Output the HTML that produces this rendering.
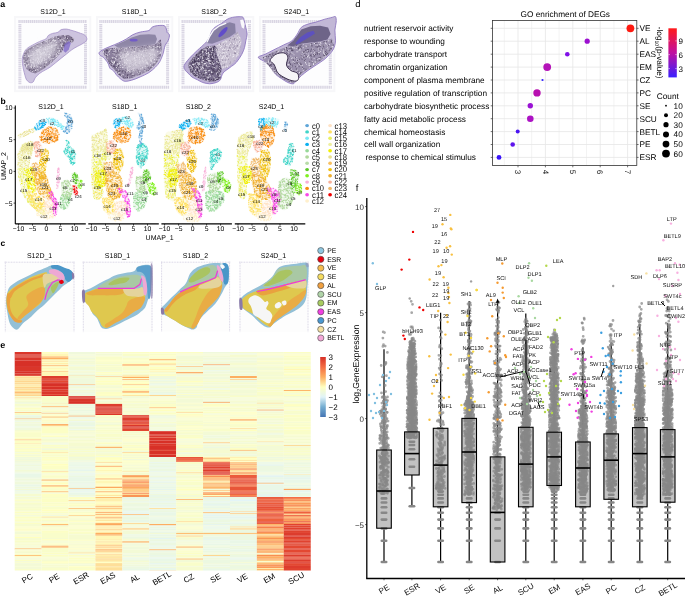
<!DOCTYPE html>
<html><head><meta charset="utf-8"><style>html,body{margin:0;padding:0;background:#fff;overflow:hidden;}svg{display:block;will-change:transform;text-rendering:geometricPrecision;}</style></head>
<body><svg width="685" height="596" viewBox="0 0 685 596" font-family='"Liberation Sans", sans-serif'>
<rect width="685" height="596" fill="#fff"/>
<defs><filter id="soft" x="-20%" y="-20%" width="140%" height="140%"><feGaussianBlur stdDeviation="3"/></filter></defs>
<text x="0.30" y="7.40" font-size="8.8" text-anchor="start" font-weight="bold" fill="#000" >a</text>
<text x="53.00" y="13.80" font-size="7" text-anchor="middle" fill="#000" >S12D_1</text>
<text x="134.50" y="13.80" font-size="7" text-anchor="middle" fill="#000" >S18D_1</text>
<text x="214.00" y="13.80" font-size="7" text-anchor="middle" fill="#000" >S18D_2</text>
<text x="296.50" y="13.80" font-size="7" text-anchor="middle" fill="#000" >S24D_1</text>
<rect x="14" y="16" width="77.3" height="76.2" fill="#f7f7f9"/><rect x="16" y="18" width="73.3" height="72.2" fill="#fdfdfe"/><path d="M18.4 21.4H87.0M18.4 87.2H87.0" stroke="#d9d5e3" stroke-width="3" stroke-dasharray="1.4 0.5" fill="none"/><path d="M19.9 23.9V84.7M85.5 23.9V84.7" stroke="#d9d5e3" stroke-width="3" stroke-dasharray="1.4 0.5" fill="none"/>
<rect x="96" y="16" width="77.30000000000001" height="76.2" fill="#f7f7f9"/><rect x="98" y="18" width="73.30000000000001" height="72.2" fill="#fdfdfe"/><path d="M99.3 21.4H169.1M99.3 87.2H169.1" stroke="#d9d5e3" stroke-width="3" stroke-dasharray="1.4 0.5" fill="none"/><path d="M100.8 23.9V84.7M167.6 23.9V84.7" stroke="#d9d5e3" stroke-width="3" stroke-dasharray="1.4 0.5" fill="none"/>
<rect x="178.1" y="16" width="76.20000000000002" height="76.2" fill="#f7f7f9"/><rect x="180.1" y="18" width="72.20000000000002" height="72.2" fill="#fdfdfe"/><path d="M181.5 21.4H250.9M181.5 87.2H250.9" stroke="#d9d5e3" stroke-width="3" stroke-dasharray="1.4 0.5" fill="none"/><path d="M183 23.9V84.7M249.4 23.9V84.7" stroke="#d9d5e3" stroke-width="3" stroke-dasharray="1.4 0.5" fill="none"/>
<rect x="258.9" y="16" width="76.5" height="76.2" fill="#f7f7f9"/><rect x="260.9" y="18" width="72.5" height="72.2" fill="#fdfdfe"/><path d="M262.5 21.4H331.8M262.5 87.2H331.8" stroke="#d9d5e3" stroke-width="3" stroke-dasharray="1.4 0.5" fill="none"/><path d="M264 23.9V84.7M330.3 23.9V84.7" stroke="#d9d5e3" stroke-width="3" stroke-dasharray="1.4 0.5" fill="none"/>
<path d="M22.3,58.2 C22.6,56.3 23.6,53.5 24.5,51.8 C25.4,50.1 26.1,49.2 27.7,48.0 C29.3,46.7 32.2,45.3 34.2,44.2 C36.2,43.1 37.6,42.4 39.6,41.5 C41.6,40.6 44.6,39.8 46.1,38.8 C47.5,37.8 47.2,36.5 48.2,35.6 C49.3,34.7 50.9,33.9 52.6,33.4 C54.2,32.9 56.5,33.0 58.0,32.3 C59.4,31.7 59.8,30.2 61.2,29.6 C62.7,29.1 65.0,29.0 66.6,29.1 C68.2,29.2 69.3,29.7 70.9,30.2 C72.6,30.6 74.7,31.2 76.3,31.8 C78.0,32.3 79.4,33.0 80.7,33.4 C81.9,33.9 82.9,33.8 83.9,34.5 C84.9,35.2 86.2,36.6 86.6,37.7 C87.0,38.8 86.9,39.9 86.1,41.0 C85.2,42.0 83.2,43.3 81.7,44.2 C80.3,45.1 79.0,45.5 77.4,46.4 C75.8,47.3 73.8,48.3 72.0,49.6 C70.2,50.9 68.4,52.5 66.6,53.9 C64.8,55.4 63.0,56.8 61.2,58.2 C59.4,59.7 57.6,61.1 55.8,62.6 C54.0,64.0 52.2,65.6 50.4,66.9 C48.6,68.2 46.8,69.1 45.0,70.1 C43.2,71.2 41.2,72.1 39.6,73.4 C38.0,74.6 36.4,76.3 35.3,77.7 C34.2,79.1 34.0,81.2 33.1,82.0 C32.2,82.8 31.0,82.9 29.9,82.6 C28.8,82.2 27.5,81.0 26.6,79.9 C25.8,78.7 25.6,77.3 25.0,75.5 C24.5,73.7 23.8,71.0 23.4,69.1 C23.0,67.1 22.7,65.5 22.5,63.6 C22.4,61.8 22.0,60.2 22.3,58.2Z" fill="#cdc4df"/>
<path d="M22.3,58.2 C22.6,56.3 23.6,53.5 24.5,51.8 C25.4,50.1 26.1,49.2 27.7,48.0 C29.3,46.7 32.2,45.3 34.2,44.2 C36.2,43.1 37.6,42.4 39.6,41.5 C41.6,40.6 44.6,39.8 46.1,38.8 C47.5,37.8 47.2,36.5 48.2,35.6 C49.3,34.7 50.9,33.9 52.6,33.4 C54.2,32.9 56.5,33.0 58.0,32.3 C59.4,31.7 59.8,30.2 61.2,29.6 C62.7,29.1 65.0,29.0 66.6,29.1 C68.2,29.2 69.3,29.7 70.9,30.2 C72.6,30.6 74.7,31.2 76.3,31.8 C78.0,32.3 79.4,33.0 80.7,33.4 C81.9,33.9 82.9,33.8 83.9,34.5 C84.9,35.2 86.2,36.6 86.6,37.7 C87.0,38.8 86.9,39.9 86.1,41.0 C85.2,42.0 83.2,43.3 81.7,44.2 C80.3,45.1 79.0,45.5 77.4,46.4 C75.8,47.3 73.8,48.3 72.0,49.6 C70.2,50.9 68.4,52.5 66.6,53.9 C64.8,55.4 63.0,56.8 61.2,58.2 C59.4,59.7 57.6,61.1 55.8,62.6 C54.0,64.0 52.2,65.6 50.4,66.9 C48.6,68.2 46.8,69.1 45.0,70.1 C43.2,71.2 41.2,72.1 39.6,73.4 C38.0,74.6 36.4,76.3 35.3,77.7 C34.2,79.1 34.0,81.2 33.1,82.0 C32.2,82.8 31.0,82.9 29.9,82.6 C28.8,82.2 27.5,81.0 26.6,79.9 C25.8,78.7 25.6,77.3 25.0,75.5 C24.5,73.7 23.8,71.0 23.4,69.1 C23.0,67.1 22.7,65.5 22.5,63.6 C22.4,61.8 22.0,60.2 22.3,58.2Z" fill="none" stroke="#a592c8" stroke-width="0.8"/>
<polygon points="22.9,57.2 25.6,50.7 32.0,46.4 39.6,43.1 47.2,39.9 54.7,36.6 63.4,35.0 69.9,35.6 74.2,38.8 73.1,42.0 69.9,43.1 65.5,45.3 61.2,52.8 55.8,58.2 50.4,63.6 45.0,68.0 39.6,71.2 35.3,73.4 31.0,72.3 26.6,69.1 23.9,63.6" fill="#8e829e" />
<clipPath id="cl1"><polygon points="22.9,57.2 25.6,50.7 32.0,46.4 39.6,43.1 47.2,39.9 54.7,36.6 63.4,35.0 69.9,35.6 74.2,38.8 73.1,42.0 69.9,43.1 65.5,45.3 61.2,52.8 55.8,58.2 50.4,63.6 45.0,68.0 39.6,71.2 35.3,73.4 31.0,72.3 26.6,69.1 23.9,63.6" fill="#000" /></clipPath><g clip-path="url(#cl1)"><path transform="scale(.1)" fill="none" stroke="#f6f4f8" stroke-width="9" stroke-linecap="round" stroke-opacity="1.0" d="M299 351h0m18 5h0m150-3h0m26 5h0m20 0h0m95-1h0m37-4h0m7 4h0m55 0h0m27-5h0m6 17h0m-7 13h0m-2 17h0m0-13h0m-5-5h0m-50 5h0m-22-7h0m-13 4h0m-12 11h0m-18-2h0m-20-18h0m-8 11h0m-17-15h0m-31 6h0m-1 23h0m-14-16h0m-3-2h0m-12 6h0m0-8h0m-13 5h0m-4-17h0m-1 19h0m-12-3h0m-1-9h0m-18-10h0m-6 25h0m-9-20h0m0-7h0m-11 29h0m-1-23h0m-6 18h0m-17-14h0m-3 3h0m-2 15h0m-29-21h0m-48 0h0m-17 20h0m-14-11h0m-16 14h0m-12-20h0m-1 8h0m-12-8h0m-2 24h0m-16-25h0m-5-9h0m31 56h0m3-7h0m3 16h0m6-8h0m21-13h0m0 24h0m14 6h0m23 0h0m4-9h0m2 6h0m4-15h0m10-5h0m34 12h0m2 10h0m16-6h0m12 8h0m41-27h0m0-9h0m10 12h0m10 21h0m2-13h0m2-16h0m15 5h0m5 22h0m13-6h0m13-19h0m10-5h0m11 9h0m3-6h0m8 0h0m7 20h0m38-21h0m7 27h0m0-20h0m17 28h0m10-32h0m11 3h0m10 8h0m22-9h0m11 2h0m15 10h0m0 14h0m9-32h0m7 8h0m0 24h0m0-18h0m6 22h0m-18 17h0m-12 5h0m-9-15h0m-10-2h0m-6 18h0m-8 9h0m-44-12h0m-1-1h0m-2 3h0m-3 2h0m-1-21h0m-3 25h0m-7-17h0m-12 1h0m0 29h0m-10-28h0m-18-3h0m-1 8h0m-8-6h0m-5 3h0m-20 5h0m-12 16h0m-3-18h0m-3 6h0m-20 1h0m-4-18h0m-16 18h0m-14-18h0m-3 31h0m-36-13h0m-14 10h0m-26-12h0m0 1h0m-11-1h0m-1-11h0m-9-10h0m-23 1h0m-1 34h0m-9-16h0m-5-16h0m-3 6h0m-18 2h0m-9 10h0m-9 14h0m-9-14h0m-11-19h0m-22 31h0m-7-29h0m5 68h0m14-3h0m5 9h0m8-23h0m30 14h0m30 8h0m31-12h0m8 3h0m2-1h0m6-7h0m2 14h0m7-18h0m8 4h0m3 10h0m4-27h0m3 14h0m9 4h0m32-9h0m11 3h0m5-3h0m23-4h0m2 23h0m6-2h0m5-24h0m24 30h0m33-23h0m2 11h0m5-13h0m10 22h0m16-26h0m7 24h0m8-2h0m1-1h0m6-20h0m14 11h0m21-16h0m4 21h0m36-15h0m8-9h0m1 22h0m33 15h0m8-26h0m4 27h0m1-24h0m-2 49h0m-3-8h0m-45-14h0m0 26h0m-6 3h0m-2 3h0m-6-29h0m-3 35h0m-3-28h0m-4 24h0m-7-18h0m-20 5h0m-9 10h0m-16-19h0m-5 1h0m-1-2h0m-13 3h0m-6-14h0m-1 31h0m-2 6h0m-3-37h0m-2 6h0m-10 7h0m-1 25h0m0-14h0m-21-6h0m-33 16h0m-14-10h0m-2-2h0m-14-18h0m-17 30h0m-3-11h0m-12-19h0m-9 5h0m-13-2h0m-9 10h0m-5 6h0m-6-4h0m0-15h0m-8-4h0m-10 4h0m-8 21h0m0-20h0m-4 29h0m-3-30h0m-18 9h0m-17 6h0m-18 15h0m-15 1h0m-20-2h0m-8-16h0m-27 7h0m-4-20h0m-3 40h0m14-3h0m29 3h0m11-3h0m14 34h0m3 1h0m2-9h0m2-6h0m17 14h0m44-16h0m8 18h0m0-9h0m18-19h0m3 1h0m5-4h0m2 21h0m10 3h0m23-3h0m14 7h0m24-21h0m4-6h0m6 1h0m6 19h0m10 11h0m10-14h0m17 1h0m16-15h0m0 13h0m11-20h0m12 13h0m7 23h0m3-18h0m2 17h0m9-28h0m9 22h0m5-31h0m0 4h0m39 4h0m9-3h0m23 7h0m6-10h0m3 23h0m9-22h0m3-4h0m1 0h0m12 14h0m15 0h0m7 29h0m-9 4h0m-5 30h0m-17-6h0m-10-6h0m0-3h0m-11 1h0m-15-22h0m-6 6h0m-4 28h0m-7-33h0m-3 31h0m-1-20h0m-30-11h0m-6 13h0m-3 14h0m-6-27h0m-9 3h0m-3 4h0m-1 27h0m-7-33h0m-2 11h0m-36 3h0m-2 0h0m-20-1h0m-2 14h0m-6-22h0m-6 13h0m-6 13h0m-5-14h0m0-13h0m-34 13h0m-3 5h0m-11 2h0m-6-21h0m-26-1h0m-4 7h0m-12 16h0m-9-12h0m-11 17h0m-4-9h0m-6-9h0m-4-16h0m-13 1h0m-21 29h0m-8-1h0m-1 0h0m-16-6h0m-8-4h0m0-13h0m-24 5h0m-17 4h0m-10 16h0m-3 6h0m-6-2h0m-3-32h0m-2 7h0m-9-9h0m7 58h0m4-1h0m25 8h0m3-11h0m1-9h0m0 9h0m0 17h0m19-30h0m1 5h0m13 19h0m11 12h0m2-29h0m2 19h0m0-17h0m1 29h0m20-7h0m1-4h0m3-18h0m3 12h0m25-6h0m6 13h0m30 7h0m3-2h0m43-23h0m14 10h0m2 17h0m13-5h0m25-3h0m2-22h0m40 31h0m24-27h0m3 1h0m2 1h0m8 18h0m3 0h0m7 5h0m48-34h0m25-1h0m12 14h0m0 5h0m12 13h0m12-3h0m1-20h0m5-7h0m18 9h0m-5 64h0m-20-13h0m-2-24h0m-14 13h0m-20 26h0m-5-24h0m-30 18h0m-35-15h0m-13-5h0m-17 7h0m-14 4h0m-16-19h0m-11 10h0m-1 9h0m-10-22h0m-4 27h0m-22-26h0m-9-2h0m-4 22h0m-13-24h0m-7 9h0m-28 20h0m-22 2h0m-1 3h0m-24-5h0m-3-13h0m-20 1h0m-3 9h0m-26-3h0m-4 12h0m-18-18h0m-6 7h0m-30 14h0m-5-26h0m-9-5h0m-7-4h0m-15 7h0m145 39h0m12-5h0m35 3h0m3-2h0m0 8h0m14-6h0m50 3h0m93-9h0m15 2h0m5 8h0m6-2h0m18-6h0m22-3h0m45 4h0m28 9h0m10-3h0"/><path transform="scale(.1)" fill="none" stroke="#4e425e" stroke-width="9" stroke-linecap="round" stroke-opacity="1.0" d="M250 358h0m138-6h0m47 3h0m9 3h0m25 0h0m1 0h0m42-2h0m14 0h0m10 1h0m46-1h0m49 4h0m45-8h0m9 1h0m48 15h0m-4 20h0m-1 7h0m-6 2h0m-4-5h0m-6-16h0m-13 14h0m-1-20h0m-13 11h0m-10 18h0m-9-36h0m0 12h0m-4 11h0m-54-7h0m-3 6h0m-8-5h0m-6-7h0m-7 22h0m-3-22h0m-2-3h0m-29 18h0m-36-9h0m-5 1h0m-4 8h0m-1-25h0m-2 12h0m-15-9h0m-2 17h0m-32-17h0m-25 26h0m-7 8h0m-1-13h0m-2-13h0m-10 4h0m-2 12h0m-2-8h0m-11-12h0m-8 28h0m-11-38h0m-1 13h0m-14 6h0m-1 17h0m-10-8h0m-8-21h0m-5 12h0m-15 6h0m-15-7h0m-12-15h0m-29 14h0m-17 21h0m-7-35h0m15 41h0m37 19h0m0 5h0m0 2h0m0 6h0m10-30h0m5 19h0m2-3h0m6 12h0m7-9h0m4-7h0m2-13h0m16 2h0m14-6h0m5 36h0m0-30h0m3 32h0m17-5h0m14-18h0m2 7h0m26 6h0m0-3h0m5-11h0m6 1h0m2 17h0m22 5h0m11-4h0m12-8h0m4-26h0m4 33h0m11-16h0m1-2h0m10-12h0m9 33h0m22-8h0m25 5h0m19 6h0m18-12h0m2 3h0m33-2h0m9 10h0m30-36h0m24 14h0m17-16h0m5 19h0m10-11h0m2 59h0m-6-20h0m-5-5h0m-5 21h0m-1-8h0m-17 5h0m-1-2h0m-9 6h0m-6 12h0m-1-19h0m-7 6h0m-7-22h0m-25 27h0m-1-17h0m-1 6h0m-10-17h0m-1 15h0m-11 1h0m-12 17h0m-6-12h0m-9-20h0m-2 37h0m-2-19h0m-6-7h0m-6-12h0m-8 18h0m-7 3h0m-1 5h0m-1 5h0m-12-9h0m-10 13h0m-8-3h0m-32-21h0m-18 3h0m-21 17h0m-11-22h0m-18 17h0m-9 2h0m-3-6h0m-40 14h0m-6-4h0m-3-31h0m0 38h0m-10-19h0m-44 8h0m-25-23h0m-3-3h0m-2 36h0m-17-10h0m-3 9h0m-19-18h0m-9 8h0m-8 27h0m16-4h0m3 13h0m1-6h0m15-9h0m17-1h0m1 33h0m17-31h0m15-7h0m11 20h0m16 4h0m10 10h0m3-16h0m3 19h0m38-35h0m4 23h0m19 12h0m2-6h0m4-14h0m16 6h0m1-4h0m9 17h0m1 1h0m25-14h0m4-14h0m3 10h0m10-5h0m2 12h0m0-14h0m11 19h0m2-24h0m8 17h0m6 11h0m0-25h0m3-4h0m1 4h0m13 21h0m8-12h0m0-7h0m5-12h0m2 17h0m3 12h0m5-25h0m4 14h0m3-5h0m6 22h0m10-20h0m18 15h0m1-20h0m11-2h0m5 7h0m21-2h0m8-3h0m10 2h0m3-5h0m10 12h0m4 9h0m6-29h0m8 16h0m3 18h0m2-22h0m9-2h0m8 18h0m11-23h0m5-1h0m2 69h0m-2-15h0m-11-19h0m-13 35h0m-2-17h0m-3-2h0m-23 14h0m-7 4h0m-2-8h0m-9-14h0m-4 1h0m-12 23h0m-19-5h0m-22 1h0m-32-19h0m-8-12h0m-16 13h0m-1 19h0m-17-20h0m-15 16h0m-2 11h0m-31-39h0m-1 3h0m-2 10h0m-1 1h0m0-8h0m-8 29h0m-16-28h0m-2 31h0m-41-34h0m-24 24h0m-4-16h0m-1-5h0m-3-1h0m-7 29h0m-7 1h0m-10-21h0m-6 8h0m-30-21h0m-51 11h0m-20 0h0m-1-5h0m-8 21h0m33 47h0m2-10h0m5 0h0m0-7h0m5-5h0m8 15h0m19 2h0m2-3h0m2-22h0m9 0h0m23 4h0m0 18h0m10-24h0m5 3h0m13 27h0m16-28h0m23 18h0m4-17h0m11-1h0m1-5h0m2 32h0m21-16h0m18-7h0m44 2h0m14 0h0m18-8h0m6 18h0m10 14h0m2-17h0m0 13h0m18-12h0m8-11h0m6 21h0m10-6h0m6-20h0m7 17h0m0 2h0m19-9h0m1-14h0m46 1h0m0 25h0m11 4h0m1-23h0m6 21h0m3-20h0m8 14h0m7 12h0m4-12h0m9 13h0m2 1h0m-3 11h0m-11 0h0m-19 18h0m-7-1h0m-2-19h0m-18 13h0m-2-18h0m-5 29h0m-17 0h0m-13-16h0m-53-10h0m-28 32h0m-16-36h0m-10 13h0m-5 3h0m-5-2h0m-8 12h0m-8-20h0m-12 8h0m-5 12h0m-10-26h0m-36 35h0m-6-21h0m-75-3h0m-17 8h0m-15-15h0m-8 2h0m-2 33h0m-25-20h0m-5-2h0m-20 19h0m-10-15h0m-2-17h0m-18 49h0m57-13h0m27 38h0m0-6h0m1 2h0m16 1h0m12-27h0m24 6h0m12-2h0m2 2h0m14 6h0m7-8h0m27-9h0m3 26h0m2-5h0m16-14h0m34 7h0m49-6h0m17-6h0m3 29h0m36-3h0m7-26h0m2 9h0m1 3h0m5 10h0m7-6h0m4-14h0m12 1h0m14 18h0m6 10h0m17-33h0m17 4h0m0-2h0m24 20h0m23 38h0m-6-9h0m-3 26h0m-38-6h0m-13-18h0m-73 21h0m-3-26h0m-5 13h0m-11-23h0m-7 11h0m-6 24h0m-6-6h0m-5-3h0m-3-8h0m-9-18h0m-19 20h0m-14-11h0m-14 1h0m-16 14h0m-13 11h0m-20-29h0m0 0h0m-23 24h0m-9-1h0m-19 8h0m-4-6h0m-28-29h0m-16 33h0m-1-28h0m-13 6h0m-4 1h0m-4 1h0m-8 6h0m-5 5h0m-4-8h0m-1-11h0m-15 6h0m0 5h0m-1-7h0m-4 15h0m-2-11h0m-7 13h0m-22-11h0m-3-9h0m-1 29h0m-17-20h0m-12 31h0m21 2h0m30-8h0m6 4h0m15 6h0m79-6h0m3-4h0m45 7h0m15-3h0m28 3h0m16-9h0m3 10h0m50-5h0m10-3h0m130 5h0m30-5h0m24 9h0"/></g>
<path d="M28.8,51.8 C30.2,48.9 34.6,47.8 37.4,46.4 C40.3,44.9 43.4,44.1 46.1,43.1 C48.8,42.1 51.5,40.8 53.6,40.4 C55.8,40.1 58.5,39.4 59.1,41.0 C59.6,42.5 58.0,47.1 56.9,49.6 C55.8,52.1 54.4,54.1 52.6,56.1 C50.8,58.1 48.2,59.9 46.1,61.5 C43.9,63.1 41.8,64.7 39.6,65.8 C37.4,66.9 34.9,68.3 33.1,68.0 C31.3,67.6 29.5,66.4 28.8,63.6 C28.1,60.9 27.4,54.6 28.8,51.8Z" fill="#e4e0ea" fill-opacity="0.8" filter="url(#soft)"/>
<polygon points="64.5,44.2 68.8,41.0 70.9,43.1 68.8,49.6 65.5,52.8 63.4,50.7" fill="#7d68c8" fill-opacity="0.75"/>
<path d="M99.2,52.6 C99.7,51.6 101.5,50.5 103.5,49.4 C105.5,48.3 108.5,47.2 111.0,46.1 C113.6,45.1 116.1,44.1 118.6,42.9 C121.1,41.7 123.8,40.5 126.2,39.1 C128.5,37.8 130.3,36.0 132.6,34.8 C135.0,33.6 137.5,32.8 140.2,32.1 C142.9,31.4 146.9,31.3 148.9,30.5 C150.8,29.7 150.7,28.1 152.1,27.2 C153.5,26.4 155.5,25.9 157.5,25.6 C159.5,25.4 162.5,25.2 164.0,25.6 C165.4,26.1 165.6,27.2 166.1,28.3 C166.7,29.5 166.7,31.6 167.2,32.6 C167.8,33.7 169.2,33.5 169.4,34.8 C169.6,36.1 169.0,38.4 168.3,40.2 C167.6,42.0 166.0,43.3 165.1,45.6 C164.2,47.9 163.8,51.5 162.9,54.2 C162.0,56.9 160.9,59.6 159.7,61.8 C158.4,64.0 157.1,65.4 155.3,67.2 C153.5,69.0 151.4,71.0 148.9,72.6 C146.3,74.2 143.1,75.7 140.2,76.9 C137.3,78.2 134.1,79.5 131.6,80.2 C129.0,80.9 126.9,81.4 125.1,81.3 C123.3,81.1 122.2,80.2 120.8,79.1 C119.3,78.0 117.7,76.2 116.4,74.8 C115.2,73.3 114.3,71.5 113.2,70.5 C112.1,69.4 110.9,69.6 110.0,68.3 C109.1,67.0 108.9,64.7 107.8,62.9 C106.7,61.1 104.7,58.7 103.5,57.5 C102.2,56.2 101.0,56.1 100.2,55.3 C99.5,54.5 98.6,53.6 99.2,52.6Z" fill="#c8bfda"/>
<path d="M99.2,52.6 C99.7,51.6 101.5,50.5 103.5,49.4 C105.5,48.3 108.5,47.2 111.0,46.1 C113.6,45.1 116.1,44.1 118.6,42.9 C121.1,41.7 123.8,40.5 126.2,39.1 C128.5,37.8 130.3,36.0 132.6,34.8 C135.0,33.6 137.5,32.8 140.2,32.1 C142.9,31.4 146.9,31.3 148.9,30.5 C150.8,29.7 150.7,28.1 152.1,27.2 C153.5,26.4 155.5,25.9 157.5,25.6 C159.5,25.4 162.5,25.2 164.0,25.6 C165.4,26.1 165.6,27.2 166.1,28.3 C166.7,29.5 166.7,31.6 167.2,32.6 C167.8,33.7 169.2,33.5 169.4,34.8 C169.6,36.1 169.0,38.4 168.3,40.2 C167.6,42.0 166.0,43.3 165.1,45.6 C164.2,47.9 163.8,51.5 162.9,54.2 C162.0,56.9 160.9,59.6 159.7,61.8 C158.4,64.0 157.1,65.4 155.3,67.2 C153.5,69.0 151.4,71.0 148.9,72.6 C146.3,74.2 143.1,75.7 140.2,76.9 C137.3,78.2 134.1,79.5 131.6,80.2 C129.0,80.9 126.9,81.4 125.1,81.3 C123.3,81.1 122.2,80.2 120.8,79.1 C119.3,78.0 117.7,76.2 116.4,74.8 C115.2,73.3 114.3,71.5 113.2,70.5 C112.1,69.4 110.9,69.6 110.0,68.3 C109.1,67.0 108.9,64.7 107.8,62.9 C106.7,61.1 104.7,58.7 103.5,57.5 C102.2,56.2 101.0,56.1 100.2,55.3 C99.5,54.5 98.6,53.6 99.2,52.6Z" fill="none" stroke="#8f78c0" stroke-width="0.9"/>
<polygon points="114.3,45.6 124.0,41.3 131.6,37.5 140.2,34.8 148.9,34.3 155.3,34.8 157.0,39.1 155.3,44.0 148.9,45.6 140.2,46.1 129.4,46.7 118.6,47.8" fill="#8e86a6" />
<polygon points="102.4,51.0 107.8,48.3 118.6,47.8 129.4,47.2 142.4,46.1 155.3,44.5 160.7,39.1 161.8,47.8 160.7,56.4 155.3,65.1 148.9,70.5 140.2,74.8 131.6,78.0 124.0,79.1 118.6,74.8 114.3,69.4 110.0,65.1 105.6,57.5" fill="#8a7e9c" />
<clipPath id="cl2"><polygon points="102.4,51.0 107.8,48.3 118.6,47.8 129.4,47.2 142.4,46.1 155.3,44.5 160.7,39.1 161.8,47.8 160.7,56.4 155.3,65.1 148.9,70.5 140.2,74.8 131.6,78.0 124.0,79.1 118.6,74.8 114.3,69.4 110.0,65.1 105.6,57.5" fill="#000" /></clipPath><g clip-path="url(#cl2)"><path transform="scale(.1)" fill="none" stroke="#f6f4f8" stroke-width="9" stroke-linecap="round" stroke-opacity="1.0" d="M1611 396h0m-58-5h0m-59 9h0m-90-7h0m-51-1h0m-17 6h0m-19 0h0m-99 0h0m-117 0h0m-5 0h0m-24-7h0m-20 7h0m-20 12h0m3-4h0m1 22h0m16 2h0m29-8h0m0-13h0m6 19h0m2-11h0m18-5h0m39 9h0m6-1h0m13 4h0m1-9h0m20-6h0m8 13h0m5-4h0m2-6h0m37 8h0m8-1h0m3-2h0m42 9h0m19-5h0m1 13h0m1-30h0m12 1h0m8 22h0m1 12h0m1-15h0m5-8h0m2 5h0m2-2h0m3-14h0m4 9h0m8-10h0m26 14h0m3-10h0m6-1h0m29 21h0m10-26h0m6 21h0m5-3h0m9-5h0m3 3h0m10 4h0m13 11h0m2-5h0m4-21h0m17 15h0m8 1h0m20 1h0m5 1h0m22-24h0m15 21h0m6-19h0m8 28h0m13 3h0m13-7h0m-10 41h0m-5 5h0m-9-10h0m-6-21h0m-6 25h0m-2 2h0m-5 4h0m-13 5h0m-12-9h0m-7-2h0m-20-20h0m-1 28h0m-5-4h0m-15-5h0m0-20h0m-46 1h0m-6 8h0m-12-2h0m-9 24h0m-53-36h0m-7 33h0m-5-22h0m-6-10h0m-3 10h0m-5 1h0m-2 25h0m-24-15h0m-22 12h0m-23 2h0m-6-18h0m-2 4h0m0-20h0m-1 5h0m-32-2h0m-5 12h0m-27-6h0m-41 6h0m-1 2h0m-15-4h0m-5 8h0m-20-15h0m-2-9h0m-6 26h0m-35 12h0m-1-31h0m-18 30h0m-16-2h0m-7-12h0m-4 19h0m10 32h0m29-30h0m22 4h0m5 28h0m6-10h0m5-2h0m4-9h0m28-6h0m3 26h0m4-24h0m8 22h0m2-12h0m3-16h0m22 31h0m1-33h0m4 18h0m12-12h0m7 0h0m8-5h0m36 7h0m3 18h0m9-22h0m8 1h0m11 29h0m31-27h0m10 14h0m21 12h0m6-6h0m4 10h0m2-22h0m6-10h0m22 2h0m4-3h0m11 22h0m6 5h0m2-14h0m20 17h0m15-15h0m18-13h0m1 16h0m11 12h0m2-18h0m32-16h0m7 9h0m9 10h0m9-9h0m5 14h0m2-15h0m7-4h0m36 30h0m2-3h0m22-3h0m5-16h0m5 37h0m-5-3h0m-3-4h0m-10 12h0m-44 19h0m-6-13h0m-19 15h0m-2-16h0m-14 8h0m-6 5h0m-3-21h0m-34-2h0m-10-7h0m-24 28h0m-1-7h0m-14-4h0m-3 4h0m-23-14h0m-3 18h0m-24 8h0m-15-5h0m-3-27h0m-3-4h0m-21 1h0m-8 23h0m-26-5h0m0-1h0m-10 2h0m0 4h0m-6-22h0m-9 14h0m0-4h0m-2 22h0m-30-8h0m-1-27h0m-18 2h0m-18 29h0m-3-6h0m-22-10h0m-6-14h0m-7 12h0m-11 17h0m-5-13h0m-14-6h0m-28 8h0m-12-20h0m-8 35h0m-7-11h0m-14-4h0m-10 15h0m-10-35h0m-1 0h0m-11 5h0m24 68h0m2-33h0m4 8h0m24 12h0m32 9h0m10-13h0m0-3h0m7 7h0m13-5h0m14 9h0m4 15h0m5-37h0m8 33h0m19-8h0m17-23h0m10 18h0m4 6h0m7-11h0m0-16h0m5 5h0m8 3h0m2 19h0m9-19h0m7-5h0m7 30h0m5-34h0m60 29h0m13-13h0m2 9h0m22-10h0m3-6h0m22 4h0m3 19h0m28-12h0m10-12h0m4-4h0m25 34h0m34-33h0m8 24h0m4-12h0m18 4h0m12-6h0m6 19h0m2 2h0m21-5h0m2-19h0m13 25h0m18-19h0m6 9h0m5 27h0m-22 13h0m-3 9h0m-14 2h0m-9-7h0m-2 4h0m-7-9h0m-9-3h0m-15 0h0m-1 15h0m-13-25h0m-1-13h0m-4 8h0m-5-3h0m-18 5h0m-10 23h0m-4 5h0m-3-13h0m-8-3h0m-3 10h0m-3-31h0m-24 17h0m-4-5h0m-3-9h0m-27 12h0m-7 15h0m-34-2h0m-2-27h0m-6 25h0m-10-26h0m-33 8h0m-9 28h0m-8-36h0m-15 3h0m-10 29h0m-7-11h0m-10-15h0m-2 22h0m-3-7h0m-43-9h0m-4 19h0m-4 0h0m-19 6h0m-24-22h0m-3 7h0m-2-12h0m-2 16h0m-1-5h0m-1-10h0m-3 23h0m-1-7h0m-13-3h0m-4-6h0m-3-11h0m-1 13h0m-14 11h0m-31-29h0m-42 67h0m31 6h0m8 0h0m9-19h0m7 4h0m45-16h0m36 12h0m0 17h0m8-25h0m8 18h0m0-27h0m16 31h0m5 3h0m5-21h0m17-11h0m3 32h0m3-1h0m13-20h0m48 10h0m12 6h0m24-7h0m13-8h0m7-11h0m12 12h0m3-9h0m31 1h0m10 11h0m22 16h0m27-9h0m22-1h0m8-15h0m20 2h0m2-10h0m23 22h0m21-4h0m6 16h0m5-34h0m0 15h0m15 4h0m38 19h0m-7 30h0m-5-27h0m-4 12h0m-1 25h0m-16-8h0m-7-18h0m-3 13h0m-27 11h0m-6-7h0m-30 6h0m-23-20h0m-21 21h0m-11-9h0m-2-25h0m-3 23h0m-25-19h0m-14 1h0m-8 26h0m-20-26h0m-32 23h0m-2-20h0m-10 9h0m-4-15h0m-20 9h0m-7-6h0m-2 31h0m-4-21h0m-5 15h0m-8-10h0m-7 7h0m-3-31h0m0 29h0m-1-13h0m-10 23h0m-33-1h0m-24-19h0m-5-18h0m-16 19h0m-33 15h0m-9-11h0m-15-24h0m-13 26h0m-18-6h0m-2-14h0m-7-5h0m-30 26h0m-5 4h0m-1-14h0m-15 32h0m6-1h0m19 13h0m24-7h0m19-5h0m6 8h0m4-1h0m34 23h0m12-38h0m1 17h0m3-16h0m2 17h0m17-13h0m3 6h0m3-5h0m9 2h0m17 28h0m4-14h0m12 4h0m70 1h0m7-4h0m12-22h0m6 19h0m1-11h0m2 14h0m49-19h0m9 12h0m4-13h0m19 7h0m32 6h0m1-1h0m8 10h0m1 13h0m17-13h0m11-25h0m3 15h0m0-12h0m10 28h0m6-13h0m43 0h0m12-17h0m12 21h0m3 15h0m8 0h0m13-32h0m16 26h0m2-4h0m3-26h0m-14 65h0m-5-6h0m-18 1h0m-27-3h0m-10-12h0m-49 6h0m0-11h0m-19 26h0m-7-19h0m-26 9h0m-39 10h0m-32-5h0m-3-21h0m-9 15h0m-3-15h0m-23 2h0m-40 20h0m-3-13h0m-32-1h0m-34 18h0m-5-11h0m-9 12h0m-2-1h0m-64-23h0m-6 19h0m-1-21h0m-7 25h0m-1-18h0m-2-8h0m-5 18h0m-12 3h0m-21-19h0m-10-1h0m-37 3h0"/><path transform="scale(.1)" fill="none" stroke="#443858" stroke-width="9" stroke-linecap="round" stroke-opacity="1.0" d="M1421 394h0m-114 5h0m-128-3h0m0 2h0m-9-3h0m-1 1h0m-21 3h0m-11-4h0m-104 44h0m23-33h0m8 26h0m2-5h0m8-21h0m15 23h0m12 3h0m71-13h0m21 13h0m1-7h0m19-24h0m7 14h0m30 7h0m28-5h0m15 13h0m2-27h0m41 15h0m33 2h0m14 7h0m11 11h0m11-7h0m4-5h0m5-17h0m3 22h0m12-2h0m3-24h0m0-3h0m12 27h0m2-1h0m24 1h0m3 6h0m8-33h0m12 8h0m0 25h0m3-20h0m2 6h0m2-12h0m2 28h0m2-33h0m20 11h0m12-5h0m2-9h0m15 37h0m23-37h0m12 5h0m14 31h0m3-31h0m13 34h0m-12 13h0m-22 5h0m0-17h0m-1 38h0m-12-1h0m-13-32h0m-1 14h0m-6 8h0m-22 10h0m-1-1h0m-11-7h0m-42-15h0m-4-14h0m-5 31h0m-19 0h0m-22-1h0m-3-4h0m-10-15h0m-10 5h0m-13 19h0m-10-33h0m-13 9h0m-3 14h0m-19 11h0m-9-33h0m-9 34h0m-7-28h0m-8 4h0m-14-7h0m-4 18h0m-11-2h0m0 12h0m-4-9h0m-7-24h0m-16 0h0m-8 7h0m-5 16h0m-19-24h0m-1 8h0m-6 26h0m-11-6h0m-15-14h0m-13-4h0m-1 2h0m-5 16h0m-20-8h0m-2-5h0m-5 24h0m-4-11h0m-4-17h0m-15 21h0m-2-8h0m-29-1h0m-7 15h0m-2-6h0m-30-11h0m-7 9h0m-4-23h0m-12 33h0m6 8h0m6-2h0m7 29h0m11-27h0m4 12h0m7 7h0m2-6h0m1 8h0m37-4h0m18-24h0m49 29h0m0-3h0m2 9h0m16-13h0m3 15h0m6-36h0m6 27h0m2-12h0m18 17h0m26-15h0m61 6h0m27-2h0m1-2h0m5-3h0m20 13h0m4-21h0m3 21h0m3 3h0m8-25h0m11 22h0m10-18h0m0 7h0m7-14h0m7 5h0m20 1h0m2 21h0m14-16h0m10 17h0m1 3h0m7-31h0m3 0h0m23-3h0m17-1h0m31-1h0m5 6h0m2 0h0m29 0h0m5 11h0m19-5h0m8 62h0m-3-21h0m-7 11h0m-1 11h0m-13-9h0m-5 12h0m0-5h0m-61 1h0m-32 0h0m-5-6h0m-19-9h0m-10 0h0m-9-14h0m-3 10h0m-21 11h0m-7 3h0m-48 4h0m-24-9h0m-1-18h0m-15 28h0m-4-13h0m-19 9h0m-6-19h0m-9 15h0m-33-25h0m-7 3h0m-5 9h0m-4-5h0m-4-5h0m-1-1h0m-20 2h0m-8 18h0m-24 12h0m0-17h0m-3-11h0m-9 2h0m-8-3h0m-1 4h0m-3 5h0m-12-2h0m-13-7h0m-16 2h0m-61 3h0m-3 25h0m-15-5h0m-3 25h0m9 15h0m57 1h0m4-13h0m17 13h0m16-33h0m29 28h0m1-17h0m13 9h0m1-13h0m2 0h0m9 28h0m0 5h0m3-2h0m3 2h0m18-5h0m4-31h0m1 21h0m14-20h0m4 20h0m0-24h0m7 27h0m22-19h0m13-4h0m74 19h0m19 4h0m24-4h0m1 12h0m12-32h0m7 1h0m9 11h0m8 16h0m13-19h0m2 7h0m7 1h0m1 11h0m4-21h0m16-2h0m7 12h0m9-14h0m10-5h0m13 38h0m13-30h0m23 10h0m14-16h0m2 23h0m16-1h0m15-7h0m1 44h0m-24 8h0m0-1h0m-15-10h0m-1-2h0m-3-1h0m-4 23h0m-7-10h0m-19 10h0m-32-8h0m-15-24h0m0 4h0m-6 6h0m-3-15h0m-10 2h0m-39 4h0m-66 27h0m-25-11h0m-7-23h0m-9 33h0m-1-19h0m-10-6h0m-83 20h0m-60-5h0m-12-6h0m0 15h0m-5-11h0m-2 15h0m-5-37h0m-34 29h0m-3-1h0m-8-7h0m-9 13h0m-3-24h0m-17 19h0m-11-2h0m-10 6h0m-18-1h0m-8 22h0m16-9h0m4-4h0m1 5h0m13 14h0m14 7h0m23 3h0m4 9h0m11-25h0m7 20h0m16-13h0m6 3h0m1-13h0m8 14h0m0 12h0m17-16h0m8 11h0m9-17h0m1 2h0m3 7h0m10 14h0m44-31h0m14 17h0m13-5h0m19-18h0m16 10h0m0 25h0m4-31h0m11 18h0m3-7h0m1 13h0m17-6h0m4-14h0m3 3h0m11 8h0m12-20h0m16 5h0m8 1h0m5 10h0m9 14h0m11-27h0m47 9h0m6 6h0m7 15h0m1-13h0m4 16h0m23-2h0m13 2h0m2-26h0m16-7h0m1 14h0m11 11h0m37-16h0m8 13h0m4-25h0m0 28h0m4 13h0m-2 16h0m-2-8h0m-8 28h0m-22-7h0m-4 2h0m-6-27h0m-27 34h0m-5-26h0m0-6h0m-11 6h0m-17-5h0m-10 1h0m-1 13h0m-2 5h0m-19 2h0m-23-12h0m-1-10h0m-60 22h0m-3-5h0m-4-15h0m-4 4h0m-2 1h0m-20 18h0m-4-17h0m-33 10h0m-6-14h0m-24 23h0m-15-14h0m-12-7h0m-7 18h0m-12-5h0m-8 11h0m-1-8h0m-6 9h0m0-11h0m-13-21h0m-3 16h0m-10 7h0m-6 2h0m-21-8h0m-16 10h0m-21-16h0m-18-4h0m-2 19h0m-7-5h0m-11-23h0m-6 18h0m0-18h0m-3 24h0m-11-4h0m-9-8h0m-3-12h0m-3 21h0m-13-21h0m-8 29h0m-13-29h0m9 65h0m15 8h0m21-24h0m7 10h0m10-9h0m6 14h0m1-9h0m3-18h0m9 38h0m13-39h0m7 9h0m9 12h0m1 10h0m17-10h0m5 12h0m9-19h0m13-13h0m10 23h0m1 2h0m7-7h0m5 10h0m48-10h0m2-19h0m4 1h0m1 0h0m15 28h0m1 3h0m7-7h0m19 0h0m4 2h0m4-12h0m5-13h0m3 16h0m5 20h0m5-31h0m2 30h0m13-5h0m45-29h0m7 18h0m2 18h0m5-35h0m7 14h0m5 14h0m21-11h0m39 18h0m18-27h0m12 1h0m11-13h0m47 0h0m23 24h0m11 14h0m9-26h0m12 28h0m-3 24h0m-15-15h0m-6 19h0m-1-6h0m-10 1h0m-22-2h0m-8 0h0m-11 2h0m-31 6h0m-2-22h0m-2 12h0m-28 7h0m-12-1h0m-6-8h0m-12-2h0m-8-7h0m-8-1h0m-43 22h0m-13-15h0m-21 13h0m-21-5h0m-11-3h0m-19 6h0m-7-3h0m-19-10h0m-1 5h0m-19-5h0m-19-1h0m-43-2h0m-10 11h0m-8 10h0m-6-18h0m-4-10h0m-46-1h0m-34 2h0m-16 0h0m-5 21h0m-7-2h0m-20-6h0"/></g>
<path d="M118.6,51.0 C120.4,49.9 125.4,50.3 129.4,49.9 C133.4,49.6 138.1,49.4 142.4,48.8 C146.7,48.3 152.6,46.3 155.3,46.7 C158.0,47.0 158.2,49.0 158.6,51.0 C158.9,53.0 158.8,56.2 157.5,58.6 C156.2,60.9 153.5,63.3 151.0,65.1 C148.5,66.9 145.4,68.3 142.4,69.4 C139.3,70.5 135.5,71.5 132.6,71.5 C129.8,71.5 127.1,70.8 125.1,69.4 C123.1,67.9 121.8,65.1 120.8,62.9 C119.7,60.7 119.0,58.4 118.6,56.4 C118.2,54.4 116.8,52.1 118.6,51.0Z" fill="#e4e0ea" fill-opacity="0.75" filter="url(#soft)"/>
<ellipse cx="133.7" cy="40.2" rx="4" ry="1.4" fill="#6a50d0" fill-opacity="0.8"/>
<path d="M184.1,65.7 C184.7,63.7 187.2,60.9 189.4,58.3 C191.7,55.7 194.8,52.8 197.5,50.2 C200.2,47.7 203.5,45.1 205.5,42.9 C207.5,40.6 208.6,38.7 209.6,36.8 C210.6,34.9 210.7,33.0 211.6,31.4 C212.5,29.9 213.2,28.8 214.9,27.4 C216.6,26.1 219.6,24.7 221.6,23.4 C223.7,22.1 225.2,20.4 227.0,19.4 C228.8,18.4 230.4,17.8 232.4,17.4 C234.4,16.9 237.3,16.7 239.1,16.7 C240.9,16.7 242.2,16.5 243.1,17.4 C244.0,18.3 244.0,20.4 244.5,22.1 C244.9,23.7 245.4,25.4 245.8,27.4 C246.2,29.4 247.1,31.9 247.1,34.1 C247.1,36.4 246.2,38.6 245.8,40.8 C245.4,43.1 245.1,45.3 244.5,47.6 C243.8,49.8 243.1,51.8 241.8,54.3 C240.4,56.7 238.4,60.1 236.4,62.3 C234.4,64.6 231.9,65.9 229.7,67.7 C227.5,69.5 224.5,71.0 223.0,73.1 C221.4,75.1 221.4,78.2 220.3,79.8 C219.2,81.3 218.1,81.8 216.3,82.5 C214.5,83.1 211.8,83.8 209.6,83.8 C207.3,83.8 204.9,83.1 202.8,82.5 C200.8,81.8 199.3,80.7 197.5,79.8 C195.7,78.9 193.7,78.2 192.1,77.1 C190.5,76.0 189.2,74.2 188.1,73.1 C187.0,71.9 186.1,71.6 185.4,70.4 C184.7,69.1 183.4,67.7 184.1,65.7Z" fill="#bcb0d4"/>
<path d="M184.1,65.7 C184.7,63.7 187.2,60.9 189.4,58.3 C191.7,55.7 194.8,52.8 197.5,50.2 C200.2,47.7 203.5,45.1 205.5,42.9 C207.5,40.6 208.6,38.7 209.6,36.8 C210.6,34.9 210.7,33.0 211.6,31.4 C212.5,29.9 213.2,28.8 214.9,27.4 C216.6,26.1 219.6,24.7 221.6,23.4 C223.7,22.1 225.2,20.4 227.0,19.4 C228.8,18.4 230.4,17.8 232.4,17.4 C234.4,16.9 237.3,16.7 239.1,16.7 C240.9,16.7 242.2,16.5 243.1,17.4 C244.0,18.3 244.0,20.4 244.5,22.1 C244.9,23.7 245.4,25.4 245.8,27.4 C246.2,29.4 247.1,31.9 247.1,34.1 C247.1,36.4 246.2,38.6 245.8,40.8 C245.4,43.1 245.1,45.3 244.5,47.6 C243.8,49.8 243.1,51.8 241.8,54.3 C240.4,56.7 238.4,60.1 236.4,62.3 C234.4,64.6 231.9,65.9 229.7,67.7 C227.5,69.5 224.5,71.0 223.0,73.1 C221.4,75.1 221.4,78.2 220.3,79.8 C219.2,81.3 218.1,81.8 216.3,82.5 C214.5,83.1 211.8,83.8 209.6,83.8 C207.3,83.8 204.9,83.1 202.8,82.5 C200.8,81.8 199.3,80.7 197.5,79.8 C195.7,78.9 193.7,78.2 192.1,77.1 C190.5,76.0 189.2,74.2 188.1,73.1 C187.0,71.9 186.1,71.6 185.4,70.4 C184.7,69.1 183.4,67.7 184.1,65.7Z" fill="none" stroke="#8f78c0" stroke-width="0.9"/>
<polygon points="206.2,42.9 210.2,36.8 213.6,29.4 220.3,25.4 229.7,22.3 235.1,23.7 235.7,32.8 229.7,37.1 220.3,40.8 212.2,43.8" fill="#8880a4" />
<polygon points="214.9,45.5 224.3,40.8 232.4,36.8 237.7,31.4 241.8,40.8 239.1,54.3 233.7,62.3 227.0,67.7 221.6,69.0 219.0,61.0 216.3,52.9" fill="#c8c0d2" />
<clipPath id="cl3"><polygon points="214.9,45.5 224.3,40.8 232.4,36.8 237.7,31.4 241.8,40.8 239.1,54.3 233.7,62.3 227.0,67.7 221.6,69.0 219.0,61.0 216.3,52.9" fill="#000" /></clipPath><g clip-path="url(#cl3)"><path transform="scale(.1)" fill="none" stroke="#f6f4f8" stroke-width="9" stroke-linecap="round" stroke-opacity="1.0" d="M2232 315h0m-29 1h0m-27 0h0m-9 39h0m16 2h0m3-3h0m14-9h0m9 2h0m79-19h0m2 21h0m1-3h0m8 5h0m26-26h0m3 19h0m46 6h0m26 29h0m-1-3h0m-11-14h0m-14 18h0m-12 15h0m-5 3h0m-83-21h0m-26-2h0m-6-8h0m-10-5h0m-19 18h0m-4 2h0m-12-5h0m-5-11h0m-32 1h0m7 54h0m1 13h0m29-6h0m22 1h0m12-8h0m1-1h0m18-3h0m2-9h0m12 12h0m4-7h0m34 24h0m2-13h0m3 14h0m28-3h0m32-4h0m1-10h0m16-2h0m10-12h0m5 26h0m7-6h0m4-4h0m-10 22h0m-6 12h0m-4 14h0m-19 6h0m-14-32h0m-32 15h0m-8-4h0m-18-12h0m-1 0h0m-11 16h0m-17-9h0m-1 6h0m-22-12h0m-31 21h0m-7-20h0m-4 29h0m-5-22h0m-2-8h0m-7 0h0m-12 9h0m-27-8h0m7 40h0m0 25h0m10-23h0m3 9h0m9-3h0m9 22h0m34-21h0m15-7h0m1 1h0m3 25h0m6-19h0m2-5h0m3 28h0m21-25h0m17 4h0m20-12h0m15 12h0m14 13h0m12 3h0m1 6h0m25-31h0m1-3h0m34 2h0m-10 57h0m-14-6h0m-4 10h0m0 9h0m-4-5h0m-1-30h0m-6 16h0m-5 20h0m0-18h0m-29 9h0m-10-4h0m-27 6h0m-4-14h0m-28 3h0m-7-17h0m-15 31h0m-5-23h0m-6-5h0m-6 24h0m-2-23h0m-5 4h0m-10 6h0m-8 17h0m-3-14h0m-4-12h0m-14 27h0m0-11h0m-8 8h0m-30-31h0m33 63h0m14 7h0m1 8h0m0-36h0m21 22h0m7 3h0m0-15h0m7-4h0m0-2h0m14 13h0m10-17h0m9 16h0m8 9h0m12-9h0m38-9h0m13-5h0m2-4h0m25 0h0m10 25h0m4-2h0m10 10h0m0-9h0m3-21h0m5 18h0m2-2h0m14 2h0m3-20h0m2 4h0m-5 58h0m-11-6h0m-2-13h0m-2 14h0m-7 15h0m-4 2h0m-11-34h0m-6 27h0m-11-28h0m-4 25h0m-5-10h0m-3 10h0m-78-14h0m-5 10h0m-13-3h0m-10 20h0m-10-22h0m-11-10h0m-20-1h0m-11 25h0m-4-24h0m-3 12h0m-2 18h0m-4-36h0m-13 3h0m-2 17h0m0-20h0m-3 35h0m-2-35h0m-1 59h0m0 11h0m12-6h0m5-17h0m1 2h0m16 21h0m8-8h0m13-1h0m4-20h0m18 36h0m3-8h0m22-3h0m15-8h0m5 4h0m0 11h0m20-13h0m30-8h0m3-3h0m3 20h0m1-16h0m10-4h0m16 22h0m27-16h0m24 24h0m-119 4h0m-19 0h0m-48 6h0m-8 0h0m-37-8h0"/><path transform="scale(.1)" fill="none" stroke="#8a7e9a" stroke-width="9" stroke-linecap="round" stroke-opacity="1.0" d="M2329 319h0m-170 10h0m2 4h0m21 0h0m16 12h0m10 6h0m28-11h0m27 1h0m2 18h0m27-30h0m0 31h0m10-2h0m25-28h0m10 13h0m6-1h0m7-10h0m6 5h0m4 3h0m10-7h0m1-11h0m8 36h0m35-20h0m-46 58h0m-19-10h0m-1 14h0m-2-7h0m-3-5h0m-11-26h0m-3 34h0m-25-12h0m-47-10h0m-14 9h0m-4-9h0m-3 19h0m-5-11h0m-13-17h0m-14 10h0m-4-9h0m-2 12h0m-22-2h0m-5-1h0m-2-8h0m-8 6h0m24 46h0m13-13h0m5 10h0m4 23h0m2-17h0m2-14h0m83-5h0m17 20h0m86-3h0m10 52h0m-33-13h0m-2-3h0m-3 13h0m-25-7h0m-12 12h0m-10-34h0m-3 17h0m-16-9h0m-3 31h0m-4-7h0m-38-5h0m-5-18h0m-16-7h0m-31 2h0m-35 1h0m-2 55h0m3-7h0m66 20h0m8-32h0m3 32h0m34-9h0m3 0h0m15-20h0m40 9h0m14-11h0m47 33h0m4 2h0m11-18h0m-10 36h0m-4 10h0m-11 1h0m-1-12h0m-36 1h0m-4-7h0m-3 9h0m-3-8h0m-49 12h0m-59 2h0m-17 5h0m-11-10h0m-17 20h0m0-9h0m-14 42h0m1 7h0m20 1h0m24 1h0m44-38h0m6-1h0m13 31h0m97-23h0m23 5h0m-1 59h0m-1 6h0m-1-13h0m-30-2h0m-31-14h0m-36 11h0m-6 16h0m-47-36h0m-25 1h0m-26 17h0m-8 9h0m-4-10h0m-3-1h0m-34-3h0m10 57h0m33-22h0m0-2h0m29 5h0m15-6h0m2 8h0m5-13h0m23 34h0m35-6h0m3 6h0m7 3h0m18-31h0m24 31h0m9-2h0m45 3h0m3-24h0m0-8h0m2 17h0m-6 18h0m-228 3h0m-9 5h0m-23-3h0"/></g>
<polygon points="188.1,63.7 193.4,57.0 200.2,50.2 206.9,46.2 214.9,45.5 217.6,48.9 216.3,54.3 219.0,61.0 221.6,67.7 220.3,78.4 216.3,81.1 209.6,81.8 202.8,79.8 196.1,77.1 190.8,73.1 188.8,67.7" fill="#7a6e8e" />
<clipPath id="cl4"><polygon points="188.1,63.7 193.4,57.0 200.2,50.2 206.9,46.2 214.9,45.5 217.6,48.9 216.3,54.3 219.0,61.0 221.6,67.7 220.3,78.4 216.3,81.1 209.6,81.8 202.8,79.8 196.1,77.1 190.8,73.1 188.8,67.7" fill="#000" /></clipPath><g clip-path="url(#cl4)"><path transform="scale(.1)" fill="none" stroke="#f6f4f8" stroke-width="9" stroke-linecap="round" stroke-opacity="1.0" d="M2213 473h0m-16-17h0m-5 4h0m-4 18h0m-6-17h0m-6 6h0m-39-4h0m-12 2h0m-10 4h0m-12 4h0m-6 2h0m0-8h0m-2 10h0m-6-17h0m-17 14h0m-9-2h0m-17 5h0m-14-8h0m-1-9h0m0 11h0m-15 4h0m-27-11h0m-2 13h0m-22 0h0m-41-17h0m-2 12h0m0 4h0m-12-20h0m-2 18h0m-2-18h0m-10 5h0m-1-2h0m-1 14h0m-8-14h0m-3 41h0m4 14h0m3-15h0m4 17h0m16-30h0m6 5h0m17 15h0m5 9h0m7-35h0m11 29h0m5-9h0m3 3h0m1 14h0m4-36h0m5 37h0m44-37h0m1 17h0m2 14h0m6 2h0m2-17h0m0 14h0m5-7h0m15-8h0m11-5h0m1 7h0m1 9h0m3 5h0m19-24h0m21-4h0m18 19h0m2-1h0m1-11h0m0 8h0m3-15h0m4 18h0m19-8h0m2 3h0m1 2h0m2-16h0m6 30h0m2-13h0m3-7h0m1 7h0m4 18h0m12-6h0m23-6h0m0-10h0m5-9h0m0 33h0m-1 10h0m-5 9h0m-9-14h0m-9 10h0m-1 17h0m-8 1h0m-12-19h0m-5-5h0m-21 11h0m-3 11h0m-4-31h0m-14 37h0m-2-31h0m-2-2h0m0 0h0m-1 24h0m-6 6h0m-4-33h0m-1 25h0m-3-4h0m-7 6h0m0-19h0m-7 25h0m-2-23h0m-3-6h0m-1 16h0m-2-18h0m-2 16h0m-3-17h0m-8 13h0m-2 17h0m0-16h0m-14-11h0m-13 18h0m-1-21h0m-2 37h0m-2-11h0m-1 9h0m-7-30h0m-6 33h0m-8-20h0m0 4h0m-15 4h0m-10-21h0m-5 12h0m-3 18h0m-9-16h0m-18 16h0m-1-31h0m0 19h0m-8 4h0m-3-25h0m-2 27h0m-1-10h0m-14-14h0m-6 0h0m-8 15h0m-1-14h0m-14-2h0m-4 30h0m-3 11h0m10 8h0m3 1h0m3 23h0m1-32h0m0 25h0m6 1h0m12-29h0m5 4h0m6 14h0m2-8h0m13 17h0m1-25h0m3 21h0m5 0h0m17 7h0m10-9h0m0 1h0m3 4h0m16 8h0m4-30h0m17 1h0m2 9h0m0 22h0m1-14h0m2-15h0m3 8h0m15-4h0m6 1h0m12 22h0m0-29h0m2 29h0m3-24h0m8 15h0m2-1h0m7-24h0m1 21h0m8-15h0m28 16h0m4-14h0m0 0h0m5 18h0m2-2h0m4-1h0m11-19h0m4 8h0m7-8h0m2 24h0m2-3h0m11 1h0m17-23h0m3-1h0m14 55h0m-14 2h0m-10 3h0m-5 4h0m-1-1h0m-5-15h0m-3 6h0m-4-6h0m-26 22h0m-2-19h0m-13 16h0m-1-9h0m-2-11h0m-2 26h0m-5-3h0m-4-18h0m-2-11h0m-7 29h0m0 0h0m-3-30h0m-2 15h0m-3-15h0m-2 29h0m-2-15h0m-2-16h0m-3 5h0m-3-6h0m-14 20h0m-11 11h0m-4 2h0m-6-25h0m-5 24h0m-1 0h0m-6-30h0m-4 16h0m-2-18h0m-1 29h0m-5-8h0m-11 2h0m-2 12h0m-3-24h0m-11 13h0m-8-1h0m-1-26h0m0 37h0m-12-6h0m-5-7h0m-3 11h0m-1-30h0m-6 0h0m-7 31h0m-5 0h0m-1 3h0m-18-27h0m-3 3h0m-3 0h0m-4-6h0m-1 1h0m-4 0h0m-13 4h0m-7-11h0m-4 14h0m-5-15h0m-1 59h0m2-21h0m5 16h0m9-1h0m9 23h0m3-12h0m2 2h0m10-24h0m4 28h0m1-22h0m4-8h0m1-1h0m3 1h0m5 19h0m15 12h0m2-9h0m9 6h0m3-8h0m1 12h0m1 2h0m1 2h0m3-32h0m4-5h0m3 19h0m9-18h0m1 34h0m4-4h0m1-31h0m2 28h0m7 3h0m5-7h0m7-17h0m2 12h0m0 13h0m5 3h0m2 4h0m8-15h0m1-15h0m0-9h0m2 12h0m21 0h0m6 0h0m2 14h0m8-25h0m12 24h0m10 0h0m31 3h0m3-26h0m7 36h0m3-5h0m25-14h0m3 16h0m8-8h0m15-1h0m5-19h0m15 24h0m-10 16h0m-5-3h0m-7 33h0m0-28h0m0-4h0m-1 7h0m-4 11h0m-12 16h0m-17-38h0m-15 24h0m-4 5h0m-22 8h0m-8-8h0m-14-6h0m-11 2h0m-8-12h0m-7 10h0m-13-8h0m-2 7h0m-3 10h0m-1-20h0m-3-8h0m0 20h0m-7 4h0m-4-27h0m-18 11h0m-2 10h0m-2-20h0m-2 15h0m-9-8h0m-11 27h0m-1-30h0m-2-8h0m0 28h0m-1-3h0m-4-4h0m-29-5h0m-5 7h0m-3 16h0m-2-16h0m-6 0h0m-8-10h0m-2 26h0m0-28h0m-3-11h0m-10 13h0m-4 12h0m-3 8h0m-12-26h0m0 13h0m-1 12h0m-6-21h0m-9-4h0m-1 17h0m15 37h0m3 1h0m1 4h0m5-21h0m0 2h0m5 3h0m2 2h0m3 3h0m4 22h0m4-10h0m16-8h0m10 5h0m1-18h0m5 11h0m11 17h0m0-7h0m7-17h0m3 11h0m9 4h0m1-16h0m5 8h0m10-3h0m0 2h0m8 17h0m19-13h0m0-10h0m2 17h0m3 10h0m5-28h0m1 26h0m1-24h0m11 0h0m3-5h0m6 4h0m2 21h0m2-26h0m18 0h0m6 33h0m7-12h0m6 13h0m15-35h0m2 6h0m4-3h0m5 29h0m18-33h0m3 1h0m13 7h0m5 9h0m5-11h0m1 1h0m6 27h0m7-37h0m6 32h0m9 6h0m1-5h0m2-15h0m4-7h0m2 23h0m3 5h0m2-34h0m-9 57h0m-11 4h0m-3-22h0m-19 21h0m-7 0h0m-3 4h0m-7 2h0m-9-14h0m-6 10h0m-5-15h0m-34-6h0m-11 2h0m-4 9h0m-8-9h0m-1 17h0m-5-8h0m-6 0h0m-5-14h0m-14 30h0m-11-30h0m0 4h0m-5 2h0m-15 26h0m-5-15h0m-8 20h0m-7-7h0m-9-1h0m-6-31h0m-4 22h0m-2 3h0m-6-22h0m-2 5h0m-15 5h0m-5-10h0m-14 35h0m-10-30h0m-10 12h0m-2 9h0m-3-10h0m-13-16h0m-1 24h0m-2-7h0m-2 9h0m-1-8h0m-5 29h0m2 2h0m46-10h0m8-1h0m10 9h0m18-11h0m0 13h0m29-10h0m12 2h0m13 12h0m14-8h0m5-7h0m13 0h0m16 2h0m5-3h0m2 15h0m3-13h0m18 12h0m12-9h0m17 0h0m3-3h0m34 8h0m9-3h0m8-2h0m3-2h0m5 5h0m17 0h0m0-2h0"/><path transform="scale(.1)" fill="none" stroke="#3a2e4c" stroke-width="9" stroke-linecap="round" stroke-opacity="1.0" d="M2210 479h0m-21-13h0m0-7h0m-6 10h0m-7 6h0m-31-11h0m-3 1h0m-6 8h0m-7-8h0m-42 6h0m-22 8h0m-38-16h0m-21 10h0m-3 7h0m-9-16h0m-8 2h0m-14 3h0m-6 11h0m-3 0h0m-33-23h0m-32 16h0m-6-7h0m0 38h0m5 4h0m3 0h0m18 3h0m10 3h0m3-1h0m6-19h0m0 17h0m3 3h0m0-22h0m11-1h0m1 14h0m9-11h0m11 1h0m9 6h0m0 17h0m9-29h0m2 11h0m13-6h0m2-12h0m2 29h0m6-16h0m2 13h0m0-6h0m1-1h0m6-3h0m11 9h0m13 12h0m2-8h0m25-24h0m0 23h0m4 5h0m21 2h0m3-26h0m2 0h0m6-5h0m7 6h0m0 20h0m15-16h0m1-8h0m0 29h0m1-1h0m1-33h0m0 18h0m15-21h0m5 17h0m25 3h0m11 6h0m2 3h0m10 0h0m6-4h0m2-25h0m3 36h0m-1 43h0m-5-26h0m-6 4h0m-3-7h0m-5 5h0m-1 6h0m-6 14h0m-20 2h0m-3-18h0m-3-1h0m-5 19h0m-18-33h0m-9 23h0m-1 9h0m0-20h0m-5 10h0m-2 9h0m-3-35h0m-5 39h0m-6-9h0m-3-1h0m-3 10h0m0-26h0m-1-4h0m-1-3h0m-1 4h0m-24-7h0m-3 21h0m-20 16h0m-9-38h0m-4 24h0m-2-16h0m-6 30h0m-15-18h0m-2 7h0m-2-26h0m-1 34h0m-2-27h0m-9-3h0m-7 14h0m-10-2h0m-1-10h0m0 31h0m-5-10h0m-10-6h0m0-1h0m-2 11h0m-6-24h0m-1 29h0m-1-16h0m-13-21h0m-2 1h0m0 20h0m-3-8h0m-1 7h0m-3 13h0m0-9h0m-1-11h0m-21-13h0m0 10h0m-8 26h0m-2-27h0m-5 15h0m-4 0h0m-1 1h0m-3 3h0m-6 8h0m-2 40h0m1-24h0m8-4h0m5 3h0m0 2h0m0-5h0m17 7h0m7 12h0m3-22h0m3 9h0m12-1h0m6 19h0m2-5h0m13-3h0m4 0h0m16-21h0m3 6h0m1 24h0m5-28h0m16 28h0m15-16h0m9 18h0m4-34h0m2 27h0m3-21h0m2 8h0m6-1h0m3 11h0m2-18h0m4-1h0m7 6h0m2-13h0m0 11h0m3-10h0m35 9h0m4 1h0m5 25h0m1-5h0m7-7h0m1 1h0m2 6h0m3 5h0m4 0h0m3-6h0m2-24h0m0 23h0m1 4h0m4-23h0m19 4h0m1-13h0m0 8h0m10 20h0m5-18h0m2-9h0m2 31h0m2-24h0m2 16h0m3-6h0m2 13h0m2-13h0m3-15h0m9 25h0m3-13h0m4 40h0m-6 10h0m-11-20h0m-9 13h0m0-8h0m-6 22h0m-24-19h0m-17 10h0m-2-7h0m-5-3h0m-3-14h0m-5 32h0m-1-12h0m0 15h0m-1-25h0m-11 15h0m-5 0h0m-27-12h0m-6-6h0m-3-3h0m-5-2h0m-4 5h0m-11 0h0m-4 13h0m-5 2h0m-4 17h0m-12-8h0m-11-31h0m0 36h0m-5-35h0m-1 14h0m-2 6h0m-10-10h0m-7-10h0m-1 16h0m-2-6h0m-10-2h0m-1 28h0m-4-35h0m-2 34h0m-2-25h0m-6 3h0m0-6h0m-7 27h0m-1-22h0m-3 9h0m-1-19h0m-1 6h0m-2 4h0m-1 13h0m-9 9h0m-3-16h0m0 0h0m-3-4h0m-4 1h0m-3-12h0m-8 32h0m-9-36h0m-1 15h0m-19 39h0m6 15h0m22 1h0m8-30h0m7 17h0m3 7h0m11 4h0m1 4h0m9-17h0m9 13h0m1-5h0m6-23h0m11 18h0m1-6h0m11 12h0m6 10h0m5 2h0m0-19h0m13-16h0m1 14h0m0 11h0m24 0h0m6-11h0m2 13h0m6 1h0m12 8h0m14-29h0m25 27h0m1-12h0m20-7h0m6-2h0m9 11h0m8 1h0m5-15h0m19-6h0m8 26h0m9-30h0m1 25h0m4-26h0m1 15h0m6 18h0m4-22h0m14 39h0m-5 23h0m-2-3h0m0-24h0m-5-2h0m-12 15h0m-1-3h0m-1-10h0m-3 4h0m-7 27h0m-3-11h0m-4-16h0m-11 20h0m-9 9h0m-6-17h0m-1 8h0m-4 0h0m-1-24h0m-1 29h0m-4-14h0m-4 1h0m0-15h0m-3 29h0m-7-15h0m-1-8h0m-6-13h0m-4 4h0m-8 34h0m-12-39h0m-10 15h0m-4-1h0m-1 8h0m-24-5h0m-4-7h0m0 24h0m-1-32h0m-30 20h0m-19-17h0m-2 3h0m-13 12h0m-2 13h0m-5-12h0m-1 7h0m0-13h0m-1 9h0m0-23h0m-4 20h0m-14 18h0m-10-18h0m-5-5h0m-4-13h0m-1 7h0m-3 19h0m-1-21h0m-6 32h0m-2-5h0m-5-15h0m-8-6h0m-2 20h0m-1-7h0m-7-11h0m-13-13h0m0 1h0m-1 74h0m0-17h0m11-13h0m7-5h0m7-1h0m5 36h0m0-8h0m9 4h0m7 4h0m3-22h0m3 12h0m4 4h0m1-16h0m4 23h0m5 1h0m2-19h0m0 8h0m7 10h0m3-8h0m2 6h0m4-22h0m14-5h0m2 15h0m2-21h0m0 16h0m1-9h0m11 22h0m6-23h0m6 8h0m9-9h0m6 14h0m2 15h0m2-8h0m0-21h0m3 14h0m5 10h0m0-5h0m0-19h0m7-8h0m19 31h0m4 7h0m9 0h0m2-32h0m6 9h0m2-8h0m21 7h0m9 6h0m3 12h0m5-15h0m2-8h0m3 9h0m12-14h0m8 6h0m17-11h0m6 31h0m0-14h0m4 2h0m2 12h0m3 1h0m6-28h0m10 6h0m13 17h0m1 15h0m-2 33h0m-4-16h0m-1-6h0m-1 19h0m-3-8h0m-3-2h0m-9 0h0m0 14h0m-3-20h0m-6 23h0m-3-34h0m-1 28h0m0 2h0m-10-13h0m-1 14h0m-18-16h0m-12 13h0m-2-12h0m-20 13h0m-20-5h0m-4-29h0m-1 35h0m-4 0h0m-14-8h0m-6 6h0m-5-16h0m-1-7h0m-6 26h0m-9-19h0m-12-8h0m-2 5h0m-18 3h0m-8 6h0m-7 12h0m-7-7h0m-6-15h0m-1-4h0m-16 29h0m-22-24h0m-4-1h0m-13-5h0m0-3h0m-11 11h0m-1-12h0m-14 23h0m-19 19h0m17-3h0m4 12h0m2-13h0m5 16h0m1-9h0m8-3h0m12-1h0m18-2h0m32 6h0m11 5h0m11-9h0m3-4h0m17 12h0m25-9h0m18 5h0m29 6h0m11-11h0m15 0h0m9 2h0m2-5h0m6 14h0m16-5h0"/></g>
<ellipse cx="223.0" cy="32.1" rx="6.5" ry="2.2" transform="rotate(-48 223.0 32.1)" fill="#5a44d0" fill-opacity="0.85"/>
<path d="M207.1,41.9 L209.8,36.1 L213.6,30.1 L219.6,25.8 L225.7,23.4" fill="none" stroke="#fafafc" stroke-width="1.3" stroke-linecap="round"/>
<polygon points="240.2,20.0 243.1,19.4 244.7,24.1 243.8,28.8 241.8,27.4 240.7,23.4" fill="#fafafc" />
<path d="M258.3,57.0 C259.0,56.1 262.6,55.4 265.1,54.3 C267.5,53.1 270.0,51.8 273.1,50.2 C276.2,48.7 280.7,46.4 283.8,44.9 C287.0,43.3 289.7,42.6 291.9,40.8 C294.1,39.1 295.7,36.4 297.3,34.1 C298.8,31.9 299.5,29.1 301.3,27.4 C303.1,25.7 305.5,25.0 308.0,24.1 C310.5,23.2 313.4,22.8 316.1,22.1 C318.7,21.3 321.4,20.2 324.1,19.4 C326.8,18.6 330.3,17.8 332.2,17.4 C334.1,16.9 334.9,15.9 335.5,16.7 C336.2,17.5 336.3,19.8 336.2,22.1 C336.1,24.3 335.0,27.0 334.9,30.1 C334.7,33.2 335.7,37.7 335.5,40.8 C335.3,44.0 334.5,46.7 333.5,48.9 C332.5,51.1 331.0,52.5 329.5,54.3 C327.9,56.1 326.4,57.8 324.1,59.6 C321.9,61.4 318.7,63.2 316.1,65.0 C313.4,66.8 310.5,68.6 308.0,70.4 C305.5,72.2 303.3,74.0 301.3,75.7 C299.3,77.5 297.3,79.8 295.9,81.1 C294.6,82.5 294.6,83.6 293.2,83.8 C291.9,84.0 289.9,83.4 287.9,82.5 C285.9,81.6 283.2,79.8 281.2,78.4 C279.1,77.1 277.1,75.7 275.8,74.4 C274.4,73.1 274.0,71.7 273.1,70.4 C272.2,69.0 271.5,67.7 270.4,66.3 C269.3,65.0 268.0,63.4 266.4,62.3 C264.8,61.2 262.4,60.5 261.0,59.6 C259.7,58.7 257.7,57.8 258.3,57.0Z" fill="#c2b8d6"/>
<path d="M258.3,57.0 C259.0,56.1 262.6,55.4 265.1,54.3 C267.5,53.1 270.0,51.8 273.1,50.2 C276.2,48.7 280.7,46.4 283.8,44.9 C287.0,43.3 289.7,42.6 291.9,40.8 C294.1,39.1 295.7,36.4 297.3,34.1 C298.8,31.9 299.5,29.1 301.3,27.4 C303.1,25.7 305.5,25.0 308.0,24.1 C310.5,23.2 313.4,22.8 316.1,22.1 C318.7,21.3 321.4,20.2 324.1,19.4 C326.8,18.6 330.3,17.8 332.2,17.4 C334.1,16.9 334.9,15.9 335.5,16.7 C336.2,17.5 336.3,19.8 336.2,22.1 C336.1,24.3 335.0,27.0 334.9,30.1 C334.7,33.2 335.7,37.7 335.5,40.8 C335.3,44.0 334.5,46.7 333.5,48.9 C332.5,51.1 331.0,52.5 329.5,54.3 C327.9,56.1 326.4,57.8 324.1,59.6 C321.9,61.4 318.7,63.2 316.1,65.0 C313.4,66.8 310.5,68.6 308.0,70.4 C305.5,72.2 303.3,74.0 301.3,75.7 C299.3,77.5 297.3,79.8 295.9,81.1 C294.6,82.5 294.6,83.6 293.2,83.8 C291.9,84.0 289.9,83.4 287.9,82.5 C285.9,81.6 283.2,79.8 281.2,78.4 C279.1,77.1 277.1,75.7 275.8,74.4 C274.4,73.1 274.0,71.7 273.1,70.4 C272.2,69.0 271.5,67.7 270.4,66.3 C269.3,65.0 268.0,63.4 266.4,62.3 C264.8,61.2 262.4,60.5 261.0,59.6 C259.7,58.7 257.7,57.8 258.3,57.0Z" fill="none" stroke="#8f78c0" stroke-width="0.9"/>
<polygon points="262.4,57.6 270.4,53.6 279.8,49.2 287.9,46.5 301.3,44.3 313.4,42.7 324.1,41.1 331.9,38.4 333.8,44.9 329.5,52.9 322.8,59.0 313.4,65.7 304.0,71.7 297.3,78.4 293.2,83.5 287.9,81.8 279.8,77.1 273.1,71.7 269.1,66.3 264.4,61.0" fill="#9c92ae" />
<clipPath id="cl5"><polygon points="262.4,57.6 270.4,53.6 279.8,49.2 287.9,46.5 301.3,44.3 313.4,42.7 324.1,41.1 331.9,38.4 333.8,44.9 329.5,52.9 322.8,59.0 313.4,65.7 304.0,71.7 297.3,78.4 293.2,83.5 287.9,81.8 279.8,77.1 273.1,71.7 269.1,66.3 264.4,61.0" fill="#000" /></clipPath><g clip-path="url(#cl5)"><path transform="scale(.1)" fill="none" stroke="#f6f4f8" stroke-width="9" stroke-linecap="round" stroke-opacity="1.0" d="M3265 388h0m-72 1h0m-33 6h0m-32 5h0m-25-2h0m-36-6h0m-82 7h0m-7-7h0m-22 3h0m-70-2h0m-16-8h0m-19 4h0m-22-3h0m-48 7h0m-12 1h0m-17 5h0m0-4h0m-74-8h0m-12-2h0m-24 23h0m8-2h0m9 5h0m4 0h0m4 26h0m19-34h0m16 35h0m13-18h0m27 15h0m29-19h0m21 11h0m11-5h0m2 16h0m1-23h0m2 15h0m8-7h0m51-10h0m14 4h0m70-16h0m33 1h0m24-1h0m8 35h0m16-18h0m5-6h0m29 8h0m27-13h0m49 28h0m5-1h0m42-10h0m17 2h0m3 8h0m39-32h0m4 25h0m2 9h0m12 4h0m16-32h0m7 0h0m30 12h0m5-3h0m2 48h0m-2 15h0m-4-13h0m-26-20h0m-15 11h0m-2 20h0m-39-25h0m-11 1h0m-21-1h0m-8-7h0m-21 5h0m-17-1h0m-53-2h0m-23 14h0m-18 0h0m-10 0h0m-2 14h0m-19-35h0m-3 36h0m-62-13h0m-34-12h0m-5 27h0m-7-5h0m-26 1h0m-5-17h0m-45 7h0m-9-14h0m-22 8h0m-4 20h0m-15-30h0m-33 24h0m-7-7h0m-4 3h0m-15 10h0m-1-24h0m-2-1h0m-13 17h0m-18 1h0m-3-13h0m-26 19h0m-28-1h0m-19-24h0m-3 10h0m5 52h0m8-26h0m4 5h0m11 8h0m36-9h0m5 15h0m12 2h0m5-3h0m13-7h0m6-19h0m24 21h0m16-16h0m10 24h0m7 5h0m9-15h0m31 15h0m4 1h0m6-9h0m17-14h0m1-10h0m5 19h0m19-22h0m6 26h0m15-3h0m45-23h0m16 6h0m6 32h0m10 0h0m7-20h0m11 1h0m5-12h0m0 13h0m46 17h0m26-9h0m57-20h0m9 13h0m43-18h0m2 16h0m23 16h0m11-24h0m16-3h0m2 22h0m26-20h0m19 2h0m47-9h0m7-2h0m-41 73h0m-15 3h0m-18-21h0m-14 3h0m0 6h0m-13-14h0m-1-9h0m-42 3h0m-7 0h0m-37-2h0m-2 23h0m-5-13h0m-12 19h0m-16-25h0m-28 30h0m-2-17h0m-18-10h0m-19 29h0m-7-29h0m-15-7h0m-5 23h0m-78 2h0m-11-16h0m-15-2h0m-32-2h0m-14 21h0m-35-9h0m-15-4h0m-2 13h0m-8 1h0m-30-27h0m-10 12h0m-103-7h0m-8 21h0m-9 4h0m-8-21h0m-13 22h0m4 16h0m13 10h0m11-3h0m46-1h0m30-15h0m2 29h0m7-22h0m8-5h0m10 14h0m11 18h0m6-16h0m22 4h0m29-11h0m2 27h0m51-21h0m29-15h0m7 20h0m9-4h0m15 14h0m3-14h0m25 21h0m1-25h0m52 0h0m15 1h0m40-8h0m4 0h0m16 10h0m46 8h0m33 11h0m8-10h0m15-2h0m35-12h0m20-12h0m1 2h0m5 27h0m17-21h0m4-4h0m27 15h0m10-3h0m14 19h0m-25 8h0m-35 17h0m-4 14h0m-5 3h0m-14-27h0m-4 21h0m-28-3h0m-24 0h0m-39-5h0m-1-8h0m-14 19h0m-11-17h0m-35 13h0m0 1h0m-37-5h0m0 1h0m-6-25h0m-59-3h0m-7 34h0m-10-12h0m-17 18h0m-11-15h0m-11-12h0m-12 7h0m-38-1h0m-18-10h0m-3 29h0m-5-22h0m-51-10h0m-2 0h0m-22 19h0m-7 12h0m-11-29h0m-39 9h0m-4 20h0m-2-24h0m-10 7h0m-2-13h0m-6 29h0m-17-20h0m-1-15h0m-1 23h0m-16 2h0m-35 42h0m1-12h0m7 0h0m75 17h0m30-20h0m16-5h0m29 20h0m7-22h0m27 13h0m8-8h0m15 18h0m32-20h0m10-2h0m1 2h0m26 15h0m57-3h0m26-17h0m11 11h0m17-2h0m38-11h0m19 9h0m10 4h0m4-5h0m2 28h0m6 0h0m28-4h0m2-31h0m0 2h0m42 10h0m5 24h0m20-6h0m19-28h0m3 8h0m52-3h0m37 5h0m-28 44h0m-32 16h0m-13-19h0m-1 20h0m-13-11h0m-4-3h0m-91-12h0m-13 30h0m-23-16h0m-2-2h0m-6 16h0m-8-14h0m-47 1h0m-6-24h0m-54 26h0m-2-14h0m-11 19h0m-34-5h0m-9-16h0m-11 18h0m-46-19h0m-2-6h0m-17-3h0m-28 22h0m-5 9h0m-6 2h0m-28-29h0m-2 7h0m-1-9h0m-4 26h0m-15-13h0m-2-14h0m-7 21h0m-7 10h0m-6-32h0m-11 25h0m-5-8h0m-3 14h0m-30-20h0m-8 25h0m-10-9h0m-23-26h0m-13 40h0m4 35h0m59-19h0m0 5h0m18-12h0m6 14h0m2-2h0m40-21h0m17 17h0m35-4h0m17 17h0m18 1h0m28-8h0m11-16h0m5 1h0m34 16h0m8-1h0m13 5h0m8-21h0m25 6h0m21-10h0m10 29h0m7-26h0m23 27h0m18-16h0m8 15h0m36-17h0m0-10h0m34 26h0m30-22h0m1 20h0m1-8h0m20-6h0m13-8h0m30 30h0m16-33h0m54 26h0m24-20h0m8 11h0m1 53h0m-21-27h0m-11 11h0m-36 18h0m-16-23h0m0 17h0m-35-31h0m-5 19h0m-5 6h0m-7-2h0m-16-3h0m-7 4h0m-4-21h0m-15-3h0m-2 28h0m-29-1h0m-48-13h0m-7-11h0m-10 14h0m-17 6h0m-94-13h0m-48 29h0m-6-7h0m-8-10h0m-53 5h0m-42-27h0m-3 36h0m-4-28h0m-19 21h0m-8 10h0m-14-23h0m0 21h0m-14-8h0m-21 5h0m-4-9h0m-29 4h0m-41 7h0m8 6h0m3 32h0m37-31h0m15 11h0m10-3h0m13 18h0m4-25h0m30-3h0m5 15h0m45 3h0m9-8h0m10 8h0m88 5h0m45-11h0m13-6h0m25 4h0m3-7h0m29 0h0m25 6h0m3 11h0m1-10h0m28 18h0m87-10h0m16-9h0m24-4h0m13 23h0m17-22h0m18 15h0m80-15h0m1 8h0"/><path transform="scale(.1)" fill="none" stroke="#4a3e5a" stroke-width="9" stroke-linecap="round" stroke-opacity="1.0" d="M3273 394h0m-8-6h0m-75 0h0m-7 5h0m-104 3h0m-57 0h0m-11 3h0m-28-1h0m-16-9h0m-36 2h0m-7 4h0m-79 3h0m-167-5h0m-2-9h0m-31 9h0m30 26h0m22-3h0m23 18h0m4-30h0m13 33h0m46-16h0m1-6h0m10 3h0m14 11h0m17-28h0m6 32h0m24-1h0m26-15h0m16 19h0m0-4h0m5 0h0m13-13h0m25 4h0m3-13h0m18-8h0m10 35h0m8-17h0m14-17h0m6 35h0m9-11h0m107 11h0m4-12h0m21-2h0m5-4h0m11 16h0m13-2h0m48-34h0m15 20h0m11-3h0m24 0h0m45 7h0m1-8h0m4-10h0m2 12h0m18 3h0m-1 28h0m-1 4h0m-1 18h0m-2 9h0m-45-24h0m-50 10h0m-6-16h0m-1 5h0m-23 8h0m-14-1h0m-8-1h0m-13 3h0m0 12h0m-13-8h0m-39-9h0m-1-1h0m-36 4h0m-30 10h0m-40-22h0m-5 1h0m-5 17h0m-2 9h0m-3-16h0m-10 12h0m-3 6h0m-21-23h0m-33-10h0m-48 13h0m-17-8h0m-1 26h0m0 2h0m-5-26h0m-45-10h0m-27 26h0m-23-25h0m-20 36h0m-15-16h0m-24-1h0m-16-6h0m-10-12h0m-12 15h0m-21 9h0m-4 9h0m-4-14h0m66 29h0m12 3h0m3-13h0m3 21h0m1 12h0m2 3h0m10-25h0m32 23h0m80-19h0m14-5h0m8 12h0m7 1h0m3-23h0m14-1h0m13 0h0m6 1h0m0 21h0m7-11h0m0 11h0m8 3h0m1-4h0m57-11h0m3-7h0m27-4h0m23 35h0m5 2h0m11-16h0m7-2h0m14-4h0m7 18h0m2-17h0m23 20h0m1-15h0m7-11h0m21 2h0m11 11h0m44-13h0m34-3h0m13-6h0m17 34h0m6-17h0m31 3h0m15-17h0m4 12h0m4 16h0m1-25h0m5 1h0m2 23h0m2 18h0m-40 17h0m-7 3h0m-4-14h0m-10 10h0m-2 14h0m0-37h0m-3 13h0m-4 2h0m-10 16h0m-10-3h0m-40-10h0m-17-13h0m-6 6h0m-1 12h0m-10-18h0m-7 18h0m-8 7h0m-11-6h0m-26 1h0m-6 9h0m-35-31h0m-20 19h0m-16-22h0m-21 28h0m-103-13h0m-16 11h0m-12 8h0m-5-18h0m-9-10h0m-8 17h0m-40-4h0m-2 15h0m-12-17h0m-15 8h0m-14 10h0m-19-17h0m-23 15h0m-5-19h0m-5 13h0m-7-28h0m-5 1h0m-10 25h0m-9-4h0m-28-12h0m-1-7h0m-30 50h0m29-11h0m22 3h0m31 2h0m41 15h0m18-7h0m44-10h0m21 12h0m10 9h0m29-2h0m19-19h0m34 27h0m25-21h0m39 20h0m16-14h0m9 14h0m14-20h0m5 4h0m12-16h0m0 35h0m13-33h0m48 28h0m4-30h0m24 3h0m28 22h0m22-11h0m13-1h0m39 16h0m20-17h0m5 19h0m26-16h0m12 42h0m-5-12h0m-2-1h0m0-4h0m-38 29h0m-23-28h0m-21 30h0m-10-23h0m-11 24h0m-1-9h0m-2-16h0m-24-7h0m-48 25h0m-23-8h0m-53-13h0m-42 27h0m-26-4h0m-1-23h0m-3 27h0m-6-4h0m-11 11h0m-5-37h0m-7 30h0m-9-31h0m-34 34h0m-8-15h0m-1 3h0m-19-15h0m-9 20h0m-7 3h0m-125 7h0m0 1h0m-34-26h0m-26 24h0m-3-6h0m-24 2h0m-7-18h0m-5-15h0m-8 18h0m0 36h0m17-7h0m24 28h0m4-17h0m5-1h0m6-13h0m5 22h0m8-4h0m1-8h0m9-3h0m3 1h0m4-7h0m5 16h0m2-21h0m32 36h0m32 0h0m8 0h0m13-1h0m21-7h0m13-15h0m27-11h0m4 23h0m20 0h0m16-20h0m16 22h0m2-15h0m34 15h0m35 0h0m16-20h0m6-5h0m13 32h0m79-8h0m7 13h0m91-28h0m2 24h0m13-11h0m19-4h0m4 4h0m6 7h0m42-25h0m15 22h0m11 5h0m9 5h0m7-30h0m-25 67h0m-20-10h0m-30 10h0m-4-24h0m-4 5h0m-7 21h0m-15-16h0m-20 2h0m-12-22h0m-28 17h0m-12 2h0m-94-8h0m-8 18h0m-13-24h0m-59 28h0m-12-25h0m-5 3h0m-49 27h0m-11-37h0m-18 17h0m-13-6h0m-2-11h0m-18 25h0m-9-10h0m-1 14h0m-65-4h0m-9 6h0m-18 3h0m-6-26h0m-1 0h0m-14 24h0m-1-26h0m-50 1h0m-40 0h0m-5 27h0m-1 15h0m4 29h0m1-5h0m4-25h0m2-7h0m9 27h0m23 9h0m5-2h0m49-2h0m6-20h0m16 7h0m10 2h0m37-20h0m78 16h0m11 0h0m59 17h0m21-12h0m21 0h0m17-7h0m3-12h0m4 0h0m21 23h0m2-13h0m4-1h0m31-1h0m4 5h0m3 17h0m2 1h0m9-13h0m21 2h0m16 13h0m66-23h0m1 10h0m15-5h0m4 12h0m22 1h0m92 6h0m2-4h0m-17 13h0m-36 16h0m-5-20h0m-4 17h0m-1-14h0m-11-1h0m-15 26h0m-44-18h0m-1 13h0m-7 2h0m-7-9h0m-5 6h0m-50-16h0m-5 6h0m-23 18h0m-31-16h0m-13 15h0m-8 1h0m-7-3h0m-27-23h0m-20 29h0m-41-30h0m-19 23h0m-3-27h0m-21 5h0m-27-3h0m-4 29h0m-19-8h0m-12 5h0m-8-23h0m-2 27h0m-11-20h0m-18-16h0m-1 18h0m-24 15h0m-13-25h0m-46 17h0m-14-20h0m-24 2h0m-7 4h0m-13 18h0m-1-5h0m-16 5h0m-8-18h0m-7-11h0m64 69h0m21-25h0m31 17h0m18-14h0m17 18h0m44-7h0m66-1h0m22-5h0m102 22h0m2-29h0m17 9h0m11 9h0m1-12h0m5 20h0m4-17h0m10-2h0m33 4h0m47-4h0m8 6h0m22-5h0m2-12h0m59 4h0m40 1h0m30 29h0m7-18h0"/></g>
<polygon points="287.2,45.5 293.2,40.8 297.3,35.5 301.3,29.4 310.7,26.3 320.1,25.8 328.1,27.4 330.6,34.1 327.5,39.5 320.1,41.5 310.7,42.5 301.3,43.8 293.2,46.2" fill="#6e6488" />
<polygon points="295.3,43.3 300.6,37.1 307.3,32.4 313.4,30.8 315.0,33.5 309.6,37.1 302.9,41.1 297.0,44.6" fill="#5a4ec8" fill-opacity="0.85"/>
<path d="M270.4,59.6 C271.1,58.3 273.6,55.4 275.8,54.3 C278.0,53.1 281.8,52.5 283.8,52.9 C285.9,53.4 287.4,54.9 287.9,57.0 C288.3,59.0 286.1,62.8 286.5,65.0 C287.0,67.2 288.8,69.0 290.6,70.4 C292.3,71.7 295.9,71.7 297.3,73.1 C298.6,74.4 298.8,77.1 298.6,78.4 C298.4,79.8 297.5,80.9 295.9,81.1 C294.4,81.3 291.7,80.7 289.2,79.8 C286.8,78.9 283.2,77.1 281.2,75.7 C279.1,74.4 278.3,73.5 277.1,71.7 C276.0,69.9 275.3,66.6 274.4,65.0 C273.6,63.4 272.4,63.2 271.8,62.3 C271.1,61.4 269.8,61.0 270.4,59.6Z" fill="#f6f5f8" stroke="#3e3250" stroke-width="1.0"/>
<text x="0.50" y="103.50" font-size="8.5" text-anchor="start" font-weight="bold" fill="#000" >b</text>
<text x="51.00" y="109.30" font-size="7" text-anchor="middle" fill="#000" >S12D_1</text>
<text x="124.70" y="109.30" font-size="7" text-anchor="middle" fill="#000" >S18D_1</text>
<text x="198.30" y="109.30" font-size="7" text-anchor="middle" fill="#000" >S18D_2</text>
<text x="271.50" y="109.30" font-size="7" text-anchor="middle" fill="#000" >S24D_1</text>
<path d="M17.9,153.3 C17.1,156.3 17.4,159.6 17.4,163.0 C17.4,166.3 17.0,168.6 17.8,173.6 C18.6,178.5 20.8,188.4 22.1,192.7 C23.3,196.9 24.0,197.1 25.3,199.1 C26.5,201.0 27.9,202.6 29.5,204.4 C31.1,206.1 32.8,208.0 34.8,209.6 C36.7,211.2 39.4,213.0 41.2,213.9 C43.1,214.8 45.1,214.9 46.0,215.0 C46.8,215.0 46.6,215.3 46.3,214.3 C46.0,213.2 45.5,210.4 44.1,208.8 C42.6,207.2 39.6,206.3 37.7,204.5 C35.8,202.8 34.1,201.8 32.6,198.4 C31.0,195.0 29.1,188.1 28.4,183.9 C27.8,179.8 28.3,177.0 28.4,173.5 C28.6,170.1 28.6,167.5 29.5,163.1 C30.4,158.7 33.4,150.7 33.7,147.3 C34.0,143.9 31.9,143.5 31.5,142.7 C31.0,141.9 32.4,142.1 30.9,142.5 C29.3,142.8 24.4,142.9 22.2,144.7 C20.1,146.5 18.7,150.2 17.9,153.3Z" fill="#eeeea0" fill-opacity="0.25"/>
<path d="M17.5,136.1 C17.6,136.8 18.3,138.0 18.7,138.5 C19.1,138.9 16.8,140.0 19.8,138.7 C22.8,137.4 33.8,132.2 36.7,130.7 C39.6,129.2 37.3,130.0 37.2,129.5 C37.1,129.0 36.3,128.0 35.9,127.6 C35.5,127.3 36.4,126.9 34.8,127.4 C33.3,127.9 29.2,129.4 26.4,130.6 C23.5,131.8 19.4,133.9 18.0,134.8 C16.5,135.7 17.4,135.5 17.5,136.1Z" fill="#e8e090" fill-opacity="0.16"/>
<path d="M21.6,145.0 C21.3,146.2 20.6,150.2 20.5,151.5 C20.5,152.7 20.5,152.5 21.6,152.4 C22.7,152.4 25.1,152.1 27.2,151.3 C29.2,150.6 32.4,149.4 33.7,148.0 C35.0,146.6 35.0,143.9 35.1,142.9 C35.3,141.9 35.4,142.4 34.5,142.1 C33.6,141.8 31.9,140.6 29.8,141.0 C27.8,141.4 23.6,143.6 22.2,144.2 C20.8,144.9 21.9,143.8 21.6,145.0Z" fill="#e8e090" fill-opacity="0.16"/>
<path d="M64.6,113.0 C64.5,113.6 64.2,114.7 64.6,115.9 C65.1,117.1 67.0,118.5 67.3,120.0 C67.6,121.6 67.0,123.1 66.3,125.1 C65.6,127.0 63.1,130.1 63.1,131.5 C63.2,133.0 65.6,134.0 66.7,134.0 C67.9,134.0 69.3,132.8 70.2,131.7 C71.1,130.6 71.8,129.2 72.3,127.4 C72.9,125.6 73.8,123.1 73.4,120.9 C73.0,118.8 71.5,115.8 70.1,114.4 C68.7,113.0 66.0,112.9 65.1,112.6 C64.2,112.4 64.7,112.5 64.6,113.0Z" fill="#5ea5d8" fill-opacity="0.16"/>
<path d="M34.3,127.7 C34.6,128.3 34.9,130.1 36.0,130.4 C37.1,130.6 39.4,130.0 41.0,129.2 C42.5,128.4 44.6,127.2 45.5,125.7 C46.4,124.3 46.8,121.7 46.6,120.5 C46.3,119.3 44.6,118.8 44.1,118.4 C43.5,118.1 43.9,118.0 43.1,118.5 C42.2,119.0 40.1,120.0 38.7,121.3 C37.2,122.7 35.1,125.7 34.4,126.7 C33.6,127.8 34.0,127.1 34.3,127.7Z" fill="#0ab0f0" fill-opacity="0.16"/>
<path d="M45.8,119.3 C46.2,120.4 47.1,124.0 48.3,125.0 C49.5,126.0 51.3,124.8 52.9,125.1 C54.4,125.5 56.3,126.3 57.8,127.1 C59.3,128.0 61.1,129.8 62.1,130.3 C63.0,130.8 62.9,130.4 63.3,129.9 C63.7,129.5 64.3,128.2 64.5,127.7 C64.7,127.1 65.5,128.1 64.4,126.8 C63.3,125.6 59.8,121.7 57.8,120.2 C55.7,118.6 53.9,117.8 52.0,117.5 C50.1,117.1 47.5,117.8 46.5,117.9 C45.4,118.1 46.0,118.2 45.9,118.4 C45.8,118.6 45.4,118.2 45.8,119.3Z" fill="#7ae8f5" fill-opacity="0.16"/>
<path d="M39.5,137.0 C39.1,139.0 39.6,140.5 40.8,141.7 C42.1,142.8 45.0,143.8 46.9,144.0 C48.9,144.2 50.5,143.5 52.3,143.0 C54.1,142.4 56.7,142.2 57.9,140.7 C59.0,139.1 59.7,135.7 59.3,133.5 C58.9,131.3 57.4,128.7 55.7,127.5 C53.9,126.3 50.8,125.9 48.7,126.3 C46.6,126.7 44.4,128.0 42.9,129.8 C41.3,131.5 39.8,135.0 39.5,137.0Z" fill="#f88c10" fill-opacity="0.16"/>
<path d="M66.0,140.2 C65.8,141.4 66.1,145.3 65.7,146.9 C65.3,148.6 63.8,149.0 63.6,150.3 C63.4,151.6 63.8,153.3 64.7,154.8 C65.6,156.3 67.9,157.7 69.0,159.4 C70.1,161.0 70.5,163.6 71.1,164.5 C71.6,165.4 71.6,165.1 72.2,165.0 C72.8,164.9 74.1,164.1 74.6,163.8 C75.0,163.5 74.8,164.4 75.0,163.2 C75.3,162.0 76.1,158.8 76.1,156.6 C76.1,154.5 75.9,151.6 75.0,150.1 C74.1,148.6 71.7,149.1 70.7,147.6 C69.8,146.1 70.1,142.5 69.5,141.3 C68.8,140.0 67.4,140.1 66.8,139.9 C66.2,139.8 66.2,139.1 66.0,140.2Z" fill="#3fd4c8" fill-opacity="0.16"/>
<path d="M25.8,169.3 C25.7,171.2 25.5,176.7 25.8,179.9 C26.2,183.1 27.0,186.2 27.9,188.4 C28.8,190.6 30.6,192.2 31.3,193.1 C32.0,193.9 31.6,193.7 32.3,193.3 C33.1,193.0 35.2,191.6 35.8,191.1 C36.5,190.6 36.3,191.6 36.2,190.4 C36.1,189.2 35.3,187.1 35.1,183.9 C35.0,180.7 35.8,174.1 35.1,171.1 C34.5,168.2 32.7,166.7 31.2,166.2 C29.8,165.8 27.2,167.9 26.3,168.4 C25.4,169.0 25.9,167.4 25.8,169.3Z" fill="#f0f000" fill-opacity="0.16"/>
<path d="M31.5,164.2 C30.5,165.6 29.9,168.6 30.0,170.4 C30.1,172.2 31.8,174.3 32.3,175.2 C32.8,176.0 32.3,175.7 33.2,175.5 C34.2,175.4 36.9,175.7 37.9,174.3 C38.9,172.9 39.5,169.1 39.3,167.1 C39.2,165.2 37.6,163.2 37.0,162.4 C36.5,161.5 36.8,161.7 35.9,162.1 C35.0,162.4 32.5,162.9 31.5,164.2Z" fill="#f0b868" fill-opacity="0.16"/>
<path d="M33.2,143.2 C33.4,145.5 34.9,153.8 35.3,156.0 C35.8,158.3 35.2,156.3 35.9,156.6 C36.7,156.9 38.8,158.1 39.9,157.6 C41.0,157.1 42.1,155.5 42.5,153.7 C42.9,151.9 43.0,148.9 42.4,146.8 C41.8,144.7 40.1,141.8 38.7,141.1 C37.3,140.3 34.7,141.7 33.8,142.1 C32.9,142.5 32.9,140.9 33.2,143.2Z" fill="#f8b098" fill-opacity="0.16"/>
<path d="M40.5,150.3 C40.0,154.3 38.4,168.5 38.4,173.5 C38.4,178.5 40.1,179.0 40.6,180.2 C41.1,181.4 40.7,181.2 41.5,180.8 C42.3,180.4 44.9,179.8 45.6,177.9 C46.3,176.0 45.3,172.2 45.6,169.4 C46.0,166.6 47.2,164.0 47.7,161.0 C48.3,158.0 49.1,153.6 48.8,151.5 C48.5,149.3 47.1,148.7 45.9,148.4 C44.6,148.0 42.1,149.1 41.2,149.5 C40.3,149.8 41.0,146.3 40.5,150.3Z" fill="#f0c010" fill-opacity="0.16"/>
<path d="M34.2,173.5 C34.1,175.1 33.8,179.1 34.2,182.0 C34.6,184.9 35.0,188.2 36.4,190.8 C37.9,193.3 40.8,195.9 43.0,197.4 C45.2,198.9 48.3,199.3 49.6,199.6 C50.8,200.0 49.8,200.4 50.4,199.5 C51.0,198.7 53.1,196.6 53.0,194.3 C52.9,192.0 50.7,188.6 49.8,185.8 C48.9,182.9 49.0,179.8 47.6,177.2 C46.3,174.6 43.9,171.2 41.8,170.4 C39.6,169.7 36.1,172.1 34.8,172.6 C33.5,173.1 34.3,171.9 34.2,173.5Z" fill="#f0b030" fill-opacity="0.16"/>
<path d="M27.0,191.9 C27.2,193.5 27.9,198.5 29.0,201.1 C30.1,203.8 31.7,205.9 33.4,207.8 C35.1,209.7 37.2,211.9 39.2,212.3 C41.2,212.6 44.3,210.4 45.4,209.9 C46.4,209.4 45.8,210.6 45.6,209.1 C45.5,207.5 45.5,202.7 44.5,200.5 C43.6,198.3 42.0,197.4 40.1,195.9 C38.2,194.4 35.4,192.2 33.3,191.4 C31.2,190.7 28.7,191.3 27.6,191.4 C26.6,191.5 26.8,190.2 27.0,191.9Z" fill="#ffe060" fill-opacity="0.16"/>
<path d="M43.7,200.9 C43.8,202.6 44.0,207.9 45.0,209.9 C46.0,212.0 47.9,213.0 49.7,213.3 C51.5,213.7 54.9,213.7 55.9,211.9 C57.0,210.1 56.8,204.9 56.1,202.6 C55.4,200.3 52.5,198.7 51.6,197.9 C50.7,197.1 51.9,197.4 50.7,197.7 C49.5,198.0 45.5,199.3 44.3,199.8 C43.2,200.4 43.5,199.2 43.7,200.9Z" fill="#ffe2c4" fill-opacity="0.16"/>
<path d="M36.3,209.2 C36.3,210.3 35.6,213.4 36.4,214.9 C37.2,216.5 38.9,217.7 41.2,218.5 C43.4,219.3 47.5,219.9 50.0,219.6 C52.5,219.4 55.1,217.5 56.1,216.9 C57.1,216.3 56.6,216.9 56.0,216.0 C55.4,215.1 55.4,212.7 52.3,211.4 C49.2,210.1 40.1,208.7 37.5,208.2 C34.8,207.7 36.8,208.3 36.7,208.4 C36.5,208.6 36.3,208.1 36.3,209.2Z" fill="#fff0cc" fill-opacity="0.16"/>
<path d="M48.5,192.5 C48.6,193.4 48.8,196.0 49.5,197.8 C50.2,199.6 52.1,201.1 52.6,203.0 C53.2,204.9 52.5,207.1 52.6,209.2 C52.8,211.3 53.4,214.5 53.7,215.6 C54.0,216.7 53.7,216.0 54.2,215.9 C54.7,215.7 55.8,216.1 56.5,214.6 C57.3,213.2 58.5,209.5 58.7,207.2 C58.9,204.8 58.3,202.5 57.6,200.7 C56.9,198.9 55.3,198.0 54.4,196.4 C53.5,194.8 53.2,191.8 52.2,191.0 C51.3,190.3 49.4,191.8 48.7,192.0 C48.1,192.2 48.3,191.5 48.5,192.5Z" fill="#f848e8" fill-opacity="0.16"/>
<path d="M57.5,168.2 C57.2,171.6 56.4,184.8 56.2,188.2 C56.1,191.6 56.2,188.6 56.6,188.6 C57.0,188.6 58.2,189.8 58.7,188.3 C59.2,186.8 59.6,183.1 59.7,179.8 C59.9,176.4 60.0,170.2 59.7,168.2 C59.4,166.2 58.3,167.8 57.9,167.8 C57.5,167.9 57.8,164.8 57.5,168.2Z" fill="#f8b0d8" fill-opacity="0.16"/>
<path d="M60.4,196.5 C60.2,198.2 59.0,204.1 59.4,206.3 C59.8,208.6 62.2,209.3 62.9,210.0 C63.6,210.6 62.9,210.5 63.8,210.1 C64.8,209.8 67.4,209.5 68.6,207.6 C69.8,205.6 71.1,200.8 70.8,198.4 C70.5,196.1 68.6,194.0 66.9,193.5 C65.3,193.1 62.1,195.2 61.0,195.7 C59.9,196.2 60.7,194.7 60.4,196.5Z" fill="#98d898" fill-opacity="0.16"/>
<path d="M61.5,181.9 C61.4,184.2 60.8,191.9 61.5,194.8 C62.3,197.7 65.2,198.6 66.1,199.5 C67.0,200.3 66.0,200.1 67.0,199.7 C67.9,199.2 70.8,199.0 71.8,197.0 C72.8,195.0 73.5,190.7 72.9,187.9 C72.3,185.0 70.0,181.1 68.2,180.0 C66.4,178.8 63.3,180.6 62.2,180.9 C61.1,181.3 61.6,179.6 61.5,181.9Z" fill="#b0d89c" fill-opacity="0.16"/>
<path d="M71.6,174.0 C71.7,175.7 71.9,181.1 72.7,182.8 C73.6,184.5 75.7,184.7 76.8,184.0 C77.9,183.3 79.0,179.6 79.4,178.5 C79.8,177.4 79.9,178.7 79.3,177.6 C78.7,176.6 77.1,172.9 75.9,172.2 C74.7,171.4 72.9,172.7 72.2,173.0 C71.5,173.3 71.5,172.4 71.6,174.0Z" fill="#5cc828" fill-opacity="0.16"/>
<path d="M77.9,181.1 C77.7,182.3 77.1,186.5 77.1,187.7 C77.1,188.9 77.1,188.0 77.7,188.3 C78.2,188.5 79.6,189.6 80.4,189.1 C81.3,188.6 82.5,186.7 82.8,185.2 C83.0,183.7 82.3,181.1 81.9,180.1 C81.6,179.2 81.3,179.4 80.7,179.5 C80.1,179.5 78.8,180.1 78.3,180.4 C77.9,180.7 78.1,179.9 77.9,181.1Z" fill="#80f020" fill-opacity="0.16"/>
<path d="M72.6,186.6 C72.7,188.0 72.8,192.6 73.4,194.1 C73.9,195.6 75.4,195.5 75.9,195.8 C76.5,196.1 76.4,196.5 76.8,195.8 C77.1,195.2 78.2,193.7 78.2,191.9 C78.1,190.2 76.9,186.4 76.4,185.2 C75.9,184.0 75.8,184.6 75.2,184.7 C74.6,184.8 73.5,185.4 73.0,185.7 C72.6,186.0 72.6,185.2 72.6,186.6Z" fill="#f00000" fill-opacity="0.16"/>
<path d="M91.8,135.7 C91.8,138.9 92.0,148.3 91.8,154.6 C91.7,160.9 91.2,167.9 91.2,173.5 C91.2,179.1 91.4,184.0 91.9,188.3 C92.3,192.5 92.7,197.2 94.0,199.0 C95.4,200.9 98.3,200.0 99.9,199.3 C101.4,198.5 103.1,197.1 103.5,194.5 C104.0,192.0 102.5,187.5 102.5,184.0 C102.5,180.5 103.0,177.1 103.5,173.6 C104.1,170.1 104.9,168.3 105.6,163.0 C106.3,157.8 107.6,147.6 107.7,142.0 C107.9,136.4 107.0,131.4 106.7,129.2 C106.3,127.0 108.3,127.8 105.9,128.8 C103.5,129.8 94.5,134.0 92.2,135.1 C89.9,136.3 91.9,132.5 91.8,135.7Z" fill="#eeeea0" fill-opacity="0.25"/>
<path d="M137.6,113.2 C137.8,113.9 139.2,115.2 139.3,116.9 C139.4,118.5 138.8,121.1 138.3,123.0 C137.7,124.9 136.0,127.3 136.1,128.4 C136.3,129.5 138.8,128.1 139.3,129.7 C139.7,131.2 138.8,135.0 138.9,137.8 C138.9,140.6 139.5,144.8 139.7,146.2 C139.9,147.7 139.7,146.8 140.1,146.6 C140.6,146.4 142.3,146.7 142.6,145.2 C143.0,143.7 141.9,141.5 142.2,137.8 C142.5,134.1 144.3,127.0 144.3,123.1 C144.3,119.2 143.2,116.2 142.1,114.5 C141.1,112.7 138.9,112.9 138.1,112.6 C137.4,112.4 137.5,112.5 137.6,113.2Z" fill="#5ea5d8" fill-opacity="0.16"/>
<path d="M113.5,119.8 C113.3,120.7 112.9,122.9 113.1,124.3 C113.3,125.6 114.4,127.3 114.8,128.0 C115.2,128.6 115.0,128.4 115.8,128.3 C116.5,128.1 118.3,128.2 119.3,127.0 C120.3,125.8 121.4,122.4 121.8,121.3 C122.1,120.2 122.1,120.9 121.6,120.4 C121.1,119.8 120.0,118.1 118.8,117.9 C117.5,117.7 115.0,118.7 114.2,119.0 C113.3,119.3 113.7,119.0 113.5,119.8Z" fill="#0ab0f0" fill-opacity="0.16"/>
<path d="M118.8,118.9 C119.2,119.9 119.2,122.3 121.2,123.9 C123.2,125.4 129.1,127.6 130.9,128.2 C132.8,128.9 131.5,128.6 132.1,127.9 C132.6,127.3 134.4,125.9 134.3,124.4 C134.3,123.0 133.3,120.6 132.0,119.2 C130.7,117.9 128.5,116.6 126.4,116.3 C124.3,116.0 120.7,117.2 119.5,117.5 C118.2,117.8 119.0,117.8 118.9,118.0 C118.8,118.3 118.4,117.9 118.8,118.9Z" fill="#7ae8f5" fill-opacity="0.16"/>
<path d="M113.5,133.4 C112.8,134.9 112.6,136.8 112.5,137.7 C112.3,138.5 112.1,137.8 112.7,138.5 C113.4,139.2 114.6,141.1 116.2,141.9 C117.9,142.6 120.6,143.0 122.7,143.0 C124.8,143.0 127.4,142.9 128.8,141.7 C130.2,140.5 131.0,138.0 131.2,135.8 C131.4,133.6 131.2,130.4 130.0,128.8 C128.8,127.2 126.3,126.3 124.1,126.3 C122.0,126.3 118.8,127.4 117.1,128.6 C115.3,129.8 114.3,131.8 113.5,133.4Z" fill="#f88c10" fill-opacity="0.16"/>
<path d="M137.0,145.1 C136.8,146.8 136.3,151.5 136.2,154.5 C136.0,157.5 135.5,161.0 136.2,163.2 C136.8,165.4 139.3,167.1 140.0,167.9 C140.8,168.7 140.0,168.9 140.9,168.2 C141.9,167.4 144.7,165.2 145.9,163.3 C147.1,161.4 147.7,159.3 148.0,156.8 C148.4,154.3 148.7,150.4 148.0,148.1 C147.4,145.8 145.8,143.8 144.1,143.1 C142.4,142.5 138.9,143.9 137.7,144.2 C136.6,144.5 137.3,143.3 137.0,145.1Z" fill="#3fd4c8" fill-opacity="0.16"/>
<path d="M106.1,142.0 C106.0,143.7 105.7,148.9 106.4,151.0 C107.0,153.1 108.7,154.3 110.2,154.5 C111.7,154.7 114.1,153.8 115.2,152.2 C116.2,150.6 116.9,146.9 116.5,145.0 C116.2,143.1 113.8,141.7 113.1,140.9 C112.5,140.2 113.4,140.6 112.4,140.6 C111.4,140.6 108.0,140.8 107.0,141.0 C105.9,141.2 106.2,140.3 106.1,142.0Z" fill="#f8b098" fill-opacity="0.16"/>
<path d="M94.6,171.4 C94.5,173.7 93.9,181.4 94.6,184.3 C95.4,187.2 98.3,188.2 99.2,189.0 C100.1,189.8 99.0,189.9 100.1,189.1 C101.2,188.4 104.8,186.8 105.9,184.5 C107.1,182.2 107.2,177.9 107.0,175.3 C106.9,172.7 105.4,170.0 104.9,168.9 C104.4,167.7 105.9,168.1 104.2,168.3 C102.6,168.6 96.9,169.9 95.3,170.4 C93.7,171.0 94.7,169.1 94.6,171.4Z" fill="#f0f000" fill-opacity="0.16"/>
<path d="M102.0,151.6 C102.1,153.1 102.1,158.1 103.3,159.5 C104.5,160.9 108.1,159.8 109.2,159.8 C110.4,159.8 109.5,160.4 110.0,159.5 C110.5,158.6 112.5,156.1 112.3,154.5 C112.2,152.8 109.6,150.6 108.9,149.7 C108.2,148.9 109.1,149.3 108.1,149.4 C107.1,149.5 103.7,150.1 102.7,150.5 C101.6,150.9 101.8,150.1 102.0,151.6Z" fill="#eef0a0" fill-opacity="0.16"/>
<path d="M113.5,150.3 C113.2,151.8 112.4,156.0 112.4,158.8 C112.4,161.7 112.6,165.2 113.5,167.4 C114.4,169.6 117.1,171.3 118.0,172.1 C118.9,172.9 118.1,173.1 118.9,172.4 C119.7,171.6 122.0,170.1 122.8,167.5 C123.6,164.8 124.1,159.6 123.9,156.4 C123.6,153.3 122.9,149.6 121.3,148.5 C119.7,147.3 115.5,149.1 114.2,149.4 C112.9,149.7 113.8,148.7 113.5,150.3Z" fill="#f0c010" fill-opacity="0.16"/>
<path d="M103.0,163.1 C103.1,164.9 103.0,171.1 104.2,173.0 C105.4,174.9 109.0,174.3 110.1,174.5 C111.2,174.7 110.2,175.2 110.9,174.3 C111.6,173.5 114.2,171.3 114.4,169.4 C114.7,167.4 112.7,163.6 112.2,162.4 C111.7,161.2 112.8,162.1 111.4,162.0 C110.1,161.9 105.3,161.8 103.9,162.0 C102.5,162.2 102.9,161.3 103.0,163.1Z" fill="#f0b868" fill-opacity="0.16"/>
<path d="M105.1,173.5 C105.0,175.4 104.7,180.5 105.1,184.1 C105.5,187.7 106.0,192.5 107.4,195.1 C108.7,197.6 111.1,199.3 113.3,199.7 C115.4,200.1 118.6,199.4 120.2,197.5 C121.8,195.6 122.6,191.6 122.8,188.3 C123.1,184.9 123.0,180.1 121.6,177.1 C120.3,174.2 117.3,171.2 114.7,170.4 C112.0,169.6 107.4,172.0 105.8,172.5 C104.2,173.1 105.2,171.6 105.1,173.5Z" fill="#f0b030" fill-opacity="0.16"/>
<path d="M102.0,198.8 C102.1,200.8 102.1,207.3 103.3,209.9 C104.5,212.5 107.1,214.0 109.1,214.4 C111.0,214.7 114.1,214.0 115.2,212.0 C116.3,210.0 116.2,205.1 115.5,202.6 C114.8,200.1 111.9,197.9 111.0,196.9 C110.1,195.9 111.6,196.5 110.2,196.6 C108.9,196.8 104.1,197.4 102.7,197.7 C101.3,198.1 101.9,196.8 102.0,198.8Z" fill="#ffe060" fill-opacity="0.16"/>
<path d="M114.5,202.9 C114.4,204.4 114.5,209.8 114.5,211.3 C114.6,212.8 113.9,211.2 114.9,212.1 C115.9,212.9 118.5,216.1 120.6,216.5 C122.8,216.8 126.6,216.0 127.9,214.0 C129.1,212.0 128.8,207.0 128.1,204.7 C127.3,202.4 124.4,200.8 123.5,200.0 C122.6,199.2 124.1,199.5 122.7,199.8 C121.3,200.1 116.6,201.4 115.3,201.9 C113.9,202.4 114.7,201.3 114.5,202.9Z" fill="#ffe2c4" fill-opacity="0.16"/>
<path d="M107.2,212.5 C107.4,213.6 107.3,216.8 108.5,218.2 C109.6,219.7 111.7,220.6 114.1,221.0 C116.5,221.4 121.3,220.8 122.9,220.7 C124.6,220.5 123.5,221.0 123.8,220.1 C124.1,219.3 124.8,216.6 124.9,215.6 C125.0,214.7 125.8,215.1 124.4,214.6 C123.0,214.1 119.5,212.9 116.8,212.4 C114.1,211.9 109.9,211.5 108.3,211.3 C106.8,211.2 107.6,211.5 107.4,211.7 C107.2,211.9 107.0,211.4 107.2,212.5Z" fill="#fff0cc" fill-opacity="0.16"/>
<path d="M117.3,188.3 C117.4,189.1 117.6,191.5 118.3,192.6 C119.1,193.7 120.5,193.4 121.5,194.8 C122.6,196.1 123.7,197.1 124.6,200.9 C125.5,204.7 126.3,214.8 126.7,217.6 C127.1,220.5 126.6,218.3 127.2,218.0 C127.9,217.6 130.1,217.7 130.6,215.5 C131.2,213.3 131.0,207.8 130.6,204.9 C130.3,202.1 129.1,200.7 128.5,198.6 C128.0,196.5 128.4,193.9 127.5,192.2 C126.6,190.6 124.7,189.6 123.0,188.9 C121.4,188.1 118.7,187.9 117.7,187.8 C116.7,187.7 117.1,187.5 117.3,188.3Z" fill="#f848e8" fill-opacity="0.16"/>
<path d="M130.5,167.1 C130.2,168.9 129.8,174.5 129.2,177.6 C128.7,180.7 127.1,184.2 127.1,185.6 C127.1,187.1 128.3,187.8 129.2,186.5 C130.0,185.2 131.4,180.9 132.1,177.8 C132.8,174.6 133.6,169.5 133.4,167.6 C133.2,165.8 131.4,166.9 131.0,166.8 C130.5,166.7 130.8,165.3 130.5,167.1Z" fill="#f8b0d8" fill-opacity="0.16"/>
<path d="M135.5,177.7 C135.5,179.7 134.9,186.2 135.8,188.8 C136.6,191.4 138.7,193.0 140.5,193.4 C142.3,193.7 145.4,193.0 146.6,191.1 C147.9,189.1 148.4,184.5 148.0,181.8 C147.7,179.1 145.4,176.2 144.7,175.0 C144.0,173.8 145.1,174.3 143.7,174.6 C142.3,174.9 137.6,176.2 136.3,176.7 C134.9,177.2 135.6,175.7 135.5,177.7Z" fill="#b0d89c" fill-opacity="0.16"/>
<path d="M133.4,193.4 C133.3,195.9 132.7,204.5 133.5,207.4 C134.3,210.3 137.1,210.4 138.0,211.0 C139.0,211.7 137.9,211.7 139.0,211.2 C140.1,210.6 143.2,210.1 144.7,207.6 C146.2,205.1 148.0,199.1 148.0,196.3 C148.0,193.5 145.4,191.8 144.7,190.8 C144.1,189.8 145.8,190.1 144.1,190.4 C142.3,190.6 135.9,192.0 134.1,192.5 C132.4,193.0 133.6,191.0 133.4,193.4Z" fill="#98d898" fill-opacity="0.16"/>
<path d="M142.9,170.3 C142.7,172.1 142.3,177.9 142.9,180.1 C143.5,182.3 145.7,183.1 146.4,183.7 C147.1,184.3 146.6,184.9 147.4,183.9 C148.2,182.9 150.9,180.1 151.2,177.8 C151.5,175.5 149.6,171.5 149.1,170.1 C148.6,168.7 149.1,169.5 148.2,169.3 C147.3,169.2 144.8,169.2 143.9,169.3 C143.0,169.5 143.1,168.6 142.9,170.3Z" fill="#5cc828" fill-opacity="0.16"/>
<path d="M147.1,184.2 C147.4,185.9 148.2,191.1 149.4,193.0 C150.5,194.8 153.1,195.0 154.0,195.4 C155.0,195.8 154.4,196.2 155.0,195.3 C155.5,194.4 157.8,192.3 157.5,190.2 C157.2,188.0 154.0,183.7 153.1,182.4 C152.2,181.0 153.0,181.8 152.1,182.0 C151.3,182.1 148.6,182.7 147.8,183.0 C146.9,183.4 146.9,182.6 147.1,184.2Z" fill="#80f020" fill-opacity="0.16"/>
<path d="M164.8,135.7 C163.4,141.7 163.9,159.1 163.8,167.2 C163.7,175.2 163.9,179.1 164.2,184.1 C164.6,189.0 164.8,194.1 165.9,196.8 C167.0,199.5 169.1,200.4 170.7,200.3 C172.3,200.3 174.0,205.3 175.5,196.7 C177.0,188.0 178.5,157.9 179.7,148.4 C180.9,139.0 182.1,143.2 182.8,140.0 C183.5,136.8 183.8,131.1 183.9,129.2 C183.9,127.4 185.1,128.5 183.2,128.8 C181.3,129.1 175.7,129.8 172.6,130.9 C169.6,132.1 166.3,129.6 164.8,135.7Z" fill="#eeeea0" fill-opacity="0.25"/>
<path d="M211.2,113.6 C211.1,114.4 210.6,116.3 210.6,117.9 C210.6,119.4 211.5,121.1 211.2,123.1 C211.0,125.0 208.7,128.2 209.1,129.5 C209.6,130.8 212.3,131.3 213.8,130.8 C215.3,130.3 217.4,128.1 218.3,126.4 C219.2,124.8 219.7,122.9 219.4,120.9 C219.0,119.0 217.4,116.1 216.1,114.8 C214.8,113.5 212.5,113.5 211.7,113.3 C210.9,113.1 211.4,112.8 211.2,113.6Z" fill="#5ea5d8" fill-opacity="0.16"/>
<path d="M178.4,127.0 C179.0,127.8 180.5,130.2 182.1,130.4 C183.7,130.6 186.5,129.3 188.0,128.1 C189.6,127.0 191.2,124.8 191.6,123.4 C192.0,121.9 190.8,120.2 190.5,119.5 C190.1,118.7 190.4,118.7 189.3,119.0 C188.2,119.3 185.6,120.1 183.8,121.2 C182.0,122.3 179.3,124.6 178.4,125.5 C177.5,126.5 177.8,126.1 178.4,127.0Z" fill="#0ab0f0" fill-opacity="0.16"/>
<path d="M192.9,119.8 C193.3,120.7 194.2,123.5 195.5,124.4 C196.8,125.3 199.0,124.5 200.8,125.1 C202.6,125.8 204.7,127.9 206.2,128.3 C207.8,128.6 209.2,127.4 209.9,127.2 C210.7,126.9 210.8,127.8 210.5,126.6 C210.2,125.5 209.6,121.8 208.2,120.3 C206.7,118.8 203.9,117.9 201.5,117.5 C199.1,117.2 195.0,118.1 193.6,118.3 C192.2,118.6 193.0,118.6 192.9,118.8 C192.8,119.1 192.5,118.8 192.9,119.8Z" fill="#7ae8f5" fill-opacity="0.16"/>
<path d="M187.6,133.7 C187.3,136.1 187.6,139.8 188.8,141.5 C190.0,143.2 192.5,143.8 194.6,144.0 C196.8,144.2 199.9,144.0 201.7,142.8 C203.4,141.7 204.9,139.0 205.3,136.9 C205.7,134.7 205.3,131.7 204.1,129.9 C202.9,128.2 200.5,126.7 198.1,126.3 C195.8,125.9 191.8,126.3 190.1,127.5 C188.3,128.8 187.8,131.4 187.6,133.7Z" fill="#f88c10" fill-opacity="0.16"/>
<path d="M210.0,151.4 C209.9,152.5 210.2,154.7 210.0,156.6 C209.9,158.6 209.1,160.9 209.2,163.0 C209.3,165.2 210.3,168.4 210.7,169.6 C211.1,170.8 211.4,170.3 211.7,170.3 C212.0,170.3 212.1,170.8 212.6,169.7 C213.0,168.6 213.7,164.9 214.5,163.8 C215.4,162.6 216.4,163.5 217.5,162.8 C218.5,162.0 220.2,161.0 220.9,159.3 C221.7,157.5 222.6,154.2 222.1,152.4 C221.6,150.6 219.9,148.7 218.0,148.3 C216.1,148.0 212.0,150.0 210.6,150.5 C209.3,151.0 210.1,150.4 210.0,151.4Z" fill="#3fd4c8" fill-opacity="0.16"/>
<path d="M173.9,138.0 C174.0,139.2 174.7,143.2 175.0,144.4 C175.3,145.5 174.6,144.7 175.5,145.0 C176.4,145.3 179.0,146.5 180.4,146.1 C181.9,145.7 183.9,144.2 184.2,142.4 C184.5,140.6 182.6,136.6 182.1,135.4 C181.7,134.1 182.8,134.5 181.6,134.8 C180.3,135.0 175.8,136.4 174.5,136.9 C173.2,137.4 173.8,136.7 173.9,138.0Z" fill="#eef0a0" fill-opacity="0.16"/>
<path d="M180.2,143.0 C180.1,144.7 179.8,149.8 180.4,152.0 C181.0,154.3 182.6,156.0 184.0,156.6 C185.5,157.1 188.0,157.0 189.1,155.4 C190.2,153.8 190.7,149.5 190.6,147.2 C190.4,144.8 188.8,142.4 188.3,141.4 C187.8,140.3 188.6,140.9 187.4,141.0 C186.2,141.1 182.2,141.7 181.0,142.1 C179.8,142.4 180.3,141.4 180.2,143.0Z" fill="#f8b098" fill-opacity="0.16"/>
<path d="M187.6,152.4 C187.3,153.7 186.5,157.4 186.5,159.9 C186.5,162.4 186.8,165.2 187.6,167.4 C188.3,169.6 190.2,172.0 190.9,173.0 C191.6,174.0 191.1,174.0 191.9,173.4 C192.7,172.8 195.0,172.1 195.8,169.6 C196.6,167.1 197.1,161.9 196.9,158.6 C196.6,155.2 194.9,151.1 194.4,149.6 C193.8,148.1 194.6,149.1 193.5,149.4 C192.5,149.8 189.2,151.1 188.2,151.6 C187.2,152.1 187.8,151.0 187.6,152.4Z" fill="#f0c010" fill-opacity="0.16"/>
<path d="M176.0,165.3 C176.3,167.3 177.8,174.3 178.3,176.2 C178.8,178.1 178.0,176.6 179.1,176.6 C180.2,176.6 183.6,177.6 185.0,176.4 C186.4,175.1 187.6,171.6 187.4,169.2 C187.3,166.9 184.8,163.6 184.1,162.4 C183.4,161.2 184.3,161.7 183.1,162.0 C181.8,162.3 177.9,163.6 176.7,164.1 C175.5,164.7 175.7,163.3 176.0,165.3Z" fill="#f0b868" fill-opacity="0.16"/>
<path d="M167.6,171.4 C167.5,173.0 167.2,177.4 167.6,179.9 C168.0,182.4 169.3,185.5 169.9,186.7 C170.4,187.9 169.9,187.4 171.0,187.0 C172.1,186.7 175.1,186.4 176.5,184.8 C177.8,183.3 179.0,180.4 179.0,177.7 C179.1,175.1 177.4,170.3 176.8,168.8 C176.2,167.2 177.1,168.0 175.7,168.3 C174.2,168.6 169.6,170.0 168.2,170.5 C166.9,171.0 167.7,169.8 167.6,171.4Z" fill="#f0f000" fill-opacity="0.16"/>
<path d="M178.1,175.7 C178.2,177.6 178.4,182.9 179.2,186.3 C179.9,189.7 180.8,194.0 182.5,196.2 C184.3,198.4 187.4,199.5 189.5,199.7 C191.7,199.9 194.2,199.3 195.5,197.4 C196.7,195.5 196.9,191.3 196.9,188.2 C196.9,185.2 197.2,181.8 195.6,179.2 C194.1,176.5 190.5,173.3 187.7,172.5 C184.9,171.8 180.4,174.1 178.8,174.6 C177.2,175.2 178.0,173.7 178.1,175.7Z" fill="#f0b030" fill-opacity="0.16"/>
<path d="M173.9,198.9 C174.2,201.1 174.9,208.2 176.3,210.9 C177.7,213.7 180.2,215.3 182.2,215.4 C184.2,215.6 187.0,214.1 188.2,212.0 C189.5,209.8 190.2,205.1 189.5,202.6 C188.8,200.1 185.1,197.9 184.0,196.9 C182.9,195.9 184.7,196.5 183.2,196.6 C181.6,196.8 176.2,197.3 174.7,197.7 C173.1,198.1 173.6,196.7 173.9,198.9Z" fill="#ffe060" fill-opacity="0.16"/>
<path d="M187.6,200.9 C187.6,203.1 187.5,210.7 188.9,213.1 C190.3,215.5 194.0,215.6 196.0,215.4 C197.9,215.2 200.0,213.9 200.8,211.9 C201.7,210.0 201.1,205.4 201.1,203.9 C201.1,202.5 201.5,203.8 200.7,203.1 C199.9,202.4 198.1,200.4 196.1,199.8 C194.0,199.2 189.9,199.6 188.4,199.8 C187.0,200.0 187.5,198.7 187.6,200.9Z" fill="#ffe2c4" fill-opacity="0.16"/>
<path d="M182.3,213.6 C182.5,214.7 182.4,217.8 183.6,219.3 C184.7,220.7 186.8,221.9 189.2,222.3 C191.6,222.7 196.5,221.9 198.1,221.7 C199.7,221.5 198.6,222.0 198.9,221.2 C199.2,220.3 199.9,217.6 200.0,216.7 C200.1,215.8 200.9,216.2 199.5,215.6 C198.1,215.1 194.6,214.0 191.9,213.5 C189.2,212.9 185.0,212.5 183.4,212.4 C181.9,212.3 182.8,212.5 182.6,212.7 C182.4,212.9 182.2,212.5 182.3,213.6Z" fill="#fff0cc" fill-opacity="0.16"/>
<path d="M191.3,188.3 C191.6,189.5 192.6,192.6 193.4,194.7 C194.3,196.8 195.7,197.1 196.6,200.9 C197.4,204.7 197.9,214.9 198.7,217.7 C199.4,220.6 200.6,219.0 201.3,218.0 C201.9,216.9 202.4,214.2 202.6,211.3 C202.8,208.5 202.9,203.6 202.6,200.8 C202.2,198.0 201.4,196.2 200.5,194.4 C199.6,192.6 198.6,191.0 197.2,190.0 C195.7,188.9 192.8,188.1 191.8,187.8 C190.8,187.5 191.0,187.2 191.3,188.3Z" fill="#f848e8" fill-opacity="0.16"/>
<path d="M204.9,167.1 C204.5,169.3 203.4,175.5 202.8,179.7 C202.3,183.9 201.6,190.2 201.4,192.3 C201.2,194.5 201.3,193.1 201.7,192.8 C202.2,192.5 203.6,192.6 204.3,190.4 C204.9,188.3 205.3,183.5 205.7,179.8 C206.2,176.1 206.8,170.4 206.8,168.2 C206.8,166.0 205.8,167.0 205.5,166.8 C205.2,166.7 205.4,165.0 204.9,167.1Z" fill="#f8b0d8" fill-opacity="0.16"/>
<path d="M207.5,175.6 C207.4,177.5 206.8,183.5 207.5,186.4 C208.3,189.3 211.0,191.9 211.9,193.0 C212.8,194.2 211.7,194.1 213.0,193.3 C214.3,192.6 218.3,191.1 219.8,188.8 C221.3,186.5 222.5,182.2 222.1,179.5 C221.6,176.8 219.4,173.3 217.1,172.5 C214.8,171.7 209.8,174.1 208.2,174.6 C206.6,175.2 207.6,173.6 207.5,175.6Z" fill="#b0d89c" fill-opacity="0.16"/>
<path d="M205.4,192.4 C205.3,194.7 204.9,201.9 205.4,205.2 C206.0,208.4 208.0,210.6 208.7,211.8 C209.4,213.0 208.3,212.6 209.7,212.3 C211.2,212.0 215.0,211.9 217.4,210.0 C219.8,208.2 223.0,204.0 224.1,201.1 C225.2,198.3 225.6,194.8 224.0,192.9 C222.5,190.9 217.8,189.5 214.8,189.3 C211.9,189.1 207.6,190.9 206.1,191.4 C204.5,192.0 205.5,190.1 205.4,192.4Z" fill="#98d898" fill-opacity="0.16"/>
<path d="M216.9,172.4 C216.8,173.9 216.6,178.1 217.0,180.1 C217.4,182.1 218.6,183.7 219.2,184.5 C219.7,185.3 219.5,185.7 220.3,185.0 C221.1,184.2 223.7,182.2 224.2,180.0 C224.6,177.9 223.4,173.6 223.1,172.2 C222.8,170.8 223.2,171.6 222.3,171.5 C221.5,171.3 218.8,171.3 217.9,171.4 C217.0,171.6 217.1,171.0 216.9,172.4Z" fill="#5cc828" fill-opacity="0.16"/>
<path d="M222.2,179.9 C222.3,181.9 222.4,188.5 223.4,190.8 C224.3,193.0 227.1,192.9 228.0,193.3 C228.9,193.7 228.6,193.4 228.9,193.3 C229.1,193.2 229.0,194.0 229.4,192.7 C229.8,191.4 231.7,187.9 231.4,185.6 C231.2,183.4 229.4,180.1 228.0,179.0 C226.6,177.8 224.0,178.7 223.0,178.8 C222.0,179.0 222.1,177.9 222.2,179.9Z" fill="#80f020" fill-opacity="0.16"/>
<path d="M238.9,136.7 C237.1,139.7 237.0,142.5 236.8,150.4 C236.6,158.3 237.5,176.3 237.9,184.0 C238.2,191.8 238.0,194.3 238.9,196.8 C239.9,199.4 242.3,199.7 243.7,199.3 C245.1,198.9 247.0,196.8 247.4,194.6 C247.9,192.4 246.4,189.6 246.4,186.1 C246.4,182.6 247.3,178.0 247.4,173.5 C247.6,169.0 247.1,163.0 247.4,158.9 C247.8,154.7 248.5,151.6 249.5,148.5 C250.6,145.3 253.2,142.9 253.7,140.0 C254.3,137.1 253.0,132.8 252.7,131.3 C252.4,129.8 252.8,130.8 252.0,130.9 C251.2,131.0 249.9,131.0 247.7,132.0 C245.5,132.9 240.7,133.6 238.9,136.7Z" fill="#eeeea0" fill-opacity="0.25"/>
<path d="M284.9,122.0 C284.6,122.9 283.5,125.7 283.6,127.3 C283.7,129.0 284.7,131.5 285.3,131.9 C285.9,132.3 286.7,131.1 287.1,129.5 C287.5,128.0 288.1,124.0 287.8,122.7 C287.5,121.4 285.9,121.8 285.4,121.7 C284.9,121.5 285.2,121.0 284.9,122.0Z" fill="#5ea5d8" fill-opacity="0.16"/>
<path d="M258.4,119.9 C258.4,120.8 258.2,122.6 258.5,124.2 C258.7,125.9 259.3,128.9 259.7,130.0 C260.0,131.0 259.9,130.5 260.6,130.4 C261.4,130.3 263.1,130.7 264.1,129.2 C265.2,127.7 266.3,122.7 266.7,121.3 C267.1,119.8 267.1,121.1 266.6,120.4 C266.1,119.8 265.0,117.7 263.7,117.5 C262.5,117.2 259.9,118.6 259.0,119.0 C258.2,119.5 258.5,119.1 258.4,119.9Z" fill="#0ab0f0" fill-opacity="0.16"/>
<path d="M263.8,119.3 C264.2,120.2 264.9,122.5 266.1,123.8 C267.3,125.1 269.2,126.7 271.0,127.2 C272.8,127.8 275.5,128.2 276.9,127.0 C278.3,125.8 279.0,121.3 279.3,120.0 C279.7,118.6 279.7,119.4 278.7,119.0 C277.7,118.6 275.5,117.7 273.2,117.5 C270.8,117.3 266.1,117.8 264.5,117.9 C263.0,118.1 264.0,118.2 263.8,118.4 C263.7,118.6 263.4,118.4 263.8,119.3Z" fill="#7ae8f5" fill-opacity="0.16"/>
<path d="M259.5,128.5 C259.7,130.2 260.1,135.3 260.8,138.0 C261.5,140.8 262.5,143.4 263.8,145.0 C265.1,146.6 267.5,147.1 268.4,147.5 C269.4,147.9 268.6,148.2 269.4,147.5 C270.2,146.8 272.3,145.7 273.2,143.4 C274.1,141.1 275.0,136.6 274.9,133.8 C274.9,130.9 273.4,127.7 272.9,126.4 C272.5,125.1 273.5,126.3 272.3,125.9 C271.1,125.5 267.7,123.9 265.6,124.2 C263.5,124.5 260.9,126.8 259.9,127.5 C258.9,128.3 259.4,126.7 259.5,128.5Z" fill="#f88c10" fill-opacity="0.16"/>
<path d="M288.9,143.9 C288.4,145.7 287.8,151.5 286.8,154.2 C285.9,156.9 283.5,158.3 283.0,159.8 C282.5,161.4 282.9,162.6 283.9,163.6 C284.9,164.7 287.9,165.7 288.9,166.1 C289.8,166.4 288.9,166.6 289.6,165.8 C290.3,165.0 292.2,163.4 292.9,161.2 C293.7,159.0 293.9,155.4 294.0,152.5 C294.2,149.6 294.1,145.2 293.9,143.6 C293.8,142.1 293.8,143.2 293.1,143.1 C292.5,143.0 290.6,143.0 289.9,143.1 C289.2,143.2 289.4,142.0 288.9,143.9Z" fill="#3fd4c8" fill-opacity="0.16"/>
<path d="M253.2,142.0 C253.1,143.1 252.8,145.7 253.2,147.4 C253.6,149.1 255.0,151.3 255.6,152.1 C256.1,153.0 255.5,152.6 256.4,152.4 C257.4,152.3 260.0,152.4 261.2,151.1 C262.3,149.9 263.6,147.0 263.6,145.1 C263.6,143.3 261.8,141.1 261.2,140.3 C260.7,139.4 261.6,139.8 260.4,139.9 C259.2,140.1 255.2,140.7 254.0,141.0 C252.8,141.3 253.3,140.9 253.2,142.0Z" fill="#f8b098" fill-opacity="0.16"/>
<path d="M260.6,151.3 C260.3,153.1 259.7,157.8 259.5,160.8 C259.3,163.8 259.1,166.2 259.5,169.5 C259.9,172.7 261.2,178.4 261.7,180.3 C262.2,182.1 261.8,180.7 262.5,180.8 C263.2,180.9 265.2,180.9 265.9,180.8 C266.6,180.7 266.0,182.0 266.7,180.1 C267.4,178.2 269.2,173.1 269.9,169.5 C270.6,165.9 271.2,162.0 270.9,158.6 C270.7,155.3 270.0,150.9 268.4,149.6 C266.8,148.2 262.6,150.2 261.3,150.5 C260.0,150.8 260.8,149.6 260.6,151.3Z" fill="#f0c010" fill-opacity="0.16"/>
<path d="M251.1,158.7 C250.8,160.2 249.9,164.4 250.0,167.3 C250.2,170.1 251.7,174.5 252.2,176.0 C252.7,177.6 252.0,176.5 253.1,176.6 C254.1,176.7 257.7,176.6 258.8,176.5 C259.8,176.4 258.9,177.4 259.4,175.8 C259.8,174.3 261.5,170.2 261.5,167.2 C261.5,164.3 259.8,159.9 259.3,158.4 C258.8,156.8 259.7,157.9 258.5,157.8 C257.3,157.7 253.3,157.6 252.1,157.8 C250.9,157.9 251.4,157.1 251.1,158.7Z" fill="#f0b868" fill-opacity="0.16"/>
<path d="M242.7,167.1 C242.4,168.6 241.5,173.0 241.7,175.7 C241.8,178.4 243.3,181.9 243.8,183.3 C244.3,184.7 243.9,184.0 244.8,183.9 C245.7,183.9 248.2,184.2 249.4,182.8 C250.6,181.4 251.8,178.3 252.0,175.6 C252.3,173.0 251.2,168.4 250.9,166.8 C250.6,165.2 251.3,166.3 250.1,166.2 C248.9,166.1 244.9,166.0 243.7,166.2 C242.5,166.3 243.0,165.5 242.7,167.1Z" fill="#f0f000" fill-opacity="0.16"/>
<path d="M251.1,175.7 C251.1,177.6 251.4,183.0 252.2,186.3 C252.9,189.5 253.8,192.9 255.5,195.1 C257.2,197.3 260.0,198.9 262.3,199.6 C264.6,200.4 267.9,200.7 269.5,199.5 C271.1,198.2 272.1,195.0 272.0,192.3 C271.8,189.6 270.5,186.3 268.7,183.4 C266.8,180.5 263.6,176.1 260.9,174.7 C258.1,173.2 253.6,174.4 252.0,174.6 C250.4,174.8 251.1,173.7 251.1,175.7Z" fill="#f0b030" fill-opacity="0.16"/>
<path d="M248.2,193.8 C248.2,196.7 248.0,206.9 249.1,210.6 C250.1,214.3 253.5,215.3 254.6,216.3 C255.7,217.2 254.5,217.2 255.6,216.4 C256.8,215.6 260.3,214.3 261.4,211.7 C262.6,209.0 263.1,203.3 262.5,200.4 C261.9,197.6 260.0,195.8 257.7,194.6 C255.5,193.5 250.6,193.6 249.0,193.5 C247.4,193.4 248.2,191.0 248.2,193.8Z" fill="#ffe060" fill-opacity="0.16"/>
<path d="M261.6,202.9 C261.5,204.8 261.5,211.5 261.6,213.4 C261.7,215.3 260.8,213.7 262.0,214.2 C263.2,214.7 266.8,216.7 269.0,216.5 C271.1,216.3 273.9,214.9 275.0,212.9 C276.0,211.0 275.8,206.8 275.1,204.7 C274.4,202.5 271.5,200.8 270.6,200.0 C269.7,199.2 271.1,199.5 269.8,199.8 C268.4,200.1 263.7,201.4 262.3,201.9 C261.0,202.4 261.7,201.0 261.6,202.9Z" fill="#ffe2c4" fill-opacity="0.16"/>
<path d="M255.3,212.5 C255.5,213.6 256.1,216.9 256.4,217.9 C256.7,218.9 255.9,218.0 256.9,218.5 C257.9,219.0 260.3,220.7 262.5,221.1 C264.6,221.5 268.7,220.8 270.1,220.7 C271.5,220.5 270.5,220.8 270.9,220.1 C271.2,219.4 271.9,217.4 272.0,216.7 C272.1,215.9 274.0,216.5 271.4,215.6 C268.8,214.7 259.1,212.0 256.4,211.3 C253.8,210.7 255.8,211.4 255.6,211.6 C255.4,211.8 255.2,211.5 255.3,212.5Z" fill="#fff0cc" fill-opacity="0.16"/>
<path d="M266.4,188.3 C266.5,189.2 266.8,192.2 267.5,193.6 C268.2,195.0 269.8,194.9 270.6,196.8 C271.5,198.7 272.4,202.1 272.7,205.0 C273.0,208.0 272.6,212.8 272.7,214.5 C272.8,216.1 272.5,215.0 273.2,214.8 C273.8,214.7 275.4,216.2 276.6,213.5 C277.9,210.8 280.3,202.3 280.8,198.7 C281.4,195.2 281.1,194.1 279.8,192.3 C278.5,190.5 275.4,188.6 273.2,187.8 C271.0,187.1 267.9,187.7 266.8,187.8 C265.6,187.9 266.3,187.3 266.4,188.3Z" fill="#f848e8" fill-opacity="0.16"/>
<path d="M278.4,181.9 C278.3,183.4 278.6,187.4 278.4,190.2 C278.2,193.0 277.3,195.9 277.3,198.7 C277.3,201.6 278.1,205.8 278.4,207.3 C278.7,208.9 278.0,207.5 279.0,208.0 C280.1,208.5 282.9,210.6 284.8,210.2 C286.8,209.8 289.2,207.7 290.7,205.5 C292.3,203.3 293.6,199.9 294.0,196.9 C294.4,194.0 293.7,191.0 293.0,187.9 C292.2,184.9 290.7,180.6 289.3,178.9 C287.8,177.2 286.1,177.4 284.4,177.8 C282.7,178.1 279.8,180.4 278.8,181.1 C277.8,181.8 278.5,180.4 278.4,181.9Z" fill="#b0d89c" fill-opacity="0.16"/>
<path d="M289.9,170.5 C290.0,172.2 290.8,176.5 291.0,179.8 C291.2,183.2 290.6,188.3 291.0,190.5 C291.4,192.7 292.9,192.7 293.5,193.2 C294.0,193.6 294.0,193.5 294.3,193.4 C294.5,193.3 294.2,195.6 295.1,192.6 C295.9,189.6 299.2,179.3 299.3,175.4 C299.4,171.6 297.1,170.5 295.6,169.5 C294.2,168.5 291.7,169.2 290.7,169.4 C289.8,169.5 289.9,168.7 289.9,170.5Z" fill="#5cc828" fill-opacity="0.16"/>
<path d="M295.2,184.0 C295.1,185.6 294.7,190.9 295.3,192.8 C295.9,194.7 298.1,194.9 298.9,195.4 C299.6,195.8 299.1,195.9 299.7,195.4 C300.3,194.9 302.2,194.5 302.4,192.6 C302.7,190.6 301.6,185.2 301.3,183.6 C301.0,182.0 301.4,183.1 300.5,183.0 C299.6,182.9 297.0,182.8 296.1,183.0 C295.2,183.2 295.3,182.4 295.2,184.0Z" fill="#80f020" fill-opacity="0.16"/>
<path transform="scale(.1)" fill="none" stroke="#e8e090" stroke-width="11.5" stroke-linecap="round"  d="M349 1275h0m-103 41h0m5 0h0m17-5h0m3 1h0m2 3h0m14-4h0m2-13h0m2 14h0m1-9h0m4-7h0m3 16h0m7 3h0m8-21h0m14 8h0m2-6h0m1-11h0m5 32h0m686 0h0m2 2h0m19-15h0m3-8h0m6 11h0m0 0h0m1-15h0m8 7h0m1 7h0m666 7h0m21 6h0m14-14h0m9-1h0m1 12h0m17-11h0m7 2h0m11-6h0m5 19h0m5-12h0m14-13h0m678 28h0m-3 7h0m-4 28h0m-21-3h0m-4-33h0m-1 36h0m-10-29h0m-3 29h0m-2-4h0m-12-5h0m-6 0h0m-9-3h0m-11 7h0m-591-10h0m-8 12h0m-3-8h0m-1 5h0m-4-25h0m-3 26h0m-1-12h0m-2 13h0m-8-11h0m-10-20h0m-10 5h0m-9 19h0m-12 0h0m-1 8h0m-16-5h0m-4-24h0m-1 20h0m-7-1h0m-14 4h0m-40 10h0m-14-6h0m-593 5h0m-4-35h0m-20 22h0m-4-4h0m-1 4h0m-22 1h0m-7-16h0m-3 11h0m-7-15h0m-5 8h0m-14 22h0m-8-22h0m-6 0h0m-16 17h0m-628-25h0m-19-3h0m-19 11h0m-5 4h0m-5 5h0m-2 0h0m-8-17h0m-3 23h0m-12 5h0m-1-19h0m-7-12h0m-3 25h0m-8-26h0m-6 13h0m-5 6h0m-10 6h0m-10-1h0m-1-6h0m-1 6h0m-15 6h0m16 15h0m0 0h0m33-6h0m4 3h0m680 17h0m1-12h0m4-2h0m7 25h0m2-17h0m26-12h0m0-2h0m2 10h0m2-6h0m6 15h0m2 1h0m19-20h0m5 26h0m0 12h0m0-12h0m5 11h0m12-2h0m23-14h0m23 11h0m11 0h0m579-28h0m4 31h0m1 2h0m16-6h0m6 1h0m9-26h0m11 1h0m15 14h0m10-4h0m5 0h0m5-13h0m16 11h0m6 15h0m7-23h0m4 27h0m11-32h0m8 26h0m5 10h0m7-24h0m6-2h0m7 15h0m12 4h0m2-29h0m567 14h0m1 10h0m2 7h0m11 5h0m5-14h0m3-22h0m0 7h0m6 0h0m2 14h0m10 2h0m8-2h0m2-15h0m0 30h0m10-27h0m4 19h0m4 5h0m6-18h0m3 0h0m5 16h0m1 4h0m19-16h0m26-9h0m2-2h0m8 10h0m0 2h0m1-15h0m4 17h0m1-15h0m-12 49h0m-1-2h0m-6-12h0m-1 33h0m-10-23h0m-2 21h0m-14-13h0m-4-12h0m0 8h0m-12-15h0m-1 15h0m-1 18h0m-10-12h0m-2-18h0m-16 1h0m-6-2h0m-6 3h0m-5 26h0m-6-5h0m-9-11h0m-6 16h0m-1-21h0m-1-6h0m-4-4h0m-2 25h0m-2-28h0m-1 15h0m-575 3h0m-8 14h0m-9-15h0m-5 17h0m-5-21h0m-14 15h0m-17 5h0m0-1h0m-19-14h0m-18 5h0m-3-7h0m-7 0h0m-8-12h0m-16 34h0m-9-9h0m-9 1h0m-4-15h0m-7 10h0m-592 6h0m-3-11h0m-4-15h0m-6 21h0m-1-17h0m0 5h0m-10 9h0m-29-23h0m-16 4h0m-3 20h0m-2-10h0m-6 20h0m-1-19h0m-2-1h0m-13 20h0m-8-29h0m0 8h0m-14-10h0m-8 0h0m-10-2h0m-10-1h0m0 4h0m-601 14h0m-1 7h0m-14-12h0m-9 24h0m-7-6h0m-1-11h0m-1 5h0m-3 4h0m-10 4h0m-5 4h0m-17-7h0m-39 46h0m8-6h0m4-18h0m0 12h0m0-10h0m4 11h0m1 1h0m1-4h0m4 0h0m4-21h0m0 27h0m2-28h0m0 17h0m7-2h0m1 19h0m0-3h0m2 3h0m6-28h0m1 18h0m0-25h0m1 36h0m4-20h0m6 9h0m2 2h0m1-19h0m3 29h0m1-22h0m1-7h0m1 2h0m3 26h0m1-7h0m0 8h0m0-14h0m1-15h0m2-4h0m2 6h0m3 2h0m2 7h0m4-11h0m2-1h0m2 4h0m9 18h0m1 3h0m3-6h0m1 0h0m0 13h0m2-35h0m0 22h0m1 7h0m2 6h0m2-19h0m3 16h0m0-35h0m1 16h0m2-14h0m5 21h0m5-21h0m583 28h0m3-6h0m0-24h0m0 19h0m7-17h0m7 29h0m7-31h0m19 11h0m12 23h0m3-12h0m3 10h0m3 1h0m22-17h0m2-2h0m7 15h0m5 0h0m1 0h0m11-24h0m3 11h0m14 10h0m3-3h0m6 11h0m9-27h0m0 26h0m0-21h0m582 25h0m1-32h0m19 6h0m9 13h0m11-23h0m2 36h0m3-1h0m5-14h0m16-11h0m4 6h0m2-1h0m2 19h0m4-17h0m3-1h0m7-12h0m13 18h0m1 13h0m2-6h0m0-21h0m5 14h0m10-12h0m3-4h0m4 29h0m2-8h0m2 9h0m13-34h0m0 30h0m0-30h0m1 35h0m13-37h0m571 9h0m2 0h0m4-10h0m2 20h0m17 1h0m6-19h0m5 3h0m22 22h0m4-16h0m4 15h0m2 2h0m1-17h0m3 15h0m3-13h0m13 8h0m11 11h0m6-27h0m4-2h0m3 24h0m2-28h0m4 40h0m6-9h0m2-23h0m1 16h0m-18 46h0m-2-4h0m-10 13h0m0-26h0m-17 16h0m-6 1h0m-5 6h0m-9-16h0m-4 20h0m-7-34h0m-3 27h0m-28 0h0m-17-14h0m-3 13h0m-5-17h0m-577 6h0m-18-15h0m-4 5h0m-5 20h0m-9-27h0m-7 20h0m-2 6h0m-8 0h0m-6 8h0m-3-29h0m-3 14h0m-4-10h0m-4 4h0m-19 4h0m-15-8h0m-3-11h0m-3 11h0m-2 6h0m-3 4h0m-1-1h0m0-4h0m-1 3h0m-9-12h0m-601 29h0m-9-23h0m-1-11h0m-5 3h0m-7 27h0m-1-21h0m-7 15h0m-16-20h0m-2 0h0m-5 9h0m-4 13h0m-4-28h0m-18 5h0m-4 6h0m-4 21h0m-5 0h0m-11-22h0m-5 5h0m-9 2h0m-1-3h0m-3 9h0m-7-8h0m-4-8h0m-12 13h0m-593-2h0m-4-13h0m-3-4h0m-3 0h0m-2 12h0m-2 5h0m-1-19h0m-1 20h0m-1-14h0m-3 27h0m-1-23h0m-1 0h0m-6-10h0m-2 24h0m-2-23h0m-2-1h0m-3 10h0m0 23h0m-3-14h0m-5-9h0m-5-7h0m-3-2h0m-2 12h0m-3-13h0m0 14h0m-1-8h0m-1 24h0m-1-3h0m-8-12h0m-3 3h0m0-13h0m-5 31h0m-4-23h0m-4 15h0m0-16h0m-1-4h0m-6 13h0m-2-14h0m-5 2h0m0 29h0m-1-15h0m-3-24h0m-4 30h0m-3-29h0m-2 22h0m-2-8h0m-2-4h0m-8 27h0m-2-4h0m-22 34h0m4-9h0m10-5h0m8 3h0m15 20h0m7-3h0m0-33h0m4 17h0m3 1h0m20-14h0m4-4h0m0 6h0m6 26h0m18-20h0m2-12h0m5 29h0m3-17h0m16-11h0m1 11h0m0 14h0m11 3h0m2-17h0m618-9h0m94 11h0m12-3h0m10-10h0m6 11h0m587-10h0m0 6h0m38 4h0m29 0h0m24-11h0m0 9h0m17-7h0m18 5h0m5 7h0m15-12h0m0 7h0m586-2h0m0 4h0m3-9h0m5 12h0m12 3h0m12-8h0m14 0h0m11-2h0m13 16h0m12-7h0m13-4h0m-2163 47h0m-11-19h0m-14 25h0m-2-13h0m-14 8h0m-3 8h0m-2-14h0m-2-15h0m-1 16h0m-10 14h0m-7-23h0m-3 3h0m-4 6h0m-3 13h0m-2-7h0m-15 9h0m-4 7h0m-2-26h0m-6 19h0m-5 6h0m-7-16h0m-2-19h0m-7 64h0m6 3h0m3-4h0m1-26h0m22 5h0m8 22h0m2-23h0m17 17h0m7 16h0m4-34h0m3 30h0m1-24h0m7-6h0m25 18h0m6-15h0m1 19h0m-9 43h0m-2-19h0m-16 5h0m-7 23h0m-4-21h0m-33 16h0m-6-8h0m-5-20h0m-9 21h0m-1-11h0m-6 6h0m-15-18h0m-2 2h0"/>
<path transform="scale(.1)" fill="none" stroke="#eef0a0" stroke-width="11.5" stroke-linecap="round"  d="M1005 1318h0m30 0h0m11-4h0m6-19h0m2 24h0m2-28h0m666 24h0m3 3h0m98-5h0m3-7h0m675 11h0m21 18h0m-3 18h0m-5-9h0m-1-16h0m-4 7h0m-19 7h0m-24 14h0m-13-13h0m-12 11h0m-25-1h0m-593-16h0m-13 15h0m0-24h0m-15 1h0m-3-3h0m-1 16h0m-7-13h0m-1 12h0m-18-13h0m-9 11h0m-20 14h0m-5 4h0m-11-37h0m-47 39h0m-608-14h0m-3 8h0m-11 7h0m-9-19h0m-2 18h0m-13-27h0m-50 7h0m0 8h0m-11 8h0m-40 5h0m15 29h0m5-13h0m8 0h0m5 1h0m23-3h0m9 24h0m45-27h0m2 20h0m6-30h0m23 34h0m2-20h0m5 17h0m591-29h0m28 32h0m3-18h0m33-5h0m11 24h0m9 0h0m1-8h0m1 2h0m1 7h0m3-14h0m0-6h0m4 10h0m0-4h0m10 15h0m4-12h0m18-23h0m1 22h0m2-4h0m5 4h0m4-21h0m0 32h0m1-8h0m5-7h0m5-20h0m3 12h0m5 11h0m2-21h0m2 34h0m563-2h0m3 2h0m15-23h0m12 12h0m8-4h0m1 1h0m13-21h0m7 15h0m8-11h0m16 16h0m16 14h0m6-11h0m7 7h0m6-4h0m21 4h0m2-24h0m1 4h0m-6 31h0m-3 17h0m-27-1h0m-40 10h0m-21-27h0m-2 33h0m-3-2h0m-24 5h0m-13-33h0m-5 27h0m-4-21h0m-545 10h0m-4-4h0m-2 11h0m-2-27h0m-7 22h0m-9-23h0m-15 21h0m0-10h0m-4-7h0m0 8h0m-4 18h0m-3-6h0m-2 4h0m-4-26h0m-4 9h0m0 13h0m-4-18h0m-8 15h0m-2 1h0m-8-9h0m0-2h0m-2 1h0m-6 10h0m-1 0h0m-32-3h0m-3-9h0m-3-8h0m-6 0h0m-3 26h0m-5-8h0m-7 11h0m-15 9h0m-3-5h0m-11-14h0m-1 11h0m-5-2h0m-578-16h0m-9 4h0m-7 9h0m-14-25h0m-4 0h0m0 0h0m-8 25h0m-12-12h0m-7 20h0m-3-5h0m-10-2h0m-8-4h0m-24-16h0m-13 15h0m-7 15h0m-9-37h0m-1 19h0m-649 15h0m-26 1h0m-43 36h0m2-23h0m3 24h0m15-29h0m11-3h0m3 16h0m29 8h0m8-1h0m5-4h0m1-5h0m2 4h0m4 5h0m0 9h0m5-28h0m2 10h0m17 2h0m603 14h0m5-4h0m3-13h0m6-9h0m14 15h0m5-8h0m7-10h0m0 18h0m8 6h0m16 1h0m11 2h0m11 0h0m4 6h0m9-23h0m4 10h0m16 14h0m3-25h0m13 10h0m586 16h0m1-13h0m4-24h0m2 27h0m11-12h0m6 6h0m16 12h0m8-6h0m1-5h0m5-4h0m49-17h0m1 11h0m8-10h0m1 4h0m3 0h0m2 3h0m2 23h0m2 6h0m1-28h0m4 1h0m7-4h0m2-6h0m5 2h0m2 8h0m5 11h0m5-13h0m1 10h0m1-14h0m5 7h0m3-9h0m580 29h0m0-2h0m18-2h0m12-13h0m10 13h0m4-3h0m5 10h0m27-22h0m4 24h0m2 27h0m-31 9h0m-18-13h0m-2 11h0m-6 7h0m-6-20h0m-8-16h0m-16 27h0m-9 7h0m0-11h0m-585-25h0m-5 33h0m0-15h0m-24-9h0m-1 13h0m-5 2h0m-1 14h0m-8-10h0m-1-26h0m-5 0h0m-24 5h0m-3 22h0m-25-14h0m-18-10h0m-6 24h0m-2-14h0m-13-12h0m-562 35h0m-2-11h0m-2 11h0m-24-26h0m-2 22h0m-1-2h0m-4-9h0m-2 14h0m-6-4h0m-1-12h0m0 13h0m-6-31h0m-2 14h0m-11 17h0m-5-21h0m-11-4h0m-1 8h0m-3 8h0m-3-6h0m-5 15h0m-16-26h0m-7 28h0m-4-34h0m-5-1h0m-2 16h0m-12-4h0m-6 20h0m-1 4h0m-2-26h0m-4-8h0m-12 22h0m0 8h0m-11-11h0m-592 3h0m-10-4h0m0 12h0m-12-24h0m-6 20h0m-17 1h0m-10-3h0m-2 0h0m-19-13h0m-3-8h0m0-1h0m-2 22h0m-32-19h0m-14 24h0m-1 3h0m-9 23h0m11 12h0m2-29h0m11 24h0m25-17h0m1 12h0m9 16h0m30-17h0m21-6h0m16-7h0m612 29h0m2-14h0m0-14h0m3-7h0m24 18h0m11-15h0m10 29h0m1 4h0m6 2h0m3-35h0m12 29h0m8-1h0m9-6h0m9 4h0m8 2h0m0-3h0m2-4h0m2 15h0m2-25h0m3-10h0m1 34h0m1-13h0m1-19h0m0 28h0m0-8h0m1-1h0m3-23h0m0 15h0m2-2h0m0 8h0m1 7h0m0-22h0m3 24h0m0-31h0m1 11h0m3-5h0m5 6h0m8-11h0m9 0h0m7 22h0m1 14h0m4-21h0m1 5h0m10 10h0m538-4h0m17-27h0m3 28h0m11 1h0m12-9h0m6 0h0m3 17h0m13-35h0m0 1h0m2 17h0m4-16h0m8 27h0m13-20h0m1-11h0m1 24h0m10-11h0m18 11h0m6 11h0m1 1h0m4-33h0m8 2h0m0 18h0m590-10h0m7-13h0m15 28h0m1-24h0m9 15h0m10 16h0m5-20h0m0-13h0m1 17h0m14-12h0m9 32h0m5-37h0m23 28h0m0-2h0m2-2h0m0-17h0m-2 66h0m-7-28h0m-4-3h0m-32 14h0m-5-17h0m-2 32h0m-14-22h0m-7 0h0m-18-4h0m0 26h0m-3-14h0m-593-9h0m-44 8h0m-10-4h0m-4-6h0m-12 9h0m-6 18h0m-3-30h0m0 27h0m-8 2h0m-2-9h0m-1-1h0m-8-19h0m-11 7h0m-2-4h0m-26 9h0m-3 4h0m-538-14h0m-8 12h0m-9 16h0m-4-7h0m-9-23h0m-8-6h0m-4 19h0m-2-14h0m-3 24h0m-2 4h0m0-24h0m-4 24h0m0-33h0m0 17h0m-1-13h0m-2 30h0m-2 3h0m-1-12h0m-2 12h0m-2-30h0m-11 20h0m-36-2h0m-6 10h0m0 4h0m-16-13h0m-5-15h0m-1 9h0m-10 12h0m-7-16h0m-14 23h0m-3-8h0m-2-8h0m-9-10h0m-630-3h0m-17 13h0m-6-5h0m-1 0h0m-14 0h0m-9 9h0m-5-23h0m-9-1h0m-3-1h0m-20 17h0m-6 14h0m-27-20h0m20 57h0m5-23h0m1 20h0m1-20h0m18 14h0m13-7h0m1 8h0m9-16h0m27 10h0m17 22h0m628-13h0m45 2h0m15-13h0m12 16h0m16-1h0m9-8h0m4-18h0m31-1h0m591 2h0m1 11h0m16 12h0m13-5h0m24-18h0m4-4h0m7 30h0m9-11h0m3 0h0m3-10h0m5-5h0m4 33h0m6-1h0m20-3h0m23-9h0m598-12h0m5 5h0m0-2h0m5-6h0m20 15h0m0 3h0m7 7h0m30-17h0m12 16h0m11-24h0m1 40h0m-5-5h0m-9 29h0m-11-8h0m-26 1h0m-14 14h0m-16-20h0m-10-18h0m-2 15h0m-602-17h0m-7 39h0m-25 1h0m-1-4h0m-8-5h0m-11-3h0m-33-15h0m-14 11h0m-1-18h0m-11 22h0m-2-5h0m-9-18h0m-2 0h0m-1-3h0m-12 26h0m-588-25h0m-18 10h0m-4-7h0m0 5h0m-2 7h0m-5 8h0m-6-22h0m0 0h0m-17-1h0m-8 33h0m-21-10h0m-2-6h0m-12-1h0m-16-7h0m0 4h0m-1-10h0m-5 22h0m-9-5h0m-7 17h0m-641-17h0m-2-5h0m-24-17h0m-8 26h0m-20-20h0m-8 30h0m-37-27h0m1 43h0m8-4h0m2 30h0m30 1h0m6-11h0m3-19h0m4-8h0m7 30h0m2-12h0m5-17h0m1 22h0m11 14h0m8-29h0m0 0h0m5-10h0m4 17h0m0 10h0m6 7h0m653-27h0m0 24h0m16-30h0m7 13h0m4 18h0m1-31h0m3-1h0m9 14h0m9-5h0m2 26h0m22-33h0m22 20h0m644 7h0m2-7h0m3-7h0m0 10h0m4-3h0m1-20h0m14 5h0m0 14h0m16-9h0m7-7h0m4 19h0m3 15h0m0-16h0m10-12h0m9 21h0m4-31h0m8 11h0m4 20h0m623-23h0m33 13h0m5 16h0m1-29h0m2-6h0m9 9h0m4 16h0m3 10h0m10-2h0m4 1h0m0-22h0m7-1h0m1-5h0m4 27h0m2 14h0m-4-5h0m-1 1h0m-1 21h0m-12-15h0m-6-3h0m-16 6h0m0-12h0m-6 16h0m-2 5h0m-4 0h0m-3-22h0m-23 8h0m-618-10h0m-7 28h0m-35-24h0m-1-1h0m-14 29h0m-7 0h0m-52-24h0m-7 15h0m-2-15h0m-3-7h0m-623 7h0m-9-2h0m-6 3h0m-11-5h0m-1-3h0m-7 12h0m-12 10h0m-15-15h0m-1 5h0m-9 4h0m-4 7h0m-1-24h0m-10 9h0m-14 15h0m-3 8h0m-641-17h0m-1-4h0m-2-6h0m-9 20h0m-6-2h0m-8-18h0m-8 23h0m-3-6h0m-5-9h0m-2 6h0m-1 17h0m-12-19h0m-4 11h0m-2-10h0m-11 16h0m-19-26h0m2 46h0m6 1h0m8 14h0m20-20h0m9 11h0m17-10h0m20 20h0m11 8h0m4-33h0m652 1h0m21-3h0m6 1h0m21 12h0m4-11h0m32 30h0m659-30h0m46 16h0m8 19h0m36-21h0m615 2h0m38 16h0m8-22h0m7 18h0m2-30h0m29 46h0m-73 9h0m-4-1h0m-632-16h0m-9 12h0m-13-8h0m-8 34h0m-44-11h0m-41-7h0m-631-4h0m0 9h0m-15-15h0m-1 0h0m0 10h0m-26 1h0m-1-10h0m-21 21h0m-3-8h0m-9 5h0m-11-7h0m-641-18h0m-3 23h0m-5 9h0m-19-20h0m-5 14h0m-7-25h0m-15 22h0m-10-18h0m-1 10h0m0 16h0m-14 10h0m31 19h0m8-23h0m5 21h0m16-21h0m2 4h0m2 6h0m3 22h0m4-14h0m1-17h0m7 13h0m8 19h0m638-2h0m48-31h0m19 18h0m3 8h0m4 8h0m8-4h0m699 2h0m19-13h0m0 11h0m6-22h0m16 21h0m643-26h0m22 34h0m2-34h0m25 8h0m18 13h0m-47 28h0m-14-4h0m0 12h0m-6 10h0m-4-32h0m-631 17h0m-9 4h0m-31-6h0m-45 15h0m-658 2h0m-39-21h0m-8 12h0m-27 13h0m-675-29h0m-24 1h0m-3 0h0m-1-4h0m-8-4h0m-3 35h0m-11-32h0m11 42h0m61 15h0m4-12h0m649 16h0m37 6h0m8-1h0m0-20h0m11 14h0m751 5h0m3-15h0m644 22h0m3-28h0m20 18h0m30 13h0m1-26h0m5-10h0m9 5h0m-22 43h0m-33 4h0m-676-5h0m-14 4h0m-7 3h0m-31-16h0m-671 15h0m-38 17h0m-651-18h0m-32 16h0m-4-17h0m-37-10h0m29 41h0m1 7h0m1-9h0m1 15h0m33-1h0m20 20h0m6-9h0m41 34h0m-20-2h0m-6-9h0m-13 24h0m-9-32h0m-31 1h0m0 3h0m53 36h0m18 8h0m20 26h0m15-19h0"/>
<path transform="scale(.1)" fill="none" stroke="#e8f060" stroke-width="11.5" stroke-linecap="round"  d="M937 1543h0m34 1h0m93-5h0m583 10h0m0 8h0m2-15h0m6 6h0m6 8h0m9-8h0m25 2h0m73-2h0m14 8h0m678 38h0m-9-24h0m-7 12h0m-8 8h0m-6-3h0m-3-27h0m-2 9h0m-15-4h0m-10-2h0m-2 15h0m-4 19h0m-18-36h0m-588 11h0m-16 20h0m-12-16h0m-20-5h0m-18 2h0m-5 16h0m0 8h0m-3-37h0m-2 12h0m-3-11h0m-30 30h0m-6-28h0m-5 16h0m-26 3h0m-591-21h0m-7 26h0m-6-26h0m-8 35h0m0-14h0m-2 8h0m-4-21h0m-6 8h0m0 14h0m-7-20h0m-23 17h0m-15-16h0m-11 2h0m-20 23h0m-9-25h0m-13 28h0m11 32h0m5-6h0m12-12h0m3 1h0m3 10h0m25 3h0m13-5h0m2 14h0m0-33h0m11-3h0m51-1h0m601 2h0m0 21h0m16 10h0m20-3h0m8 0h0m17 1h0m3-21h0m6 19h0m4-21h0m9 1h0m22 12h0m3 3h0m2 5h0m8-16h0m2-11h0m603 11h0m4 17h0m0-6h0m16-23h0m0 31h0m15-10h0m4-4h0m30-8h0m2 47h0m0 5h0m-77-9h0m-607-9h0m-19 31h0m-8 1h0m-6-20h0m-7-16h0m-5 32h0m-6-28h0m-1 2h0m-15 24h0m-8-19h0m-7 16h0m-19-13h0m-1-13h0m-13 11h0m-606 19h0m-4 1h0m-6 7h0m-4-2h0m-11-8h0m-4-7h0m-10-14h0m-6-4h0m-14-3h0m-1 6h0m-7 11h0m-1-15h0m-10 23h0m0-21h0m-16 16h0m-756 37h0m4-14h0m3 19h0m30-13h0m9 0h0m15 19h0m22 5h0m658-10h0m10 10h0m1-33h0m15 34h0m12-35h0m27 30h0m15 1h0m9-10h0m3-20h0m15 0h0m616 4h0m0-3h0m5 26h0m0-2h0m3-1h0m2 3h0m13-21h0m4-5h0m17 12h0m8-9h0m17 5h0m0 16h0m18-9h0m8 23h0m633-34h0m5 22h0m0-16h0m0 16h0m1 2h0m0 8h0m10-25h0m3-5h0m38 15h0m14-23h0m13 79h0m-25-13h0m-5 10h0m-1-17h0m-16 14h0m-27 3h0m-3 1h0m-20-37h0m-614 39h0m-4-31h0m-5 30h0m-27-20h0m-2-13h0m-1 14h0m-5 2h0m-4-9h0m-1 13h0m-8 5h0m-12 6h0m-7-26h0m-19 7h0m-12 20h0m0-33h0m-649 33h0m-1-29h0m-8 18h0m-3-25h0m-4 15h0m-3 7h0m-12-16h0m0 24h0m-12 1h0m-1 4h0m-3-8h0m-18-24h0m-682 25h0m-4 2h0m-10-9h0m-10-20h0m-32 16h0m-1 3h0m-4 0h0m-11 20h0m4 6h0m16-4h0m0 8h0m4-3h0m5 23h0m21-13h0m1-10h0m18 19h0m16 7h0m8-28h0m640 3h0m5 0h0m3 16h0m1 5h0m35-18h0m6-11h0m1 35h0m3-3h0m1-26h0m3 29h0m5-6h0m3-1h0m5-28h0m20 21h0m1-1h0m1-14h0m1 0h0m2-1h0m1 32h0m0-30h0m0 0h0m628 16h0m16 0h0m8-20h0m23 23h0m2-20h0m4 18h0m11-1h0m2-21h0m11 32h0m2-33h0m2 22h0m2-21h0m3 37h0m20-31h0m4-9h0m12 4h0m3 8h0m609-3h0m11 7h0m0 9h0m33-14h0m2 13h0m18 4h0m2-20h0m3 10h0m23-14h0m-4 54h0m-12-18h0m-5 25h0m-1-9h0m-23 13h0m-2-19h0m-9 20h0m-4-7h0m-2-21h0m-2 32h0m-5-4h0m-1-1h0m-22-28h0m-619 25h0m-3-25h0m-7 30h0m-7-3h0m-1-21h0m-13 4h0m-2-1h0m-6-3h0m-2 0h0m-18-4h0m-6 17h0m-1 11h0m-3 4h0m-3-32h0m-1 16h0m-7 1h0m-1 19h0m-6-21h0m-3 18h0m-8-8h0m-5-1h0m0-14h0m-630 1h0m-25 8h0m-15-9h0m-33-7h0m-3 1h0m-12 13h0m-19 2h0m-640-19h0m-33 21h0m-21 13h0m-27-30h0m35 58h0m13 7h0m0-23h0m675-2h0m5-4h0m15 7h0m8 14h0m2 15h0m1-24h0m4-14h0m3 33h0m3-8h0m5-19h0m1 14h0m15-13h0m10 9h0m2 15h0m14-16h0m0-12h0m5 8h0m1-11h0m1 22h0m637 4h0m8-10h0m6-2h0m0 1h0m1 5h0m5 14h0m0-14h0m6-4h0m1 15h0m20-10h0m6-18h0m43 5h0m7 26h0m5-34h0m3 13h0m633 9h0m1-11h0m10 14h0m10 9h0m1-24h0m3-10h0m22 21h0m20-6h0m0 11h0m-4 52h0m0-27h0m0 22h0m-7-6h0m-5-1h0m-4-1h0m-19 8h0m-3-20h0m-16 1h0m-3 15h0m-2-26h0m-4 6h0m0 17h0m-5-16h0m0 13h0m-3 16h0m-629-19h0m-2 15h0m-3-31h0m-17 29h0m-1-15h0m-14 1h0m-9-3h0m-3 19h0m-3-19h0m-9 1h0m-7-16h0m-5 30h0m-10-9h0m-14-9h0m-2 15h0m-4 8h0m-626 1h0m-5-19h0m-5-5h0m-6 20h0m-4-11h0m-24-15h0m-6 6h0m-20 1h0m-4 20h0m-11-31h0m-11 25h0m-647-21h0m-9-3h0m-8 33h0m-34-4h0m-5-8h0m-15-5h0m3 19h0m9 7h0m13 5h0m1 19h0m21-22h0m0 23h0m5-26h0m6 6h0m2 18h0m13 4h0m7-24h0m5 15h0m13 10h0m626-21h0m0-9h0m2 32h0m8 3h0m6-36h0m9 27h0m6-31h0m15 13h0m5 14h0m4-18h0m5-2h0m7 18h0m5 5h0m1-29h0m4 36h0m0-26h0m640-8h0m0 16h0m1-6h0m20 23h0m0-1h0m2 2h0m3-16h0m3 7h0m3 8h0m7-32h0m6 18h0m1-6h0m18 12h0m6-13h0m2 14h0m13-17h0m3 5h0m0-10h0m5 3h0m1 18h0m1 10h0m637-4h0m10-16h0m8 16h0m3-15h0m1 8h0m15 4h0m2-22h0m11 11h0m6-11h0m1 15h0m11-20h0m7 12h0m-23 42h0m-1 5h0m-3 3h0m-1-7h0m-30-10h0m-673 3h0m-5 1h0m-9 8h0m-27-4h0m-4-5h0m-1-6h0m-3 20h0m-12-17h0m-668 1h0m-10 17h0m-5 1h0m-20-12h0m-4 11h0m-20-3h0m-9-16h0m-634 19h0m-8-10h0m-9 6h0m-9 17h0m-2-12h0m-24-24h0m-1 7h0m26 48h0m3-7h0m8 11h0m2-8h0m3-2h0m12 1h0m13 12h0m1-11h0m10 6h0m8-11h0m2 18h0m1-16h0m2-4h0m8 12h0m2 12h0m13 3h0m50 42h0m-4-7h0m-8 3h0m-14-20h0m-4 2h0m-11 7h0m0 4h0m-5 2h0m-9-28h0m-6 36h0m-4-3h0m-13-20h0m-2 3h0m-14 0h0m0 3h0m39 21h0m4 17h0m9 14h0m8-13h0m6 18h0m3 4h0m6-17h0m8-8h0m3-15h0m10 12h0m3 5h0m0 9h0m17 3h0m2-7h0m8 10h0m-1 17h0m-15 12h0m-6-5h0m-13-6h0m-4 3h0m-3-5h0"/>
<path transform="scale(.1)" fill="none" stroke="#ffe060" stroke-width="11.5" stroke-linecap="round"  d="M2379 1754h0m-682 0h0m-761 1h0m-8 33h0m3 11h0m4-29h0m10-10h0m9 37h0m700-10h0m87-5h0m1-10h0m671 20h0m3-16h0m20 15h0m19 37h0m-50 1h0m-22-10h0m-625 2h0m-14 0h0m-35 19h0m-14-26h0m-687 2h0m-35-3h0m-51 12h0m24 19h0m73 17h0m2 2h0m651-13h0m35 26h0m0 0h0m11 4h0m1-15h0m36-2h0m648-13h0m2 23h0m32-14h0m26 9h0m-22 47h0m-17-10h0m-13 13h0m-3-16h0m-650-15h0m-16 12h0m-8-9h0m-717 16h0m-23-2h0m-9-7h0m-12-4h0m-41-9h0m-623 36h0m0-1h0m-14-1h0m-9-11h0m-1 3h0m-19 7h0m-29 13h0m38 10h0m4 10h0m7-23h0m2 27h0m6 2h0m0 2h0m2-1h0m1-2h0m2 2h0m6-1h0m2-7h0m4 3h0m4 8h0m6-9h0m1 1h0m6-24h0m0 24h0m12-11h0m4-1h0m2-3h0m1 6h0m3-7h0m0 21h0m3 3h0m1-4h0m7-14h0m0 1h0m1-9h0m3 2h0m571-2h0m19-8h0m11 0h0m9 15h0m22-5h0m15 0h0m10-1h0m648 10h0m14-9h0m1-3h0m25 26h0m20-10h0m16-26h0m685 22h0m2 0h0m50-2h0m9 3h0m4-7h0m1 7h0m0-1h0m2-7h0m9 11h0m1 9h0m3-13h0m0-5h0m7 17h0m5-11h0m1 1h0m7 5h0m3-7h0m5-2h0m1-1h0m6 5h0m9 2h0m7-4h0m0 9h0m2-7h0m3 11h0m7-5h0m41 42h0m-24-21h0m-3-5h0m-2 19h0m-7-22h0m-7 6h0m-5 15h0m-1 2h0m-3-26h0m-2 9h0m-3 27h0m-7-4h0m-11-1h0m0-5h0m-2 0h0m-5-14h0m-2 6h0m-2 1h0m-4 8h0m-2 4h0m-3-21h0m-5 4h0m-9-3h0m0 14h0m-9-19h0m-2-6h0m-1 28h0m-1-5h0m-1 0h0m-2 4h0m-88-25h0m0-5h0m-3 1h0m-542 28h0m-16-14h0m-1 6h0m-9 14h0m-9-23h0m-10 24h0m-7-1h0m-5-20h0m-2 9h0m-3 6h0m-2-10h0m-7 6h0m-2 10h0m-1-13h0m-1-8h0m-9 18h0m-5 0h0m0-5h0m0-13h0m-16 17h0m-2 6h0m-32-31h0m-7 6h0m-48-2h0m-2-3h0m-540 23h0m0-5h0m-10 5h0m-2-16h0m-6-7h0m-6 1h0m-1 22h0m-5-17h0m-3-1h0m-3 24h0m0-22h0m-7 15h0m-6-8h0m-6 17h0m-4-19h0m-12 4h0m0 8h0m-6 0h0m0 6h0m-2 1h0m-3-2h0m-7-17h0m-2 3h0m-6 8h0m-27-12h0m0 1h0m-14 7h0m-4-20h0m-10 8h0m-8-2h0m-528 25h0m0-2h0m-16-12h0m-7 0h0m-2-1h0m-1 11h0m-3 4h0m-4-4h0m-1-20h0m-4-10h0m-4-3h0m-1 8h0m-3 6h0m-2-9h0m-3 7h0m-8-3h0m-1 24h0m0-19h0m-6 15h0m-4-5h0m-1-13h0m-18 16h0m-5 5h0m-5-32h0m-2 28h0m-6 0h0m0-5h0m-1 4h0m-2-23h0m-1 16h0m-1-4h0m0 20h0m0-15h0m-7 1h0m0-12h0m-2-4h0m0 25h0m-1 4h0m-11-1h0m0-3h0m-4-21h0m0 29h0m-2-37h0m-6 10h0m-3-8h0m-10 23h0m-25-15h0m50 55h0m8-5h0m3-20h0m16 6h0m2-1h0m0 18h0m4-1h0m0-13h0m3 4h0m4 8h0m8 9h0m2-27h0m1 27h0m21-29h0m5 27h0m0 4h0m7-26h0m6 22h0m6-21h0m1 15h0m4 6h0m7 8h0m0-11h0m10 8h0m8-1h0m6-10h0m6 3h0m3-19h0m2 1h0m5 27h0m1 1h0m573-27h0m5 14h0m6-5h0m1 14h0m5-21h0m2 18h0m2 0h0m0-23h0m1 4h0m10 0h0m9-4h0m2 15h0m6-23h0m6 18h0m2 10h0m4 12h0m5-17h0m1-8h0m1 21h0m0 1h0m0-36h0m9 12h0m4 4h0m7-10h0m1 15h0m4 4h0m2 11h0m3-36h0m1 9h0m4 14h0m9-16h0m11 29h0m596-37h0m7 26h0m0 7h0m7 1h0m6-16h0m1 12h0m5-26h0m0 4h0m8 1h0m10-3h0m2 21h0m3 5h0m4-8h0m4 3h0m1 12h0m1 1h0m6-11h0m5-27h0m2 12h0m6 14h0m4 6h0m5-21h0m2-10h0m0 22h0m2-24h0m1 16h0m2 1h0m7 13h0m5 1h0m6 2h0m6-5h0m4 9h0m6-30h0m3 10h0m613-15h0m1 21h0m2 4h0m1-21h0m16 8h0m6 23h0m1-3h0m5-14h0m5-10h0m2 3h0m3 25h0m1-23h0m0 21h0m0 0h0m6-17h0m1-17h0m3 19h0m1-9h0m1 25h0m3-35h0m1 1h0m2 4h0m2 20h0m0 8h0m10-23h0m1 4h0m0 5h0m3-20h0m1 34h0m1-22h0m3 22h0m3-11h0m2 2h0m2 3h0m0-22h0m5 16h0m1 16h0m6-24h0m5 5h0m7-7h0m6 20h0m6 2h0m2-26h0m4 30h0m-3 33h0m-1-15h0m-29-1h0m0 5h0m-4 1h0m-8-12h0m-16 5h0m-2-8h0m-2 21h0m-3-10h0m-3 7h0m-1-19h0m-2 29h0m-6-26h0m-3 12h0m-5 16h0m-10-20h0m-6 20h0m-7-37h0m-1 31h0m-3 5h0m-11-8h0m-3-23h0m-599 13h0m-2 14h0m-6-24h0m-2 3h0m-3 26h0m-2-35h0m-2 20h0m-1-16h0m-6 12h0m-2 15h0m0-19h0m-3-5h0m-4 21h0m-1-24h0m-2 17h0m-1-7h0m-6 9h0m-3-23h0m-16 23h0m-1-20h0m0 13h0m-5-14h0m-2-1h0m-3 13h0m-4-13h0m-1 5h0m-1 5h0m-2 6h0m0 10h0m-1 3h0m-1-9h0m-3-12h0m-14 17h0m-6 11h0m-14-21h0m-14-2h0m-3-5h0m-599 0h0m-19-4h0m-2 15h0m-1-9h0m-1 9h0m-2 10h0m-2-17h0m-3 13h0m-4-28h0m-9 24h0m-2-24h0m-3 5h0m0-5h0m-5 6h0m-3 15h0m-9-3h0m-6 5h0m-1 0h0m-3 4h0m-4 7h0m0-2h0m-5-16h0m-3 15h0m-3-13h0m-1 4h0m-1 6h0m-5-8h0m0 19h0m-3-1h0m-7-24h0m0-8h0m-13 33h0m-592-17h0m-2-2h0m-9-18h0m-1 23h0m-3-25h0m-1 27h0m-4-19h0m0-2h0m-1-5h0m-2 5h0m-2-1h0m-1 6h0m-2 11h0m-1 5h0m-1-11h0m0-14h0m-4 16h0m-5-16h0m-4 35h0m-4-37h0m-4 34h0m-2-29h0m-1-5h0m-2 26h0m-2-26h0m-3 23h0m-1-10h0m-5-2h0m-5 6h0m-1 5h0m-8 12h0m-16-7h0m-1-8h0m-2-18h0m-1 11h0m0 4h0m-5 18h0m0-28h0m-4 7h0m-6 9h0m-12-10h0m-1-11h0m33 43h0m13 2h0m6-4h0m1 23h0m2-26h0m3 13h0m0-3h0m10 8h0m1 3h0m3-3h0m2 18h0m10-16h0m3-13h0m1 7h0m7 2h0m1-13h0m1 17h0m20 3h0m17 0h0m10-16h0m585 12h0m24-7h0m5-12h0m2 26h0m3-3h0m2-5h0m0-9h0m0 26h0m0 2h0m1-17h0m4-20h0m2 32h0m1-20h0m11 19h0m25-3h0m1-5h0m1-10h0m3 0h0m1 19h0m1-7h0m2 4h0m3 9h0m0-22h0m12 12h0m7-16h0m611-6h0m5 3h0m2-8h0m2 17h0m9-8h0m5 19h0m1-4h0m0 12h0m1-11h0m0 2h0m2-20h0m4 14h0m2 17h0m2-25h0m2 5h0m9-13h0m0 22h0m2 11h0m1-2h0m1-34h0m8 31h0m6-11h0m3-17h0m1 27h0m24-12h0m5 4h0m12-5h0m2-9h0m2-5h0m0 8h0m622 8h0m10 5h0m1-12h0m0 18h0m4-33h0m1 2h0m1 7h0m0 28h0m10-27h0m0 2h0m4 19h0m1-5h0m5 6h0m0-7h0m7-24h0m6 38h0m6-32h0m8 28h0m1-27h0m3-5h0m6 25h0m2-22h0m3 10h0m2 19h0m2-7h0m3-17h0m1 2h0m6-4h0m1 20h0m3-14h0m7 18h0m5-20h0m2 20h0m-26 25h0m-21-9h0m-2 17h0m-15 0h0m-1 2h0m-9-25h0m-6 16h0m-3-19h0m-665 6h0m-5-2h0m-6 14h0m-2-1h0m-1-4h0m-6-1h0m-7-6h0m-4 5h0m-6 17h0m-4 1h0m-1-25h0m-6 3h0m-1 9h0m-13-10h0m-666-3h0m-6-3h0m-20 10h0m-6-7h0m-9 4h0m-7-3h0m-13-2h0m-627 4h0m-8 17h0m-5-19h0"/>
<path transform="scale(.1)" fill="none" stroke="#f0f000" stroke-width="11.5" stroke-linecap="round"  d="M974 1538h0m51 8h0m19-10h0m601 6h0m70 10h0m63 1h0m9 7h0m585-1h0m69 17h0m-4-10h0m-713 27h0m0-18h0m-20 12h0m-6-14h0m-8 13h0m-32 8h0m-14-8h0m-591 11h0m-3-28h0m-32 18h0m-83-19h0m29 58h0m4-11h0m32-1h0m8 15h0m643 5h0m5-29h0m44 29h0m42-16h0m3 13h0m751 32h0m-3 11h0m-15-7h0m-9 3h0m-2-3h0m-4-1h0m-5-25h0m-10 27h0m-7-4h0m-1 5h0m-13 6h0m-15-8h0m-5 3h0m-8 0h0m-631-24h0m-10 8h0m-69 2h0m-7-16h0m-31 20h0m-6 1h0m-595-18h0m-7 23h0m-31-19h0m-51 29h0m-16-29h0m-624 31h0m-14-4h0m-95 16h0m7 28h0m26-31h0m5 17h0m16-5h0m9-7h0m5 20h0m4-21h0m1 12h0m5 4h0m9-21h0m11 19h0m3-14h0m1 28h0m0-16h0m1 15h0m2-10h0m0-27h0m0 25h0m2 4h0m2-11h0m2-11h0m3 24h0m4-7h0m1-10h0m8 14h0m3 1h0m0-1h0m4-3h0m2 3h0m588-20h0m8-2h0m13 25h0m3-9h0m22 8h0m2-30h0m1 30h0m4-7h0m13-3h0m14 16h0m2-24h0m0 0h0m3 15h0m3-1h0m3 6h0m3-8h0m6-7h0m1 14h0m1-25h0m5-2h0m5 20h0m5 11h0m1-12h0m590 3h0m49 4h0m2 0h0m3 0h0m1 4h0m0-18h0m8 12h0m4 6h0m1-1h0m2-15h0m7 10h0m7-16h0m1 13h0m5-9h0m2 16h0m4-16h0m6-7h0m6 8h0m0 14h0m4-9h0m3-5h0m0 4h0m8-11h0m1 13h0m621-19h0m5 8h0m17 11h0m1 4h0m11-19h0m1 1h0m5 0h0m8 13h0m3 6h0m1-28h0m4 23h0m5-22h0m2 13h0m1 7h0m6-6h0m17 12h0m11-7h0m4 0h0m5-1h0m8 13h0m2 4h0m2 1h0m1-27h0m2 20h0m4 26h0m-1 2h0m-2-19h0m-1 16h0m-2-11h0m-3 25h0m0-17h0m-1-2h0m-4 15h0m-4 10h0m-3-29h0m-5 1h0m-1 30h0m0-17h0m-2 16h0m-12-2h0m-22-21h0m-2 10h0m-14-3h0m-2-8h0m-3 26h0m-1-10h0m-9-29h0m-12 5h0m-11 2h0m-615 21h0m-5 8h0m-2-4h0m-8-28h0m-2-3h0m0 4h0m0 8h0m-1 17h0m-8-18h0m-3 14h0m-3 6h0m-2-23h0m-3 6h0m-2 14h0m-9-8h0m0 10h0m-2-3h0m-7-7h0m-2-6h0m-7 10h0m-10 0h0m-4 12h0m-3-1h0m-1-23h0m-1 14h0m-1-17h0m-1 1h0m-1-6h0m-3 2h0m-1 15h0m-2-20h0m-5 34h0m-1-18h0m-1 12h0m-2-9h0m0 7h0m-21 4h0m-3-27h0m-5 21h0m-10-3h0m-573 5h0m-9-13h0m-4 19h0m-8 5h0m-3-19h0m0-17h0m-1 5h0m-2 18h0m-1-6h0m-4-1h0m-2 15h0m-1-19h0m-2-9h0m-6 18h0m-14 2h0m-1 4h0m-15-18h0m-5 21h0m-2-30h0m-5 13h0m-5 22h0m-7-20h0m0-8h0m-5-4h0m-1 7h0m-1 21h0m-7-16h0m-5 10h0m-3-1h0m-32-3h0m-572-2h0m-1 16h0m-2-26h0m-2-9h0m0 29h0m-10-25h0m-2 1h0m-3-5h0m-5 2h0m-6 0h0m-4 9h0m-5 9h0m0-1h0m-8-8h0m-3 23h0m-1-36h0m-8 20h0m-5-3h0m-6-12h0m-2-5h0m-5 36h0m0-1h0m-5-31h0m0 17h0m-23 2h0m28 56h0m8-20h0m4 19h0m3-14h0m2-25h0m7 16h0m0-5h0m8 2h0m5 22h0m5-31h0m0 31h0m8-20h0m3 11h0m3-24h0m2 10h0m1 11h0m2 3h0m2-8h0m4 17h0m12-7h0m3 9h0m2-16h0m605 6h0m0-13h0m1-4h0m0 26h0m1-16h0m9-2h0m9-17h0m2 0h0m0 23h0m4-12h0m2 25h0m7-35h0m7 9h0m1 3h0m1 13h0m7-22h0m0 11h0m2 22h0m21-1h0m1-1h0m3 2h0m2-18h0m2-7h0m1 18h0m0-11h0m2-19h0m2 4h0m2 7h0m8 27h0m3-11h0m5-14h0m2 19h0m614-25h0m3 6h0m3-9h0m12-1h0m7-3h0m4 34h0m6-35h0m0 36h0m3-12h0m1-6h0m0-10h0m5 26h0m1-3h0m7-7h0m15 16h0m0-1h0m1-13h0m0-20h0m8 12h0m18-4h0m1 18h0m10-21h0m649 18h0m5-23h0m4 25h0m2 6h0m3-4h0m12-11h0m2-2h0m7 15h0m5-22h0m1-11h0m1 15h0m2 20h0m11-33h0m1 30h0m1-26h0m2 31h0m1-6h0m1-12h0m2-15h0m3 16h0m3 2h0m3 8h0m5-12h0m2 0h0m0-19h0m1 18h0m-17 23h0m-1 22h0m-13-1h0m-3-16h0m-2 24h0m-4-12h0m0 9h0m-3-13h0m-3 19h0m0-19h0m-9 21h0m-1 0h0m-2-30h0m-4 3h0m-1 21h0m0-7h0m0-13h0m-1 11h0m-2-14h0m-3 1h0m0 1h0m-666 6h0m0-10h0m-2 11h0m-4-1h0m-1-12h0m-11 7h0m-8-4h0m-7 7h0m-2 22h0m-4-30h0m-17 29h0m-12-13h0m-2 1h0m0 13h0m-1-28h0m0 9h0m-2-7h0m-1 5h0m-9-3h0m-638-5h0m-2 28h0m-1 0h0m-1-32h0m-6 35h0m-2-23h0m-1 20h0m-1-16h0m-4 0h0m-3 2h0m-1 8h0m-1 11h0m-1-39h0m-1 17h0m-6 18h0m-7-3h0m-7-10h0m-1-1h0m-1-14h0m-4 3h0m-4 11h0m-1 0h0m-7 10h0m0-17h0m-3 0h0m0 9h0m-4-10h0m-3-7h0m-5 12h0m-4 11h0m-9-1h0m-4-12h0m-7-14h0m-7 15h0m-600 5h0m-2-16h0m-2-5h0m-2 5h0m-6 5h0m0 5h0m-4 17h0m-3-23h0m-17-2h0m-3-1h0m-2 27h0m-1 4h0m0-7h0m-1 7h0m-4-13h0m-4 10h0m-2-7h0m0-13h0m-1-13h0m-5 6h0m-4 25h0m-1-23h0m-1 24h0m-1-33h0m-5 20h0m-9-10h0m-1 4h0m-45-14h0m-1 11h0m-4 23h0m61 32h0m1-17h0m6 11h0m1 18h0m3-5h0m2-26h0m1 17h0m2 7h0m4-11h0m7-20h0m6 38h0m1-38h0m2 36h0m1-34h0m6 11h0m7 24h0m6-33h0m7 0h0m3 8h0m2-12h0m5 17h0m3-1h0m1 23h0m3-4h0m602-33h0m8 20h0m7 6h0m5 4h0m1 1h0m6-21h0m4-7h0m3 12h0m4-8h0m1-6h0m6 29h0m0-18h0m4 23h0m1-17h0m14 4h0m1-9h0m6 6h0m13-3h0m3-8h0m648-4h0m9 4h0m3 12h0m7-6h0m4 8h0m4-5h0m2-20h0m0 1h0m2 3h0m13 1h0m1-1h0m4 2h0m4 5h0m3-10h0m-1398 69h0m-9-13h0m-2-9h0m-2 22h0m-2-7h0m-7-7h0m-3 18h0m-8-27h0m-3 3h0m0-10h0m0 12h0m-9-9h0m-16 2h0m38 41h0"/>
<path transform="scale(.1)" fill="none" stroke="#5ea5d8" stroke-width="11.5" stroke-linecap="round"  d="M646 1156h0m3-26h0m5 30h0m0-24h0m4 0h0m7 1h0m2-5h0m10 25h0m22-11h0m698 5h0m15-7h0m3 15h0m1-16h0m697 0h0m4-2h0m14 1h0m1 12h0m0-10h0m3 9h0m10-10h0m10 6h0m28 47h0m-7 0h0m-1-11h0m-1 10h0m-14-4h0m-1-21h0m-2-2h0m-4 22h0m-1-27h0m0 10h0m0 13h0m-3 7h0m-1 2h0m-3-18h0m-2 20h0m0 1h0m-3-34h0m0 26h0m-7-24h0m-7 25h0m-2-19h0m-1 26h0m-1-9h0m-4-22h0m-9 20h0m-682-8h0m-1 16h0m-3-11h0m-1 14h0m-3-23h0m-6 24h0m0-5h0m-4-18h0m-5 11h0m-4-25h0m0-2h0m-683 31h0m-1 0h0m-5-12h0m-1 2h0m-3 1h0m-5 6h0m-4-14h0m-4 0h0m-4-4h0m-3 25h0m-5-35h0m-5 19h0m-3 19h0m0-33h0m-7 6h0m4 59h0m1-7h0m1 12h0m3-19h0m5-15h0m0 8h0m4 3h0m2 5h0m4-1h0m2-14h0m6 1h0m6 12h0m1 4h0m5-16h0m6 37h0m1-31h0m4 22h0m5-12h0m658 13h0m3 0h0m1-17h0m0 24h0m3-21h0m3 11h0m21 2h0m7-16h0m3-7h0m4-3h0m3-3h0m1 10h0m1 11h0m3 12h0m0-4h0m680-4h0m5 6h0m0-24h0m8 28h0m1-16h0m1-14h0m5 9h0m9-12h0m3 27h0m4-4h0m2 8h0m6-6h0m3-21h0m0 7h0m2 18h0m2-9h0m9-15h0m2 12h0m1 11h0m668-11h0m6 8h0m5-8h0m14 19h0m2 3h0m-2 7h0m-5-9h0m-9 8h0m0 0h0m-3-5h0m-3 2h0m-4 19h0m-1-7h0m-4-13h0m-671 25h0m-5-22h0m-1-7h0m-1 25h0m-6-2h0m0-12h0m-6-10h0m-3 33h0m-11-11h0m-6-24h0m0 6h0m-8 25h0m-3-21h0m-5 15h0m-4 12h0m-3-29h0m-1 23h0m-7-4h0m-669-10h0m-1 18h0m-2-18h0m-2 18h0m-10-9h0m-11 4h0m-8 4h0m-2-25h0m0 25h0m-8-31h0m-6 6h0m0 24h0m-13-15h0m0 19h0m-1 0h0m-652-13h0m-5-3h0m-1-20h0m-1 2h0m-11 15h0m-8-4h0m-5 24h0m-3-22h0m-3 9h0m-3-17h0m-10 15h0m-2 16h0m-3-3h0m-4 4h0m-1-6h0m-2-2h0m-24 43h0m6-8h0m1 10h0m0-8h0m2 6h0m5 5h0m8-5h0m1-27h0m1 19h0m2-4h0m7-8h0m2-3h0m10 4h0m11 13h0m3-12h0m0 22h0m3-2h0m23-32h0m663 2h0m4-2h0m2 7h0m4-5h0m6-6h0m3 35h0m10-10h0m9-13h0m0-9h0m3 30h0m0-31h0m1 21h0m4 11h0m7-34h0m661 14h0m12 2h0m7 2h0m25 5h0m10-9h0m699-3h0m5 3h0m4 15h0m2 0h0m-1436 20h0m-2-6h0m0 35h0m-2-35h0m-5 11h0m-3-2h0m-2 22h0m-2-28h0m-9 5h0m-1 20h0m-1-2h0m-1-2h0m0-7h0m-2 13h0m-717-21h0m-7-3h0m-1-4h0m-1 8h0m723 34h0m1 9h0m17-10h0m3-5h0m4 36h0m0-10h0m5-3h0m-5 49h0m-5-11h0m-7-5h0m-1 15h0m-3-19h0m-1-5h0m2 36h0m0 6h0m9 6h0m7-15h0m1 0h0"/>
<path transform="scale(.1)" fill="none" stroke="#0ab0f0" stroke-width="11.5" stroke-linecap="round"  d="M2644 1192h0m0-5h0m-10 10h0m-1-13h0m-2 4h0m-2 4h0m-6 5h0m-6-7h0m-4-3h0m-14 1h0m-7 5h0m-3 5h0m-700-2h0m-693-10h0m-29 2h0m-13 5h0m-787 46h0m1 1h0m22-12h0m3 3h0m0-21h0m7 28h0m0-29h0m1-2h0m1-1h0m9 27h0m4 2h0m6-8h0m3 6h0m7-10h0m2 8h0m9 5h0m2-4h0m8-11h0m6 6h0m0-1h0m4-3h0m671 15h0m8-20h0m2-13h0m2 23h0m0 5h0m2 1h0m3-7h0m8-13h0m13 21h0m2-34h0m0 25h0m7-22h0m1 2h0m1-1h0m2 27h0m4-4h0m2-23h0m2 22h0m2-10h0m1 12h0m2 2h0m5-3h0m5-16h0m624 28h0m4-18h0m8 15h0m3-13h0m4 0h0m12 10h0m0-29h0m3-3h0m7 13h0m0 19h0m1-28h0m17 27h0m4-28h0m2 16h0m5-6h0m5 15h0m4 5h0m675-21h0m0 3h0m8 16h0m1-15h0m3 1h0m13 5h0m2-8h0m4-14h0m16 35h0m1-31h0m0 0h0m4 20h0m0-9h0m3-3h0m1 17h0m9 8h0m-2 22h0m-3-15h0m0 12h0m-5 3h0m-2-19h0m-3 37h0m-4-22h0m-5 16h0m-2 3h0m-1-18h0m-8 11h0m-1 1h0m-2 8h0m-17-37h0m-6 6h0m-1 2h0m-688-3h0m-8 11h0m-4 7h0m-3 3h0m-1-1h0m-1-16h0m-6 3h0m0 7h0m-3-19h0m-1 22h0m-17-3h0m-7-8h0m-12 5h0m0-13h0m-5 26h0m-2-17h0m-2 27h0m-4-20h0m-2-8h0m-6-8h0m-1 30h0m-1-12h0m-1-18h0m-5 31h0m-1-18h0m-1-2h0m-4 5h0m0 7h0m-7-18h0m-1 25h0m-597-17h0m-2-14h0m-3 2h0m-8 16h0m-2-17h0m-2 7h0m-4 2h0m-4 2h0m-9-3h0m-5 9h0m-1-10h0m0 26h0m-6-10h0m0 6h0m-2 0h0m-694-29h0m-10 5h0m-4 6h0m-4-3h0m-3 0h0m-3 20h0m-2-14h0m0 8h0m-3-16h0m-2 23h0m-2-31h0m-4 16h0m-3 5h0m-1 10h0m-3-2h0m-1 4h0m-10-34h0m0 37h0m-4-27h0m-3-2h0m-15 17h0m-2 14h0m-2-25h0m-19 23h0m-4 1h0m-7-9h0m6 14h0m7 5h0m5 9h0m1-7h0m14-11h0m5 15h0m1-5h0m14 0h0m12-5h0m1405-1h0m10 16h0m3-3h0m1-13h0m9 1h0m2 4h0m4-2h0m1-7h0m8 2h0m754 5h0m0 14h0m6-6h0m3 3h0m12-17h0m3 3h0"/>
<path transform="scale(.1)" fill="none" stroke="#7ae8f5" stroke-width="11.5" stroke-linecap="round"  d="M2754 1189h0m-20 0h0m-4-7h0m-2-6h0m-4 20h0m-4-9h0m-6 12h0m-20-17h0m-3 3h0m-2-7h0m-1 12h0m-5 10h0m-19-15h0m0 8h0m-21 6h0m-576 0h0m0-2h0m-20-5h0m-20 1h0m-6-11h0m-4 11h0m-4-11h0m-24-1h0m0 15h0m-1-16h0m-6 2h0m-10 9h0m-5 1h0m-6 5h0m-12-13h0m-18 6h0m-1 2h0m-621 1h0m-8-10h0m-19 2h0m-10-8h0m-2 3h0m-4 20h0m-6-31h0m-9-1h0m-4 8h0m-3-1h0m-7 0h0m-3 18h0m-1-2h0m0 3h0m-7-9h0m-2-11h0m-1 20h0m-4-3h0m-18 5h0m-4 0h0m-7-12h0m-641 12h0m-2 1h0m-11-4h0m-4-7h0m-6 7h0m-6-1h0m-3 3h0m-2-5h0m-7 5h0m-3 4h0m-13-19h0m-1 5h0m-14 9h0m-12-12h0m17 28h0m3-9h0m3 28h0m1-12h0m19-2h0m3 11h0m10-24h0m1 10h0m0 3h0m6-8h0m8 9h0m3 23h0m0-6h0m2-30h0m1 29h0m1-12h0m5-6h0m2-2h0m3-4h0m4 6h0m2 11h0m13-3h0m1-18h0m5 20h0m0-1h0m3-2h0m2 2h0m0 15h0m1-11h0m17 12h0m601-35h0m8 9h0m6-5h0m6 4h0m2 23h0m4-23h0m6 0h0m5 0h0m5-3h0m0 5h0m2 18h0m5-13h0m1-5h0m4 4h0m2 14h0m6-21h0m4 9h0m4-11h0m3 15h0m0-12h0m3-12h0m4 32h0m1-1h0m2 0h0m0-19h0m4 25h0m3-25h0m1-9h0m5 3h0m6 30h0m3-7h0m3 1h0m8 0h0m3 1h0m6-9h0m618-22h0m3 6h0m5 25h0m1-4h0m3-1h0m6-16h0m2-4h0m1 22h0m1-7h0m13-9h0m2 26h0m11-28h0m7 22h0m1-26h0m0 23h0m2-23h0m1 18h0m1-18h0m1 7h0m1 22h0m2-33h0m0 32h0m4-8h0m6 9h0m8-5h0m6-8h0m1-21h0m4-1h0m10 33h0m1-3h0m5-7h0m5 2h0m10-4h0m3 10h0m1-25h0m8 15h0m575-1h0m2 2h0m2 11h0m5-18h0m3 9h0m9-7h0m1 16h0m0-32h0m0 21h0m10-8h0m9 1h0m2 10h0m5 6h0m13-24h0m7 31h0m1-27h0m1-8h0m0 17h0m13 20h0m2-19h0m0 0h0m3 14h0m3-4h0m1-18h0m7 1h0m1 10h0m1 14h0m1 0h0m6 0h0m11-19h0m0 9h0m5 8h0m2-17h0m-8 25h0m-10 25h0m-4-20h0m-1 1h0m-1-8h0m0 7h0m-8 1h0m-5 6h0m-3 6h0m-1-7h0m-7 7h0m-1-16h0m-3 17h0m-6-11h0m-1-8h0m-6 6h0m-3 17h0m-1-14h0m-4-3h0m-1 0h0m-2 19h0m-5-22h0m-2 4h0m-10 2h0m-1-12h0m-593 10h0m-2 5h0m-8-7h0m-1 11h0m-10 10h0m-1-5h0m-1-12h0m-4 8h0m-2 2h0m-3 0h0m-2 1h0m-1-20h0m-6 30h0m-5-14h0m-3-5h0m-3 4h0m-1-14h0m-12 0h0m-1 7h0m-4-2h0m-4-1h0m-64-6h0m-625 3h0m-3 4h0m-1 3h0m-1-10h0m-9 21h0m-5 8h0m-5-17h0m-4 6h0m-1-12h0m-9 20h0m-5 4h0m-2-19h0m-1 7h0m-2-1h0m-7-17h0m-1-1h0m-7 16h0m-1-18h0m-10 4h0m-618 20h0m-7 4h0m-6-10h0m0 1h0m-7 4h0m-2 11h0m-6 3h0m0-36h0m-1 29h0m0-10h0m-1-7h0m-3 21h0m-9-21h0m-8 11h0m-1-19h0m-2 20h0m-4-4h0m-7 6h0m-3-19h0m-7 7h0m-4-3h0m-1-2h0m-4-7h0m-11 4h0m0 8h0m-24-5h0m-4-8h0m-14 6h0m108 43h0m11 3h0m6-11h0"/>
<path transform="scale(.1)" fill="none" stroke="#f88c10" stroke-width="11.5" stroke-linecap="round"  d="M2724 1268h0m0 5h0m-18-16h0m-2 20h0m-3-9h0m-2-4h0m-12 9h0m-4 1h0m-7-17h0m-1 3h0m-8 10h0m-2-24h0m-2 16h0m-2 18h0m-2-17h0m-1-7h0m-1 3h0m-1 12h0m0-2h0m-2 1h0m-5-3h0m0 4h0m-10 2h0m0 4h0m-11-18h0m-2 17h0m-629 0h0m-26-4h0m-3-5h0m-7 7h0m-17 4h0m-34-1h0m-636 2h0m-38-5h0m-1-7h0m-12 8h0m0-1h0m-9 1h0m-20 4h0m-679-5h0m-5 6h0m-2-5h0m-5-4h0m-2 3h0m-12-6h0m-16 9h0m-52 43h0m9-20h0m6 11h0m10-13h0m7 1h0m6-1h0m3 19h0m0-23h0m1-1h0m9-8h0m1 19h0m12-18h0m0 26h0m0-9h0m3 14h0m2-20h0m15 17h0m4 1h0m11-29h0m3 11h0m3 1h0m1 21h0m10-19h0m3-15h0m17-1h0m2 24h0m0 5h0m9-7h0m1-11h0m4 15h0m1-3h0m590 11h0m2-20h0m5 8h0m1-2h0m1 16h0m7-11h0m9-27h0m0 5h0m4 28h0m9-2h0m4 4h0m2-32h0m1 28h0m4-12h0m0-10h0m0 0h0m2-1h0m0 15h0m1-14h0m6 9h0m13 12h0m1-8h0m2-6h0m5 20h0m7-31h0m6 6h0m2-4h0m3 24h0m7 3h0m7-35h0m2 31h0m2-31h0m1 37h0m2-33h0m6 3h0m2 0h0m9 27h0m3-11h0m588 16h0m10-33h0m0-1h0m5 26h0m3 1h0m0-7h0m6-25h0m0 20h0m5 0h0m10 2h0m3-2h0m4-6h0m17 24h0m5-23h0m1-15h0m1 16h0m9-6h0m2-6h0m2 11h0m4 17h0m3-26h0m12-1h0m5 6h0m0-3h0m10-7h0m1 31h0m0-28h0m0 11h0m2 16h0m2-1h0m1-13h0m4 21h0m0-30h0m0 21h0m2 2h0m2-19h0m2 23h0m1-9h0m5 9h0m3-22h0m5 3h0m567 15h0m3-7h0m1-23h0m1 5h0m9 30h0m3-20h0m3 20h0m1-11h0m5-22h0m4 7h0m2 28h0m3-1h0m0-5h0m2-23h0m1-5h0m0 0h0m2 23h0m0-17h0m7-8h0m0 36h0m3-9h0m3-28h0m4 31h0m6 7h0m1-37h0m6-1h0m6 28h0m11-26h0m5 26h0m12-7h0m4 8h0m7-28h0m2 21h0m3-18h0m8 15h0m0-4h0m2-9h0m1 25h0m12 39h0m-1-13h0m-1 19h0m-4-8h0m-4-21h0m0 20h0m-2-23h0m-1 10h0m-2-10h0m-3-2h0m-9 6h0m-6-7h0m-3 22h0m-5-21h0m-8 19h0m-1-14h0m0 6h0m-4 11h0m-1 8h0m-2 2h0m0-13h0m-2-19h0m-2 18h0m-1-20h0m-12 30h0m0-31h0m-10 14h0m-1 0h0m-1 5h0m-2-13h0m-1 3h0m0 1h0m-10 22h0m-11-19h0m-8 17h0m-6 1h0m-1-13h0m0-14h0m-3 27h0m-2-9h0m-4 8h0m-1-2h0m-1-19h0m-1 12h0m0-10h0m-1 17h0m-3 4h0m-2-9h0m-554 10h0m-5 1h0m-1-14h0m-1 14h0m0-29h0m-8 22h0m0 6h0m-2-1h0m-15-6h0m-3 11h0m-2-29h0m0 7h0m-4 10h0m-4-7h0m-15-19h0m-2 23h0m-2 7h0m-1-16h0m-8-3h0m-3 16h0m-2-23h0m-5 31h0m-1-31h0m0 25h0m0-17h0m-7 5h0m-2 5h0m0-13h0m-7 30h0m-9-23h0m-15-1h0m-4 17h0m-10-4h0m0-12h0m0-12h0m-4 30h0m-1-17h0m-10-9h0m-2 31h0m-5-14h0m-2 9h0m0-22h0m-1 20h0m-579 4h0m-4-5h0m-2-24h0m-1 18h0m-6 2h0m-1-26h0m0 2h0m-8 1h0m-12 32h0m-8-21h0m-3 3h0m-3 15h0m-4 2h0m-2-10h0m-2-10h0m-5 8h0m-1-3h0m-4-6h0m-1-11h0m-18 20h0m-3-12h0m-10 18h0m-1-22h0m-4 17h0m-4 2h0m0-22h0m-3 15h0m-2 7h0m0-17h0m-3-4h0m-3 16h0m-6-3h0m-2 20h0m-5-27h0m-1 11h0m-3-16h0m-1 22h0m-3 6h0m-6 5h0m-2-35h0m-2 5h0m-1 11h0m-6 10h0m-4 8h0m-3-19h0m0-16h0m-3 15h0m-1-11h0m-7 18h0m-544-1h0m-12-22h0m-8 31h0m-10-13h0m-3 16h0m0-5h0m0-21h0m-14 27h0m0-20h0m-3 5h0m-6-3h0m-14-10h0m-1 10h0m0-2h0m-5 23h0m-1-33h0m-5 33h0m-4-20h0m-2 1h0m-4 2h0m-1 8h0m-2-7h0m-2-12h0m-4 13h0m0-12h0m0 7h0m-1-2h0m-9-7h0m-4 20h0m0-7h0m-6-23h0m-2 20h0m-3 15h0m-11-32h0m-7 18h0m-2-5h0m-2 4h0m-4 6h0m-1-2h0m-1-23h0m-5-1h0m-3 13h0m-9 2h0m-1-3h0m-1-7h0m0 6h0m-19 36h0m1-1h0m9 6h0m2 22h0m4-5h0m1-27h0m0 18h0m3 13h0m3 2h0m0-22h0m2-6h0m7 26h0m5-1h0m1 6h0m1-36h0m7 26h0m12 0h0m1-3h0m4-20h0m2 29h0m8-2h0m10 3h0m1-10h0m0-20h0m1 30h0m2-35h0m8 31h0m0-19h0m6 18h0m2-21h0m2 11h0m4-10h0m5 1h0m2-5h0m2 7h0m2-14h0m1 6h0m0 5h0m1-5h0m7 28h0m4-32h0m9 15h0m1 4h0m2-7h0m2 9h0m1-5h0m0-9h0m4 8h0m1 3h0m10 9h0m0-15h0m9 4h0m1 13h0m0 7h0m2-7h0m2-1h0m0-29h0m0 0h0m1 4h0m1 9h0m2 24h0m555-16h0m1-17h0m5 9h0m5-12h0m0 28h0m1-3h0m12-17h0m3 8h0m7 9h0m6 1h0m5-12h0m3 14h0m7-11h0m2 19h0m5-19h0m8-13h0m3-3h0m1 30h0m1-21h0m4-9h0m12 19h0m15-10h0m2 0h0m0 10h0m4-18h0m3 15h0m1-2h0m3 6h0m5-2h0m4-18h0m1 23h0m0-3h0m1 5h0m18 6h0m6-2h0m4-6h0m14-15h0m574-6h0m10 16h0m2 1h0m4-15h0m1 6h0m2 10h0m2 16h0m6 1h0m1-36h0m1 25h0m8-14h0m1 14h0m1-13h0m12-13h0m1 11h0m9 0h0m5-4h0m0 10h0m5-18h0m6 10h0m4-5h0m1 11h0m11 2h0m1 9h0m17-21h0m1 11h0m0 0h0m3 8h0m5-23h0m7 8h0m0 16h0m7-12h0m5 4h0m2 13h0m0-29h0m7 20h0m6 12h0m1-31h0m574 3h0m12 22h0m15 0h0m4-2h0m1-3h0m0-24h0m14 5h0m6 12h0m5 1h0m23 2h0m11-20h0m11 16h0m5 3h0m9-1h0m12 17h0m0 5h0m-4 15h0m0 1h0m-5-10h0m-4 29h0m0-31h0m-5 26h0m-1-10h0m-5-10h0m-11 14h0m-1-1h0m0 6h0m-4 1h0m-8-9h0m-1-5h0m-1 3h0m-1 2h0m-1 2h0m0-18h0m-2 0h0m-1-3h0m-2 12h0m-4 9h0m-8 14h0m-4-8h0m-13-14h0m-6 10h0m-7 8h0m-4-19h0m-608-3h0m-18 11h0m0 3h0m-1-24h0m-4 5h0m-3 20h0m-6-13h0m-1-11h0m0 25h0m-1-6h0m-16 3h0m-3 1h0m-5-17h0m-3-7h0m-4 21h0m-4-15h0m-1 24h0m0-31h0m-1 37h0m-1-32h0m-2 20h0m-1-7h0m-1 1h0m-2-3h0m-9 17h0m-14-7h0m-4-20h0m-4 12h0m-18-15h0m-2 8h0m-11-10h0m-603 9h0m-7 1h0m-5 0h0m-12-2h0m-3-7h0m-6 21h0m-11-15h0m-1 0h0m0 0h0m-2 2h0m-12 1h0m-1-11h0m-3 2h0m-1 25h0m-6-18h0m0 1h0m-10 10h0m-2-14h0m-27 11h0m-6-3h0m-4-11h0m-597 2h0m-9-5h0m-4 8h0m-8 11h0m-5-9h0m-9 3h0m-5-4h0m-3-7h0m-1 6h0m-11-4h0m-17 24h0m-8 6h0m-10-17h0m-4-9h0m-1 16h0m0-23h0m-10 7h0m-7 4h0m-13 2h0m-9 7h0m-15-18h0m-1-3h0m-6 5h0m2227 41h0m10-2h0m8 9h0m17 12h0m2-6h0m1-6h0m0 11h0m6-7h0m3 0h0m0 15h0m1-12h0m1 10h0m12-27h0m2 5h0m15-9h0"/>
<path transform="scale(.1)" fill="none" stroke="#3fd4c8" stroke-width="11.5" stroke-linecap="round"  d="M2924 1436h0m-14-4h0m-1478 7h0m-6-3h0m-2 2h0m-731-8h0m-7-7h0m-2-8h0m-3 19h0m-12-30h0m-1 5h0m-8-4h0m5 47h0m8 23h0m2-28h0m6 13h0m5 11h0m8 4h0m7-7h0m667 7h0m6-17h0m3 15h0m3 6h0m1-15h0m2 0h0m1-18h0m3 30h0m1-25h0m3 17h0m7-13h0m3 4h0m4 10h0m3-20h0m5 10h0m2 9h0m0 0h0m1-10h0m1-9h0m2-4h0m1 6h0m4-6h0m4 29h0m2-32h0m4 0h0m4 14h0m5 7h0m3-10h0m7 16h0m4 3h0m4-8h0m0 1h0m3 3h0m1421 10h0m8-36h0m3 24h0m0-21h0m5 2h0m7 2h0m2-6h0m0 24h0m0 4h0m1-29h0m3 12h0m7 12h0m17-3h0m-2 31h0m-4 21h0m-2-9h0m-6-12h0m0-1h0m-3 14h0m-17-16h0m-5 15h0m-3-9h0m-6 8h0m-1-16h0m-3 13h0m-2 17h0m-2-19h0m-3 10h0m0-13h0m-682 12h0m-16 4h0m-2-22h0m-3 8h0m-3-13h0m-2 3h0m-9 10h0m-1 9h0m-8-7h0m-3-8h0m-1 8h0m-7-6h0m0 10h0m-2 1h0m-1 8h0m-1-13h0m-3-2h0m-11 6h0m-3 8h0m-2 3h0m-10 1h0m-630-7h0m0-7h0m-5-1h0m-2-21h0m-2 7h0m-2 9h0m-4 17h0m-6-17h0m-18 9h0m0-3h0m-19 12h0m-20-30h0m-2 8h0m-10 10h0m-11 9h0m-1-31h0m-9 18h0m-631 16h0m-3-12h0m-3 0h0m-1 14h0m-1-26h0m-8 15h0m-4 4h0m-2-10h0m-1-20h0m-14 33h0m-9 5h0m-10-32h0m0 17h0m-1-1h0m-4 7h0m-4-15h0m-4 9h0m-4 12h0m-6-21h0m-2 2h0m-2-12h0m-4 19h0m-2 15h0m-8-2h0m-1-5h0m5 16h0m1 1h0m9 11h0m12-5h0m9-10h0m10 35h0m6-35h0m5 1h0m1 5h0m1 7h0m1-7h0m2-2h0m0 15h0m7 6h0m1 10h0m0-6h0m5-20h0m0 13h0m8-15h0m1 11h0m1-16h0m8 0h0m1 5h0m10-8h0m6 14h0m8 4h0m614 11h0m1-24h0m9 16h0m8-8h0m1-8h0m1 17h0m2-22h0m1 9h0m1 8h0m11 10h0m8 8h0m5-19h0m0-4h0m6 1h0m2 20h0m2-20h0m1-11h0m9 29h0m1-6h0m11-23h0m10 30h0m3-3h0m5-3h0m1-13h0m2-15h0m8 18h0m623-11h0m1-5h0m1 36h0m5-21h0m0 10h0m0-23h0m7 20h0m7-20h0m2 13h0m1 10h0m0 1h0m9 6h0m3-3h0m1-8h0m2 0h0m9-2h0m10 0h0m7-9h0m2 8h0m2 8h0m3-23h0m19-1h0m2 17h0m8-22h0m4 36h0m0-7h0m1-25h0m7-1h0m657 32h0m5-26h0m1 30h0m1 0h0m1-27h0m6-5h0m2 3h0m10-5h0m2 33h0m2-36h0m0 20h0m4-13h0m1 8h0m4-4h0m3-5h0m5 16h0m5 10h0m6-8h0m3-19h0m0 19h0m6-20h0m-13 59h0m-1 12h0m-2-17h0m-4 5h0m-6 8h0m-2-24h0m-1 20h0m-4-27h0m-2-1h0m-12 8h0m-6 10h0m-6 19h0m-4-31h0m-1-2h0m-2 0h0m0 20h0m-2 13h0m-10-14h0m-4-2h0m-6-7h0m-7 13h0m-2 6h0m-5 0h0m-630-32h0m-2 3h0m-9 22h0m-4-8h0m-4 10h0m-13-13h0m-2 10h0m-4-18h0m-14 20h0m0-13h0m-1 17h0m-11-3h0m-1 7h0m-3-33h0m-9 34h0m-4-14h0m-2-16h0m-2-4h0m0 30h0m0-1h0m-2-22h0m0-7h0m-4 22h0m-2-11h0m-5 22h0m-8-19h0m-1 6h0m-628-13h0m0 17h0m-5-3h0m-1-7h0m-2-12h0m-1 6h0m0 7h0m-2-2h0m-2-1h0m-1 3h0m-3-4h0m0-13h0m-3 38h0m0-19h0m-5-13h0m-2 17h0m-3 2h0m-3-8h0m-2-15h0m-10 20h0m-6-11h0m-1 20h0m-1-7h0m0 4h0m-8 0h0m-4-10h0m-5-18h0m-5 5h0m-3 23h0m-1 10h0m-2-35h0m-1 13h0m0-10h0m-1 15h0m-1 11h0m-4-11h0m-1-12h0m0 5h0m-1-3h0m-11 1h0m-2-5h0m-3 15h0m-4-12h0m0 9h0m-1-20h0m-616 21h0m-1-17h0m-1-3h0m-11 4h0m-2 6h0m-3 13h0m-1 7h0m-1 4h0m-3-7h0m-1 2h0m-2-4h0m-1 6h0m-2-13h0m0 10h0m-3-5h0m-3 5h0m-3-12h0m-4 7h0m-2-20h0m-2 3h0m-2 10h0m-1 18h0m-3-23h0m-6-2h0m-9-8h0m21 56h0m3 2h0m1-15h0m1 1h0m3 30h0m1-30h0m3 7h0m2 13h0m2-4h0m1 13h0m6-10h0m9-2h0m4 11h0m3-6h0m3 3h0m1 3h0m1-2h0m1-3h0m5-2h0m620-8h0m2-12h0m1-3h0m2 35h0m3-28h0m2 26h0m0-8h0m5-4h0m4-2h0m13 10h0m7-14h0m3 19h0m1-8h0m9-8h0m4-20h0m3 19h0m1-14h0m2 27h0m4-7h0m9-27h0m655 10h0m1 8h0m6-5h0m5 15h0m3-22h0m1 2h0m9 10h0m4-10h0m2-2h0m5 4h0m0 1h0m2-8h0m6 12h0m13-6h0m1 20h0m5-24h0m2-3h0m2 11h0m0-1h0m2-8h0m7 18h0m658-11h0m4 14h0m3-13h0m0-10h0m12 12h0m1 25h0m10-13h0m6 0h0m2-2h0m1 12h0m2-8h0m2-27h0m0 34h0m1 2h0m0-23h0m3-5h0m2 10h0m10 19h0m2-8h0m9-12h0m6-8h0m8 0h0m6 7h0m-22 31h0m-37-6h0m-7 3h0m-1-3h0m-714 3h0m-4 12h0m0 1h0m-3-11h0m-1-1h0m0 14h0m-4-4h0m-3 12h0m-2 8h0m-6-33h0m-1 19h0m-11 10h0m-666-29h0m-7-1h0m-1 8h0m0-1h0m-5 7h0m-16-8h0m-2 30h0m-2-17h0m-23-18h0m-2 2h0m-649-5h0m-8 8h0m1382 42h0m5-4h0m5 8h0"/>
<path transform="scale(.1)" fill="none" stroke="#f0b868" stroke-width="11.5" stroke-linecap="round"  d="M2588 1584h0m-6 10h0m-6 2h0m-9-3h0m-4-10h0m-2 16h0m-6-19h0m-9 15h0m-7-7h0m-2 0h0m-1 10h0m0 0h0m-7-5h0m-2206 45h0m1 2h0m11-6h0m11 3h0m11-8h0m1 7h0m9 3h0m674-9h0m1 2h0m12 8h0m5-9h0m5-7h0m5 5h0m8-2h0m18-3h0m11-4h0m6 1h0m3 8h0m7 4h0m699 6h0m9-14h0m0 8h0m2-12h0m7 11h0m673-11h0m2 12h0m5-17h0m4 2h0m12 12h0m2-19h0m6 0h0m1 23h0m2-30h0m0-1h0m7 11h0m2 14h0m8 7h0m10-10h0m3-1h0m0-23h0m4 21h0m2-3h0m5 20h0m2-26h0m3-12h0m4 18h0m1 17h0m15 33h0m-4 5h0m-14-24h0m-3 23h0m0-29h0m-8 26h0m-14-10h0m-7 16h0m-4-17h0m-3 14h0m-2-15h0m0 20h0m-6-14h0m-5-1h0m-9-17h0m-8 5h0m-1 5h0m-5 10h0m-5 4h0m-6-25h0m-1 25h0m-653-8h0m0-4h0m-4 5h0m-2-13h0m-1-2h0m-8-6h0m-1 35h0m-4-30h0m-1 13h0m-2-2h0m-14 14h0m0-11h0m-2-13h0m-17 3h0m-13 11h0m-1-20h0m-2 13h0m-4 5h0m-2 13h0m-3-7h0m-7-16h0m-635 21h0m-6-5h0m-1 8h0m0-4h0m-1-2h0m-4-24h0m-2 7h0m0 11h0m-8 13h0m-5-1h0m-3 2h0m-9-33h0m-1 6h0m-1 3h0m-1 28h0m-2-11h0m-10 4h0m-2-3h0m-5-30h0m0 30h0m-8-6h0m-12-24h0m-4 36h0m-2-10h0m-3 13h0m-4-5h0m-654-5h0m-1-4h0m-3-23h0m-2 34h0m-6-5h0m-1-1h0m-2-30h0m-13 34h0m0 2h0m-1-2h0m-4-6h0m-2-15h0m-3-8h0m-1 17h0m-1-7h0m-7 11h0m-3 8h0m-1-3h0m-6-3h0m-7 50h0m3-26h0m1 12h0m3 13h0m2-11h0m0-8h0m2 2h0m4 4h0m4 4h0m9-3h0m6-11h0m17 2h0m1-1h0m2 24h0m10-12h0m5-17h0m0 6h0m652-6h0m1 10h0m2-5h0m2-5h0m2 10h0m5 12h0m0-3h0m7 3h0m8-21h0m1 3h0m0-13h0m2 34h0m10-8h0m1-11h0m4 14h0m1-14h0m3 21h0m9-25h0m14 20h0m2-21h0m2 6h0m9 15h0m3-13h0m6 6h0m5-16h0m631 2h0m6 11h0m6 16h0m1-26h0m2-12h0m1 3h0m6 19h0m3 11h0m1 2h0m6-22h0m2 22h0m0-8h0m5-24h0m3 12h0m11 11h0m3-24h0m11 30h0m1-26h0m3 9h0m7-4h0m4 22h0m2-19h0m1-5h0m1-8h0m1 17h0m1 19h0m647-32h0m1 3h0m5 3h0m6 23h0m3-27h0m2 24h0m0-20h0m7 15h0m1-1h0m1-5h0m3-3h0m8-9h0m4 15h0m3-15h0m6-5h0m16 12h0m7 19h0m0-7h0m1 12h0m0-31h0m2 25h0m7-3h0m5-4h0m2-20h0m14 6h0m2-10h0m-18 71h0m-3 4h0m-8-27h0m-4 21h0m-2 4h0m0-22h0m-6 15h0m-6-6h0m0-6h0m-6-15h0m-2 22h0m-8-20h0m0 21h0m-1-18h0m-5 24h0m-2-25h0m-1 31h0m-2-4h0m0-10h0m-1 0h0m-4-13h0m-5 11h0m-1 9h0m0-7h0m-1-9h0m-666-7h0m-3 15h0m-2-2h0m-2-8h0m-1-7h0m-5 22h0m-4-18h0m-6 32h0m-8-32h0m-2 0h0m-1 31h0m-7-28h0m-5 9h0m-6 14h0m-3-31h0m-1 12h0m-1-2h0m-2-13h0m-1 9h0m0 5h0m-4 21h0m-675-32h0m-12 1h0m0 8h0m-4 10h0m-4-21h0m-5 16h0m-7-9h0m-9 2h0m-20-4h0m-679 11h0m-12-4h0m-3-8h0m-4-4h0m-6 28h0m-6-20h0m-1-5h0m-1 24h0m-7 5h0m-11-26h0m-2 19h0m-1 1h0m0-23h0m-3 17h0m-6-8h0m1480 31h0m4-2h0m28 1h0m5-1h0m3 2h0m693-1h0m4 0h0m21-1h0m9 1h0m17-2h0m6-1h0"/>
<path transform="scale(.1)" fill="none" stroke="#f8b098" stroke-width="11.5" stroke-linecap="round"  d="M2611 1415h0m-1 21h0m-16-34h0m-3 2h0m0 33h0m-8-19h0m0 15h0m-7-19h0m-7-4h0m0 12h0m-4-13h0m-1 15h0m-1-13h0m0 11h0m-3-3h0m-4 21h0m-6-19h0m-6-1h0m-1-7h0m-4 12h0m0 12h0m-4-6h0m0-12h0m-646 12h0m-3-7h0m-2 2h0m-1 1h0m-2-9h0m-28 13h0m-3-9h0m-1 8h0m-22 1h0m-6 1h0m-690-21h0m-2 25h0m-1-2h0m-11-8h0m-3 4h0m-2-21h0m-5 25h0m0-16h0m0 2h0m-1-6h0m-4 12h0m-5 6h0m0 6h0m-3-27h0m-2 27h0m-13-1h0m-15-11h0m-671-4h0m-5-3h0m-1-3h0m-5 8h0m-5 8h0m0 4h0m0-15h0m-3 0h0m-8-2h0m-6 7h0m-7-7h0m-6 20h0m0-11h0m-8 6h0m-5 11h0m12 29h0m2-2h0m1 1h0m1-17h0m4-15h0m6 22h0m4-13h0m2-9h0m3 32h0m1-18h0m3 2h0m11-15h0m8 3h0m1 12h0m1 7h0m13-11h0m660-9h0m2 18h0m1-15h0m1 32h0m0-11h0m2 11h0m1-8h0m13 7h0m6-38h0m4 18h0m18 22h0m15-28h0m1-4h0m0 23h0m1 2h0m2-12h0m0-13h0m6-1h0m1 22h0m5-19h0m9 13h0m3-5h0m4-10h0m648-4h0m1 20h0m0 13h0m1-24h0m3 2h0m1 1h0m1-8h0m1 0h0m13 22h0m4-18h0m2 4h0m3 16h0m2 0h0m0-15h0m0 3h0m3 13h0m2-30h0m6 31h0m7-23h0m2-11h0m1 5h0m5 14h0m0-9h0m3 1h0m3 17h0m14-9h0m1 18h0m2-13h0m5-6h0m0 9h0m7 2h0m2 6h0m629-22h0m4 4h0m8-7h0m0 27h0m5-14h0m1 0h0m3 13h0m1-30h0m3 8h0m5 15h0m3-23h0m4 4h0m2 29h0m5-25h0m0-2h0m8 21h0m3-11h0m1-18h0m1 32h0m7-2h0m0-27h0m2 8h0m12 7h0m1-2h0m1-19h0m1 30h0m1-30h0m0 28h0m6-24h0m6 11h0m-16 41h0m-8-5h0m-2 0h0m-14 23h0m-11 1h0m-1-6h0m-14-8h0m0 4h0m-6-13h0m-4 0h0m-659 21h0m-1-30h0m-5 14h0m-1-13h0m-1 30h0m-1 3h0m-3-14h0m-3 15h0m-3-22h0m-2 4h0m-1-13h0m-7 2h0m-3 12h0m-2 16h0m-1-6h0m-8-17h0m-6-5h0m-3 30h0m-5-23h0m-2 16h0m-1-1h0m-10-23h0m-1 3h0m-1 2h0m-2 23h0m-1-19h0m-3-14h0m-9 0h0m-1 1h0m-647-4h0m-7 31h0m-1-19h0m-1-10h0m-2-2h0m-4 25h0m-1-1h0m-12 3h0m-1-18h0m-1-8h0m-9 12h0m-3-12h0m-7 36h0m-6-20h0m-12 4h0m-1 11h0m0 6h0m-3-36h0m-3-2h0m-9 3h0m-3 22h0m0 5h0m0 7h0m-3-19h0m-651 16h0m-15 4h0m-8-6h0m-2-2h0m-2-29h0m-1 1h0m0 19h0m-3-9h0m-6 23h0m-8-36h0m0 4h0m-2 2h0m-4 25h0m-2-2h0m-4 1h0m-10 6h0m-5-27h0m0 1h0m-3-9h0m11 78h0m4-30h0m0 27h0m3-28h0m6-2h0m0 3h0m1-8h0m6 29h0m3 9h0m4-3h0m10-24h0m2 5h0m1 11h0m0-8h0m2 11h0m6-22h0m2 23h0m9-27h0m9-3h0m663 2h0m0-1h0m15 12h0m3-7h0m8-3h0m1 6h0m3-7h0m12-4h0m1 11h0m687-11h0m5 18h0m23 17h0m12-29h0m2 3h0m2 15h0m0-15h0m3 13h0m0-11h0m1 17h0m10-4h0m13-20h0m684-4h0m-2167 47h0m-33 1h0m0-3h0m-5-1h0m-9 0h0"/>
<path transform="scale(.1)" fill="none" stroke="#f0c010" stroke-width="11.5" stroke-linecap="round"  d="M2675 1499h0m-31 8h0m-1 2h0m-3-2h0m-16-2h0m-3 8h0m-4 3h0m-2-2h0m-6-3h0m-674-7h0m-6 3h0m-3 4h0m-10-9h0m-4 4h0m-7 5h0m-4 3h0m-687-4h0m-7-4h0m-7-17h0m-2 10h0m-15 2h0m-5-3h0m-5 6h0m0-11h0m-6 6h0m-9-2h0m-1 15h0m-5 4h0m-672 1h0m-1-10h0m-2 2h0m-14 0h0m-3 9h0m-2-25h0m-4-2h0m-1 18h0m0-2h0m-7-7h0m-9 18h0m-23-23h0m-4 21h0m-1-14h0m-4 15h0m9 21h0m2 18h0m1-7h0m5-19h0m4 6h0m2 5h0m1-2h0m12 6h0m4-9h0m1 4h0m3-10h0m11 25h0m6 4h0m12-5h0m3 0h0m1-18h0m4-9h0m649 8h0m3-2h0m4-5h0m0 0h0m1 30h0m6-20h0m1 17h0m2-34h0m4 14h0m1 1h0m9-12h0m3 1h0m2 11h0m5-8h0m1 25h0m4-30h0m17 21h0m2 5h0m2-29h0m5 35h0m9-11h0m1 2h0m1-23h0m0-1h0m2 18h0m1-1h0m1 19h0m6 0h0m653-22h0m0-1h0m4-6h0m1 19h0m20-19h0m1-4h0m4 11h0m2-2h0m0 20h0m0 2h0m5-27h0m2-3h0m9 4h0m8-2h0m4 18h0m8-10h0m659 20h0m3-7h0m2-5h0m3-20h0m4 1h0m13-1h0m4 5h0m6 0h0m2 0h0m4 17h0m5-24h0m2 27h0m2-2h0m1 13h0m1-5h0m1-22h0m4-11h0m7 12h0m6 15h0m3-22h0m0 29h0m0-6h0m6-30h0m5 3h0m3 14h0m11 62h0m-1-26h0m-6 23h0m0-1h0m-5-5h0m0-1h0m-3 0h0m-2-12h0m-6-14h0m0 35h0m-7-22h0m-1-15h0m-3 26h0m-8 4h0m-1-23h0m-1 27h0m-5-33h0m-10 21h0m-5-2h0m-3 5h0m-3-19h0m-2 29h0m0-8h0m-4-5h0m-8-23h0m-4 39h0m-1-7h0m-3-3h0m-3 1h0m-7-25h0m0 5h0m-636 18h0m-18-10h0m0 5h0m-5-13h0m-3-6h0m-3-2h0m-5-1h0m-5 23h0m-4-9h0m-2 8h0m0-15h0m-1 12h0m-10 16h0m-5-7h0m-5 3h0m-5-18h0m-2-3h0m-2 26h0m-2-12h0m-3-5h0m-2 12h0m-2-13h0m-7 18h0m-3-1h0m-4-17h0m-2 1h0m-631-9h0m-2 5h0m-8-8h0m-6-1h0m-9 16h0m-2-1h0m-11 13h0m-3-8h0m-10 7h0m-12 2h0m-2-23h0m0-7h0m-5 17h0m-1-15h0m-2 31h0m-3-5h0m-2-6h0m0-2h0m-2 7h0m-5-3h0m-5 9h0m0-11h0m0 4h0m-4-5h0m-3 1h0m0 7h0m0-7h0m-5-1h0m-1-4h0m-655 6h0m-1-15h0m-4-4h0m-2-5h0m-3 28h0m0-9h0m-9-3h0m-7 16h0m-7-32h0m-1 34h0m-8-13h0m-2 4h0m-2-21h0m-4 4h0m-3 3h0m-2 17h0m0-20h0m-1 8h0m0 14h0m-4-3h0m-4-17h0m-5 16h0m-1 3h0m-1-4h0m-13 34h0m2 12h0m3-31h0m2 6h0m2-11h0m8 14h0m6 4h0m2 12h0m6 4h0m9 6h0m2-10h0m2-4h0m1-24h0m2 25h0m1-9h0m7-9h0m3 15h0m0-20h0m3 29h0m2-29h0m3 0h0m3-4h0m0 16h0m9-7h0m3-6h0m658 23h0m3-19h0m0 13h0m9-1h0m1 12h0m1-24h0m10 25h0m5-22h0m3 19h0m0-25h0m2-2h0m1 9h0m3 2h0m3-9h0m0 4h0m1 26h0m5-10h0m1-24h0m3 0h0m3 15h0m6 0h0m2 11h0m11-24h0m4 24h0m2-5h0m4-15h0m1 12h0m2 2h0m8 15h0m3-15h0m644 15h0m0-33h0m2 35h0m0 1h0m13-22h0m10-11h0m1 16h0m10-8h0m2-7h0m5 26h0m1-31h0m2 7h0m4 30h0m1-13h0m2-21h0m6 33h0m2-28h0m4 8h0m1-13h0m4 10h0m2 6h0m12 8h0m3-20h0m2 6h0m640-10h0m1 25h0m0-28h0m1 14h0m1 9h0m21-12h0m0-5h0m4-1h0m0-4h0m1 1h0m1 23h0m9-5h0m7-19h0m8 16h0m9-2h0m3-5h0m5 19h0m4-5h0m11-15h0m0 13h0m4 9h0m5-14h0m1 18h0m2 12h0m-2-5h0m-1 35h0m-19-20h0m-1 21h0m-3-33h0m-13 8h0m-5-4h0m-1 8h0m-1-11h0m-1 26h0m-2-20h0m0 16h0m-2-13h0m-4-9h0m-1 1h0m-5 21h0m-3-15h0m-2 4h0m-11-15h0m-3 13h0m-1 16h0m-3-10h0m-3 13h0m-13-12h0m0-7h0m-1 7h0m-1-14h0m-640 15h0m-5-20h0m-2 32h0m-1-25h0m-6 17h0m-5-4h0m-6 10h0m-2-25h0m0 22h0m0-11h0m-6-8h0m-4 0h0m0 5h0m-2-11h0m-1 2h0m-1 5h0m-1-11h0m-9 31h0m0-8h0m-4-21h0m0 22h0m-17-20h0m-3 10h0m-4 7h0m-2-14h0m0 7h0m-3 14h0m0-7h0m-3-21h0m-644 7h0m-6 10h0m-2-18h0m-1 2h0m-11 17h0m-6 7h0m-4-9h0m-5-17h0m-8 34h0m-3-10h0m-3-4h0m-1 14h0m-5-30h0m0-4h0m-6 29h0m0 10h0m-1-38h0m-5 36h0m0-32h0m-5 1h0m0 22h0m-7 1h0m-8-13h0m0-9h0m-3-6h0m-3 5h0m-677 21h0m-14-11h0m-9-3h0m-2 23h0m0-36h0m-1 11h0m-1-12h0m0 4h0m0-3h0m-5 20h0m-4 7h0m-6-26h0m-1 35h0m-3-20h0m-2-8h0m-6-5h0m-1 5h0m-1-9h0m-8 19h0m-6 24h0m9 5h0m2 17h0m13-24h0m7 16h0m15 22h0m4-11h0m2-20h0m5-8h0m0 24h0m0-2h0m5-12h0m3 11h0m1-9h0m696-10h0m7 0h0m6 5h0m10 10h0m10-6h0m6-9h0m3 14h0m4-3h0m3 15h0m1-5h0m685-21h0m4-1h0m9 12h0m6 19h0m0-19h0m6-9h0m1 21h0m5-23h0m0 32h0m4-8h0m8-5h0m6-2h0m1-8h0m0 23h0m2-33h0m7 6h0m656 28h0m1-2h0m13-20h0m11 2h0m2-4h0m1-1h0m2 1h0m0-11h0m1 33h0m3-13h0m1 17h0m1-23h0m2 1h0m4-9h0m1 19h0m5 8h0m1-24h0m0 19h0m0-6h0m1-17h0m3 29h0m2-6h0m0-23h0m0 29h0m9-24h0m0 0h0m7 8h0m2 20h0m4-29h0m7 14h0m1 3h0m1 6h0m5-20h0m3 15h0m-7 14h0m-6 18h0m-1 2h0m-8 1h0m-1-10h0m-1 20h0m-5-21h0m-2 4h0m-14-13h0m-4 17h0m-15 13h0m0-1h0m-4-6h0m-5-5h0m-1 7h0m-1-8h0m-2 18h0m0-36h0m-11 17h0m0-9h0m0-4h0m-689-2h0m-729-1h0m-739 0h0m-5 24h0m-1-1h0m-13 8h0m-4-33h0m-7 39h0m-1-20h0m-6 13h0m-2-18h0m-1 7h0m-9-20h0m-3 25h0m-3 8h0m-2 5h0m-4-16h0m6 24h0m6 13h0m1-4h0m1 10h0m7-6h0m1 3h0m0 16h0m3-30h0m2 19h0m9-10h0m2 5h0m0-11h0m3-11h0m2 22h0m1-1h0m3-8h0m2 9h0m17-19h0m2169 7h0m6 11h0m5 0h0m14-16h0m1 33h0m0-28h0m3 15h0m1-13h0m0 4h0m0 9h0m2 8h0m0-27h0m16-3h0"/>
<path transform="scale(.1)" fill="none" stroke="#f0b030" stroke-width="11.5" stroke-linecap="round"  d="M389 1716h0m3 2h0m1-5h0m29 5h0m705-1h0m12-1h0m1 3h0m1462 32h0m-3-2h0m-7 10h0m-10-4h0m-36-2h0m-1 6h0m-5-4h0m-8-2h0m-3 0h0m-17 4h0m-605-6h0m-7-3h0m-8-4h0m-10 5h0m-4-19h0m0 0h0m-1-3h0m-6 23h0m-5-21h0m-1 30h0m-4-6h0m-1-17h0m-12 24h0m-23-13h0m-10 9h0m-23-4h0m-598 3h0m-12-14h0m-3 1h0m-14-18h0m-3 6h0m0 10h0m-2 4h0m-6-14h0m-7 26h0m-4-25h0m-3 11h0m-6-9h0m-6-8h0m-2 28h0m-8-1h0m-4 5h0m-6-14h0m-3 13h0m-1-7h0m-2-8h0m-2 9h0m-3-13h0m-9 3h0m-1 16h0m-10-9h0m-11 3h0m-7 10h0m-1-2h0m-2-1h0m-599-2h0m0-5h0m-5 1h0m-2-5h0m-5-8h0m-5 13h0m-7-22h0m-2 2h0m-5 26h0m-4 1h0m-8-34h0m-1 33h0m-10-28h0m-8 22h0m-6-2h0m-7-12h0m-7-6h0m-2 0h0m-4 2h0m-3 26h0m0-11h0m-1-15h0m-2-5h0m0 30h0m-5-7h0m-1-22h0m0-1h0m-8 23h0m-7 19h0m10 21h0m3-24h0m1 8h0m5 13h0m7 3h0m6 1h0m8-1h0m2 3h0m8-3h0m0-26h0m1 16h0m3-8h0m1 7h0m9-16h0m7 11h0m0 4h0m9 9h0m4-16h0m1 10h0m1 1h0m1-2h0m1 4h0m2-17h0m6 26h0m0-23h0m1 26h0m5-15h0m2-13h0m4 18h0m0-6h0m5-4h0m1 4h0m4-3h0m2 9h0m0-22h0m13 28h0m581-4h0m4-5h0m10 3h0m3-26h0m1 37h0m4-37h0m1 21h0m4 0h0m5 15h0m3-17h0m13-18h0m6 8h0m1 26h0m1 1h0m9-27h0m1 24h0m6-14h0m7-13h0m0-6h0m8 2h0m5-2h0m8 0h0m3 23h0m4-2h0m7-13h0m1 12h0m2-11h0m4 14h0m1-17h0m4-4h0m3 15h0m1 1h0m1-1h0m5 22h0m4-29h0m4-6h0m2-2h0m0 10h0m2 17h0m4-1h0m7-7h0m567-14h0m6 22h0m3-16h0m4-10h0m7-1h0m8 25h0m8 7h0m3-1h0m3-21h0m2 2h0m0-5h0m12 2h0m2 16h0m2-4h0m9 8h0m4 0h0m3-6h0m1-17h0m2 24h0m3-24h0m6-8h0m6 38h0m6-18h0m1-8h0m5-9h0m1 25h0m1-23h0m1 0h0m7-4h0m0 27h0m1 2h0m6-26h0m3 22h0m6-17h0m2 23h0m15-12h0m6 15h0m0-18h0m6 8h0m4 9h0m2-1h0m2-1h0m567-20h0m6 6h0m1-8h0m0 21h0m2-9h0m1-11h0m16 18h0m2-21h0m1-7h0m37 20h0m0 17h0m3-21h0m2 21h0m0-9h0m10 5h0m2-24h0m6 4h0m1-4h0m6 7h0m3-1h0m12 4h0m1 8h0m6-8h0m1 19h0m3-3h0m4-7h0m8 9h0m8 25h0m-11-11h0m-1 15h0m0-13h0m-9-1h0m-2 26h0m-2-36h0m-2 30h0m-16-22h0m-3 23h0m-1-34h0m0 14h0m-2-3h0m-1-7h0m-1 10h0m-8-7h0m-3 16h0m-1-18h0m0 18h0m-2-14h0m-1 30h0m-11-32h0m0 9h0m-2 13h0m0-21h0m-5-8h0m-9 4h0m0 12h0m-2 4h0m-2-8h0m-2 17h0m-1-6h0m-1-15h0m-7-7h0m-4 28h0m-6 10h0m-2-29h0m0 12h0m-3-4h0m-2 13h0m-1-1h0m-1-27h0m-4 15h0m-1 21h0m-11-35h0m-559 10h0m0 8h0m-2-9h0m-8 21h0m-1-15h0m0 11h0m-1 6h0m-3-10h0m-1-9h0m-4-14h0m-3 30h0m0-26h0m-6 31h0m-1-38h0m-10 9h0m-4-4h0m-6 6h0m-2 17h0m0-3h0m-2 7h0m-5 0h0m-2-2h0m-1-15h0m-8-2h0m0 26h0m-1-33h0m-2 14h0m-1 0h0m-2-20h0m-3 21h0m-3-2h0m-4 7h0m-9-22h0m-3 24h0m-4-16h0m-2-7h0m0 17h0m-5 10h0m-2-6h0m-9-5h0m-1-17h0m-2 12h0m-4 17h0m-5-9h0m-6-21h0m-8 36h0m0-17h0m-1 10h0m-8-32h0m-7 32h0m-576-23h0m-2 27h0m0-2h0m-1-3h0m-2-9h0m-11 3h0m-1-18h0m0 5h0m-3 14h0m0 3h0m-9-25h0m-10 25h0m-11-16h0m-5 24h0m0 2h0m-6-7h0m-1-28h0m-6 24h0m-7 2h0m-15-4h0m-1-26h0m-10 29h0m-2-13h0m-8-9h0m-5 7h0m-2-9h0m-1 13h0m-2-3h0m-2-7h0m-14 2h0m-4-7h0m0 31h0m-2 0h0m-3-26h0m-1 8h0m-2 0h0m-1 18h0m-4-33h0m0 27h0m-1-22h0m0 1h0m-2 5h0m-11 21h0m0-11h0m-1-22h0m-571 22h0m-2-4h0m-2-16h0m-3 28h0m0-27h0m-12 33h0m-3-30h0m-2-3h0m0 13h0m-7 5h0m0-2h0m0 20h0m-6-18h0m-13 3h0m-3-4h0m-5-17h0m-8 14h0m-5 10h0m-6 11h0m-2-30h0m-2 8h0m0 4h0m-1 11h0m-2 1h0m0-31h0m0 22h0m-1-1h0m-1 9h0m-1-31h0m-6 8h0m-3 21h0m-1-1h0m-1-17h0m-5 23h0m0-4h0m-5-12h0m-4 18h0m-3-16h0m-1-20h0m-3 33h0m0-32h0m0 33h0m-1-18h0m-2 10h0m-14-11h0m0-10h0m14 50h0m16-14h0m2 38h0m1-32h0m3-7h0m1 1h0m2 31h0m9-13h0m9 7h0m10-4h0m6-19h0m13 17h0m13-2h0m0-12h0m12 32h0m2-27h0m5-11h0m1 16h0m3-2h0m4 12h0m7-10h0m4 16h0m4-17h0m3-4h0m1-3h0m4 20h0m8 9h0m557-29h0m13 18h0m5-16h0m0 17h0m5-17h0m4-6h0m6 25h0m3 1h0m13-16h0m0 13h0m11-1h0m1-22h0m0 15h0m3 6h0m1 11h0m2-28h0m2-6h0m4 8h0m7 15h0m5-24h0m1 9h0m5-6h0m5-4h0m5 14h0m5 24h0m6-34h0m2 24h0m3-2h0m0-22h0m2 21h0m3-16h0m3 11h0m5 8h0m0-16h0m14 5h0m4-1h0m1 6h0m1-1h0m1-20h0m6 8h0m5 14h0m571-14h0m2 2h0m5 18h0m8-14h0m8 21h0m1-27h0m3 15h0m1 9h0m3 4h0m6-24h0m1 6h0m0-18h0m10 34h0m1-2h0m4 4h0m4-3h0m2-25h0m4 13h0m11-9h0m3 18h0m0-23h0m3 3h0m10 2h0m5 20h0m5-3h0m3-3h0m0-7h0m12-11h0m0-7h0m4 21h0m3 9h0m5-22h0m1 16h0m3-17h0m5 15h0m9-23h0m1 17h0m6 2h0m3 1h0m6 1h0m5 17h0m6-25h0m2 10h0m567-24h0m4 25h0m3-13h0m11 11h0m5-21h0m4 2h0m1 18h0m2 17h0m1-33h0m2 21h0m1 5h0m8-12h0m0-1h0m7-12h0m8 6h0m6 10h0m3 13h0m0-9h0m1 4h0m3-18h0m2 14h0m2-12h0m1 14h0m3 0h0m2-18h0m2 20h0m7 8h0m8-27h0m7 27h0m7-30h0m12 30h0m5-1h0m3-11h0m7 0h0m1-11h0m16-8h0m7 13h0m3 15h0m5 2h0m6 33h0m-2-22h0m-5-10h0m-7 17h0m-1 11h0m-16 11h0m-3-8h0m-1-12h0m-1 4h0m-8 5h0m-2-1h0m-1-10h0m-1-11h0m-13 3h0m-2 4h0m0-5h0m-12 30h0m0-15h0m-3 0h0m-3 6h0m-4-29h0m-16 35h0m0-13h0m-2 9h0m-3-28h0m-1 16h0m-1 13h0m-1-20h0m-2 19h0m0-19h0m-1 1h0m-1 8h0m-1-11h0m-1-8h0m0 24h0m-7-21h0m-12 0h0m-3 19h0m-1-23h0m-10 27h0m-2 9h0m-9-15h0m0 0h0m-4 16h0m0-31h0m0 28h0m-1-1h0m0-22h0m-577-3h0m-6 31h0m-3-24h0m0 21h0m-2-33h0m-2 18h0m-5-19h0m-1 26h0m-4 3h0m-2-3h0m-1 8h0m-2 3h0m-2-5h0m-9-10h0m0-15h0m-1 30h0m-4-10h0m-7 6h0m-3-29h0m-15 0h0m-1 24h0m-1-7h0m-1-12h0m0 17h0m-1-13h0m0 12h0m-4 4h0m-1-8h0m-9 14h0m-4-26h0m-1 25h0m-3-18h0m-9-12h0m0 0h0m-1 10h0m-5 13h0m-2 2h0m-3-23h0m-7 26h0m-9-17h0m-3-5h0m-5-9h0m-1 3h0m-1 28h0m-3-22h0m-12-3h0m-2 16h0m-591-3h0m-5 1h0m-3-19h0m0 33h0m0-37h0m-4 27h0m-1 7h0m-10-20h0m-6-11h0m-9-1h0m-2 2h0m-1 27h0m-1-7h0m-2 2h0m-13-22h0m-6 22h0m-1-12h0m-8 24h0m-9-7h0m0-19h0m-15 20h0m-2-23h0m-1 22h0m0-8h0m-1 0h0m-1-10h0m-10 20h0m-3-24h0m-6-5h0m-3 12h0m0 20h0m-6-4h0m-1-16h0m-1 7h0m-1-17h0m-1 24h0m-1-21h0m-1 8h0m-3 18h0m-1-2h0m-8-31h0m-6 18h0m-547 16h0m-10-16h0m-3-13h0m-1 22h0m-1-15h0m-5 10h0m0 6h0m-3-5h0m-6-11h0m-6 5h0m-1 18h0m-2-13h0m-2 12h0m-1-23h0m-1-11h0m-10 6h0m-3 12h0m-2-20h0m-9 15h0m-1-1h0m-6 19h0m-1-27h0m0-3h0m-9 7h0m-6 25h0m-2-20h0m-6-11h0m-2-5h0m-4 14h0m-3 2h0m-5-13h0m-2 35h0m-4-3h0m-3-28h0m0 9h0m-1-13h0m0 0h0m-7 18h0m-4 16h0m-7-35h0m-6 15h0m-13-8h0m29 41h0m6 7h0m5-2h0m2-2h0m2 13h0m9-8h0m11 0h0m7-6h0m2-4h0m1-2h0m3 15h0m12-20h0m0 11h0m4-1h0m12-10h0m3 9h0m1 3h0m4 20h0m4-21h0m0-9h0m2 5h0m1 21h0m14 5h0m0-30h0m5-3h0m4-1h0m6 28h0m7-2h0m1 11h0m2-18h0m2-8h0m1 24h0m5-18h0m552 12h0m3-18h0m3 3h0m1 22h0m0-1h0m5-26h0m4-9h0m4 29h0m7 4h0m15-27h0m9 21h0m2-10h0m0 10h0m0 7h0m4-26h0m2 3h0m4-1h0m4 4h0m3 17h0m9-22h0m2 5h0m1 26h0m9-33h0m3 16h0m1 13h0m4-5h0m9-11h0m2-4h0m1 15h0m0-24h0m6 33h0m3-20h0m0 4h0m7 13h0m3-14h0m609-17h0m8 8h0m9-5h0m1-3h0m7 25h0m6-30h0m4 36h0m6-25h0m13 27h0m1-22h0m1-2h0m5-8h0m10-4h0m6 36h0m3-9h0m4-21h0m1-5h0m7 26h0m4-17h0m14 26h0m1-31h0m12 23h0m1 3h0m9-32h0m0 31h0m1-13h0m2 0h0m0-18h0m594 6h0m19 23h0m1-13h0m0 12h0m0-17h0m7 21h0m8-4h0m9-23h0m4 32h0m1-21h0m7-4h0m1-13h0m3 17h0m0 16h0m2-21h0m0-13h0m1 26h0m12-12h0m2-3h0m4 3h0m0 24h0m1-35h0m1 2h0m3 1h0m5 8h0m4 1h0m4-5h0m2 6h0m4-7h0m2 0h0m6 20h0m6-24h0m1 12h0m4 13h0m13 2h0m2-4h0m1 7h0m0-29h0m6 28h0m2-17h0m1 10h0m15-12h0m-8 30h0m-4 13h0m-7-8h0m-12 3h0m-9 21h0m-8-1h0m-1 2h0m-1-12h0m-2-12h0m-4 15h0m-1 8h0m-7-33h0m-1 22h0m-15 7h0m-4-18h0m-1-11h0m-1 17h0m-5 13h0m-3 0h0m-8-25h0m-3-3h0m-7 11h0m0-7h0m-4-2h0m-1 8h0m-4-2h0m-3-7h0m-12-3h0m-632 9h0m-1-3h0m-6-2h0m-16 12h0m-3-16h0m-3 6h0m-2 22h0m-1-22h0m-3 7h0m0 5h0m-2 9h0m-5 6h0m-12-31h0m0 4h0m-5 22h0m-26-11h0m-5-6h0m-1-3h0m-1-6h0m-8 2h0m-4 4h0m-645-2h0m-1 9h0m-3-15h0m-8 3h0m-1 7h0m-12-8h0m-1 11h0m-5 5h0m0-9h0m-3-4h0m-2 15h0m-1 3h0m-8-21h0m-4 20h0m-2-16h0m-1 2h0m-3 24h0m-8-5h0m-2 4h0m-5-30h0m0 21h0m-5-16h0m-1 1h0m-7 1h0m-5-7h0m0-2h0m-4 2h0m-1 3h0m-588-4h0m-7 21h0m-5 5h0m-6-23h0m-3 14h0m-6-14h0m-4 5h0m-6 17h0m-10-20h0m-27 6h0m-2-2h0m-7-3h0"/>
<path transform="scale(.1)" fill="none" stroke="#ffe2c4" stroke-width="11.5" stroke-linecap="round"  d="M1946 1999h0m-7 0h0m-22-1h0m-1384 0h0m-42 1h0m-4-14h0m0 7h0m-3 3h0m-1-7h0m-2 3h0m-5 0h0m-33 18h0m2 14h0m2 7h0m4-6h0m1 11h0m1-15h0m10 20h0m4-13h0m3-12h0m13-8h0m8 20h0m3 4h0m17-28h0m1 2h0m3 3h0m7-4h0m4 31h0m3-30h0m0 21h0m2-14h0m9 9h0m4 15h0m0-24h0m4 24h0m5-12h0m610 8h0m4-12h0m6 15h0m4-9h0m13-6h0m6 12h0m3-17h0m4 1h0m9 13h0m3 1h0m0-3h0m1-11h0m3 23h0m1-14h0m12-11h0m9 10h0m3 1h0m5-5h0m5 18h0m4-12h0m621-7h0m0 0h0m16 17h0m9-14h0m7-2h0m13-16h0m10 0h0m2 29h0m4 6h0m2-26h0m5 24h0m1 2h0m1-29h0m5-10h0m0 27h0m2-21h0m3-1h0m4 19h0m1-18h0m5 0h0m2 27h0m3-15h0m9 17h0m659 0h0m6-5h0m6 3h0m6-21h0m4 21h0m1 2h0m11-4h0m4-16h0m0 19h0m7-31h0m10 8h0m1 16h0m0-12h0m0-11h0m4 9h0m3 13h0m0 1h0m1 11h0m40 10h0m-4-7h0m-3 4h0m-11 33h0m-2-5h0m-1-28h0m-5 30h0m-4-5h0m-5-9h0m-1-3h0m-4 20h0m-3-8h0m-2 0h0m-6 1h0m-1-24h0m-5-2h0m-3 21h0m-3 6h0m-4 1h0m-3-33h0m-2 29h0m-1-17h0m-2 24h0m-1-34h0m-7 5h0m-8 0h0m-2 29h0m-5-1h0m-8-7h0m-4-10h0m-1 18h0m-4-1h0m-1-32h0m-2 1h0m-3 32h0m-1 2h0m-1-23h0m-621 14h0m-4-1h0m0 8h0m-6 2h0m-1-23h0m-1 5h0m-6 3h0m-1 7h0m0 3h0m-2-5h0m-6-19h0m0-7h0m-4 3h0m-1 29h0m-11-18h0m-2-11h0m-4 2h0m-6 6h0m-9 19h0m-2 4h0m-3-9h0m-9-13h0m-2 1h0m-1-8h0m-12 9h0m-4 24h0m-3-25h0m-4-6h0m-1 1h0m-2 6h0m-4-12h0m0 34h0m-1-17h0m-5-19h0m0 5h0m-605 26h0m-1 5h0m-1-30h0m-1 6h0m0 9h0m-7 17h0m-6-2h0m-2-27h0m-1 6h0m-2-1h0m-3 16h0m-3 0h0m-8-12h0m-1-16h0m-2 6h0m0 2h0m-7 7h0m-9 16h0m-3 4h0m-5-23h0m0 23h0m-2-27h0m0 5h0m-4 16h0m-2-8h0m0-7h0m-7-3h0m-1 4h0m-3 15h0m-2-11h0m-9 13h0m-9-12h0m-1-6h0m-3 0h0m-16 22h0m-2-24h0m-3-8h0m-6 2h0m-589 8h0m-3 13h0m0-30h0m-3 36h0m-6-13h0m0-11h0m-2-12h0m-3 26h0m-5 11h0m0-10h0m-6-4h0m-2 0h0m-4 0h0m-1 2h0m-1-19h0m-2 29h0m-6-22h0m-1-2h0m-2 1h0m-4-8h0m-4 19h0m-7 15h0m-1-19h0m-3 14h0m-7-3h0m-3-7h0m-2 4h0m-2-14h0m0 3h0m-5-8h0m0 0h0m-3-3h0m0 30h0m-10-36h0m-1 24h0m-3-14h0m-6 20h0m-1-5h0m-7-21h0m10 44h0m2 12h0m0-12h0m8 18h0m17 14h0m13-23h0m0 6h0m1-22h0m7 38h0m4-37h0m3 38h0m4-30h0m5 22h0m1-4h0m1 9h0m8-14h0m0-1h0m5 8h0m1-23h0m6 5h0m5-9h0m13-2h0m591 33h0m10 6h0m4-6h0m1 2h0m5-27h0m0 29h0m4-26h0m0 5h0m9-8h0m1-4h0m28 27h0m6-17h0m8-12h0m8 10h0m3-11h0m5 14h0m2-2h0m4-3h0m4-11h0m0 29h0m2 9h0m0-36h0m10 18h0m2 8h0m1-25h0m1 17h0m1 10h0m2-20h0m2 25h0m1-15h0m4-1h0m611-8h0m3 0h0m1 21h0m1-6h0m6-13h0m0 7h0m3 0h0m1 8h0m6-24h0m1 10h0m11 10h0m6-9h0m12 16h0m1-17h0m2-4h0m1 7h0m4 22h0m6-21h0m1 19h0m2-28h0m1 9h0m2 18h0m5-34h0m5 13h0m14-14h0m6 37h0m1-2h0m0-12h0m2-15h0m2 20h0m2-9h0m2-13h0m3 29h0m7 1h0m621-33h0m2 14h0m4 7h0m8-20h0m3 9h0m0-1h0m12 23h0m2-28h0m12 18h0m4 10h0m0-5h0m4 8h0m0-14h0m2 15h0m2-19h0m2 14h0m1-18h0m4 15h0m14-19h0m2 21h0m3-14h0m1-13h0m2-6h0m1 19h0m2 3h0m1-4h0m2-16h0m3 3h0m5 16h0m1-9h0m0 25h0m5-5h0m0-15h0m7 15h0m8-26h0m-1 39h0m-20 6h0m-1 5h0m-3-12h0m-17 25h0m0-18h0m-2 23h0m-6-19h0m-3 23h0m0-30h0m-2 24h0m-1-23h0m-2 17h0m-1-9h0m-3-7h0m-3-4h0m-3-3h0m-2 24h0m-11 3h0m-4-23h0m-10 13h0m-1-17h0m-1 15h0m-4-10h0m-8-3h0m-2 2h0m-4 12h0m-6-14h0m-633 1h0m-13 9h0m0 3h0m0-11h0m-1 10h0m-18-6h0m-3 7h0m-8-6h0m-1 17h0m-5-29h0m-3 9h0m-11-9h0m-10 19h0m-7-20h0m-2 8h0m-4 6h0m-638-5h0m-6-6h0m-1 17h0m-12-6h0m-2-2h0m-6 5h0m-3-2h0m-13 7h0m0 10h0m-4-31h0m-1 5h0m0-3h0m-10 35h0m0-11h0m-5 6h0m-6-20h0m-3 25h0m-1-26h0m-2-8h0m-4 15h0m0-13h0m-1 11h0m-1-16h0m-3 9h0m-5 9h0m-27-17h0m-650 0h0m-1 1h0m-14-1h0m728 38h0"/>
<path transform="scale(.1)" fill="none" stroke="#fff0cc" stroke-width="11.5" stroke-linecap="round"  d="M365 2098h0m1-3h0m8 22h0m9-21h0m5 16h0m2-12h0m6-2h0m3 16h0m7 3h0m0-18h0m4 18h0m0-22h0m3 16h0m0-1h0m3-5h0m4-1h0m3-1h0m8-4h0m10 11h0m3-10h0m6 7h0m1-8h0m16 9h0m25 3h0m2065 7h0m2-2h0m114 39h0m-8-1h0m-11-14h0m-3 12h0m-20 0h0m-1 8h0m-3-27h0m-6 25h0m-3-5h0m-4-2h0m-1 8h0m-1-27h0m-4 16h0m-1-8h0m-19 13h0m0-22h0m-17-3h0m-3 25h0m-2-12h0m0 15h0m-605-2h0m-8-8h0m-1 14h0m0-15h0m-2 10h0m-6 0h0m-16-8h0m-3 4h0m-7-6h0m-4 11h0m-10 4h0m-1-5h0m-1-11h0m-1-10h0m-10 14h0m-4-14h0m-2 24h0m-12-8h0m-4-2h0m-13-10h0m-2 4h0m-2 8h0m-15 8h0m-8-20h0m-618 14h0m-5 1h0m-1-4h0m0 7h0m-1-2h0m-9-12h0m-3-5h0m-6 14h0m-4 6h0m-5-6h0m0 7h0m-2-21h0m-11-12h0m-4 19h0m-1-4h0m-5 14h0m-5-16h0m0-14h0m-2 7h0m0 5h0m-8 14h0m-2-10h0m-3-16h0m-5 19h0m0-15h0m-7-1h0m-2 9h0m-1-10h0m-4 10h0m-15-13h0m-8 28h0m0-12h0m-2 5h0m-4-15h0m-2-5h0m-3 7h0m-1 6h0m-3 5h0m-536 11h0m-7-21h0m-3 12h0m-4-1h0m0-11h0m-1 17h0m-1-5h0m-6-2h0m-14 13h0m-1-2h0m-3 4h0m-5 1h0m-3-32h0m-7 8h0m-2 9h0m-2 2h0m0 0h0m-7-16h0m-1 6h0m-1-4h0m-6-2h0m-3 27h0m-8-22h0m-1 10h0m-2-16h0m-4 25h0m-3-27h0m-5-3h0m0 10h0m-2 2h0m-2 7h0m0 9h0m-1-24h0m-2 24h0m-2 1h0m-7-17h0m-13-13h0m0 20h0m-3-11h0m-1 18h0m-12 2h0m-2 2h0m-8-24h0m-2 20h0m-7-14h0m-4 19h0m-2-21h0m-2 15h0m36 14h0m9 15h0m3-7h0m3-3h0m21 16h0m2-6h0m9 1h0m1-7h0m6-10h0m9 19h0m3 5h0m0-22h0m1 28h0m0-23h0m1-3h0m2 1h0m15 16h0m4-9h0m1 4h0m4-5h0m13-4h0m4-6h0m7 8h0m4-4h0m3 12h0m2-14h0m23-4h0m532 15h0m0-1h0m2 5h0m14-1h0m3-7h0m2 16h0m17-10h0m13-5h0m13 2h0m5-7h0m1 25h0m3-20h0m1-5h0m1 17h0m2-18h0m13 1h0m1 27h0m7-34h0m2 9h0m2 1h0m2-1h0m5 9h0m1 8h0m1 13h0m4-26h0m4-12h0m0 4h0m0 12h0m2-15h0m2 17h0m3 10h0m0-7h0m7-14h0m9 7h0m1 9h0m8-1h0m596-2h0m5 12h0m21-11h0m2 3h0m1-2h0m2 14h0m2-13h0m2 8h0m9 7h0m6-27h0m4 3h0m12 7h0m2 10h0m6-2h0m1 4h0m2-31h0m6 1h0m0 34h0m2-2h0m1-12h0m4-21h0m3 0h0m3 21h0m4-17h0m4 9h0m1-14h0m5 11h0m1 26h0m1-29h0m3-6h0m3 24h0m9 9h0m1-7h0m2-21h0m0 10h0m1-14h0m1 18h0m2-21h0m2 4h0m6 14h0m10 20h0m3-6h0m1-15h0m0 20h0m5-30h0m1 10h0m568-16h0m16 22h0m2-23h0m2 26h0m0-12h0m2 2h0m3-16h0m10 4h0m2 26h0m0-3h0m10-16h0m3-12h0m1 17h0m1 1h0m1 8h0m3-15h0m4 10h0m3 1h0m4-3h0m1 3h0m3-4h0m4 12h0m8 8h0m1-5h0m3-31h0m7 17h0m8 19h0m3-31h0m7 29h0m1-7h0m7 6h0m0-15h0m1-20h0m2 29h0m0-28h0m1 13h0m4-11h0m7 14h0m7 15h0m0 0h0m2-7h0m7-12h0m-25 31h0m-27 2h0m-21 0h0m-5-6h0m-27 2h0m-627-3h0m-4 17h0m-3-10h0m-8 5h0m-23-4h0m-1 9h0m-14-9h0m-9 12h0m-20-9h0m-9-2h0m-11 2h0m-5 3h0m-5-13h0m-660 6h0m-1-5h0m-2 0h0m-8 4h0m-10-6h0m-33 8h0m-5 1h0m-5-7h0"/>
<path transform="scale(.1)" fill="none" stroke="#f848e8" stroke-width="11.5" stroke-linecap="round"  d="M2679 1879h0m103 35h0m-19-5h0m-6-11h0m-2 3h0m-6 5h0m-1 7h0m-16-29h0m-19 6h0m-2 21h0m-7-28h0m-1 6h0m-1 17h0m-6 6h0m-7-16h0m-2 9h0m-1 10h0m-16-25h0m-688 25h0m-4-6h0m-13 1h0m-16-9h0m-2 10h0m-3 5h0m-1-25h0m-6 26h0m-3-28h0m-1 0h0m-1 12h0m-3-10h0m-2 7h0m-13-15h0m-658 29h0m-5-7h0m-2 8h0m-16 5h0m-8-3h0m-1-18h0m-2 21h0m-1-16h0m-3-5h0m-8 16h0m-1-1h0m-2-2h0m0-2h0m-7 8h0m-4-32h0m-1 9h0m0 25h0m-5-28h0m-9-1h0m-666 25h0m-5 5h0m-20 5h0m2 5h0m3 4h0m5 1h0m1 1h0m8 16h0m1 0h0m0-6h0m4-21h0m8 30h0m2-16h0m3 3h0m1-13h0m4 21h0m667-19h0m1-3h0m1-6h0m4 4h0m9-1h0m4-1h0m7 34h0m6 0h0m16-1h0m11-31h0m4-3h0m1 38h0m3-38h0m2 21h0m6-1h0m0 16h0m668-1h0m4-8h0m2-8h0m2-2h0m19-15h0m14 6h0m1-2h0m3 7h0m5 19h0m1-25h0m1 3h0m3 3h0m3 8h0m677-10h0m18 4h0m17 3h0m0 9h0m2 9h0m3-21h0m0-17h0m2 37h0m3 3h0m7-9h0m2-31h0m4 13h0m5 3h0m0-14h0m1 18h0m3 12h0m2 8h0m7-14h0m7 9h0m1-5h0m4-9h0m2 0h0m1-5h0m0 24h0m4-14h0m1-26h0m1 35h0m7-11h0m1 9h0m1-19h0m5 2h0m1 0h0m3-7h0m3 10h0m2-8h0m0 12h0m1 15h0m3-5h0m7 36h0m-6 5h0m-9-25h0m-16 24h0m-3-11h0m-3 2h0m0-24h0m-4 35h0m-2 2h0m-2-35h0m-4 34h0m-2-24h0m-2 23h0m-4-2h0m-7-25h0m0 12h0m-4 5h0m-3-12h0m-4 25h0m-5-24h0m-1-6h0m-4 13h0m-3 13h0m-1-27h0m-3 14h0m-707-19h0m-1 35h0m-5-32h0m-1 7h0m-3 7h0m-4-15h0m-6 26h0m-1-2h0m-5-1h0m-6 11h0m-2-1h0m-2 3h0m-1-24h0m-5 10h0m-1-3h0m-2-12h0m-2-2h0m-1 10h0m-2-16h0m-3 18h0m-2-8h0m-1 7h0m-664 18h0m-3-6h0m-3-3h0m-17-21h0m-11 10h0m-3 13h0m-1-23h0m-1 12h0m-17-7h0m-5-3h0m-1 0h0m-666 22h0m-2 6h0m-3-14h0m-6 5h0m-6-8h0m-7-2h0m-2 17h0m0-32h0m-7 23h0m-13 3h0m-2-15h0m-11 3h0m-2-10h0m26 36h0m1 4h0m1 4h0m6 6h0m7 10h0m0-18h0m8 18h0m4 5h0m5-17h0m8 2h0m3 17h0m4-5h0m674-21h0m5-6h0m4 9h0m2 3h0m12 14h0m1-14h0m1 24h0m1-18h0m2 6h0m1-8h0m0 8h0m4 6h0m4-13h0m0 15h0m6 1h0m1-33h0m2 12h0m674-8h0m3 10h0m3 11h0m4-20h0m26 6h0m10 20h0m0-23h0m1 5h0m6-11h0m709 6h0m7 18h0m4-13h0m1 24h0m1-31h0m3 22h0m3-23h0m5 24h0m5-4h0m4 1h0m3 1h0m0-9h0m2-5h0m3 17h0m4-30h0m6 17h0m0-2h0m0 22h0m1-28h0m2-8h0m2 25h0m1-6h0m2 5h0m5-5h0m5-18h0m-9 43h0m0 1h0m-9-8h0m-9 19h0m-4 11h0m-6-9h0m0-3h0m-8-9h0m-1-2h0m-2 20h0m-3-19h0m-5 27h0m-2-26h0m-1 7h0m-4 12h0m-4 0h0m0-10h0m-709-13h0m-5 25h0m-6-27h0m-2 11h0m-1 24h0m-14-34h0m-1 13h0m-5 17h0m0-20h0m-4-10h0m-1 22h0m-2-23h0m-3-3h0m-2 7h0m0 10h0m-1-6h0m-678 4h0m-3 19h0m-2-30h0m-21 23h0m-6 11h0m-689-36h0m-1-2h0m-8 8h0m-1 24h0m-1-27h0m-1 11h0m-2 4h0m-1-13h0m-2-4h0m-1 14h0m-2 22h0m-1-29h0m-7 23h0m-4-30h0m-4 26h0m-3 10h0m-2-17h0m-1 8h0m-4 2h0m-3 18h0m8 12h0m1 13h0m15-22h0m0 7h0m2 0h0m1 11h0m1-22h0m2-1h0m1 28h0m1-33h0m0-2h0m0 5h0m1-6h0m699 30h0m1-21h0m0 14h0m3-11h0m6 8h0m1 1h0m3 10h0m2 3h0m5-3h0m9 6h0m12-6h0m0-12h0m3-14h0m1 21h0m1 7h0m671-34h0m2 34h0m3-7h0m9-1h0m0 2h0m6 10h0m0-27h0m1-4h0m8 23h0m16-18h0m706 12h0m2 15h0m4-34h0m2-3h0m3 21h0m1-12h0m1 0h0m6-6h0m2 11h0m19-1h0m4 19h0m-20 21h0m-7-5h0m-10-2h0m-717 18h0m-1-5h0m-4-3h0m0-7h0m0 17h0m-1-4h0m-3-3h0m-3 8h0m-2 1h0m0 2h0m-1 3h0m-2-20h0m-16-8h0m-684 1h0m-1 20h0m-5 0h0m-8-2h0m0 13h0m-9-17h0m-3 3h0m-3-13h0m0-11h0m-2 22h0m-3-15h0m-1 5h0m-2-12h0m-700 21h0m-7-18h0m-3 7h0m-6 23h0m-13-18h0m741 30h0m0 3h0m2-1h0m3-3h0m6-3h0m1 4h0m7-3h0m693 9h0m7-7h0m3 2h0m4 0h0m12-2h0"/>
<path transform="scale(.1)" fill="none" stroke="#f8b0d8" stroke-width="11.5" stroke-linecap="round"  d="M2056 1672h0m-2 0h0m-727 2h0m-2 1h0m-10 4h0m-741 27h0m3 11h0m1-30h0m1 10h0m2-11h0m4-5h0m1 9h0m2 4h0m1 24h0m1-35h0m2 16h0m711 21h0m3-6h0m6-28h0m3-1h0m5-2h0m5 35h0m2-25h0m1 10h0m714 12h0m6-13h0m1 7h0m0 7h0m3-8h0m0-26h0m0 32h0m1-7h0m2-10h0m7 30h0m-3 28h0m-2-1h0m-6-22h0m-4-11h0m-9 26h0m-2 4h0m-709-29h0m-3 14h0m-1 0h0m-6-16h0m-4 24h0m0-5h0m-1 8h0m0-21h0m-2-1h0m-6 31h0m-6-10h0m-703-4h0m-10-19h0m-1 36h0m-8-33h0m-3 26h0m-4 27h0m1-11h0m4 10h0m5 7h0m4-22h0m708 27h0m0 2h0m13-25h0m4 9h0m12-3h0m716 6h0m3-9h0m10-4h0m4 16h0m0 38h0m-4 14h0m-8-15h0m-1-5h0m-1-12h0m-5 35h0m-1-19h0m-6 4h0m-724 6h0m-4-22h0m-16 26h0m0 3h0m-688-17h0m-6-16h0m-1 25h0m-6-7h0m-1 2h0m-1-6h0m-2 11h0m-1-27h0m-8 24h0m-4 25h0m12 3h0m1 6h0m0 10h0m701-25h0m9-2h0m3 0h0m728 34h0m20-30h0m1 25h0m2-4h0m1-14h0m4-4h0m-6 40h0m0 3h0m-1 9h0m-12-2h0m-2 4h0m-1457-19h0"/>
<path transform="scale(.1)" fill="none" stroke="#98d898" stroke-width="11.5" stroke-linecap="round"  d="M2201 1915h0m-7 0h0m-7 4h0m-2-4h0m-5 0h0m-13-4h0m0 6h0m-28-12h0m-6-3h0m0 9h0m-5-8h0m-2-3h0m-15 9h0m0 8h0m-13 3h0m-3-4h0m-2-9h0m-7 8h0m-665-3h0m-2 6h0m-15 1h0m0-3h0m-9 4h0m-2-4h0m-7 4h0m-769 35h0m15 1h0m5 0h0m17 3h0m3-3h0m5-18h0m677 3h0m12 17h0m4-11h0m4-25h0m4 15h0m0-4h0m4 26h0m7-39h0m2 34h0m0-19h0m1 16h0m11-2h0m14-28h0m0 27h0m14-12h0m0 24h0m2-17h0m0 3h0m1-19h0m10 0h0m1 27h0m4-29h0m7 3h0m4 17h0m8-25h0m4 10h0m5 10h0m6 5h0m587-13h0m1-4h0m2 24h0m0 2h0m1 3h0m3-29h0m0 30h0m2-18h0m4 18h0m0-37h0m3 31h0m13-21h0m4-7h0m2 0h0m7 15h0m7-14h0m2 5h0m1 23h0m3-12h0m11-18h0m2 28h0m15-12h0m2 20h0m2-12h0m10-20h0m5 23h0m2-8h0m5 10h0m5-8h0m3 14h0m1-11h0m8 6h0m7-27h0m1 18h0m2-3h0m1-13h0m2 10h0m4 5h0m3-17h0m1 5h0m3 12h0m6-17h0m7-6h0m6 22h0m3 14h0m1-16h0m7-2h0m1 21h0m1 33h0m0-26h0m-4 22h0m-2-12h0m-3 15h0m-4-23h0m-3 30h0m-5 1h0m-1 0h0m-1-11h0m-1-27h0m-20 6h0m-3 19h0m-2-17h0m-8 16h0m-2 10h0m0-15h0m-2-16h0m-1 35h0m-3-34h0m-1 11h0m-9-5h0m-1-3h0m-3 13h0m-3-12h0m-3 8h0m-4-11h0m-8 23h0m-7-21h0m-1-6h0m0 16h0m-2-15h0m-4 36h0m-1-39h0m-7 19h0m-1-7h0m-1 10h0m-1 9h0m0-14h0m0 20h0m-5-16h0m-9 10h0m-2-14h0m-1 12h0m-2-17h0m-1 12h0m-5 11h0m-2-19h0m-6 22h0m0-33h0m-7-1h0m-6 0h0m-1 27h0m-5-9h0m-1-9h0m-6 0h0m-577-9h0m-13 20h0m0 6h0m-3-19h0m-3 12h0m0 11h0m0-18h0m-9-3h0m-8 2h0m-11-2h0m-6 9h0m-5-7h0m-2 6h0m-7-19h0m-2 8h0m-1 8h0m-7 0h0m-3-8h0m0 2h0m-6 18h0m-2-14h0m0-5h0m0 29h0m-10-32h0m0 0h0m-4 7h0m0 19h0m-2-23h0m0 26h0m-1-23h0m-2 20h0m-2-8h0m-3-5h0m-3 4h0m-1 1h0m-4 1h0m-4-20h0m-3 16h0m-10 0h0m-1-17h0m-1 21h0m-2-22h0m0 12h0m-3 5h0m-632-4h0m-4 19h0m-4-28h0m-1 22h0m-2-15h0m-4 18h0m-4 4h0m-2-23h0m-1 10h0m-2-8h0m-1 15h0m0-32h0m0 11h0m-4-7h0m0 16h0m-1 10h0m-4-13h0m-5-10h0m-1 16h0m-4 17h0m-10-23h0m-1 16h0m-1-9h0m-6-19h0m-2 15h0m-1 20h0m-6-38h0m-2 37h0m-8-18h0m-1 3h0m-7 1h0m-3 9h0m-1-19h0m-1 13h0m-1-16h0m-4 15h0m0 8h0m-3 24h0m20 4h0m4-14h0m7-1h0m2 20h0m16-4h0m5-3h0m7 14h0m5-8h0m7-6h0m7-7h0m3 5h0m2 15h0m3-10h0m0-21h0m6 23h0m643-2h0m10-18h0m1 2h0m1-5h0m4 28h0m8 7h0m2-14h0m2-1h0m1 3h0m2-4h0m4 6h0m5-4h0m1 8h0m1-26h0m4 22h0m2 12h0m0-13h0m1-24h0m4 19h0m5-3h0m3-5h0m0 7h0m7 14h0m5 1h0m1-14h0m2 8h0m1-9h0m8-21h0m2 3h0m6 21h0m6-18h0m0 18h0m1-18h0m6 19h0m0 6h0m13-16h0m2-12h0m5 13h0m592 21h0m11 1h0m3-26h0m2 4h0m0 9h0m9-12h0m8 4h0m1 11h0m15-2h0m4-12h0m18 14h0m2 8h0m0-7h0m1-21h0m8-3h0m4 22h0m4-16h0m6-5h0m5 15h0m3-4h0m6 2h0m2-6h0m1 18h0m1-2h0m0-25h0m2 10h0m17-2h0m1-4h0m2 21h0m1-9h0m4-8h0m3 9h0m2 12h0m1-17h0m7 20h0m2-15h0m22-1h0m5-16h0m-32 52h0m-4-14h0m-9 8h0m-3-4h0m-3 4h0m-9 19h0m-2-8h0m-2-14h0m0 14h0m-3 10h0m-2-14h0m-1-8h0m-4 28h0m-3-1h0m-1-19h0m0-9h0m-8 1h0m-2 24h0m-3-28h0m0 12h0m-3 17h0m0-12h0m-9-7h0m-6-14h0m-7 14h0m-14 25h0m-1-24h0m-7-2h0m-3 9h0m0 6h0m-11-5h0m-2 5h0m-8-16h0m-7 2h0m0 17h0m-8-18h0m-4 1h0m-613 1h0m-5 7h0m-3 11h0m-3-28h0m-4 16h0m-1-17h0m-4 8h0m-1 2h0m-4 1h0m-5 8h0m-1 9h0m-8-33h0m-2 40h0m-5-4h0m-10-1h0m-2-10h0m-4-10h0m-3-3h0m-6-6h0m-5-1h0m-19 17h0m-11 1h0m-663-5h0m-5-6h0m-4-2h0m-1-6h0m-14 35h0m-1-7h0m-1 8h0m-3-14h0m-4-15h0m-5 28h0m-3-17h0m-1-11h0m-4 25h0m-2-33h0m-10 6h0m0 10h0m-2-1h0m-5 16h0m0 6h0m-4-9h0m-2-27h0m-6 11h0m-2 7h0m41 26h0m0-2h0m3 9h0m3-11h0m12 0h0m711 10h0m12-8h0m0 23h0m3-16h0m2-12h0m2 1h0m6 26h0m11-26h0m1 0h0m13 1h0m652-3h0m10 1h0m2 11h0m4-6h0m8 25h0m1-2h0m10-3h0m2-19h0m3 9h0m6 14h0m4-8h0m2-15h0m3 12h0m2-11h0m10 10h0m5 11h0m3 0h0m9-21h0m2-6h0m7 7h0m8-6h0"/>
<path transform="scale(.1)" fill="none" stroke="#b0d89c" stroke-width="11.5" stroke-linecap="round"  d="M2180 1750h0m-3 4h0m-2-8h0m-1-8h0m-25 3h0m-8 17h0m0-6h0m-13-3h0m-10 7h0m-14-13h0m-12 13h0m-644-1h0m-7 1h0m-76 28h0m1-17h0m1 9h0m4 17h0m1-6h0m5-13h0m5 1h0m5 3h0m2 17h0m5-14h0m5-16h0m2 5h0m1 0h0m3 2h0m1 16h0m1-14h0m1 7h0m3 12h0m0-23h0m8 4h0m6 2h0m2-11h0m5-3h0m2 25h0m2 12h0m1-33h0m12 31h0m5-26h0m2 16h0m2 2h0m2-5h0m4 10h0m3 3h0m609-3h0m0-16h0m1-1h0m0 10h0m13 12h0m2-15h0m1 10h0m2-7h0m1-1h0m0-7h0m5 13h0m14 3h0m1-11h0m2 4h0m3-2h0m12 2h0m0 10h0m0-11h0m0-3h0m3-8h0m7-13h0m1 18h0m3-9h0m1 2h0m7-13h0m9 6h0m2 5h0m1 2h0m1-11h0m3 26h0m0-3h0m0-24h0m4 7h0m2 12h0m8 0h0m1 4h0m1-3h0m7 11h0m5-13h0m1-9h0m4 12h0m11 8h0m607 6h0m3-3h0m3-2h0m5-1h0m9-5h0m23 7h0m4-1h0m25 2h0m7 20h0m-8 12h0m-5-13h0m-4 6h0m-1-3h0m0 17h0m0-9h0m-1-21h0m-3 6h0m-5 29h0m-6-4h0m-5 4h0m-2-2h0m-12-17h0m-3-9h0m-3 1h0m-7 0h0m-4-3h0m-6 8h0m-1 9h0m-12-17h0m-6 21h0m0-7h0m-4-4h0m-1 11h0m-1 11h0m-8-21h0m-582 10h0m-7-2h0m-4-11h0m-6 12h0m-1-14h0m-22 25h0m-8-3h0m-2-13h0m-1-6h0m-4-8h0m0-9h0m0 12h0m-1 6h0m-1-13h0m-1 13h0m-4 4h0m0-17h0m0 12h0m-8-4h0m-3 23h0m-4-23h0m-8 24h0m-5-17h0m-7 12h0m-6-5h0m-1 5h0m-5 0h0m-2-29h0m-9 1h0m-2 21h0m-8-21h0m-4 5h0m-605-1h0m-6 1h0m-15 20h0m-2-13h0m-2 12h0m-2-9h0m-2 16h0m-3-14h0m-4-11h0m-1 15h0m-10-22h0m0 5h0m-5 4h0m-1 7h0m-11-5h0m-1-7h0m-4 5h0m-9 5h0m-9 18h0m-12-12h0m-1 12h0m-3 1h0m-3-29h0m0-7h0m-2 25h0m-7-14h0m0 19h0m-661 7h0m-2 3h0m-2-19h0m-1 14h0m-6-15h0m-1 5h0m-4-16h0m-1-5h0m-1 15h0m-2-4h0m-2 22h0m-11-20h0m-1 23h0m0-25h0m-1 21h0m-2-31h0m-5 29h0m-5-24h0m0 0h0m-3 9h0m-2-7h0m-1-5h0m-7 21h0m-6 1h0m-11-1h0m0-3h0m0 32h0m0-16h0m1-1h0m6 37h0m1 0h0m2 2h0m4-12h0m1-16h0m3 10h0m4 18h0m5-6h0m2-6h0m1-2h0m10-22h0m3 5h0m4-1h0m4 13h0m5-8h0m5 12h0m4-2h0m2-6h0m6-16h0m13 10h0m661 0h0m3 17h0m28-25h0m1 33h0m5-16h0m1-12h0m2 25h0m6 3h0m4-14h0m1 2h0m1-19h0m3 4h0m5 21h0m1-25h0m2 2h0m3-3h0m1 21h0m1-20h0m3 22h0m4 10h0m1-1h0m2-4h0m2-9h0m0-6h0m1 20h0m630-13h0m5-1h0m4-10h0m3 1h0m7 2h0m1 12h0m1 12h0m0-12h0m1 7h0m1-31h0m1 29h0m0-17h0m2 2h0m2-8h0m2 25h0m5-14h0m1-7h0m2 24h0m12-16h0m1-16h0m3-4h0m2 35h0m0-10h0m2-1h0m4-17h0m2 1h0m9 4h0m3 20h0m5 6h0m3-30h0m1 29h0m1-11h0m4 6h0m5 4h0m25-12h0m2 2h0m2-25h0m0 32h0m6-28h0m577 29h0m3-18h0m1 18h0m4 2h0m3-34h0m0 17h0m2 8h0m2-15h0m1-5h0m4 18h0m4-5h0m0-2h0m2-10h0m1 23h0m1-23h0m18-8h0m1 4h0m0-4h0m0 8h0m8 15h0m7 9h0m0-23h0m7 1h0m8 13h0m2-16h0m0 16h0m2-7h0m4-5h0m7 27h0m6-22h0m2-13h0m3 30h0m1-23h0m0 17h0m1 11h0m11-8h0m0-3h0m8 8h0m1-20h0m6 14h0m3-17h0m4 25h0m8 18h0m-6 21h0m-13-7h0m-3-22h0m0 30h0m-4-35h0m-3 2h0m-1-2h0m-6 19h0m-11 10h0m-2-25h0m-2 20h0m0-24h0m-1-3h0m-1 22h0m-1 7h0m-2-2h0m-5-18h0m-1-3h0m-1 17h0m-7 6h0m0-13h0m-3-7h0m-8 0h0m-6 8h0m-3-2h0m-3-2h0m-3 18h0m-8-9h0m-7 1h0m-8 17h0m-2-28h0m0 18h0m-5-5h0m-1 14h0m-1-6h0m-1-21h0m-8 3h0m-6-3h0m-2 16h0m-594-27h0m-8 4h0m-1 12h0m-3-3h0m-1-9h0m-4 8h0m-16-5h0m-3 14h0m-1-14h0m-6-8h0m-9 34h0m-5-28h0m-2 16h0m-1 9h0m-3-18h0m-1 24h0m-5-18h0m-15 7h0m-9-11h0m-640 2h0m-5-6h0m-5-1h0m-4 14h0m-1-10h0m0 11h0m-1-20h0m-6 17h0m-2-18h0m-4 21h0m-6-8h0m0 18h0m-2 2h0m-1-29h0m-2 29h0m-7-31h0m-1 12h0m-5-7h0m-5 2h0m-1 16h0m0-22h0m-5-3h0m-4 22h0m-10-9h0m-3 10h0m0-13h0m-1 12h0m-13-13h0m-638-13h0m0 19h0m-7 9h0m-2-15h0m-4 20h0m-2-29h0m-4 31h0m-4-29h0m-3 4h0m-2-10h0m0 16h0m-1 0h0m-21 12h0m-5-24h0m-4 33h0m-5-1h0m-8-23h0m-4-6h0m-7-2h0m-8 7h0m-2 15h0m-2-2h0m-11 42h0m6-5h0m2-2h0m2 9h0m2-22h0m2 21h0m5-24h0m9-3h0m3 22h0m11 6h0m2-22h0m11-4h0m1 26h0m0-4h0m0 5h0m6-27h0m1 18h0m7-18h0m0 8h0m6 18h0m1-14h0m0 3h0m1-4h0m2-2h0m2 22h0m4-7h0m5-9h0m1-6h0m1 13h0m1-3h0m2-7h0m682-11h0m4 0h0m18 2h0m706-1h0m654 13h0m5-14h0m13 9h0m1 15h0m0 8h0m2-15h0m7 18h0m2-5h0m0-25h0m0 23h0m3-10h0m6-7h0m10 9h0m11 5h0m2 1h0m5 7h0m4-14h0m0-1h0m2 5h0m2-2h0m0 14h0m3-5h0m2-3h0m1 8h0m3-27h0m10 27h0m5-3h0m1-36h0m0 12h0m3-8h0m0 2h0m1 5h0m13 7h0m1-5h0m0 2h0m6-2h0m4 20h0m0-12h0m2-18h0m2 27h0m10-29h0m4 2h0m4-1h0m3 22h0m4 9h0m-9 44h0m-6-29h0m-1 7h0m0-12h0m-10-3h0m-2 14h0m-4 7h0m-3-1h0m-1 10h0m-13-19h0m-1 13h0m-1-7h0m-4-8h0m-7 23h0m-2-5h0m-4 10h0m-11-23h0m-8 26h0m-9-22h0m-22-2h0m-2 0h0m-2 22h0m-1-29h0m0 28h0m-3-17h0m-4 6h0m-4-5h0m-1-12h0m0 20h0m-19-18h0m-7 12h0m-2069-23h0m-4 4h0m-2-3h0m-13 17h0m-10-16h0m-10 0h0m-3 16h0m-2 10h0m-4-27h0m-3 19h0m-7 0h0m-12-16h0m2142 54h0m2-6h0m1 25h0m2 0h0m0-3h0m7-8h0m1-11h0m1 2h0m2 21h0m16-18h0m9-6h0m8 1h0m1-12h0m4-1h0m0 24h0m2-22h0m8-2h0m8-2h0m6 9h0m2 13h0m3-20h0m1 4h0m8 19h0m5-2h0m8-17h0m8 30h0m2-8h0m0-16h0m1 20h0m2 2h0m2-12h0m5-15h0m0 30h0m1-19h0m1 3h0m1 17h0m5-4h0m0 5h0m2-9h0m2-11h0m2-13h0m1-6h0m5 8h0m-23 42h0m-5-3h0m-7-3h0m-19 25h0m-3 5h0m0-32h0m-1-1h0m-4 12h0m-16 0h0m-2 3h0m-5 10h0m0 10h0m-2 3h0m-2-1h0m-7-24h0m-4 25h0m0-31h0m0 12h0m-1 4h0m-7-14h0m-6 10h0m0 17h0m-4-14h0m-3-7h0m-4 8h0m-1-18h0m-9 4h0m-7-10h0m-1 5h0m43 42h0m9-5h0m12-1h0m25 3h0"/>
<path transform="scale(.1)" fill="none" stroke="#5cc828" stroke-width="11.5" stroke-linecap="round"  d="M1446 1711h0m2-5h0m4 8h0m5 0h0m7-11h0m1 12h0m3-20h0m3 24h0m0-13h0m17 11h0m722-1h0m16 2h0m683-19h0m11-1h0m3 3h0m13 4h0m6 8h0m0-11h0m13 3h0m0 0h0m4 2h0m29 48h0m-3 1h0m-2-12h0m-4 14h0m-10-25h0m-2 21h0m0-13h0m-1-3h0m-2 5h0m-2-13h0m-5-4h0m0-1h0m0 5h0m-1-8h0m-4 33h0m0 4h0m-13-17h0m-1 17h0m-5-16h0m-8-14h0m-2 14h0m-1-12h0m-4-6h0m-5 29h0m-1-7h0m-2-12h0m-5 17h0m-2-29h0m-670 11h0m-3-3h0m-3-8h0m-5 20h0m-9-17h0m-4 28h0m-6 6h0m-3-25h0m0 0h0m-1-4h0m-2 20h0m-3-22h0m-1 24h0m-2 5h0m-7-26h0m-1 11h0m-3 3h0m-5-17h0m-684 5h0m-3 12h0m-1-19h0m-4 31h0m-9-10h0m-2 3h0m-1-23h0m0-8h0m-3 40h0m-2-24h0m0-1h0m-9-2h0m-6 14h0m-1-17h0m-8 12h0m-1 5h0m-1 3h0m-5-28h0m-2 27h0m-660 5h0m-1-7h0m-9 11h0m-5-5h0m-1-5h0m-2 9h0m-3-16h0m-1 8h0m0-7h0m-1 12h0m-4-26h0m-1 17h0m-3-9h0m0 8h0m-6 2h0m-9 7h0m-3 22h0m5-5h0m4-3h0m2 12h0m3 11h0m12-22h0m4 21h0m5-16h0m1-11h0m6 29h0m3-19h0m0-2h0m3-4h0m3 31h0m1-27h0m655 12h0m2-2h0m2-4h0m9-1h0m9-5h0m3-7h0m0 35h0m6-15h0m2 3h0m0-15h0m2 27h0m1-3h0m2-2h0m3-19h0m6 21h0m12-15h0m0-11h0m4 7h0m6 5h0m2-11h0m1 12h0m2 7h0m0-5h0m2-13h0m668 10h0m6-9h0m0 25h0m1-15h0m9-17h0m4 35h0m2-3h0m1-6h0m4-1h0m2 6h0m2-8h0m1-16h0m14 14h0m2 0h0m0 2h0m6-14h0m0 1h0m683 18h0m4-10h0m0 13h0m7-26h0m1 6h0m1 6h0m6 10h0m5-20h0m0 6h0m9-6h0m11 18h0m3 9h0m1-4h0m14-4h0m2-1h0m-2 25h0m0 4h0m-2 19h0m-11-32h0m-2 25h0m-2-11h0m-2-8h0m-1 27h0m-5 0h0m-6-10h0m-3-22h0m-2 23h0m-5 1h0m-8-20h0m-2 25h0m-5 2h0m0-14h0m-7-6h0m0 20h0m-1-10h0m0-11h0m-682-13h0m-1 2h0m-10 5h0m-18 5h0m-1-4h0m-8-9h0m-5 23h0m0-12h0m-4-7h0m0 13h0m-2-14h0m-709 12h0m-3 1h0m-5-18h0m-12 17h0m-2-16h0m-16 0h0m-663 2h0m-2 28h0m-3-13h0m0-16h0m-2 33h0m-7-32h0m-1 22h0m-1 9h0m-11-17h0m-11-3h0m1475 25h0m706 5h0m1 0h0m2 8h0m8 5h0m2 3h0m2-2h0m9 15h0m3 1h0m1-23h0m0 7h0m5 4h0m5-17h0m2 3h0m2 21h0m0-15h0m1 12h0m0-23h0m9 7h0m-6 35h0m-33 0h0m-1 31h0m-10-29h0m22 43h0m10-9h0"/>
<path transform="scale(.1)" fill="none" stroke="#80f020" stroke-width="11.5" stroke-linecap="round"  d="M2225 1800h0m8-11h0m6 9h0m7-5h0m1-2h0m732 42h0m-682-8h0m-3 6h0m-1-5h0m-3 10h0m-2-15h0m-2-15h0m-6 24h0m-10-14h0m-8-1h0m-7-7h0m-1-5h0m-2 19h0m-1-3h0m0 14h0m-7-28h0m0 15h0m-2-17h0m-13 20h0m-692 12h0m-12-1h0m-1-9h0m-16 7h0m-16 4h0m-671-25h0m-3-8h0m-5 18h0m-2 0h0m-1-4h0m-2-9h0m0 4h0m-4-2h0m0-7h0m-2 14h0m-10 15h0m-2 8h0m-7-33h0m-2 63h0m0-17h0m10 6h0m1 12h0m2-31h0m2 17h0m4-5h0m13-2h0m0 12h0m2 5h0m661-22h0m6 22h0m6-14h0m5 22h0m3-3h0m9-2h0m4-7h0m2 10h0m5-29h0m9 35h0m1-38h0m2 33h0m1-9h0m5 7h0m3-24h0m0 6h0m4 17h0m2-26h0m14 31h0m673-13h0m16-7h0m5-9h0m5-1h0m2 24h0m1 7h0m0-34h0m2 15h0m1 13h0m2-25h0m1 12h0m1 1h0m5 8h0m1-22h0m2 23h0m1-9h0m4-19h0m2 23h0m1-5h0m10 18h0m8 0h0m5-10h0m3-17h0m647-1h0m3 23h0m7-4h0m4-13h0m11-2h0m3 16h0m4-4h0m3 10h0m9-33h0m1 17h0m0 18h0m1 1h0m4-33h0m3 30h0m1-14h0m1-6h0m5 2h0m1 24h0m0 30h0m-1-22h0m-1 28h0m-5-8h0m-4 1h0m0-3h0m-5-5h0m-4 17h0m-1-10h0m-3-14h0m-1-7h0m-13 15h0m-4-17h0m-2 20h0m-9-23h0m-1 21h0m0-3h0m-4-3h0m0 3h0m-5 0h0m-655-4h0m-4 7h0m-3 6h0m-3-27h0m-9 5h0m-9 21h0m-11 5h0m-1-24h0m-4 25h0m-1-8h0m-2-12h0m-3 14h0m0-1h0m0-1h0m-2-17h0m-692-2h0m-3-4h0m-3 30h0m-4-22h0m-3-5h0m-1-1h0m-3 19h0m-12 2h0m-13-7h0m-2-1h0m-4 6h0m0 11h0m-4-22h0m0 24h0m-3-11h0m0-21h0m-2-2h0m-1 2h0m-1 31h0m-1-31h0m-5 18h0m0-8h0m-681-12h0m-8-1h0m701 40h0m1 12h0m1-1h0m18 10h0m2-6h0m9-3h0m2 1h0m1-10h0m1 24h0m12-1h0m3-24h0m721-1h0m1-1h0m689 2h0m3 4h0m10-1h0m8-7h0m5 18h0m2 9h0m3-9h0m1-16h0m22 1h0"/>
<path transform="scale(.1)" fill="none" stroke="#f00000" stroke-width="11.5" stroke-linecap="round"  d="M730 1859h0m6 3h0m4 1h0m2 7h0m3-7h0m3-3h0m16 14h0m8 41h0m-3-30h0m-4 17h0m-6 14h0m-9-14h0m-2-1h0m0-7h0m-1-8h0m-1 17h0m-2 9h0m-6-16h0m-7-6h0m11 32h0m6 4h0m2-4h0m4 24h0m8-10h0m1-2h0m8 14h0m1-17h0m5-4h0"/>
<text x="70.26" y="122.50" font-size="4.4" text-anchor="middle" fill="#000" >c0</text>
<text x="42.55" y="121.87" font-size="4.4" text-anchor="middle" fill="#000" >c3</text>
<text x="51.99" y="125.23" font-size="4.4" text-anchor="middle" fill="#000" >c2</text>
<text x="47.80" y="139.72" font-size="4.4" text-anchor="middle" fill="#000" >c10</text>
<text x="72.99" y="152.94" font-size="4.4" text-anchor="middle" fill="#000" >c1</text>
<text x="29.95" y="146.01" font-size="4.4" text-anchor="middle" fill="#000" >c18</text>
<text x="40.45" y="151.89" font-size="4.4" text-anchor="middle" fill="#000" >c22</text>
<text x="26.80" y="159.24" font-size="4.4" text-anchor="middle" fill="#000" >c16</text>
<text x="46.12" y="160.92" font-size="4.4" text-anchor="middle" fill="#000" >c20</text>
<text x="33.52" y="170.79" font-size="4.4" text-anchor="middle" fill="#000" >c23</text>
<text x="28.90" y="181.29" font-size="4.4" text-anchor="middle" fill="#000" >c17</text>
<text x="43.18" y="185.91" font-size="4.4" text-anchor="middle" fill="#000" >c19</text>
<text x="45.28" y="189.27" font-size="4.4" text-anchor="middle" fill="#000" >c21</text>
<text x="23.65" y="192.21" font-size="4.4" text-anchor="middle" fill="#000" >c15</text>
<text x="38.35" y="200.82" font-size="4.4" text-anchor="middle" fill="#000" >c14</text>
<text x="53.04" y="209.64" font-size="4.4" text-anchor="middle" fill="#000" >c13</text>
<text x="44.02" y="218.04" font-size="4.4" text-anchor="middle" fill="#000" >c12</text>
<text x="58.29" y="205.44" font-size="4.4" text-anchor="middle" fill="#000" >c11</text>
<text x="58.29" y="180.24" font-size="4.4" text-anchor="middle" fill="#000" >c9</text>
<text x="65.01" y="189.27" font-size="4.4" text-anchor="middle" fill="#000" >c6</text>
<text x="72.57" y="181.71" font-size="4.4" text-anchor="middle" fill="#000" >c7</text>
<text x="82.44" y="186.12" font-size="4.4" text-anchor="middle" fill="#000" >c8</text>
<text x="70.47" y="201.24" font-size="4.4" text-anchor="middle" fill="#000" >c4</text>
<text x="78.24" y="197.67" font-size="4.4" text-anchor="middle" fill="#000" >c24</text>
<text x="143.89" y="127.75" font-size="4.4" text-anchor="middle" fill="#000" >c0</text>
<text x="119.33" y="121.87" font-size="4.4" text-anchor="middle" fill="#000" >c3</text>
<text x="127.51" y="118.72" font-size="4.4" text-anchor="middle" fill="#000" >c2</text>
<text x="123.94" y="135.10" font-size="4.4" text-anchor="middle" fill="#000" >c10</text>
<text x="113.45" y="147.27" font-size="4.4" text-anchor="middle" fill="#000" >c22</text>
<text x="97.28" y="157.14" font-size="4.4" text-anchor="middle" fill="#000" >c18</text>
<text x="107.78" y="155.04" font-size="4.4" text-anchor="middle" fill="#000" >c16</text>
<text x="117.65" y="160.29" font-size="4.4" text-anchor="middle" fill="#000" >c20</text>
<text x="107.78" y="169.74" font-size="4.4" text-anchor="middle" fill="#000" >c23</text>
<text x="103.37" y="174.57" font-size="4.4" text-anchor="middle" fill="#000" >c17</text>
<text x="97.28" y="188.64" font-size="4.4" text-anchor="middle" fill="#000" >c15</text>
<text x="114.50" y="187.17" font-size="4.4" text-anchor="middle" fill="#000" >c19</text>
<text x="111.98" y="194.52" font-size="4.4" text-anchor="middle" fill="#000" >c21</text>
<text x="107.15" y="207.54" font-size="4.4" text-anchor="middle" fill="#000" >c14</text>
<text x="124.36" y="211.32" font-size="4.4" text-anchor="middle" fill="#000" >c13</text>
<text x="117.02" y="219.51" font-size="4.4" text-anchor="middle" fill="#000" >c12</text>
<text x="130.24" y="195.36" font-size="4.4" text-anchor="middle" fill="#000" >c11</text>
<text x="127.09" y="186.54" font-size="4.4" text-anchor="middle" fill="#000" >c9</text>
<text x="142.84" y="162.39" font-size="4.4" text-anchor="middle" fill="#000" >c1</text>
<text x="142.84" y="184.02" font-size="4.4" text-anchor="middle" fill="#000" >c6</text>
<text x="145.57" y="193.89" font-size="4.4" text-anchor="middle" fill="#000" >c5</text>
<text x="143.89" y="200.82" font-size="4.4" text-anchor="middle" fill="#000" >c4</text>
<text x="155.44" y="194.52" font-size="4.4" text-anchor="middle" fill="#000" >c8</text>
<text x="147.04" y="181.29" font-size="4.4" text-anchor="middle" fill="#000" >c7</text>
<text x="187.92" y="121.87" font-size="4.4" text-anchor="middle" fill="#000" >c3</text>
<text x="200.51" y="125.23" font-size="4.4" text-anchor="middle" fill="#000" >c2</text>
<text x="212.27" y="127.75" font-size="4.4" text-anchor="middle" fill="#000" >c0</text>
<text x="194.85" y="138.88" font-size="4.4" text-anchor="middle" fill="#000" >c10</text>
<text x="177.63" y="141.81" font-size="4.4" text-anchor="middle" fill="#000" >c16</text>
<text x="167.55" y="152.52" font-size="4.4" text-anchor="middle" fill="#000" >c18</text>
<text x="185.40" y="153.57" font-size="4.4" text-anchor="middle" fill="#000" >c22</text>
<text x="192.33" y="163.02" font-size="4.4" text-anchor="middle" fill="#000" >c20</text>
<text x="181.20" y="172.89" font-size="4.4" text-anchor="middle" fill="#000" >c23</text>
<text x="173.43" y="180.87" font-size="4.4" text-anchor="middle" fill="#000" >c17</text>
<text x="172.38" y="192.42" font-size="4.4" text-anchor="middle" fill="#000" >c15</text>
<text x="190.02" y="184.65" font-size="4.4" text-anchor="middle" fill="#000" >c19</text>
<text x="187.08" y="193.89" font-size="4.4" text-anchor="middle" fill="#000" >c21</text>
<text x="180.78" y="209.22" font-size="4.4" text-anchor="middle" fill="#000" >c14</text>
<text x="199.04" y="210.69" font-size="4.4" text-anchor="middle" fill="#000" >c13</text>
<text x="189.60" y="219.72" font-size="4.4" text-anchor="middle" fill="#000" >c12</text>
<text x="199.04" y="202.29" font-size="4.4" text-anchor="middle" fill="#000" >c11</text>
<text x="201.14" y="187.59" font-size="4.4" text-anchor="middle" fill="#000" >c9</text>
<text x="217.94" y="155.67" font-size="4.4" text-anchor="middle" fill="#000" >c1</text>
<text x="212.27" y="183.39" font-size="4.4" text-anchor="middle" fill="#000" >c6</text>
<text x="221.09" y="200.19" font-size="4.4" text-anchor="middle" fill="#000" >c5</text>
<text x="215.84" y="203.34" font-size="4.4" text-anchor="middle" fill="#000" >c4</text>
<text x="218.57" y="181.92" font-size="4.4" text-anchor="middle" fill="#000" >c7</text>
<text x="228.44" y="189.27" font-size="4.4" text-anchor="middle" fill="#000" >c8</text>
<text x="288.84" y="206.07" font-size="4.4" text-anchor="middle" fill="#000" >c4</text>
<text x="293.04" y="200.19" font-size="4.4" text-anchor="middle" fill="#000" >c5</text>
<text x="289.89" y="184.86" font-size="4.4" text-anchor="middle" fill="#000" >c6</text>
<text x="296.82" y="174.99" font-size="4.4" text-anchor="middle" fill="#000" >c7</text>
<text x="299.34" y="193.89" font-size="4.4" text-anchor="middle" fill="#000" >c8</text>
<text x="274.14" y="195.99" font-size="4.4" text-anchor="middle" fill="#000" >c9</text>
<text x="277.71" y="202.29" font-size="4.4" text-anchor="middle" fill="#000" >c11</text>
<text x="272.67" y="209.64" font-size="4.4" text-anchor="middle" fill="#000" >c13</text>
<text x="262.18" y="218.04" font-size="4.4" text-anchor="middle" fill="#000" >c12</text>
<text x="256.30" y="202.71" font-size="4.4" text-anchor="middle" fill="#000" >c14</text>
<text x="241.60" y="195.99" font-size="4.4" text-anchor="middle" fill="#000" >c15</text>
<text x="246.22" y="178.14" font-size="4.4" text-anchor="middle" fill="#000" >c17</text>
<text x="264.70" y="191.37" font-size="4.4" text-anchor="middle" fill="#000" >c21</text>
<text x="260.50" y="186.54" font-size="4.4" text-anchor="middle" fill="#000" >c19</text>
<text x="254.20" y="170.37" font-size="4.4" text-anchor="middle" fill="#000" >c23</text>
<text x="266.80" y="160.71" font-size="4.4" text-anchor="middle" fill="#000" >c20</text>
<text x="259.87" y="144.54" font-size="4.4" text-anchor="middle" fill="#000" >c22</text>
<text x="265.75" y="140.77" font-size="4.4" text-anchor="middle" fill="#000" >c10</text>
<text x="240.55" y="146.64" font-size="4.4" text-anchor="middle" fill="#000" >c18</text>
<text x="251.05" y="138.25" font-size="4.4" text-anchor="middle" fill="#000" >c18</text>
<text x="294.09" y="151.89" font-size="4.4" text-anchor="middle" fill="#000" >c1</text>
<text x="284.64" y="131.53" font-size="4.4" text-anchor="middle" fill="#000" >c0</text>
<text x="260.50" y="127.75" font-size="4.4" text-anchor="middle" fill="#000" >c3</text>
<text x="272.04" y="124.18" font-size="4.4" text-anchor="middle" fill="#000" >c2</text>
<line x1="15.3" y1="105.6" x2="15.3" y2="224" stroke="#000" stroke-width="1.1"/>
<line x1="13.6" y1="108.0" x2="15.3" y2="108.0" stroke="#000" stroke-width="0.7"/>
<text x="12.60" y="110.40" font-size="6.8" text-anchor="end" fill="#000" >10</text>
<line x1="13.6" y1="139.7" x2="15.3" y2="139.7" stroke="#000" stroke-width="0.7"/>
<text x="12.60" y="142.10" font-size="6.8" text-anchor="end" fill="#000" >5</text>
<line x1="13.6" y1="171.4" x2="15.3" y2="171.4" stroke="#000" stroke-width="0.7"/>
<text x="12.60" y="173.80" font-size="6.8" text-anchor="end" fill="#000" >0</text>
<line x1="13.6" y1="203.1" x2="15.3" y2="203.1" stroke="#000" stroke-width="0.7"/>
<text x="12.60" y="205.50" font-size="6.8" text-anchor="end" fill="#000" >−5</text>
<text x="0" y="0" font-size="7" text-anchor="middle" transform="translate(5.6,166) rotate(-90)">UMAP_2</text>
<line x1="15.3" y1="223.9" x2="85.8" y2="223.9" stroke="#000" stroke-width="1.1"/>
<line x1="18.5" y1="223.9" x2="18.5" y2="225.6" stroke="#000" stroke-width="0.7"/>
<text x="18.50" y="231.30" font-size="6.8" text-anchor="middle" fill="#000" >−10</text>
<line x1="32.5" y1="223.9" x2="32.5" y2="225.6" stroke="#000" stroke-width="0.7"/>
<text x="32.50" y="231.30" font-size="6.8" text-anchor="middle" fill="#000" >−5</text>
<line x1="46.5" y1="223.9" x2="46.5" y2="225.6" stroke="#000" stroke-width="0.7"/>
<text x="46.50" y="231.30" font-size="6.8" text-anchor="middle" fill="#000" >0</text>
<line x1="60.5" y1="223.9" x2="60.5" y2="225.6" stroke="#000" stroke-width="0.7"/>
<text x="60.50" y="231.30" font-size="6.8" text-anchor="middle" fill="#000" >5</text>
<line x1="74.5" y1="223.9" x2="74.5" y2="225.6" stroke="#000" stroke-width="0.7"/>
<text x="74.50" y="231.30" font-size="6.8" text-anchor="middle" fill="#000" >10</text>
<line x1="88.3" y1="223.9" x2="158.8" y2="223.9" stroke="#000" stroke-width="1.1"/>
<line x1="91.5" y1="223.9" x2="91.5" y2="225.6" stroke="#000" stroke-width="0.7"/>
<text x="91.50" y="231.30" font-size="6.8" text-anchor="middle" fill="#000" >−10</text>
<line x1="105.5" y1="223.9" x2="105.5" y2="225.6" stroke="#000" stroke-width="0.7"/>
<text x="105.50" y="231.30" font-size="6.8" text-anchor="middle" fill="#000" >−5</text>
<line x1="119.5" y1="223.9" x2="119.5" y2="225.6" stroke="#000" stroke-width="0.7"/>
<text x="119.50" y="231.30" font-size="6.8" text-anchor="middle" fill="#000" >0</text>
<line x1="133.5" y1="223.9" x2="133.5" y2="225.6" stroke="#000" stroke-width="0.7"/>
<text x="133.50" y="231.30" font-size="6.8" text-anchor="middle" fill="#000" >5</text>
<line x1="147.5" y1="223.9" x2="147.5" y2="225.6" stroke="#000" stroke-width="0.7"/>
<text x="147.50" y="231.30" font-size="6.8" text-anchor="middle" fill="#000" >10</text>
<line x1="161.4" y1="223.9" x2="231.9" y2="223.9" stroke="#000" stroke-width="1.1"/>
<line x1="164.6" y1="223.9" x2="164.6" y2="225.6" stroke="#000" stroke-width="0.7"/>
<text x="164.60" y="231.30" font-size="6.8" text-anchor="middle" fill="#000" >−10</text>
<line x1="178.6" y1="223.9" x2="178.6" y2="225.6" stroke="#000" stroke-width="0.7"/>
<text x="178.60" y="231.30" font-size="6.8" text-anchor="middle" fill="#000" >−5</text>
<line x1="192.6" y1="223.9" x2="192.6" y2="225.6" stroke="#000" stroke-width="0.7"/>
<text x="192.60" y="231.30" font-size="6.8" text-anchor="middle" fill="#000" >0</text>
<line x1="206.6" y1="223.9" x2="206.6" y2="225.6" stroke="#000" stroke-width="0.7"/>
<text x="206.60" y="231.30" font-size="6.8" text-anchor="middle" fill="#000" >5</text>
<line x1="220.6" y1="223.9" x2="220.6" y2="225.6" stroke="#000" stroke-width="0.7"/>
<text x="220.60" y="231.30" font-size="6.8" text-anchor="middle" fill="#000" >10</text>
<line x1="234.8" y1="223.9" x2="305.3" y2="223.9" stroke="#000" stroke-width="1.1"/>
<line x1="238.0" y1="223.9" x2="238.0" y2="225.6" stroke="#000" stroke-width="0.7"/>
<text x="238.00" y="231.30" font-size="6.8" text-anchor="middle" fill="#000" >−10</text>
<line x1="252.0" y1="223.9" x2="252.0" y2="225.6" stroke="#000" stroke-width="0.7"/>
<text x="252.00" y="231.30" font-size="6.8" text-anchor="middle" fill="#000" >−5</text>
<line x1="266.0" y1="223.9" x2="266.0" y2="225.6" stroke="#000" stroke-width="0.7"/>
<text x="266.00" y="231.30" font-size="6.8" text-anchor="middle" fill="#000" >0</text>
<line x1="280.0" y1="223.9" x2="280.0" y2="225.6" stroke="#000" stroke-width="0.7"/>
<text x="280.00" y="231.30" font-size="6.8" text-anchor="middle" fill="#000" >5</text>
<line x1="294.0" y1="223.9" x2="294.0" y2="225.6" stroke="#000" stroke-width="0.7"/>
<text x="294.00" y="231.30" font-size="6.8" text-anchor="middle" fill="#000" >10</text>
<text x="159.60" y="239.80" font-size="7" text-anchor="middle" fill="#000" >UMAP_1</text>
<ellipse cx="307.1" cy="125.6" rx="1.9" ry="1.7" fill="#5ea5d8"/>
<text x="312.00" y="128.50" font-size="8.4" text-anchor="start" fill="#000" transform="" textLength="8.0" lengthAdjust="spacingAndGlyphs">c0</text>
<ellipse cx="307.1" cy="131.9" rx="1.9" ry="1.7" fill="#3fd4c8"/>
<text x="312.00" y="134.78" font-size="8.4" text-anchor="start" fill="#000" transform="" textLength="8.0" lengthAdjust="spacingAndGlyphs">c1</text>
<ellipse cx="307.1" cy="138.2" rx="1.9" ry="1.7" fill="#7ae8f5"/>
<text x="312.00" y="141.06" font-size="8.4" text-anchor="start" fill="#000" transform="" textLength="8.0" lengthAdjust="spacingAndGlyphs">c2</text>
<ellipse cx="307.1" cy="144.4" rx="1.9" ry="1.7" fill="#0ab0f0"/>
<text x="312.00" y="147.34" font-size="8.4" text-anchor="start" fill="#000" transform="" textLength="8.0" lengthAdjust="spacingAndGlyphs">c3</text>
<ellipse cx="307.1" cy="150.7" rx="1.9" ry="1.7" fill="#98d898"/>
<text x="312.00" y="153.62" font-size="8.4" text-anchor="start" fill="#000" transform="" textLength="8.0" lengthAdjust="spacingAndGlyphs">c4</text>
<ellipse cx="307.1" cy="157.0" rx="1.9" ry="1.7" fill="#b0d89c"/>
<text x="312.00" y="159.90" font-size="8.4" text-anchor="start" fill="#000" transform="" textLength="8.0" lengthAdjust="spacingAndGlyphs">c5</text>
<ellipse cx="307.1" cy="163.3" rx="1.9" ry="1.7" fill="#b8dca8"/>
<text x="312.00" y="166.18" font-size="8.4" text-anchor="start" fill="#000" transform="" textLength="8.0" lengthAdjust="spacingAndGlyphs">c6</text>
<ellipse cx="307.1" cy="169.6" rx="1.9" ry="1.7" fill="#5cc828"/>
<text x="312.00" y="172.46" font-size="8.4" text-anchor="start" fill="#000" transform="" textLength="8.0" lengthAdjust="spacingAndGlyphs">c7</text>
<ellipse cx="307.1" cy="175.8" rx="1.9" ry="1.7" fill="#80f020"/>
<text x="312.00" y="178.74" font-size="8.4" text-anchor="start" fill="#000" transform="" textLength="8.0" lengthAdjust="spacingAndGlyphs">c8</text>
<ellipse cx="307.1" cy="182.1" rx="1.9" ry="1.7" fill="#f8b0d8"/>
<text x="312.00" y="185.02" font-size="8.4" text-anchor="start" fill="#000" transform="" textLength="8.0" lengthAdjust="spacingAndGlyphs">c9</text>
<ellipse cx="307.1" cy="188.4" rx="1.9" ry="1.7" fill="#f88c10"/>
<text x="312.00" y="191.30" font-size="8.4" text-anchor="start" fill="#000" transform="" textLength="12.0" lengthAdjust="spacingAndGlyphs">c10</text>
<ellipse cx="307.1" cy="194.7" rx="1.9" ry="1.7" fill="#f848e8"/>
<text x="312.00" y="197.58" font-size="8.4" text-anchor="start" fill="#000" transform="" textLength="12.0" lengthAdjust="spacingAndGlyphs">c11</text>
<ellipse cx="307.1" cy="201.0" rx="1.9" ry="1.7" fill="#fff0cc"/>
<text x="312.00" y="203.86" font-size="8.4" text-anchor="start" fill="#000" transform="" textLength="12.0" lengthAdjust="spacingAndGlyphs">c12</text>
<ellipse cx="330.1" cy="125.6" rx="1.9" ry="1.7" fill="#ffe2c4"/>
<text x="334.60" y="128.50" font-size="8.4" text-anchor="start" fill="#000" textLength="12.4" lengthAdjust="spacingAndGlyphs">c13</text>
<ellipse cx="330.1" cy="131.9" rx="1.9" ry="1.7" fill="#ffe060"/>
<text x="334.60" y="134.78" font-size="8.4" text-anchor="start" fill="#000" textLength="12.4" lengthAdjust="spacingAndGlyphs">c14</text>
<ellipse cx="330.1" cy="138.2" rx="1.9" ry="1.7" fill="#e8f060"/>
<text x="334.60" y="141.06" font-size="8.4" text-anchor="start" fill="#000" textLength="12.4" lengthAdjust="spacingAndGlyphs">c15</text>
<ellipse cx="330.1" cy="144.4" rx="1.9" ry="1.7" fill="#eef0a0"/>
<text x="334.60" y="147.34" font-size="8.4" text-anchor="start" fill="#000" textLength="12.4" lengthAdjust="spacingAndGlyphs">c16</text>
<ellipse cx="330.1" cy="150.7" rx="1.9" ry="1.7" fill="#f0f000"/>
<text x="334.60" y="153.62" font-size="8.4" text-anchor="start" fill="#000" textLength="12.4" lengthAdjust="spacingAndGlyphs">c17</text>
<ellipse cx="330.1" cy="157.0" rx="1.9" ry="1.7" fill="#e8e090"/>
<text x="334.60" y="159.90" font-size="8.4" text-anchor="start" fill="#000" textLength="12.4" lengthAdjust="spacingAndGlyphs">c18</text>
<ellipse cx="330.1" cy="163.3" rx="1.9" ry="1.7" fill="#f8c060"/>
<text x="334.60" y="166.18" font-size="8.4" text-anchor="start" fill="#000" textLength="12.4" lengthAdjust="spacingAndGlyphs">c19</text>
<ellipse cx="330.1" cy="169.6" rx="1.9" ry="1.7" fill="#f0c010"/>
<text x="334.60" y="172.46" font-size="8.4" text-anchor="start" fill="#000" textLength="12.4" lengthAdjust="spacingAndGlyphs">c20</text>
<ellipse cx="330.1" cy="175.8" rx="1.9" ry="1.7" fill="#f0b030"/>
<text x="334.60" y="178.74" font-size="8.4" text-anchor="start" fill="#000" textLength="12.4" lengthAdjust="spacingAndGlyphs">c21</text>
<ellipse cx="330.1" cy="182.1" rx="1.9" ry="1.7" fill="#f8b098"/>
<text x="334.60" y="185.02" font-size="8.4" text-anchor="start" fill="#000" textLength="12.4" lengthAdjust="spacingAndGlyphs">c22</text>
<ellipse cx="330.1" cy="188.4" rx="1.9" ry="1.7" fill="#f0b868"/>
<text x="334.60" y="191.30" font-size="8.4" text-anchor="start" fill="#000" textLength="12.4" lengthAdjust="spacingAndGlyphs">c23</text>
<ellipse cx="330.1" cy="194.7" rx="1.9" ry="1.7" fill="#f00000"/>
<text x="334.60" y="197.58" font-size="8.4" text-anchor="start" fill="#000" textLength="12.4" lengthAdjust="spacingAndGlyphs">c24</text>
<text x="0.50" y="246.30" font-size="8.5" text-anchor="start" font-weight="bold" fill="#000" >c</text>
<text x="39.60" y="258.00" font-size="7" text-anchor="middle" fill="#000" >S12D_1</text>
<text x="117.50" y="258.00" font-size="7" text-anchor="middle" fill="#000" >S18D_1</text>
<text x="195.50" y="258.00" font-size="7" text-anchor="middle" fill="#000" >S18D_2</text>
<text x="273.50" y="258.00" font-size="7" text-anchor="middle" fill="#000" >S24D_1</text>
<rect x="4.7" y="261.7" width="69.89999999999999" height="70.5" fill="#fdfdfd"/><line x1="5.3" y1="261.7" x2="5.3" y2="332.2" stroke="#cfcbe0" stroke-width="0.9" stroke-dasharray="0.8 0.8" fill="none"/><line x1="74.0" y1="261.7" x2="74.0" y2="332.2" stroke="#cfcbe0" stroke-width="0.9" stroke-dasharray="0.8 0.8" fill="none"/><line x1="4.7" y1="262.2" x2="74.6" y2="262.2" stroke="#cfcbe0" stroke-width="0.9" stroke-dasharray="0.8 0.8" fill="none"/>
<rect x="82.7" y="261.7" width="69.89999999999999" height="70.5" fill="#fdfdfd"/><line x1="83.3" y1="261.7" x2="83.3" y2="332.2" stroke="#cfcbe0" stroke-width="0.9" stroke-dasharray="0.8 0.8" fill="none"/><line x1="152.0" y1="261.7" x2="152.0" y2="332.2" stroke="#cfcbe0" stroke-width="0.9" stroke-dasharray="0.8 0.8" fill="none"/><line x1="82.7" y1="262.2" x2="152.6" y2="262.2" stroke="#cfcbe0" stroke-width="0.9" stroke-dasharray="0.8 0.8" fill="none"/>
<rect x="161" y="261.7" width="69.19999999999999" height="69.80000000000001" fill="#fdfdfd"/><line x1="161.6" y1="261.7" x2="161.6" y2="331.5" stroke="#cfcbe0" stroke-width="0.9" stroke-dasharray="0.8 0.8" fill="none"/><line x1="229.6" y1="261.7" x2="229.6" y2="331.5" stroke="#cfcbe0" stroke-width="0.9" stroke-dasharray="0.8 0.8" fill="none"/><line x1="161" y1="262.2" x2="230.2" y2="262.2" stroke="#cfcbe0" stroke-width="0.9" stroke-dasharray="0.8 0.8" fill="none"/>
<rect x="239.4" y="261.7" width="69.20000000000002" height="70.5" fill="#fdfdfd"/><line x1="240.0" y1="261.7" x2="240.0" y2="332.2" stroke="#cfcbe0" stroke-width="0.9" stroke-dasharray="0.8 0.8" fill="none"/><line x1="308.0" y1="261.7" x2="308.0" y2="332.2" stroke="#cfcbe0" stroke-width="0.9" stroke-dasharray="0.8 0.8" fill="none"/><line x1="239.4" y1="262.2" x2="308.6" y2="262.2" stroke="#cfcbe0" stroke-width="0.9" stroke-dasharray="0.8 0.8" fill="none"/>
<path d="M9.4,287.2 C11.0,285.0 13.7,283.4 16.1,281.9 C18.6,280.3 21.5,279.2 24.2,277.8 C26.9,276.5 30.0,274.9 32.2,273.8 C34.5,272.7 35.4,272.1 37.6,271.1 C39.9,270.1 43.2,268.8 45.7,267.8 C48.1,266.8 50.4,265.4 52.4,265.1 C54.4,264.7 56.0,265.2 57.8,265.7 C59.6,266.3 61.1,267.8 63.1,268.4 C65.2,269.1 68.2,268.9 69.9,269.8 C71.5,270.7 72.8,272.4 73.2,273.8 C73.7,275.3 73.5,276.9 72.5,278.5 C71.5,280.1 68.7,282.0 67.2,283.2 C65.6,284.4 64.7,284.6 63.1,285.9 C61.6,287.2 59.8,289.3 57.8,291.3 C55.7,293.3 53.3,295.7 51.0,298.0 C48.8,300.2 46.8,302.5 44.3,304.7 C41.9,306.9 38.7,309.2 36.3,311.4 C33.8,313.7 31.8,316.1 29.6,318.1 C27.3,320.2 24.9,321.6 22.8,323.5 C20.8,325.4 19.1,328.9 17.5,329.6 C15.8,330.2 14.1,328.8 12.8,327.5 C11.4,326.3 10.3,324.6 9.4,322.2 C8.5,319.7 7.9,315.9 7.4,312.8 C6.8,309.6 6.2,306.3 6.0,303.4 C5.9,300.5 6.2,298.0 6.7,295.3 C7.3,292.6 7.8,289.5 9.4,287.2Z" fill="#93c0d6" />
<path d="M51.0,265.7 C51.9,265.2 55.5,264.7 57.8,265.1 C60.0,265.4 62.5,267.0 64.5,267.8 C66.5,268.5 68.4,268.8 69.9,269.8 C71.3,270.8 72.8,272.4 73.2,273.8 C73.7,275.3 73.3,277.2 72.5,278.5 C71.8,279.9 69.7,281.8 68.5,281.9 C67.3,282.0 66.0,280.5 65.2,279.2 C64.3,277.8 64.4,275.4 63.1,273.8 C61.9,272.2 59.6,270.7 57.8,269.8 C56.0,268.9 53.5,269.1 52.4,268.4 C51.3,267.8 50.2,266.3 51.0,265.7Z" fill="#4a96c8" />
<path d="M7.3,294.0 C8.1,291.3 9.9,290.4 12.1,288.6 C14.2,286.8 17.2,285.0 20.2,283.2 C23.1,281.4 26.2,279.4 29.6,277.8 C32.9,276.3 37.4,274.7 40.3,273.8 C43.2,272.9 46.1,272.0 47.0,272.5 C47.9,272.9 46.1,274.5 45.7,276.5 C45.2,278.5 44.6,281.4 44.3,284.6 C44.1,287.7 45.0,292.2 44.3,295.3 C43.7,298.4 42.1,301.1 40.3,303.4 C38.5,305.6 35.8,306.9 33.6,308.7 C31.3,310.5 29.1,312.2 26.9,314.1 C24.6,316.0 21.9,318.9 20.2,320.2 C18.4,321.4 17.6,321.9 16.1,321.5 C14.7,321.0 12.7,319.1 11.4,317.5 C10.1,315.8 9.1,313.5 8.3,311.4 C7.5,309.3 6.9,307.6 6.7,304.7 C6.5,301.8 6.4,296.6 7.3,294.0Z" fill="#dfc84e" />
<path d="M8.1,295.3 C8.5,293.7 11.2,290.6 13.4,288.6 C15.7,286.6 18.6,284.9 21.5,283.2 C24.4,281.5 27.8,279.9 30.9,278.5 C34.0,277.2 38.1,275.9 40.3,275.2 C42.5,274.4 43.4,273.7 44.3,273.8 C45.2,273.9 47.7,274.7 45.7,275.8 C43.7,276.9 36.0,278.8 32.2,280.5 C28.4,282.2 25.7,284.1 22.8,285.9 C19.9,287.7 16.8,289.3 14.8,291.3 C12.8,293.3 11.9,297.3 10.7,298.0 C9.6,298.7 7.6,296.9 8.1,295.3Z" fill="#e9a23e" />
<path d="M7.0,295.3 C7.3,293.8 7.7,293.2 8.3,293.3 C8.9,293.4 10.2,293.8 10.5,296.0 C10.7,298.1 9.6,303.0 9.9,306.0 C10.3,309.1 11.1,311.9 12.4,314.1 C13.6,316.3 15.8,318.1 17.5,319.2 C19.1,320.3 21.7,320.0 22.2,320.6 C22.6,321.2 21.4,322.7 20.2,322.8 C18.9,323.0 16.1,322.6 14.5,321.5 C12.9,320.4 11.6,318.1 10.5,316.1 C9.4,314.1 8.4,311.8 7.8,309.4 C7.2,307.1 6.9,304.4 6.7,302.0 C6.6,299.7 6.7,296.8 7.0,295.3Z" fill="#e9a23e" />
<path d="M26.9,295.3 C28.9,292.4 37.2,288.1 40.3,287.2 C43.4,286.3 45.2,287.9 45.7,289.9 C46.1,291.9 44.8,296.4 43.0,299.3 C41.2,302.2 37.6,304.9 34.9,307.4 C32.2,309.9 29.3,312.1 26.9,314.1 C24.4,316.1 21.7,318.8 20.2,319.5 C18.6,320.2 17.0,319.5 17.5,318.1 C17.9,316.8 21.0,313.7 22.8,311.4 C24.6,309.2 27.5,307.4 28.2,304.7 C28.9,302.0 24.9,298.2 26.9,295.3Z" fill="#e9ac45" />
<path d="M43.0,275.2 C44.1,272.9 48.8,273.8 51.0,273.8 C53.3,273.8 55.1,274.3 56.4,275.2 C57.8,276.0 59.6,278.1 59.1,279.2 C58.7,280.3 55.5,281.0 53.7,281.9 C51.9,282.8 49.9,283.7 48.4,284.6 C46.8,285.4 45.2,288.8 44.3,287.2 C43.4,285.7 41.9,277.4 43.0,275.2Z" fill="#e4d49c" />
<path d="M45.7,285.9 C46.7,283.0 49.0,282.8 51.0,281.9 C53.1,281.0 56.3,280.5 57.8,280.5 C59.2,280.5 60.0,280.5 59.8,281.9 C59.6,283.2 57.7,286.6 56.4,288.6 C55.2,290.6 53.7,292.4 52.4,294.0 C51.0,295.5 49.6,297.1 48.4,298.0 C47.1,298.9 45.5,301.3 45.0,299.3 C44.6,297.3 44.7,288.8 45.7,285.9Z" fill="#a9c8a4" />
<path d="M51.0,287.2 C51.6,285.4 55.1,283.4 56.4,282.5 C57.8,281.6 59.1,280.9 59.1,281.9 C59.1,282.9 57.4,286.7 56.4,288.6 C55.4,290.5 54.0,293.5 53.1,293.3 C52.2,293.1 50.5,289.0 51.0,287.2Z" fill="#a9c462" />
<path d="M49.7,269.8 C50.9,269.3 54.2,269.1 56.4,269.8 C58.7,270.4 61.8,272.2 63.1,273.8 C64.5,275.4 64.9,278.2 64.5,279.2 C64.0,280.2 61.8,280.3 60.5,279.9 C59.1,279.4 58.0,277.5 56.4,276.5 C54.9,275.5 52.3,274.5 51.0,273.8 C49.8,273.1 49.3,273.1 49.0,272.5 C48.8,271.8 48.5,270.2 49.7,269.8Z" fill="#eea8d4" />
<path d="M45.0,299.3 L46.3,294.0 L48.4,288.6 L52.4,282.5 L57.8,279.9 L60.5,280.5" fill="none" stroke="#ec3ad8" stroke-width="1.2" stroke-linejoin="round" stroke-linecap="round"/>
<path d="M59.1,281.2 C59.3,280.6 60.5,280.0 61.1,279.9 C61.8,279.7 62.7,280.1 63.1,280.5 C63.6,281.0 64.0,282.0 63.8,282.5 C63.6,283.1 62.5,283.7 61.8,283.9 C61.1,284.0 60.2,283.9 59.8,283.5 C59.3,283.0 58.9,281.8 59.1,281.2Z" fill="#e80010" />
<path d="M71.9,272.5 C72.1,271.6 73.5,272.9 73.9,273.8 C74.3,274.7 74.4,276.9 74.2,277.8 C73.9,278.7 72.9,280.1 72.5,279.2 C72.2,278.3 71.6,273.4 71.9,272.5Z" fill="#8a7aa8" />
<path d="M83.4,291.9 C84.4,289.9 87.6,289.9 90.1,288.6 C92.6,287.2 95.2,285.4 98.2,283.9 C101.1,282.3 104.6,280.6 107.6,279.2 C110.5,277.7 112.7,276.2 115.6,275.2 C118.5,274.1 121.9,273.8 125.0,273.1 C128.2,272.5 132.4,272.1 134.4,271.1 C136.4,270.1 135.5,268.1 137.1,267.1 C138.7,266.1 141.6,265.3 143.8,265.1 C146.1,264.9 149.2,264.5 150.5,265.7 C151.9,267.0 151.8,269.8 151.9,272.5 C152.0,275.2 151.4,279.0 151.2,281.9 C151.0,284.8 151.0,287.2 150.5,289.9 C150.1,292.6 149.4,295.1 148.5,298.0 C147.6,300.9 146.4,305.2 145.2,307.4 C143.9,309.6 142.7,310.1 141.1,311.4 C139.6,312.8 138.5,313.9 135.8,315.5 C133.1,317.0 128.6,319.0 125.0,320.8 C121.4,322.6 117.4,324.9 114.3,326.2 C111.1,327.5 108.3,328.7 106.2,328.9 C104.1,329.1 102.7,328.7 101.5,327.5 C100.3,326.4 99.6,323.7 98.8,322.2 C98.0,320.6 97.8,319.5 96.8,318.1 C95.8,316.8 93.8,315.7 92.8,314.1 C91.8,312.5 91.7,310.5 90.8,308.7 C89.9,306.9 88.5,304.7 87.4,303.4 C86.3,302.0 84.7,302.6 84.0,300.7 C83.4,298.8 82.4,294.0 83.4,291.9Z" fill="#93c0d6" />
<path d="M137.1,267.4 C138.2,266.4 141.6,265.7 143.8,265.5 C146.0,265.3 148.9,264.9 150.3,266.0 C151.6,267.2 151.7,268.7 151.9,272.5 C152.0,276.2 151.5,284.3 151.2,288.6 C150.9,292.8 150.4,296.4 149.9,298.0 C149.4,299.6 148.6,299.6 148.1,298.3 C147.7,296.9 147.6,293.3 147.2,289.9 C146.8,286.5 146.7,280.7 145.8,277.8 C144.9,274.9 143.3,273.5 141.8,272.5 C140.4,271.4 137.9,272.2 137.1,271.4 C136.3,270.5 136.0,268.3 137.1,267.4Z" fill="#5a9fcc" />
<path d="M84.7,294.0 C85.7,292.1 89.2,291.5 91.4,290.6 C93.7,289.7 94.8,288.9 98.2,288.6 C101.5,288.2 107.3,288.5 111.6,288.6 C115.8,288.7 119.9,289.0 123.7,289.3 C127.5,289.5 131.5,289.4 134.4,289.9 C137.3,290.5 139.3,291.7 141.1,292.6 C142.9,293.5 144.7,293.7 145.2,295.3 C145.6,296.9 144.7,300.0 143.8,302.0 C142.9,304.0 141.4,305.8 139.8,307.4 C138.2,309.0 136.9,309.9 134.4,311.4 C132.0,313.0 128.2,315.0 125.0,316.8 C121.9,318.6 118.5,320.4 115.6,322.2 C112.7,324.0 109.8,326.9 107.6,327.5 C105.3,328.2 103.5,327.3 102.2,326.2 C100.8,325.1 100.6,322.6 99.5,320.8 C98.4,319.0 96.8,317.0 95.5,315.5 C94.1,313.9 92.6,313.0 91.4,311.4 C90.3,309.9 89.8,307.6 88.7,306.0 C87.7,304.5 86.1,304.0 85.4,302.0 C84.7,300.0 83.7,295.9 84.7,294.0Z" fill="#dfc84e" />
<path d="M86.1,293.3 C86.3,292.6 89.4,291.7 91.4,291.0 C93.4,290.3 94.8,289.2 98.2,288.9 C101.5,288.5 107.3,288.7 111.6,288.9 C115.8,289.0 121.9,288.8 123.7,289.7 C125.5,290.5 124.3,293.0 122.3,294.0 C120.3,294.9 115.6,295.1 111.6,295.3 C107.6,295.5 101.7,295.3 98.2,295.3 C94.6,295.3 92.1,295.6 90.1,295.3 C88.1,295.0 85.8,294.0 86.1,293.3Z" fill="#e9a23e" fill-opacity="0.8"/>
<path d="M129.0,300.7 C131.3,299.1 137.1,297.1 139.8,296.6 C142.5,296.2 144.9,296.2 145.2,298.0 C145.4,299.8 142.9,305.2 141.1,307.4 C139.3,309.6 137.1,309.6 134.4,311.4 C131.7,313.2 128.4,316.1 125.0,318.1 C121.7,320.2 117.2,321.9 114.3,323.5 C111.4,325.1 109.1,327.3 107.6,327.5 C106.0,327.8 104.0,326.2 104.9,324.9 C105.8,323.5 110.0,321.5 112.9,319.5 C115.8,317.5 120.1,315.0 122.3,312.8 C124.6,310.5 125.2,308.1 126.4,306.0 C127.5,304.0 126.8,302.2 129.0,300.7Z" fill="#e9ac45" />
<path d="M98.2,287.9 C96.6,286.7 105.5,282.3 108.9,280.5 C112.3,278.7 114.9,278.1 118.3,277.2 C121.7,276.3 125.7,275.5 129.0,275.2 C132.4,274.8 136.4,274.6 138.5,275.2 C140.5,275.7 140.7,277.2 141.1,278.5 C141.6,279.9 141.8,281.8 141.1,283.2 C140.5,284.7 140.9,286.5 137.1,287.2 C133.3,288.0 124.8,287.8 118.3,287.9 C111.8,288.0 99.7,289.1 98.2,287.9Z" fill="#a9c8a4" />
<path d="M108.9,283.2 C110.2,282.1 114.9,279.4 118.3,278.5 C121.7,277.6 127.7,277.3 129.0,277.8 C130.4,278.4 128.2,280.9 126.4,281.9 C124.6,282.9 121.0,283.3 118.3,283.9 C115.6,284.4 111.8,285.3 110.2,285.2 C108.7,285.1 107.6,284.3 108.9,283.2Z" fill="#a9c462" />
<path d="M123.7,288.6 C125.5,287.5 134.0,288.8 137.1,288.6 C140.2,288.4 141.3,286.3 142.5,287.2 C143.7,288.1 144.7,292.4 144.5,294.0 C144.3,295.5 142.8,296.2 141.1,296.6 C139.5,297.1 136.9,296.9 134.4,296.6 C132.0,296.4 128.2,296.6 126.4,295.3 C124.6,294.0 121.9,289.7 123.7,288.6Z" fill="#e4d49c" />
<path d="M141.1,275.8 C141.5,275.3 143.6,275.9 144.5,277.2 C145.4,278.4 146.1,281.1 146.5,283.2 C147.0,285.3 147.3,287.9 147.2,289.9 C147.1,291.9 146.4,294.6 145.8,295.3 C145.3,296.0 144.3,295.3 143.8,294.0 C143.4,292.6 143.4,289.5 143.2,287.2 C142.9,285.0 142.8,282.4 142.5,280.5 C142.1,278.6 140.8,276.4 141.1,275.8Z" fill="#eea8d4" />
<path d="M98.2,288.3 L134.4,288.3 L139.8,284.6 L141.4,279.2" fill="none" stroke="#ec3ad8" stroke-width="1.2" stroke-linejoin="round" stroke-linecap="round"/>
<path d="M82.0,291.3 C82.4,289.4 84.2,288.9 84.7,290.6 C85.2,292.3 85.3,299.4 85.0,301.3 C84.6,303.2 83.2,303.7 82.7,302.0 C82.2,300.3 81.7,293.2 82.0,291.3Z" fill="#8a7aa8" />
<path d="M150.5,266.4 C150.9,261.7 152.3,262.3 152.7,267.1 C153.0,271.9 153.0,290.6 152.7,295.3 C152.3,300.0 150.9,300.1 150.5,295.3 C150.2,290.5 150.2,271.1 150.5,266.4Z" fill="#8a7aa8" fill-opacity="0.7"/>
<path d="M161.0,308.7 C161.5,306.9 163.8,305.4 165.7,303.4 C167.7,301.3 170.2,298.9 172.5,296.6 C174.7,294.4 176.9,292.2 179.2,289.9 C181.4,287.7 184.1,285.9 185.9,283.2 C187.7,280.5 188.4,276.3 189.9,273.8 C191.5,271.3 193.1,269.9 195.3,268.4 C197.5,267.0 200.7,265.9 203.4,265.1 C206.0,264.2 209.0,263.7 211.4,263.3 C213.9,263.0 216.3,263.0 218.1,263.1 C219.9,263.1 220.6,263.5 222.2,263.7 C223.7,264.0 226.4,263.2 227.5,264.4 C228.7,265.6 228.8,268.2 228.9,271.1 C229.0,274.0 228.9,279.2 228.2,281.9 C227.5,284.6 226.1,285.0 224.9,287.2 C223.6,289.5 222.4,292.6 220.8,295.3 C219.3,298.0 217.5,300.9 215.5,303.4 C213.4,305.8 211.0,307.8 208.7,310.1 C206.5,312.3 203.8,314.8 202.0,316.8 C200.2,318.8 198.9,320.4 198.0,322.2 C197.1,324.0 197.5,326.3 196.6,327.5 C195.7,328.8 194.2,329.6 192.6,329.6 C191.0,329.6 189.0,328.3 187.2,327.5 C185.4,326.8 183.9,326.0 181.9,324.9 C179.9,323.7 177.4,322.2 175.2,320.8 C172.9,319.5 170.4,317.9 168.4,316.8 C166.4,315.7 164.3,315.5 163.1,314.1 C161.8,312.8 160.6,310.5 161.0,308.7Z" fill="#93c0d6" />
<path d="M222.2,263.7 C223.3,262.6 226.4,263.2 227.5,264.4 C228.7,265.6 228.8,268.2 228.9,271.1 C229.0,274.0 228.9,279.6 228.2,281.9 C227.5,284.1 225.8,285.0 224.9,284.6 C224.0,284.1 223.5,281.4 222.8,279.2 C222.2,276.9 220.9,273.7 220.8,271.1 C220.7,268.5 221.0,264.9 222.2,263.7Z" fill="#4a96c8" />
<path d="M164.4,310.1 C165.2,308.3 168.0,305.6 169.8,303.4 C171.6,301.1 173.1,298.7 175.2,296.6 C177.2,294.6 179.4,292.8 181.9,291.3 C184.3,289.7 187.0,288.6 189.9,287.2 C192.8,285.9 195.7,284.6 199.3,283.2 C202.9,281.9 208.3,280.3 211.4,279.2 C214.6,278.1 216.3,276.0 218.1,276.5 C219.9,276.9 221.7,279.6 222.2,281.9 C222.6,284.1 221.9,287.2 220.8,289.9 C219.7,292.6 217.5,295.3 215.5,298.0 C213.4,300.7 211.0,303.4 208.7,306.0 C206.5,308.7 203.8,311.4 202.0,314.1 C200.2,316.8 199.3,319.9 198.0,322.2 C196.6,324.4 195.5,326.6 194.0,327.5 C192.4,328.4 190.6,328.0 188.6,327.5 C186.6,327.1 184.1,326.0 181.9,324.9 C179.6,323.7 177.4,322.2 175.2,320.8 C172.9,319.5 170.1,317.9 168.4,316.8 C166.8,315.7 165.7,315.2 165.1,314.1 C164.4,313.0 163.6,311.9 164.4,310.1Z" fill="#dfc84e" />
<path d="M164.4,310.1 C164.9,308.7 168.0,305.6 169.8,303.4 C171.6,301.1 173.1,298.7 175.2,296.6 C177.2,294.6 179.4,292.8 181.9,291.3 C184.3,289.7 187.0,288.4 189.9,287.2 C192.8,286.1 198.4,284.1 199.3,284.6 C200.2,285.0 197.5,288.4 195.3,289.9 C193.1,291.5 188.8,292.4 185.9,294.0 C183.0,295.5 180.3,297.3 177.8,299.3 C175.4,301.3 172.9,304.0 171.1,306.0 C169.3,308.1 168.2,310.7 167.1,311.4 C166.0,312.1 164.0,311.4 164.4,310.1Z" fill="#e9a23e" />
<path d="M199.3,307.4 C201.1,303.6 203.8,298.4 206.0,295.3 C208.3,292.2 210.5,290.4 212.8,288.6 C215.0,286.8 217.9,285.0 219.5,284.6 C221.0,284.1 222.2,284.1 222.2,285.9 C222.2,287.7 220.8,292.6 219.5,295.3 C218.1,298.0 216.1,299.8 214.1,302.0 C212.1,304.3 209.4,306.5 207.4,308.7 C205.4,311.0 203.6,313.0 202.0,315.5 C200.5,317.9 199.3,321.4 198.0,323.5 C196.6,325.6 195.1,327.5 194.0,328.2 C192.8,328.9 191.0,329.2 191.3,327.5 C191.5,325.9 194.0,321.5 195.3,318.1 C196.6,314.8 197.5,311.2 199.3,307.4Z" fill="#e9ac45" />
<path d="M199.3,285.9 C201.1,284.6 208.3,282.0 211.4,280.5 C214.6,279.1 216.5,276.7 218.1,277.2 C219.8,277.6 221.5,281.5 221.5,283.2 C221.5,284.9 220.3,286.3 218.1,287.2 C216.0,288.1 211.6,288.4 208.7,288.6 C205.8,288.8 202.2,289.0 200.7,288.6 C199.1,288.1 197.5,287.2 199.3,285.9Z" fill="#e4d49c" />
<path d="M181.9,291.3 C181.4,290.6 185.4,285.7 187.2,283.2 C189.0,280.7 190.6,278.7 192.6,276.5 C194.6,274.3 197.1,271.5 199.3,269.8 C201.6,268.1 203.8,267.2 206.0,266.4 C208.3,265.6 211.0,264.7 212.8,265.1 C214.6,265.4 216.1,266.5 216.8,268.4 C217.5,270.3 217.7,274.7 216.8,276.5 C215.9,278.3 214.3,278.1 211.4,279.2 C208.5,280.3 202.9,281.9 199.3,283.2 C195.7,284.6 192.8,285.9 189.9,287.2 C187.0,288.6 182.3,291.9 181.9,291.3Z" fill="#a9c8a4" />
<path d="M188.6,280.5 C188.8,279.3 191.0,276.8 192.6,275.2 C194.2,273.5 196.0,271.7 198.0,270.4 C200.0,269.2 202.8,267.8 204.7,267.4 C206.6,267.0 208.5,267.3 209.4,268.0 C210.3,268.8 210.6,270.5 210.1,271.8 C209.5,273.1 208.1,274.5 206.0,275.8 C204.0,277.2 200.5,278.7 198.0,279.9 C195.5,281.0 192.8,282.4 191.3,282.5 C189.7,282.7 188.4,281.8 188.6,280.5Z" fill="#a9c462" />
<path d="M216.8,265.7 C217.0,264.7 218.6,265.3 219.5,266.4 C220.4,267.5 221.5,270.3 222.2,272.5 C222.8,274.6 223.5,277.6 223.5,279.2 C223.5,280.7 222.8,282.1 222.2,281.9 C221.5,281.6 220.2,279.4 219.5,277.8 C218.8,276.3 218.6,274.5 218.1,272.5 C217.7,270.4 216.6,266.8 216.8,265.7Z" fill="#eea8d4" />
<path d="M180.5,291.9 L189.9,287.5 L199.3,283.9 L208.7,280.5 L215.5,277.6 L217.5,271.1" fill="none" stroke="#ec3ad8" stroke-width="1.3" stroke-linejoin="round" stroke-linecap="round"/>
<path d="M220.2,265.1 C220.3,264.3 222.1,264.1 222.8,264.4 C223.6,264.7 225.0,266.3 224.9,267.1 C224.7,267.9 223.0,269.4 222.2,269.1 C221.4,268.8 220.0,265.9 220.2,265.1Z" fill="#fafafb" />
<path d="M161.0,308.1 C161.4,307.2 163.2,307.7 163.7,308.7 C164.2,309.7 164.5,313.2 164.1,314.1 C163.8,315.0 162.0,315.1 161.4,314.1 C160.9,313.1 160.7,309.0 161.0,308.1Z" fill="#8a7aa8" />
<path d="M240.1,299.3 C241.0,297.8 243.0,295.7 245.4,294.0 C247.9,292.2 251.7,290.4 254.8,288.6 C258.0,286.8 261.3,285.2 264.2,283.2 C267.2,281.2 270.1,279.0 272.3,276.5 C274.5,274.0 275.4,270.3 277.7,268.4 C279.9,266.5 282.6,265.9 285.7,265.1 C288.9,264.3 292.9,264.1 296.5,263.7 C300.1,263.4 305.2,261.8 307.2,263.1 C309.2,264.3 308.6,266.9 308.6,271.1 C308.6,275.4 307.7,283.9 307.2,288.6 C306.8,293.3 306.8,296.4 305.9,299.3 C305.0,302.2 303.9,304.0 301.9,306.0 C299.8,308.1 296.5,309.9 293.8,311.4 C291.1,313.0 288.4,313.9 285.7,315.5 C283.0,317.0 279.9,319.3 277.7,320.8 C275.4,322.4 273.6,323.7 272.3,324.9 C271.0,326.0 271.0,327.3 269.6,327.5 C268.3,327.8 266.3,327.3 264.2,326.2 C262.2,325.1 259.5,322.6 257.5,320.8 C255.5,319.0 253.9,317.0 252.2,315.5 C250.4,313.9 248.5,312.8 246.8,311.4 C245.1,310.1 243.2,308.7 242.1,307.4 C241.0,306.0 240.4,304.7 240.1,303.4 C239.7,302.0 239.2,300.9 240.1,299.3Z" fill="#93c0d6" />
<path d="M241.4,300.7 C242.1,298.7 244.3,296.9 246.8,295.3 C249.2,293.7 253.0,292.4 256.2,291.3 C259.3,290.2 261.8,289.5 265.6,288.6 C269.4,287.7 274.5,287.0 279.0,285.9 C283.5,284.8 288.1,283.0 292.5,281.9 C296.8,280.7 303.0,278.1 305.2,279.2 C307.5,280.3 306.0,285.9 305.9,288.6 C305.8,291.3 305.7,293.1 304.5,295.3 C303.4,297.5 301.4,299.8 299.2,302.0 C296.9,304.3 293.8,306.7 291.1,308.7 C288.4,310.7 285.7,312.1 283.0,314.1 C280.4,316.1 277.0,318.8 275.0,320.8 C273.0,322.8 272.5,325.5 271.0,326.2 C269.4,326.9 267.6,326.0 265.6,324.9 C263.6,323.7 260.9,321.3 258.9,319.5 C256.9,317.7 255.3,315.5 253.5,314.1 C251.7,312.8 249.9,312.5 248.1,311.4 C246.3,310.3 243.9,309.2 242.7,307.4 C241.6,305.6 240.7,302.7 241.4,300.7Z" fill="#dfc84e" />
<path d="M256.2,291.3 C256.9,290.2 261.8,289.5 265.6,288.6 C269.4,287.7 274.5,286.9 279.0,285.9 C283.5,284.9 289.5,283.2 292.5,282.5 C295.4,281.9 296.7,281.1 296.5,281.9 C296.3,282.7 294.0,285.7 291.1,287.2 C288.2,288.8 282.6,290.2 279.0,291.3 C275.4,292.4 272.5,293.3 269.6,294.0 C266.7,294.6 263.8,295.7 261.6,295.3 C259.3,294.9 255.5,292.4 256.2,291.3Z" fill="#e9a23e" />
<path d="M276.3,312.8 C278.1,310.7 280.6,308.3 283.0,306.0 C285.5,303.8 288.4,301.3 291.1,299.3 C293.8,297.3 296.7,295.5 299.2,294.0 C301.6,292.4 305.0,289.5 305.9,289.9 C306.8,290.4 305.7,294.4 304.5,296.6 C303.4,298.9 301.4,301.1 299.2,303.4 C296.9,305.6 293.8,308.1 291.1,310.1 C288.4,312.1 285.7,313.5 283.0,315.5 C280.4,317.4 277.0,319.7 275.0,321.5 C273.0,323.3 272.1,325.6 271.0,326.2 C269.8,326.8 268.0,326.2 268.3,324.9 C268.5,323.5 271.0,320.2 272.3,318.1 C273.6,316.1 274.5,314.8 276.3,312.8Z" fill="#e9ac45" />
<path d="M285.7,284.6 C286.9,283.7 293.2,282.7 296.5,281.9 C299.7,281.1 303.6,279.0 305.2,279.9 C306.8,280.7 306.9,285.8 305.9,287.2 C304.9,288.7 301.9,288.6 299.2,288.6 C296.5,288.6 292.0,287.9 289.8,287.2 C287.5,286.6 284.6,285.4 285.7,284.6Z" fill="#e4d49c" />
<path d="M262.9,285.2 C263.8,283.7 269.7,280.5 272.3,277.8 C274.9,275.2 275.7,271.0 278.3,269.1 C281.0,267.2 285.0,267.0 288.4,266.4 C291.9,265.9 296.3,265.8 299.2,265.7 C302.1,265.7 304.8,263.8 305.9,266.0 C307.0,268.3 307.7,276.6 305.9,279.2 C304.1,281.8 299.6,280.8 295.1,281.6 C290.7,282.4 283.7,282.9 279.0,283.9 C274.3,284.8 269.6,287.0 266.9,287.2 C264.2,287.5 262.0,286.8 262.9,285.2Z" fill="#a9c8a4" />
<path d="M264.2,285.2 C264.7,284.2 269.2,281.5 271.0,279.9 C272.7,278.2 273.4,276.6 275.0,275.2 C276.6,273.7 278.1,272.0 280.4,271.1 C282.6,270.2 286.4,269.6 288.4,269.8 C290.4,270.0 292.5,271.3 292.5,272.5 C292.5,273.6 290.0,275.2 288.4,276.5 C286.9,277.8 285.1,279.4 283.0,280.5 C281.0,281.6 278.8,282.3 276.3,283.2 C273.9,284.1 270.3,285.6 268.3,285.9 C266.3,286.2 263.8,286.2 264.2,285.2Z" fill="#a9c462" />
<path d="M257.5,291.5 L266.9,289.7 L279.0,286.6 L292.5,283.2 L305.2,279.9" fill="none" stroke="#ec3ad8" stroke-width="1.2" stroke-linejoin="round" stroke-linecap="round"/>
<path d="M249.5,298.0 C250.5,296.9 253.3,295.5 254.8,295.3 C256.4,295.1 257.6,296.0 258.9,296.6 C260.1,297.3 261.2,298.4 262.2,299.3 C263.2,300.2 264.1,301.7 264.9,302.0 C265.7,302.3 266.6,300.7 267.2,300.9 C267.8,301.2 268.7,302.3 268.5,303.6 C268.4,304.9 266.0,307.4 266.3,308.7 C266.5,310.0 268.9,310.3 269.9,311.4 C270.9,312.5 272.1,314.1 272.3,315.5 C272.5,316.8 271.7,318.5 271.2,319.8 C270.8,321.0 270.6,322.8 269.6,323.2 C268.7,323.6 266.9,322.8 265.6,322.2 C264.2,321.6 262.9,320.6 261.6,319.8 C260.2,318.9 258.9,318.0 257.5,317.1 C256.2,316.2 254.4,315.5 253.5,314.4 C252.6,313.2 252.6,311.5 252.2,310.1 C251.7,308.7 251.4,307.4 250.8,306.0 C250.2,304.7 248.6,303.4 248.4,302.0 C248.2,300.7 248.4,299.1 249.5,298.0Z" fill="#f6f6f6" />
<path d="M275.0,304.7 C275.5,303.7 277.9,302.0 279.0,302.0 C280.1,302.0 281.7,303.7 281.7,304.7 C281.7,305.7 280.0,307.5 279.0,308.1 C278.0,308.6 276.3,308.6 275.7,308.1 C275.0,307.5 274.4,305.7 275.0,304.7Z" fill="#f6f6f6" />
<path d="M281.7,302.0 C282.0,301.2 285.0,300.3 285.7,300.7 C286.5,301.0 286.7,303.2 286.4,304.0 C286.1,304.8 284.5,305.7 283.7,305.4 C282.9,305.0 281.4,302.8 281.7,302.0Z" fill="#f6f6f6" />
<path d="M239.4,298.7 C239.8,297.1 241.6,297.7 242.1,299.3 C242.6,301.0 242.9,307.2 242.5,308.7 C242.1,310.3 240.3,310.4 239.8,308.7 C239.3,307.1 239.0,300.2 239.4,298.7Z" fill="#8a7aa8" />
<path d="M305.6,263.3 C306.0,262.8 308.1,262.7 308.6,263.3 C309.1,264.0 309.0,266.6 308.6,267.1 C308.2,267.6 306.6,267.2 306.2,266.6 C305.7,265.9 305.2,263.9 305.6,263.3Z" fill="#8a7aa8" fill-opacity="0.4"/>
<defs><pattern id="spotgrid" width="1.6" height="1.6" patternUnits="userSpaceOnUse"><rect width="1.6" height="1.6" fill="none" stroke="#000" stroke-opacity="0.06" stroke-width="0.4"/></pattern></defs>
<circle cx="320.8" cy="250.6" r="3.1" fill="#8ec6e0" stroke="#444" stroke-width="0.6"/>
<text x="327.30" y="253.00" font-size="6.8" text-anchor="start" fill="#000" >PE</text>
<circle cx="320.8" cy="259.3" r="3.1" fill="#e80010" stroke="#444" stroke-width="0.6"/>
<text x="327.30" y="261.74" font-size="6.8" text-anchor="start" fill="#000" >ESR</text>
<circle cx="320.8" cy="268.1" r="3.1" fill="#f5bc50" stroke="#444" stroke-width="0.6"/>
<text x="327.30" y="270.48" font-size="6.8" text-anchor="start" fill="#000" >VE</text>
<circle cx="320.8" cy="276.8" r="3.1" fill="#f5dc60" stroke="#444" stroke-width="0.6"/>
<text x="327.30" y="279.22" font-size="6.8" text-anchor="start" fill="#000" >SE</text>
<circle cx="320.8" cy="285.6" r="3.1" fill="#f0a040" stroke="#444" stroke-width="0.6"/>
<text x="327.30" y="287.96" font-size="6.8" text-anchor="start" fill="#000" >AL</text>
<circle cx="320.8" cy="294.3" r="3.1" fill="#b0d4a8" stroke="#444" stroke-width="0.6"/>
<text x="327.30" y="296.70" font-size="6.8" text-anchor="start" fill="#000" >SCU</text>
<circle cx="320.8" cy="303.0" r="3.1" fill="#a8cc60" stroke="#444" stroke-width="0.6"/>
<text x="327.30" y="305.44" font-size="6.8" text-anchor="start" fill="#000" >EM</text>
<circle cx="320.8" cy="311.8" r="3.1" fill="#f040e0" stroke="#444" stroke-width="0.6"/>
<text x="327.30" y="314.18" font-size="6.8" text-anchor="start" fill="#000" >EAS</text>
<circle cx="320.8" cy="320.5" r="3.1" fill="#4a98d0" stroke="#444" stroke-width="0.6"/>
<text x="327.30" y="322.92" font-size="6.8" text-anchor="start" fill="#000" >PC</text>
<circle cx="320.8" cy="329.3" r="3.1" fill="#f5e0a0" stroke="#444" stroke-width="0.6"/>
<text x="327.30" y="331.66" font-size="6.8" text-anchor="start" fill="#000" >CZ</text>
<circle cx="320.8" cy="338.0" r="3.1" fill="#f4a8d8" stroke="#444" stroke-width="0.6"/>
<text x="327.30" y="340.40" font-size="6.8" text-anchor="start" fill="#000" >BETL</text>
<text x="355.20" y="7.30" font-size="9.5" text-anchor="start" fill="#000" >d</text>
<text x="565.30" y="16.60" font-size="8.25" text-anchor="middle" fill="#000" >GO enrichment of DEGs</text>
<rect x="492.5" y="20.4" width="144.29999999999995" height="145.1" fill="#fff"/>
<line x1="504.3" y1="20.4" x2="504.3" y2="165.5" stroke="#e6e6e6" stroke-width="0.5"/>
<line x1="518.0" y1="20.4" x2="518.0" y2="165.5" stroke="#e6e6e6" stroke-width="0.8"/>
<line x1="531.7" y1="20.4" x2="531.7" y2="165.5" stroke="#e6e6e6" stroke-width="0.5"/>
<line x1="545.4" y1="20.4" x2="545.4" y2="165.5" stroke="#e6e6e6" stroke-width="0.8"/>
<line x1="559.1" y1="20.4" x2="559.1" y2="165.5" stroke="#e6e6e6" stroke-width="0.5"/>
<line x1="572.8" y1="20.4" x2="572.8" y2="165.5" stroke="#e6e6e6" stroke-width="0.8"/>
<line x1="586.5" y1="20.4" x2="586.5" y2="165.5" stroke="#e6e6e6" stroke-width="0.5"/>
<line x1="600.2" y1="20.4" x2="600.2" y2="165.5" stroke="#e6e6e6" stroke-width="0.8"/>
<line x1="613.9" y1="20.4" x2="613.9" y2="165.5" stroke="#e6e6e6" stroke-width="0.5"/>
<line x1="627.6" y1="20.4" x2="627.6" y2="165.5" stroke="#e6e6e6" stroke-width="0.8"/>
<line x1="492.5" y1="28.3" x2="636.8" y2="28.3" stroke="#e6e6e6" stroke-width="0.8"/>
<line x1="492.5" y1="41.2" x2="636.8" y2="41.2" stroke="#e6e6e6" stroke-width="0.8"/>
<line x1="492.5" y1="54.2" x2="636.8" y2="54.2" stroke="#e6e6e6" stroke-width="0.8"/>
<line x1="492.5" y1="67.1" x2="636.8" y2="67.1" stroke="#e6e6e6" stroke-width="0.8"/>
<line x1="492.5" y1="80.0" x2="636.8" y2="80.0" stroke="#e6e6e6" stroke-width="0.8"/>
<line x1="492.5" y1="92.9" x2="636.8" y2="92.9" stroke="#e6e6e6" stroke-width="0.8"/>
<line x1="492.5" y1="105.8" x2="636.8" y2="105.8" stroke="#e6e6e6" stroke-width="0.8"/>
<line x1="492.5" y1="118.7" x2="636.8" y2="118.7" stroke="#e6e6e6" stroke-width="0.8"/>
<line x1="492.5" y1="131.6" x2="636.8" y2="131.6" stroke="#e6e6e6" stroke-width="0.8"/>
<line x1="492.5" y1="144.5" x2="636.8" y2="144.5" stroke="#e6e6e6" stroke-width="0.8"/>
<line x1="492.5" y1="157.4" x2="636.8" y2="157.4" stroke="#e6e6e6" stroke-width="0.8"/>
<rect x="492.5" y="20.4" width="144.29999999999995" height="145.1" fill="none" stroke="#333" stroke-width="0.8"/>
<line x1="490.7" y1="28.3" x2="492.5" y2="28.3" stroke="#333" stroke-width="0.7"/>
<line x1="636.8" y1="28.3" x2="638.5999999999999" y2="28.3" stroke="#333" stroke-width="0.7"/>
<line x1="490.7" y1="41.2" x2="492.5" y2="41.2" stroke="#333" stroke-width="0.7"/>
<line x1="636.8" y1="41.2" x2="638.5999999999999" y2="41.2" stroke="#333" stroke-width="0.7"/>
<line x1="490.7" y1="54.2" x2="492.5" y2="54.2" stroke="#333" stroke-width="0.7"/>
<line x1="636.8" y1="54.2" x2="638.5999999999999" y2="54.2" stroke="#333" stroke-width="0.7"/>
<line x1="490.7" y1="67.1" x2="492.5" y2="67.1" stroke="#333" stroke-width="0.7"/>
<line x1="636.8" y1="67.1" x2="638.5999999999999" y2="67.1" stroke="#333" stroke-width="0.7"/>
<line x1="490.7" y1="80.0" x2="492.5" y2="80.0" stroke="#333" stroke-width="0.7"/>
<line x1="636.8" y1="80.0" x2="638.5999999999999" y2="80.0" stroke="#333" stroke-width="0.7"/>
<line x1="490.7" y1="92.9" x2="492.5" y2="92.9" stroke="#333" stroke-width="0.7"/>
<line x1="636.8" y1="92.9" x2="638.5999999999999" y2="92.9" stroke="#333" stroke-width="0.7"/>
<line x1="490.7" y1="105.8" x2="492.5" y2="105.8" stroke="#333" stroke-width="0.7"/>
<line x1="636.8" y1="105.8" x2="638.5999999999999" y2="105.8" stroke="#333" stroke-width="0.7"/>
<line x1="490.7" y1="118.7" x2="492.5" y2="118.7" stroke="#333" stroke-width="0.7"/>
<line x1="636.8" y1="118.7" x2="638.5999999999999" y2="118.7" stroke="#333" stroke-width="0.7"/>
<line x1="490.7" y1="131.6" x2="492.5" y2="131.6" stroke="#333" stroke-width="0.7"/>
<line x1="636.8" y1="131.6" x2="638.5999999999999" y2="131.6" stroke="#333" stroke-width="0.7"/>
<line x1="490.7" y1="144.5" x2="492.5" y2="144.5" stroke="#333" stroke-width="0.7"/>
<line x1="636.8" y1="144.5" x2="638.5999999999999" y2="144.5" stroke="#333" stroke-width="0.7"/>
<line x1="490.7" y1="157.4" x2="492.5" y2="157.4" stroke="#333" stroke-width="0.7"/>
<line x1="636.8" y1="157.4" x2="638.5999999999999" y2="157.4" stroke="#333" stroke-width="0.7"/>
<line x1="518.0" y1="165.5" x2="518.0" y2="167.3" stroke="#333" stroke-width="0.7"/>
<text x="0" y="0" font-size="8" transform="translate(515.1,169.7) rotate(90)" fill="#111">3</text>
<line x1="545.4" y1="165.5" x2="545.4" y2="167.3" stroke="#333" stroke-width="0.7"/>
<text x="0" y="0" font-size="8" transform="translate(542.5,169.7) rotate(90)" fill="#111">4</text>
<line x1="572.8" y1="165.5" x2="572.8" y2="167.3" stroke="#333" stroke-width="0.7"/>
<text x="0" y="0" font-size="8" transform="translate(569.9,169.7) rotate(90)" fill="#111">5</text>
<line x1="600.2" y1="165.5" x2="600.2" y2="167.3" stroke="#333" stroke-width="0.7"/>
<text x="0" y="0" font-size="8" transform="translate(597.3,169.7) rotate(90)" fill="#111">6</text>
<line x1="627.6" y1="165.5" x2="627.6" y2="167.3" stroke="#333" stroke-width="0.7"/>
<text x="0" y="0" font-size="8" transform="translate(624.7,169.7) rotate(90)" fill="#111">7</text>
<text x="364.10" y="31.20" font-size="8.25" text-anchor="start" fill="#000" >nutrient reservoir activity</text>
<text x="364.10" y="44.10" font-size="8.25" text-anchor="start" fill="#000" >response to wounding</text>
<text x="364.10" y="57.10" font-size="8.25" text-anchor="start" fill="#000" >carbohydrate transport</text>
<text x="364.10" y="70.00" font-size="8.25" text-anchor="start" fill="#000" >chromatin organization</text>
<text x="364.10" y="82.90" font-size="8.25" text-anchor="start" fill="#000" >component of plasma membrane</text>
<text x="364.10" y="95.80" font-size="8.25" text-anchor="start" fill="#000" >positive regulation of transcription</text>
<text x="364.10" y="108.70" font-size="8.25" text-anchor="start" fill="#000" >carbohydrate biosynthetic process</text>
<text x="364.10" y="121.60" font-size="8.25" text-anchor="start" fill="#000" >fatty acid metabolic process</text>
<text x="364.10" y="134.50" font-size="8.25" text-anchor="start" fill="#000" >chemical homeostasis</text>
<text x="364.10" y="147.40" font-size="8.25" text-anchor="start" fill="#000" >cell wall organization</text>
<text x="365.40" y="160.30" font-size="8.25" text-anchor="start" fill="#000" >response to chemical stimulus</text>
<text x="639.40" y="31.20" font-size="8.25" text-anchor="start" fill="#000" >VE</text>
<text x="639.40" y="44.10" font-size="8.25" text-anchor="start" fill="#000" >AL</text>
<text x="639.40" y="57.10" font-size="8.25" text-anchor="start" fill="#000" >EAS</text>
<text x="639.40" y="70.00" font-size="8.25" text-anchor="start" fill="#000" >EM</text>
<text x="639.40" y="82.90" font-size="8.25" text-anchor="start" fill="#000" >CZ</text>
<text x="639.40" y="95.80" font-size="8.25" text-anchor="start" fill="#000" >PC</text>
<text x="639.40" y="108.70" font-size="8.25" text-anchor="start" fill="#000" >SE</text>
<text x="639.40" y="121.60" font-size="8.25" text-anchor="start" fill="#000" >SCU</text>
<text x="639.40" y="134.50" font-size="8.25" text-anchor="start" fill="#000" >BETL</text>
<text x="639.40" y="147.40" font-size="8.25" text-anchor="start" fill="#000" >PE</text>
<text x="639.40" y="160.30" font-size="8.25" text-anchor="start" fill="#000" >ESR</text>
<circle cx="630.4" cy="28.3" r="3.9" fill="#fe1a10"/>
<circle cx="587.2" cy="41.2" r="2.6" fill="#9c10d0"/>
<circle cx="567.3" cy="54.2" r="2.3" fill="#8010e8"/>
<circle cx="547.2" cy="67.1" r="3.9" fill="#b414b8"/>
<circle cx="542.5" cy="80.0" r="1.1" fill="#3020ff"/>
<circle cx="537.0" cy="92.9" r="3.7" fill="#b810b0"/>
<circle cx="530.3" cy="105.8" r="2.7" fill="#9a12d4"/>
<circle cx="530.3" cy="118.7" r="3.3" fill="#ac12c4"/>
<circle cx="517.7" cy="131.6" r="2.0" fill="#4a14f2"/>
<circle cx="512.7" cy="144.5" r="2.3" fill="#5e14ec"/>
<circle cx="499.0" cy="157.4" r="2.4" fill="#3a14fa"/>
<defs><linearGradient id="gocb" x1="0" y1="0" x2="0" y2="1"><stop offset="0" stop-color="#ff1a1a"/><stop offset="0.5" stop-color="#c010a0"/><stop offset="1" stop-color="#3a20ff"/></linearGradient></defs>
<rect x="668.4" y="28.3" width="8.4" height="49.1" fill="url(#gocb)"/>
<line x1="668.4" y1="40.9" x2="670" y2="40.9" stroke="#fff" stroke-width="0.5"/><line x1="675.2" y1="40.9" x2="676.8" y2="40.9" stroke="#fff" stroke-width="0.5"/>
<text x="678.60" y="43.80" font-size="8" text-anchor="start" fill="#000" >9</text>
<line x1="668.4" y1="54.6" x2="670" y2="54.6" stroke="#fff" stroke-width="0.5"/><line x1="675.2" y1="54.6" x2="676.8" y2="54.6" stroke="#fff" stroke-width="0.5"/>
<text x="678.60" y="57.50" font-size="8" text-anchor="start" fill="#000" >6</text>
<line x1="668.4" y1="68.6" x2="670" y2="68.6" stroke="#fff" stroke-width="0.5"/><line x1="675.2" y1="68.6" x2="676.8" y2="68.6" stroke="#fff" stroke-width="0.5"/>
<text x="678.60" y="71.50" font-size="8" text-anchor="start" fill="#000" >3</text>
<text x="0" y="0" font-size="8.2" transform="translate(657.2,26.8) rotate(90)">-log<tspan font-size="5.2" dy="1.9">10</tspan><tspan dy="-1.9">(p-value)</tspan></text>
<text x="656.80" y="98.70" font-size="8.25" text-anchor="start" fill="#000" >Count</text>
<circle cx="666" cy="105.7" r="0.9" fill="#000"/>
<text x="673.60" y="108.60" font-size="8.25" text-anchor="start" fill="#000" >10</text>
<circle cx="666" cy="115.2" r="2.0" fill="#000"/>
<text x="673.60" y="118.10" font-size="8.25" text-anchor="start" fill="#000" >20</text>
<circle cx="666" cy="124.7" r="2.6" fill="#000"/>
<text x="673.60" y="127.60" font-size="8.25" text-anchor="start" fill="#000" >30</text>
<circle cx="666" cy="134.4" r="3.0" fill="#000"/>
<text x="673.60" y="137.30" font-size="8.25" text-anchor="start" fill="#000" >40</text>
<circle cx="666" cy="144.1" r="3.4" fill="#000"/>
<text x="673.60" y="147.00" font-size="8.25" text-anchor="start" fill="#000" >50</text>
<circle cx="666" cy="153.6" r="3.9" fill="#000"/>
<text x="673.60" y="156.50" font-size="8.25" text-anchor="start" fill="#000" >60</text>
<text x="0.30" y="347.50" font-size="9" text-anchor="start" font-weight="bold" fill="#000" >e</text>
<style>.hm rect{width:26.96px}</style>
<g class="hm" transform="translate(14.70,0)"><rect y="352.0" height="2.55" fill="#da362a"/><rect y="354.5" height="0.95" fill="#d73027"/><rect y="355.4" height="0.95" fill="#da362a"/><rect y="356.3" height="1.45" fill="#dd3c2d"/><rect y="357.7" height="2.85" fill="#da362a"/><rect y="360.5" height="6.45" fill="#d73027"/><rect y="366.9" height="4.35" fill="#da362a"/><rect y="371.2" height="2.35" fill="#d73027"/><rect y="373.5" height="1.45" fill="#da362a"/><rect y="374.9" height="0.95" fill="#e0422f"/><rect y="375.8" height="0.25" fill="#dd3c2d"/><rect y="376.0" height="0.75" fill="#ffefac"/><rect y="376.7" height="1.45" fill="#fedf99"/><rect y="378.1" height="2.75" fill="#fee7a3"/><rect y="380.8" height="1.45" fill="#fed690"/><rect y="382.2" height="0.95" fill="#fee7a3"/><rect y="383.1" height="1.45" fill="#fed690"/><rect y="384.5" height="0.75" fill="#ffefac"/><rect y="385.2" height="0.95" fill="#fee7a3"/><rect y="386.1" height="0.95" fill="#ffefac"/><rect y="387.0" height="1.45" fill="#fed690"/><rect y="388.4" height="1.65" fill="#fedf99"/><rect y="390.0" height="1.15" fill="#ffefac"/><rect y="391.1" height="0.75" fill="#fed690"/><rect y="391.8" height="1.45" fill="#fdbe74"/><rect y="393.2" height="0.95" fill="#fed690"/><rect y="394.1" height="0.95" fill="#fedf99"/><rect y="395.0" height="1.05" fill="#fed690"/><rect y="396.0" height="1.45" fill="#f6fbd0"/><rect y="397.4" height="1.15" fill="#fedf99"/><rect y="398.5" height="2.05" fill="#f9fdca"/><rect y="400.5" height="1.45" fill="#f6fbd0"/><rect y="401.9" height="1.85" fill="#f0f9dc"/><rect y="403.7" height="0.35" fill="#f6fbd0"/><rect y="404.0" height="0.95" fill="#f9fdca"/><rect y="404.9" height="1.85" fill="#f6fbd0"/><rect y="406.7" height="0.75" fill="#f3fad6"/><rect y="407.4" height="2.35" fill="#fcfec5"/><rect y="409.7" height="1.85" fill="#f9fdca"/><rect y="411.5" height="0.75" fill="#f3fad6"/><rect y="412.2" height="0.75" fill="#fdb66a"/><rect y="412.9" height="2.15" fill="#f9fdca"/><rect y="415.0" height="0.75" fill="#e9f7e7"/><rect y="415.7" height="2.95" fill="#ecf8e1"/><rect y="418.6" height="0.75" fill="#fdae61"/><rect y="419.3" height="2.15" fill="#f0f9dc"/><rect y="421.4" height="0.75" fill="#e9f7e7"/><rect y="422.1" height="1.15" fill="#f3fad6"/><rect y="423.2" height="3.25" fill="#f0f9dc"/><rect y="426.4" height="1.15" fill="#ecf8e1"/><rect y="427.5" height="2.55" fill="#f0f9dc"/><rect y="430.0" height="1.05" fill="#f6fbd0"/><rect y="431.0" height="0.75" fill="#f9fdca"/><rect y="431.7" height="1.15" fill="#fcfec5"/><rect y="432.8" height="4.85" fill="#f9fdca"/><rect y="437.6" height="1.85" fill="#fcfec5"/><rect y="439.4" height="1.15" fill="#fece87"/><rect y="440.5" height="2.95" fill="#fcfec5"/><rect y="443.4" height="0.95" fill="#fee7a3"/><rect y="444.3" height="0.75" fill="#fcfec5"/><rect y="445.0" height="1.85" fill="#f9fdca"/><rect y="446.8" height="1.15" fill="#ffffbf"/><rect y="447.9" height="0.95" fill="#f6fbd0"/><rect y="448.8" height="1.15" fill="#fcfec5"/><rect y="449.9" height="0.95" fill="#ffffbf"/><rect y="450.8" height="1.45" fill="#f9fdca"/><rect y="452.2" height="0.95" fill="#f3fad6"/><rect y="453.1" height="1.15" fill="#fcfec5"/><rect y="454.2" height="0.75" fill="#f6fbd0"/><rect y="454.9" height="1.15" fill="#f3fad6"/><rect y="456.0" height="0.75" fill="#fcfec5"/><rect y="456.7" height="0.35" fill="#f9fdca"/><rect y="457.0" height="0.95" fill="#f0f9dc"/><rect y="457.9" height="0.95" fill="#f3fad6"/><rect y="458.8" height="1.15" fill="#f0f9dc"/><rect y="459.9" height="0.95" fill="#f6fbd0"/><rect y="460.8" height="1.95" fill="#f0f9dc"/><rect y="462.7" height="0.95" fill="#f3fad6"/><rect y="463.6" height="1.15" fill="#ecf8e1"/><rect y="464.7" height="1.85" fill="#f0f9dc"/><rect y="466.5" height="0.75" fill="#ecf8e1"/><rect y="467.2" height="1.45" fill="#f0f9dc"/><rect y="468.6" height="1.15" fill="#ecf8e1"/><rect y="469.7" height="2.15" fill="#f3fad6"/><rect y="471.8" height="0.75" fill="#ecf8e1"/><rect y="472.5" height="0.95" fill="#f0f9dc"/><rect y="473.4" height="3.75" fill="#e9f7e7"/><rect y="477.1" height="1.45" fill="#ecf8e1"/><rect y="478.5" height="2.25" fill="#f0f9dc"/><rect y="480.7" height="0.75" fill="#ecf8e1"/><rect y="481.4" height="3.25" fill="#f0f9dc"/><rect y="484.6" height="2.15" fill="#e9f7e7"/><rect y="486.7" height="1.45" fill="#f0f9dc"/><rect y="488.1" height="0.75" fill="#e9f7e7"/><rect y="488.8" height="1.45" fill="#f3fad6"/><rect y="490.2" height="1.15" fill="#e9f7e7"/><rect y="491.3" height="1.15" fill="#f0f9dc"/><rect y="492.4" height="0.95" fill="#ecf8e1"/><rect y="493.3" height="0.75" fill="#f0f9dc"/><rect y="494.0" height="2.35" fill="#f6fbd0"/><rect y="496.3" height="0.75" fill="#f0f9dc"/><rect y="497.0" height="1.15" fill="#f6fbd0"/><rect y="498.1" height="1.15" fill="#f3fad6"/><rect y="499.2" height="0.95" fill="#f9fdca"/><rect y="500.1" height="1.15" fill="#fcfec5"/><rect y="501.2" height="1.45" fill="#f6fbd0"/><rect y="502.6" height="1.45" fill="#f9fdca"/><rect y="504.0" height="1.85" fill="#f6fbd0"/><rect y="505.8" height="0.95" fill="#f9fdca"/><rect y="506.7" height="1.45" fill="#f6fbd0"/><rect y="508.1" height="2.05" fill="#f9fdca"/><rect y="510.1" height="1.45" fill="#f6fbd0"/><rect y="511.5" height="1.85" fill="#fcfec5"/><rect y="513.3" height="0.95" fill="#f6fbd0"/><rect y="514.2" height="0.95" fill="#fcfec5"/><rect y="515.1" height="1.15" fill="#f3fad6"/><rect y="516.2" height="0.75" fill="#f9fdca"/><rect y="516.9" height="1.85" fill="#fcfec5"/><rect y="518.7" height="1.15" fill="#f9fdca"/><rect y="519.8" height="1.45" fill="#fcfec5"/><rect y="521.2" height="1.15" fill="#f9fdca"/><rect y="522.3" height="0.75" fill="#f6fbd0"/><rect y="523.0" height="1.05" fill="#fcfec5"/><rect y="524.0" height="2.55" fill="#f6fbd0"/><rect y="526.5" height="1.15" fill="#fcfec5"/><rect y="527.6" height="0.75" fill="#f9fdca"/><rect y="528.3" height="1.45" fill="#fcfec5"/><rect y="529.7" height="0.75" fill="#fff7b6"/><rect y="530.4" height="1.15" fill="#fcfec5"/><rect y="531.5" height="2.85" fill="#f3fad6"/><rect y="534.3" height="1.45" fill="#fcfec5"/><rect y="535.7" height="0.95" fill="#f0f9dc"/><rect y="536.6" height="1.45" fill="#ffffbf"/><rect y="538.0" height="2.25" fill="#f6fbd0"/><rect y="540.2" height="2.55" fill="#f9fdca"/><rect y="542.7" height="0.75" fill="#f6fbd0"/><rect y="543.4" height="1.45" fill="#f9fdca"/><rect y="544.8" height="0.95" fill="#f3fad6"/><rect y="545.7" height="0.95" fill="#f9fdca"/><rect y="546.6" height="1.15" fill="#f6fbd0"/><rect y="547.7" height="0.75" fill="#f3fad6"/><rect y="548.4" height="0.95" fill="#fdbe74"/><rect y="549.3" height="1.15" fill="#f6fbd0"/><rect y="550.4" height="1.45" fill="#f9fdca"/><rect y="551.8" height="1.65" fill="#f6fbd0"/><rect y="553.4" height="1.65" fill="#f9fdca"/><rect y="555.0" height="1.15" fill="#fec67d"/><rect y="556.1" height="0.75" fill="#fcfec5"/><rect y="556.8" height="0.75" fill="#f9fdca"/><rect y="557.5" height="1.15" fill="#f6fbd0"/><rect y="558.6" height="1.15" fill="#f3fad6"/><rect y="559.7" height="1.45" fill="#fcfec5"/><rect y="561.1" height="1.15" fill="#f3fad6"/><rect y="562.2" height="0.95" fill="#f9fdca"/><rect y="563.1" height="2.85" fill="#f3fad6"/><rect y="565.9" height="0.75" fill="#f9fdca"/><rect y="566.6" height="2.35" fill="#f3fad6"/><rect y="568.9" height="1.45" fill="#f9fdca"/><rect y="570.3" height="0.25" fill="#f6fbd0"/></g>
<g class="hm" transform="translate(41.61,0)"><rect y="352.0" height="1.45" fill="#ffffbf"/><rect y="353.4" height="2.95" fill="#fff7b6"/><rect y="356.3" height="1.45" fill="#fec67d"/><rect y="357.7" height="1.45" fill="#fdae61"/><rect y="359.1" height="1.45" fill="#fee7a3"/><rect y="360.5" height="0.75" fill="#fff7b6"/><rect y="361.2" height="0.95" fill="#fee7a3"/><rect y="362.1" height="0.95" fill="#fcfec5"/><rect y="363.0" height="1.45" fill="#ffefac"/><rect y="364.4" height="0.95" fill="#fff7b6"/><rect y="365.3" height="0.95" fill="#fdb66a"/><rect y="366.2" height="0.75" fill="#fff7b6"/><rect y="366.9" height="1.15" fill="#f9fdca"/><rect y="368.0" height="0.95" fill="#fff7b6"/><rect y="368.9" height="1.45" fill="#ffffbf"/><rect y="370.3" height="0.95" fill="#fff7b6"/><rect y="371.2" height="0.95" fill="#fece87"/><rect y="372.1" height="3.75" fill="#fff7b6"/><rect y="375.8" height="0.25" fill="#ffefac"/><rect y="376.0" height="2.15" fill="#dd3c2d"/><rect y="378.1" height="1.15" fill="#e0422f"/><rect y="379.2" height="0.95" fill="#d73027"/><rect y="380.1" height="0.75" fill="#dd3c2d"/><rect y="380.8" height="1.45" fill="#e34832"/><rect y="382.2" height="0.95" fill="#da362a"/><rect y="383.1" height="3.05" fill="#d73027"/><rect y="386.1" height="0.95" fill="#e0422f"/><rect y="387.0" height="2.35" fill="#d73027"/><rect y="389.3" height="0.75" fill="#da362a"/><rect y="390.0" height="1.85" fill="#dd3c2d"/><rect y="391.8" height="2.35" fill="#da362a"/><rect y="394.1" height="0.95" fill="#e34832"/><rect y="395.0" height="1.05" fill="#d73027"/><rect y="396.0" height="5.95" fill="#f9fdca"/><rect y="401.9" height="1.85" fill="#f6fbd0"/><rect y="403.7" height="0.35" fill="#fedf99"/><rect y="404.0" height="0.95" fill="#f9fdca"/><rect y="404.9" height="1.15" fill="#f3fad6"/><rect y="406.0" height="0.75" fill="#fdb66a"/><rect y="406.7" height="0.75" fill="#fece87"/><rect y="407.4" height="0.95" fill="#f6fbd0"/><rect y="408.3" height="1.45" fill="#f3fad6"/><rect y="409.7" height="0.95" fill="#fcfec5"/><rect y="410.6" height="1.65" fill="#f9fdca"/><rect y="412.2" height="0.75" fill="#f3fad6"/><rect y="412.9" height="0.75" fill="#fdae61"/><rect y="413.6" height="0.95" fill="#f6fbd0"/><rect y="414.5" height="0.55" fill="#fcfec5"/><rect y="415.0" height="0.75" fill="#ffffbf"/><rect y="415.7" height="0.95" fill="#fcfec5"/><rect y="416.6" height="1.15" fill="#fdbe74"/><rect y="417.7" height="0.95" fill="#fcfec5"/><rect y="418.6" height="0.75" fill="#f9fdca"/><rect y="419.3" height="1.45" fill="#fcfec5"/><rect y="420.7" height="0.75" fill="#fff7b6"/><rect y="421.4" height="0.75" fill="#fcfec5"/><rect y="422.1" height="1.15" fill="#f9fdca"/><rect y="423.2" height="0.95" fill="#f6fbd0"/><rect y="424.1" height="0.95" fill="#fca85e"/><rect y="425.0" height="1.45" fill="#fece87"/><rect y="426.4" height="7.35" fill="#fcfec5"/><rect y="433.7" height="0.95" fill="#f6fbd0"/><rect y="434.6" height="0.95" fill="#f9fdca"/><rect y="435.5" height="1.45" fill="#ffffbf"/><rect y="436.9" height="0.75" fill="#f6fbd0"/><rect y="437.6" height="0.95" fill="#f3fad6"/><rect y="438.5" height="3.15" fill="#f6fbd0"/><rect y="441.6" height="0.75" fill="#ffffbf"/><rect y="442.3" height="1.15" fill="#f3fad6"/><rect y="443.4" height="0.95" fill="#f0f9dc"/><rect y="444.3" height="0.75" fill="#f3fad6"/><rect y="445.0" height="0.95" fill="#fcfec5"/><rect y="445.9" height="0.95" fill="#f6fbd0"/><rect y="446.8" height="1.15" fill="#fcfec5"/><rect y="447.9" height="0.95" fill="#f6fbd0"/><rect y="448.8" height="1.15" fill="#f0f9dc"/><rect y="449.9" height="2.35" fill="#f9fdca"/><rect y="452.2" height="0.95" fill="#fee7a3"/><rect y="453.1" height="1.15" fill="#fcfec5"/><rect y="454.2" height="1.85" fill="#f9fdca"/><rect y="456.0" height="0.75" fill="#fcfec5"/><rect y="456.7" height="0.35" fill="#f3fad6"/><rect y="457.0" height="1.85" fill="#fcfec5"/><rect y="458.8" height="1.15" fill="#ffffbf"/><rect y="459.9" height="0.95" fill="#fcfec5"/><rect y="460.8" height="0.75" fill="#f9fdca"/><rect y="461.5" height="1.25" fill="#fcfec5"/><rect y="462.7" height="0.95" fill="#f6fbd0"/><rect y="463.6" height="2.25" fill="#ffffbf"/><rect y="465.8" height="3.95" fill="#fcfec5"/><rect y="469.7" height="1.45" fill="#f6fbd0"/><rect y="471.1" height="0.75" fill="#fed690"/><rect y="471.8" height="1.65" fill="#fcfec5"/><rect y="473.4" height="1.15" fill="#f6fbd0"/><rect y="474.5" height="0.55" fill="#f9fdca"/><rect y="475.0" height="0.75" fill="#fcfec5"/><rect y="475.7" height="1.45" fill="#f9fdca"/><rect y="477.1" height="1.45" fill="#fcfec5"/><rect y="478.5" height="1.15" fill="#f6fbd0"/><rect y="479.6" height="1.15" fill="#fdae61"/><rect y="480.7" height="0.75" fill="#f9fdca"/><rect y="481.4" height="1.45" fill="#fcfec5"/><rect y="482.8" height="1.85" fill="#ffffbf"/><rect y="484.6" height="0.75" fill="#fcfec5"/><rect y="485.3" height="1.45" fill="#fdb66a"/><rect y="486.7" height="1.45" fill="#ffffbf"/><rect y="488.1" height="2.15" fill="#f9fdca"/><rect y="490.2" height="1.15" fill="#fcfec5"/><rect y="491.3" height="1.15" fill="#fdbe74"/><rect y="492.4" height="0.95" fill="#f9fdca"/><rect y="493.3" height="0.75" fill="#f6fbd0"/><rect y="494.0" height="0.95" fill="#ffffbf"/><rect y="494.9" height="2.15" fill="#fcfec5"/><rect y="497.0" height="1.15" fill="#f9fdca"/><rect y="498.1" height="4.55" fill="#fcfec5"/><rect y="502.6" height="1.45" fill="#f9fdca"/><rect y="504.0" height="0.75" fill="#fcfec5"/><rect y="504.7" height="1.15" fill="#ffffbf"/><rect y="505.8" height="0.95" fill="#f6fbd0"/><rect y="506.7" height="2.55" fill="#f9fdca"/><rect y="509.2" height="2.35" fill="#ffffbf"/><rect y="511.5" height="1.85" fill="#fcfec5"/><rect y="513.3" height="0.95" fill="#f6fbd0"/><rect y="514.2" height="0.95" fill="#f9fdca"/><rect y="515.1" height="1.15" fill="#f0f9dc"/><rect y="516.2" height="0.75" fill="#fff7b6"/><rect y="516.9" height="0.75" fill="#fed690"/><rect y="517.6" height="1.15" fill="#f6fbd0"/><rect y="518.7" height="1.15" fill="#ffffbf"/><rect y="519.8" height="1.45" fill="#f9fdca"/><rect y="521.2" height="1.15" fill="#f6fbd0"/><rect y="522.3" height="0.75" fill="#f9fdca"/><rect y="523.0" height="0.95" fill="#fcfec5"/><rect y="523.9" height="0.15" fill="#ffffbf"/><rect y="524.0" height="1.45" fill="#fdbe74"/><rect y="525.4" height="2.25" fill="#f6fbd0"/><rect y="527.6" height="0.75" fill="#ffffbf"/><rect y="528.3" height="1.45" fill="#f9fdca"/><rect y="529.7" height="0.75" fill="#f6fbd0"/><rect y="530.4" height="2.55" fill="#fcfec5"/><rect y="532.9" height="5.15" fill="#f9fdca"/><rect y="538.0" height="1.15" fill="#f6fbd0"/><rect y="539.1" height="1.15" fill="#ffffbf"/><rect y="540.2" height="1.15" fill="#f9fdca"/><rect y="541.3" height="1.45" fill="#f6fbd0"/><rect y="542.7" height="0.75" fill="#f9fdca"/><rect y="543.4" height="1.45" fill="#fcfec5"/><rect y="544.8" height="0.95" fill="#f9fdca"/><rect y="545.7" height="0.95" fill="#fdb66a"/><rect y="546.6" height="1.15" fill="#fca85e"/><rect y="547.7" height="5.05" fill="#f9fdca"/><rect y="552.7" height="1.65" fill="#fcfec5"/><rect y="554.3" height="0.75" fill="#f6fbd0"/><rect y="555.0" height="1.15" fill="#fcfec5"/><rect y="556.1" height="1.45" fill="#f9fdca"/><rect y="557.5" height="1.15" fill="#f6fbd0"/><rect y="558.6" height="1.15" fill="#f9fdca"/><rect y="559.7" height="1.45" fill="#f6fbd0"/><rect y="561.1" height="1.15" fill="#fcfec5"/><rect y="562.2" height="0.95" fill="#ffffbf"/><rect y="563.1" height="1.45" fill="#f9fdca"/><rect y="564.5" height="1.45" fill="#f6fbd0"/><rect y="565.9" height="0.75" fill="#f9fdca"/><rect y="566.6" height="1.45" fill="#f6fbd0"/><rect y="568.0" height="2.55" fill="#f9fdca"/></g>
<g class="hm" transform="translate(68.52,0)"><rect y="352.0" height="2.55" fill="#f0f9dc"/><rect y="354.5" height="0.95" fill="#f6fbd0"/><rect y="355.4" height="0.95" fill="#f0f9dc"/><rect y="356.3" height="1.45" fill="#f6fbd0"/><rect y="357.7" height="1.45" fill="#f0f9dc"/><rect y="359.1" height="1.45" fill="#f6fbd0"/><rect y="360.5" height="1.65" fill="#f3fad6"/><rect y="362.1" height="0.95" fill="#f6fbd0"/><rect y="363.0" height="1.45" fill="#f3fad6"/><rect y="364.4" height="0.95" fill="#f6fbd0"/><rect y="365.3" height="0.95" fill="#ecf8e1"/><rect y="366.2" height="0.75" fill="#f3fad6"/><rect y="366.9" height="1.15" fill="#f6fbd0"/><rect y="368.0" height="2.35" fill="#f3fad6"/><rect y="370.3" height="0.95" fill="#f0f9dc"/><rect y="371.2" height="0.95" fill="#f6fbd0"/><rect y="372.1" height="1.45" fill="#f3fad6"/><rect y="373.5" height="1.45" fill="#f0f9dc"/><rect y="374.9" height="0.95" fill="#f3fad6"/><rect y="375.8" height="0.25" fill="#fdbe74"/><rect y="376.0" height="2.15" fill="#f3fad6"/><rect y="378.1" height="6.45" fill="#f0f9dc"/><rect y="384.5" height="0.75" fill="#fdae61"/><rect y="385.2" height="0.95" fill="#e9f7e7"/><rect y="386.1" height="0.95" fill="#f0f9dc"/><rect y="387.0" height="1.45" fill="#f3fad6"/><rect y="388.4" height="0.95" fill="#f0f9dc"/><rect y="389.3" height="0.75" fill="#ecf8e1"/><rect y="390.0" height="1.85" fill="#f3fad6"/><rect y="391.8" height="1.45" fill="#f0f9dc"/><rect y="393.2" height="0.95" fill="#ecf8e1"/><rect y="394.1" height="1.95" fill="#f0f9dc"/><rect y="396.0" height="0.75" fill="#d73027"/><rect y="396.7" height="0.75" fill="#da362a"/><rect y="397.4" height="1.15" fill="#d73027"/><rect y="398.5" height="3.45" fill="#da362a"/><rect y="401.9" height="1.85" fill="#d73027"/><rect y="403.7" height="0.35" fill="#da362a"/><rect y="404.0" height="0.95" fill="#f0f9dc"/><rect y="404.9" height="1.15" fill="#ecf8e1"/><rect y="406.0" height="0.75" fill="#f0f9dc"/><rect y="406.7" height="1.65" fill="#ecf8e1"/><rect y="408.3" height="1.45" fill="#f3fad6"/><rect y="409.7" height="1.85" fill="#ecf8e1"/><rect y="411.5" height="0.75" fill="#f0f9dc"/><rect y="412.2" height="0.75" fill="#ecf8e1"/><rect y="412.9" height="0.75" fill="#f3fad6"/><rect y="413.6" height="1.45" fill="#f0f9dc"/><rect y="415.0" height="0.75" fill="#ecf8e1"/><rect y="415.7" height="0.95" fill="#fca85e"/><rect y="416.6" height="1.15" fill="#ecf8e1"/><rect y="417.7" height="0.95" fill="#e9f7e7"/><rect y="418.6" height="0.75" fill="#f0f9dc"/><rect y="419.3" height="2.15" fill="#f3fad6"/><rect y="421.4" height="0.75" fill="#e6f5ed"/><rect y="422.1" height="2.95" fill="#ecf8e1"/><rect y="425.0" height="1.45" fill="#e9f7e7"/><rect y="426.4" height="2.95" fill="#f0f9dc"/><rect y="429.3" height="0.75" fill="#e9f7e7"/><rect y="430.0" height="1.05" fill="#f3fad6"/><rect y="431.0" height="0.75" fill="#fcfec5"/><rect y="431.7" height="1.15" fill="#f3fad6"/><rect y="432.8" height="0.95" fill="#f9fdca"/><rect y="433.7" height="0.95" fill="#f3fad6"/><rect y="434.6" height="0.95" fill="#f9fdca"/><rect y="435.5" height="1.45" fill="#f3fad6"/><rect y="436.9" height="1.65" fill="#f6fbd0"/><rect y="438.5" height="0.95" fill="#f3fad6"/><rect y="439.4" height="2.25" fill="#f6fbd0"/><rect y="441.6" height="0.75" fill="#fcfec5"/><rect y="442.3" height="4.55" fill="#f6fbd0"/><rect y="446.8" height="1.15" fill="#f3fad6"/><rect y="447.9" height="0.95" fill="#f6fbd0"/><rect y="448.8" height="1.15" fill="#f9fdca"/><rect y="449.9" height="0.95" fill="#f3fad6"/><rect y="450.8" height="1.45" fill="#f9fdca"/><rect y="452.2" height="0.95" fill="#f3fad6"/><rect y="453.1" height="1.85" fill="#f6fbd0"/><rect y="454.9" height="1.15" fill="#f9fdca"/><rect y="456.0" height="1.05" fill="#f6fbd0"/><rect y="457.0" height="0.95" fill="#f0f9dc"/><rect y="457.9" height="2.05" fill="#f3fad6"/><rect y="459.9" height="0.95" fill="#f0f9dc"/><rect y="460.8" height="0.75" fill="#ecf8e1"/><rect y="461.5" height="0.55" fill="#f3fad6"/><rect y="462.0" height="0.75" fill="#ecf8e1"/><rect y="462.7" height="0.95" fill="#e9f7e7"/><rect y="463.6" height="1.15" fill="#ecf8e1"/><rect y="464.7" height="1.15" fill="#e9f7e7"/><rect y="465.8" height="0.75" fill="#ecf8e1"/><rect y="466.5" height="0.75" fill="#e9f7e7"/><rect y="467.2" height="1.45" fill="#ecf8e1"/><rect y="468.6" height="1.15" fill="#e9f7e7"/><rect y="469.7" height="1.45" fill="#e6f5ed"/><rect y="471.1" height="0.75" fill="#ecf8e1"/><rect y="471.8" height="0.75" fill="#f0f9dc"/><rect y="472.5" height="0.95" fill="#ecf8e1"/><rect y="473.4" height="1.15" fill="#e6f5ed"/><rect y="474.5" height="0.55" fill="#ecf8e1"/><rect y="475.0" height="0.75" fill="#e9f7e7"/><rect y="475.7" height="1.45" fill="#ecf8e1"/><rect y="477.1" height="4.35" fill="#e9f7e7"/><rect y="481.4" height="1.45" fill="#ecf8e1"/><rect y="482.8" height="0.95" fill="#e6f5ed"/><rect y="483.7" height="0.95" fill="#f0f9dc"/><rect y="484.6" height="0.75" fill="#e6f5ed"/><rect y="485.3" height="1.45" fill="#ecf8e1"/><rect y="486.7" height="1.45" fill="#e9f7e7"/><rect y="488.1" height="0.75" fill="#fdb66a"/><rect y="488.8" height="1.45" fill="#e6f5ed"/><rect y="490.2" height="1.15" fill="#e9f7e7"/><rect y="491.3" height="1.15" fill="#e6f5ed"/><rect y="492.4" height="2.55" fill="#e9f7e7"/><rect y="494.9" height="1.45" fill="#f0f9dc"/><rect y="496.3" height="0.75" fill="#ecf8e1"/><rect y="497.0" height="2.25" fill="#fcfec5"/><rect y="499.2" height="0.95" fill="#f9fdca"/><rect y="500.1" height="1.15" fill="#fed690"/><rect y="501.2" height="1.45" fill="#f6fbd0"/><rect y="502.6" height="1.45" fill="#f9fdca"/><rect y="504.0" height="0.75" fill="#ffffbf"/><rect y="504.7" height="2.05" fill="#fcfec5"/><rect y="506.7" height="0.75" fill="#f6fbd0"/><rect y="507.4" height="0.75" fill="#f9fdca"/><rect y="508.1" height="1.15" fill="#fec67d"/><rect y="509.2" height="0.95" fill="#f9fdca"/><rect y="510.1" height="1.45" fill="#f6fbd0"/><rect y="511.5" height="1.85" fill="#f9fdca"/><rect y="513.3" height="0.95" fill="#ffffbf"/><rect y="514.2" height="0.95" fill="#fcfec5"/><rect y="515.1" height="1.15" fill="#fed690"/><rect y="516.2" height="0.75" fill="#f6fbd0"/><rect y="516.9" height="0.75" fill="#fcfec5"/><rect y="517.6" height="1.15" fill="#f9fdca"/><rect y="518.7" height="1.15" fill="#f6fbd0"/><rect y="519.8" height="1.45" fill="#f9fdca"/><rect y="521.2" height="1.15" fill="#ffffbf"/><rect y="522.3" height="0.75" fill="#f6fbd0"/><rect y="523.0" height="0.95" fill="#f9fdca"/><rect y="523.9" height="1.55" fill="#f6fbd0"/><rect y="525.4" height="1.15" fill="#fcfec5"/><rect y="526.5" height="1.15" fill="#f9fdca"/><rect y="527.6" height="0.75" fill="#fcfec5"/><rect y="528.3" height="3.25" fill="#f9fdca"/><rect y="531.5" height="1.45" fill="#fcfec5"/><rect y="532.9" height="1.45" fill="#f9fdca"/><rect y="534.3" height="4.85" fill="#f6fbd0"/><rect y="539.1" height="1.15" fill="#f9fdca"/><rect y="540.2" height="1.15" fill="#fcfec5"/><rect y="541.3" height="1.45" fill="#f6fbd0"/><rect y="542.7" height="0.75" fill="#fcfec5"/><rect y="543.4" height="1.45" fill="#f6fbd0"/><rect y="544.8" height="0.95" fill="#f9fdca"/><rect y="545.7" height="0.95" fill="#fcfec5"/><rect y="546.6" height="1.15" fill="#f9fdca"/><rect y="547.7" height="0.75" fill="#f6fbd0"/><rect y="548.4" height="0.95" fill="#ffffbf"/><rect y="549.3" height="1.15" fill="#f9fdca"/><rect y="550.4" height="1.45" fill="#f6fbd0"/><rect y="551.8" height="0.95" fill="#f9fdca"/><rect y="552.7" height="0.75" fill="#fece87"/><rect y="553.4" height="0.95" fill="#f9fdca"/><rect y="554.3" height="0.75" fill="#f0f9dc"/><rect y="555.0" height="1.15" fill="#fcfec5"/><rect y="556.1" height="0.75" fill="#f9fdca"/><rect y="556.8" height="0.75" fill="#f6fbd0"/><rect y="557.5" height="2.25" fill="#fcfec5"/><rect y="559.7" height="1.45" fill="#f9fdca"/><rect y="561.1" height="1.15" fill="#fcfec5"/><rect y="562.2" height="0.95" fill="#ffffbf"/><rect y="563.1" height="1.45" fill="#f6fbd0"/><rect y="564.5" height="1.45" fill="#f3fad6"/><rect y="565.9" height="0.75" fill="#ffffbf"/><rect y="566.6" height="1.45" fill="#fcfec5"/><rect y="568.0" height="0.95" fill="#f9fdca"/><rect y="568.9" height="1.45" fill="#fcfec5"/><rect y="570.3" height="0.25" fill="#f9fdca"/></g>
<g class="hm" transform="translate(95.43,0)"><rect y="352.0" height="1.45" fill="#f6fbd0"/><rect y="353.4" height="2.05" fill="#f3fad6"/><rect y="355.4" height="0.95" fill="#f6fbd0"/><rect y="356.3" height="2.85" fill="#f9fdca"/><rect y="359.1" height="1.45" fill="#fcfec5"/><rect y="360.5" height="0.75" fill="#ffffbf"/><rect y="361.2" height="0.95" fill="#fcfec5"/><rect y="362.1" height="2.35" fill="#f9fdca"/><rect y="364.4" height="1.85" fill="#f6fbd0"/><rect y="366.2" height="0.75" fill="#fcfec5"/><rect y="366.9" height="1.15" fill="#f6fbd0"/><rect y="368.0" height="0.95" fill="#f9fdca"/><rect y="368.9" height="2.35" fill="#f6fbd0"/><rect y="371.2" height="0.95" fill="#f3fad6"/><rect y="372.1" height="1.45" fill="#ffffbf"/><rect y="373.5" height="1.45" fill="#fcfec5"/><rect y="374.9" height="0.95" fill="#f3fad6"/><rect y="375.8" height="0.25" fill="#f6fbd0"/><rect y="376.0" height="0.75" fill="#fdbe74"/><rect y="376.7" height="1.45" fill="#f6fbd0"/><rect y="378.1" height="1.15" fill="#ffffbf"/><rect y="379.2" height="0.95" fill="#f9fdca"/><rect y="380.1" height="0.75" fill="#fcfec5"/><rect y="380.8" height="1.45" fill="#ffffbf"/><rect y="382.2" height="3.05" fill="#fcfec5"/><rect y="385.2" height="1.85" fill="#f6fbd0"/><rect y="387.0" height="1.45" fill="#f3fad6"/><rect y="388.4" height="0.95" fill="#fcfec5"/><rect y="389.3" height="0.75" fill="#f9fdca"/><rect y="390.0" height="1.85" fill="#f6fbd0"/><rect y="391.8" height="2.35" fill="#fcfec5"/><rect y="394.1" height="0.95" fill="#ffffbf"/><rect y="395.0" height="1.05" fill="#fcfec5"/><rect y="396.0" height="2.55" fill="#f3fad6"/><rect y="398.5" height="0.95" fill="#fece87"/><rect y="399.4" height="1.15" fill="#f9fdca"/><rect y="400.5" height="1.45" fill="#f3fad6"/><rect y="401.9" height="1.85" fill="#f6fbd0"/><rect y="403.7" height="0.35" fill="#fdbe74"/><rect y="404.0" height="2.75" fill="#dd3c2d"/><rect y="406.7" height="0.75" fill="#da362a"/><rect y="407.4" height="0.95" fill="#dd3c2d"/><rect y="408.3" height="1.45" fill="#d73027"/><rect y="409.7" height="0.95" fill="#dd3c2d"/><rect y="410.6" height="0.95" fill="#d73027"/><rect y="411.5" height="0.75" fill="#da362a"/><rect y="412.2" height="1.45" fill="#e0422f"/><rect y="413.6" height="1.45" fill="#da362a"/><rect y="415.0" height="1.65" fill="#fcfec5"/><rect y="416.6" height="2.05" fill="#f6fbd0"/><rect y="418.6" height="0.75" fill="#f9fdca"/><rect y="419.3" height="1.45" fill="#f3fad6"/><rect y="420.7" height="0.75" fill="#ffffbf"/><rect y="421.4" height="0.75" fill="#fcfec5"/><rect y="422.1" height="1.15" fill="#f6fbd0"/><rect y="423.2" height="1.85" fill="#f3fad6"/><rect y="425.0" height="1.45" fill="#f9fdca"/><rect y="426.4" height="1.15" fill="#fcfec5"/><rect y="427.5" height="1.85" fill="#f6fbd0"/><rect y="429.3" height="1.75" fill="#f9fdca"/><rect y="431.0" height="0.75" fill="#fcfec5"/><rect y="431.7" height="1.15" fill="#f9fdca"/><rect y="432.8" height="0.95" fill="#f6fbd0"/><rect y="433.7" height="3.25" fill="#f9fdca"/><rect y="436.9" height="0.75" fill="#f6fbd0"/><rect y="437.6" height="1.85" fill="#f9fdca"/><rect y="439.4" height="1.15" fill="#f6fbd0"/><rect y="440.5" height="1.15" fill="#f3fad6"/><rect y="441.6" height="0.75" fill="#f6fbd0"/><rect y="442.3" height="2.05" fill="#fcfec5"/><rect y="444.3" height="1.65" fill="#f6fbd0"/><rect y="445.9" height="0.95" fill="#fcfec5"/><rect y="446.8" height="1.15" fill="#fca85e"/><rect y="447.9" height="2.05" fill="#f3fad6"/><rect y="449.9" height="0.95" fill="#f9fdca"/><rect y="450.8" height="1.45" fill="#f6fbd0"/><rect y="452.2" height="0.95" fill="#f3fad6"/><rect y="453.1" height="1.85" fill="#f6fbd0"/><rect y="454.9" height="1.15" fill="#fcfec5"/><rect y="456.0" height="0.75" fill="#f3fad6"/><rect y="456.7" height="0.35" fill="#f6fbd0"/><rect y="457.0" height="0.95" fill="#fcfec5"/><rect y="457.9" height="2.05" fill="#ffffbf"/><rect y="459.9" height="0.95" fill="#f9fdca"/><rect y="460.8" height="1.25" fill="#fcfec5"/><rect y="462.0" height="0.75" fill="#fece87"/><rect y="462.7" height="0.95" fill="#fcfec5"/><rect y="463.6" height="1.15" fill="#f9fdca"/><rect y="464.7" height="1.15" fill="#fcfec5"/><rect y="465.8" height="0.75" fill="#fdbe74"/><rect y="466.5" height="0.75" fill="#fca85e"/><rect y="467.2" height="2.55" fill="#ffffbf"/><rect y="469.7" height="1.45" fill="#fff7b6"/><rect y="471.1" height="0.75" fill="#fcfec5"/><rect y="471.8" height="0.75" fill="#fff7b6"/><rect y="472.5" height="0.95" fill="#fcfec5"/><rect y="473.4" height="1.15" fill="#f6fbd0"/><rect y="474.5" height="1.25" fill="#fff7b6"/><rect y="475.7" height="1.45" fill="#fcfec5"/><rect y="477.1" height="1.45" fill="#ffffbf"/><rect y="478.5" height="1.15" fill="#fdb66a"/><rect y="479.6" height="1.15" fill="#ffffbf"/><rect y="480.7" height="3.05" fill="#fff7b6"/><rect y="483.7" height="0.95" fill="#ffffbf"/><rect y="484.6" height="0.75" fill="#fff7b6"/><rect y="485.3" height="1.45" fill="#ffffbf"/><rect y="486.7" height="1.45" fill="#fca85e"/><rect y="488.1" height="0.75" fill="#ffffbf"/><rect y="488.8" height="1.45" fill="#fff7b6"/><rect y="490.2" height="1.15" fill="#fcfec5"/><rect y="491.3" height="1.15" fill="#fdb66a"/><rect y="492.4" height="0.95" fill="#fff7b6"/><rect y="493.3" height="1.65" fill="#ffffbf"/><rect y="494.9" height="1.45" fill="#fee7a3"/><rect y="496.3" height="0.75" fill="#fcfec5"/><rect y="497.0" height="1.15" fill="#fdbe74"/><rect y="498.1" height="3.15" fill="#ffefac"/><rect y="501.2" height="1.45" fill="#fff7b6"/><rect y="502.6" height="1.45" fill="#ffffbf"/><rect y="504.0" height="0.75" fill="#ffefac"/><rect y="504.7" height="1.15" fill="#ffffbf"/><rect y="505.8" height="0.95" fill="#fca85e"/><rect y="506.7" height="0.75" fill="#fedf99"/><rect y="507.4" height="0.75" fill="#fee7a3"/><rect y="508.1" height="1.15" fill="#fec67d"/><rect y="509.2" height="0.95" fill="#ffefac"/><rect y="510.1" height="1.45" fill="#fff7b6"/><rect y="511.5" height="0.75" fill="#fee7a3"/><rect y="512.2" height="1.15" fill="#fca85e"/><rect y="513.3" height="0.95" fill="#fff7b6"/><rect y="514.2" height="0.95" fill="#fdae61"/><rect y="515.1" height="1.85" fill="#fff7b6"/><rect y="516.9" height="0.75" fill="#fba15b"/><rect y="517.6" height="1.15" fill="#fece87"/><rect y="518.7" height="1.15" fill="#fff7b6"/><rect y="519.8" height="1.45" fill="#fee7a3"/><rect y="521.2" height="1.15" fill="#ffffbf"/><rect y="522.3" height="0.75" fill="#ffefac"/><rect y="523.0" height="0.95" fill="#fdae61"/><rect y="523.9" height="0.15" fill="#fed690"/><rect y="524.0" height="1.45" fill="#fca85e"/><rect y="525.4" height="1.15" fill="#fee7a3"/><rect y="526.5" height="1.15" fill="#ffefac"/><rect y="527.6" height="0.75" fill="#fee7a3"/><rect y="528.3" height="1.45" fill="#ffefac"/><rect y="529.7" height="0.75" fill="#fca85e"/><rect y="530.4" height="1.15" fill="#ffffbf"/><rect y="531.5" height="1.45" fill="#ffefac"/><rect y="532.9" height="1.45" fill="#fdae61"/><rect y="534.3" height="1.45" fill="#fdb66a"/><rect y="535.7" height="3.45" fill="#fff7b6"/><rect y="539.1" height="1.15" fill="#ffefac"/><rect y="540.2" height="1.15" fill="#fff7b6"/><rect y="541.3" height="1.45" fill="#fee7a3"/><rect y="542.7" height="2.15" fill="#fff7b6"/><rect y="544.8" height="0.95" fill="#fdb66a"/><rect y="545.7" height="0.95" fill="#ffefac"/><rect y="546.6" height="1.15" fill="#fece87"/><rect y="547.7" height="0.75" fill="#fee7a3"/><rect y="548.4" height="0.95" fill="#ffefac"/><rect y="549.3" height="1.15" fill="#fdb66a"/><rect y="550.4" height="1.45" fill="#fece87"/><rect y="551.8" height="0.95" fill="#fee7a3"/><rect y="552.7" height="0.75" fill="#ffefac"/><rect y="553.4" height="0.95" fill="#fff7b6"/><rect y="554.3" height="0.75" fill="#fed690"/><rect y="555.0" height="1.15" fill="#ffefac"/><rect y="556.1" height="0.75" fill="#fedf99"/><rect y="556.8" height="1.85" fill="#fee7a3"/><rect y="558.6" height="1.15" fill="#fed690"/><rect y="559.7" height="1.45" fill="#fee7a3"/><rect y="561.1" height="1.15" fill="#ffefac"/><rect y="562.2" height="0.95" fill="#ffffbf"/><rect y="563.1" height="3.55" fill="#fedf99"/><rect y="566.6" height="1.45" fill="#fee7a3"/><rect y="568.0" height="2.55" fill="#fedf99"/></g>
<g class="hm" transform="translate(122.34,0)"><rect y="352.0" height="1.45" fill="#fcfec5"/><rect y="353.4" height="2.95" fill="#f9fdca"/><rect y="356.3" height="1.45" fill="#f3fad6"/><rect y="357.7" height="1.45" fill="#f9fdca"/><rect y="359.1" height="1.45" fill="#fcfec5"/><rect y="360.5" height="0.75" fill="#ffffbf"/><rect y="361.2" height="0.95" fill="#fcfec5"/><rect y="362.1" height="0.95" fill="#f9fdca"/><rect y="363.0" height="1.45" fill="#ffffbf"/><rect y="364.4" height="0.95" fill="#fba15b"/><rect y="365.3" height="0.95" fill="#fec67d"/><rect y="366.2" height="0.75" fill="#fcfec5"/><rect y="366.9" height="3.45" fill="#f9fdca"/><rect y="370.3" height="0.95" fill="#f6fbd0"/><rect y="371.2" height="0.95" fill="#fcfec5"/><rect y="372.1" height="1.45" fill="#f9fdca"/><rect y="373.5" height="1.45" fill="#f6fbd0"/><rect y="374.9" height="0.95" fill="#fee7a3"/><rect y="375.8" height="0.25" fill="#f9fdca"/><rect y="376.0" height="0.75" fill="#ffffbf"/><rect y="376.7" height="1.45" fill="#fdae61"/><rect y="378.1" height="1.15" fill="#f9fdca"/><rect y="379.2" height="0.95" fill="#fdb66a"/><rect y="380.1" height="0.75" fill="#f9fdca"/><rect y="380.8" height="1.45" fill="#fcfec5"/><rect y="382.2" height="2.35" fill="#ffffbf"/><rect y="384.5" height="0.75" fill="#fdae61"/><rect y="385.2" height="0.95" fill="#fcfec5"/><rect y="386.1" height="2.35" fill="#ffffbf"/><rect y="388.4" height="1.65" fill="#f9fdca"/><rect y="390.0" height="1.15" fill="#fff7b6"/><rect y="391.1" height="0.75" fill="#fba15b"/><rect y="391.8" height="1.45" fill="#fece87"/><rect y="393.2" height="0.95" fill="#f9fdca"/><rect y="394.1" height="0.95" fill="#ffffbf"/><rect y="395.0" height="1.05" fill="#fee7a3"/><rect y="396.0" height="2.55" fill="#f3fad6"/><rect y="398.5" height="0.95" fill="#f6fbd0"/><rect y="399.4" height="1.15" fill="#f9fdca"/><rect y="400.5" height="1.45" fill="#f6fbd0"/><rect y="401.9" height="0.95" fill="#fcfec5"/><rect y="402.8" height="0.95" fill="#f3fad6"/><rect y="403.7" height="2.35" fill="#f6fbd0"/><rect y="406.0" height="0.75" fill="#f9fdca"/><rect y="406.7" height="1.65" fill="#f6fbd0"/><rect y="408.3" height="1.45" fill="#f3fad6"/><rect y="409.7" height="0.95" fill="#f9fdca"/><rect y="410.6" height="1.65" fill="#f6fbd0"/><rect y="412.2" height="1.45" fill="#f9fdca"/><rect y="413.6" height="1.45" fill="#f6fbd0"/><rect y="415.0" height="0.75" fill="#da362a"/><rect y="415.7" height="0.95" fill="#e0422f"/><rect y="416.6" height="1.15" fill="#e34832"/><rect y="417.7" height="3.05" fill="#dd3c2d"/><rect y="420.7" height="0.75" fill="#da362a"/><rect y="421.4" height="0.75" fill="#dd3c2d"/><rect y="422.1" height="1.15" fill="#e34832"/><rect y="423.2" height="0.95" fill="#dd3c2d"/><rect y="424.1" height="0.95" fill="#f16740"/><rect y="425.0" height="1.45" fill="#da362a"/><rect y="426.4" height="1.15" fill="#d73027"/><rect y="427.5" height="0.75" fill="#dd3c2d"/><rect y="428.2" height="1.85" fill="#e0422f"/><rect y="430.0" height="1.05" fill="#e34832"/><rect y="431.0" height="0.75" fill="#fcfec5"/><rect y="431.7" height="2.05" fill="#f6fbd0"/><rect y="433.7" height="1.85" fill="#f9fdca"/><rect y="435.5" height="1.45" fill="#f6fbd0"/><rect y="436.9" height="0.75" fill="#fcfec5"/><rect y="437.6" height="0.95" fill="#f9fdca"/><rect y="438.5" height="0.95" fill="#fcfec5"/><rect y="439.4" height="1.15" fill="#ffffbf"/><rect y="440.5" height="1.15" fill="#fcfec5"/><rect y="441.6" height="0.75" fill="#f9fdca"/><rect y="442.3" height="2.05" fill="#f6fbd0"/><rect y="444.3" height="0.75" fill="#f9fdca"/><rect y="445.0" height="1.85" fill="#fcfec5"/><rect y="446.8" height="1.15" fill="#f6fbd0"/><rect y="447.9" height="0.95" fill="#ffffbf"/><rect y="448.8" height="2.05" fill="#fcfec5"/><rect y="450.8" height="1.45" fill="#f0f9dc"/><rect y="452.2" height="0.95" fill="#fed690"/><rect y="453.1" height="1.15" fill="#fcfec5"/><rect y="454.2" height="1.85" fill="#f6fbd0"/><rect y="456.0" height="0.75" fill="#f9fdca"/><rect y="456.7" height="0.35" fill="#fcfec5"/><rect y="457.0" height="0.95" fill="#f3fad6"/><rect y="457.9" height="0.95" fill="#ffffbf"/><rect y="458.8" height="1.15" fill="#f0f9dc"/><rect y="459.9" height="0.95" fill="#f9fdca"/><rect y="460.8" height="0.75" fill="#fcfec5"/><rect y="461.5" height="0.55" fill="#ffffbf"/><rect y="462.0" height="0.75" fill="#fcfec5"/><rect y="462.7" height="0.95" fill="#f9fdca"/><rect y="463.6" height="1.15" fill="#fcfec5"/><rect y="464.7" height="1.15" fill="#f3fad6"/><rect y="465.8" height="0.75" fill="#fcfec5"/><rect y="466.5" height="0.75" fill="#f9fdca"/><rect y="467.2" height="2.55" fill="#f6fbd0"/><rect y="469.7" height="1.45" fill="#f9fdca"/><rect y="471.1" height="0.75" fill="#fee7a3"/><rect y="471.8" height="0.75" fill="#f9fdca"/><rect y="472.5" height="2.55" fill="#f6fbd0"/><rect y="475.0" height="0.75" fill="#fa9a58"/><rect y="475.7" height="1.45" fill="#fba15b"/><rect y="477.1" height="1.45" fill="#fed690"/><rect y="478.5" height="1.15" fill="#fedf99"/><rect y="479.6" height="1.15" fill="#fa9a58"/><rect y="480.7" height="0.75" fill="#fed690"/><rect y="481.4" height="1.45" fill="#f8874f"/><rect y="482.8" height="0.95" fill="#fec67d"/><rect y="483.7" height="0.95" fill="#fdae61"/><rect y="484.6" height="0.75" fill="#fa9a58"/><rect y="485.3" height="1.45" fill="#f99455"/><rect y="486.7" height="2.15" fill="#fca85e"/><rect y="488.8" height="2.55" fill="#fece87"/><rect y="491.3" height="1.15" fill="#fdbe74"/><rect y="492.4" height="0.95" fill="#fece87"/><rect y="493.3" height="0.75" fill="#f7804c"/><rect y="494.0" height="0.95" fill="#fedf99"/><rect y="494.9" height="2.15" fill="#f99455"/><rect y="497.0" height="1.15" fill="#ecf8e1"/><rect y="498.1" height="1.15" fill="#e9f7e7"/><rect y="499.2" height="0.95" fill="#ecf8e1"/><rect y="500.1" height="1.15" fill="#f0f9dc"/><rect y="501.2" height="1.45" fill="#e9f7e7"/><rect y="502.6" height="1.45" fill="#f0f9dc"/><rect y="504.0" height="2.75" fill="#ecf8e1"/><rect y="506.7" height="0.75" fill="#f0f9dc"/><rect y="507.4" height="2.75" fill="#ecf8e1"/><rect y="510.1" height="1.45" fill="#e9f7e7"/><rect y="511.5" height="0.75" fill="#e6f5ed"/><rect y="512.2" height="1.15" fill="#e9f7e7"/><rect y="513.3" height="0.95" fill="#e3f4f2"/><rect y="514.2" height="0.95" fill="#fdbe74"/><rect y="515.1" height="1.15" fill="#e9f7e7"/><rect y="516.2" height="3.65" fill="#ecf8e1"/><rect y="519.8" height="2.55" fill="#e9f7e7"/><rect y="522.3" height="0.75" fill="#f0f9dc"/><rect y="523.0" height="0.95" fill="#fed690"/><rect y="523.9" height="0.15" fill="#f0f9dc"/><rect y="524.0" height="1.45" fill="#f3fad6"/><rect y="525.4" height="1.15" fill="#f6fbd0"/><rect y="526.5" height="1.15" fill="#f0f9dc"/><rect y="527.6" height="0.75" fill="#f6fbd0"/><rect y="528.3" height="1.45" fill="#fece87"/><rect y="529.7" height="0.75" fill="#f6fbd0"/><rect y="530.4" height="3.95" fill="#f3fad6"/><rect y="534.3" height="1.45" fill="#ecf8e1"/><rect y="535.7" height="0.95" fill="#f0f9dc"/><rect y="536.6" height="1.45" fill="#ecf8e1"/><rect y="538.0" height="1.15" fill="#f0f9dc"/><rect y="539.1" height="1.15" fill="#f6fbd0"/><rect y="540.2" height="1.15" fill="#f3fad6"/><rect y="541.3" height="1.45" fill="#fdb66a"/><rect y="542.7" height="0.75" fill="#f0f9dc"/><rect y="543.4" height="1.45" fill="#f3fad6"/><rect y="544.8" height="0.95" fill="#ecf8e1"/><rect y="545.7" height="0.95" fill="#f9fdca"/><rect y="546.6" height="2.75" fill="#f0f9dc"/><rect y="549.3" height="4.15" fill="#f3fad6"/><rect y="553.4" height="0.95" fill="#f0f9dc"/><rect y="554.3" height="0.75" fill="#f3fad6"/><rect y="555.0" height="1.15" fill="#ecf8e1"/><rect y="556.1" height="0.75" fill="#f6fbd0"/><rect y="556.8" height="0.75" fill="#f3fad6"/><rect y="557.5" height="1.15" fill="#e9f7e7"/><rect y="558.6" height="1.15" fill="#ecf8e1"/><rect y="559.7" height="1.45" fill="#f0f9dc"/><rect y="561.1" height="1.15" fill="#f6fbd0"/><rect y="562.2" height="0.95" fill="#f0f9dc"/><rect y="563.1" height="1.45" fill="#f3fad6"/><rect y="564.5" height="2.15" fill="#f0f9dc"/><rect y="566.6" height="2.35" fill="#ecf8e1"/><rect y="568.9" height="1.45" fill="#e9f7e7"/><rect y="570.3" height="0.25" fill="#f3fad6"/></g>
<g class="hm" transform="translate(149.25,0)"><rect y="352.0" height="1.45" fill="#ffffbf"/><rect y="353.4" height="2.05" fill="#f9fdca"/><rect y="355.4" height="0.95" fill="#ffffbf"/><rect y="356.3" height="1.45" fill="#f9fdca"/><rect y="357.7" height="1.45" fill="#fcfec5"/><rect y="359.1" height="1.45" fill="#fdbe74"/><rect y="360.5" height="0.75" fill="#ffffbf"/><rect y="361.2" height="1.85" fill="#fcfec5"/><rect y="363.0" height="1.45" fill="#ffefac"/><rect y="364.4" height="0.95" fill="#fed690"/><rect y="365.3" height="0.95" fill="#fcfec5"/><rect y="366.2" height="0.75" fill="#f9fdca"/><rect y="366.9" height="1.15" fill="#ffffbf"/><rect y="368.0" height="0.95" fill="#fcfec5"/><rect y="368.9" height="1.45" fill="#fff7b6"/><rect y="370.3" height="0.95" fill="#fcfec5"/><rect y="371.2" height="0.95" fill="#fff7b6"/><rect y="372.1" height="1.45" fill="#f6fbd0"/><rect y="373.5" height="1.45" fill="#f9fdca"/><rect y="374.9" height="0.95" fill="#ffffbf"/><rect y="375.8" height="0.25" fill="#fff7b6"/><rect y="376.0" height="2.15" fill="#f0f9dc"/><rect y="378.1" height="1.15" fill="#ecf8e1"/><rect y="379.2" height="0.95" fill="#f3fad6"/><rect y="380.1" height="0.75" fill="#e9f7e7"/><rect y="380.8" height="1.45" fill="#f0f9dc"/><rect y="382.2" height="0.95" fill="#f3fad6"/><rect y="383.1" height="1.45" fill="#ecf8e1"/><rect y="384.5" height="0.75" fill="#e9f7e7"/><rect y="385.2" height="0.95" fill="#f0f9dc"/><rect y="386.1" height="2.35" fill="#f3fad6"/><rect y="388.4" height="0.95" fill="#ecf8e1"/><rect y="389.3" height="0.75" fill="#f3fad6"/><rect y="390.0" height="1.15" fill="#f0f9dc"/><rect y="391.1" height="0.75" fill="#f3fad6"/><rect y="391.8" height="1.45" fill="#ecf8e1"/><rect y="393.2" height="0.95" fill="#e9f7e7"/><rect y="394.1" height="0.95" fill="#ecf8e1"/><rect y="395.0" height="1.05" fill="#fed690"/><rect y="396.0" height="0.75" fill="#f3fad6"/><rect y="396.7" height="0.75" fill="#f6fbd0"/><rect y="397.4" height="1.15" fill="#f9fdca"/><rect y="398.5" height="0.95" fill="#f3fad6"/><rect y="399.4" height="1.15" fill="#fcfec5"/><rect y="400.5" height="2.35" fill="#f9fdca"/><rect y="402.8" height="1.25" fill="#f6fbd0"/><rect y="404.0" height="0.95" fill="#fcfec5"/><rect y="404.9" height="1.15" fill="#f9fdca"/><rect y="406.0" height="1.45" fill="#fcfec5"/><rect y="407.4" height="0.95" fill="#fdb66a"/><rect y="408.3" height="1.45" fill="#fcfec5"/><rect y="409.7" height="1.85" fill="#ffffbf"/><rect y="411.5" height="0.75" fill="#f6fbd0"/><rect y="412.2" height="0.75" fill="#f9fdca"/><rect y="412.9" height="1.65" fill="#fcfec5"/><rect y="414.5" height="0.55" fill="#f9fdca"/><rect y="415.0" height="1.65" fill="#f0f9dc"/><rect y="416.6" height="1.15" fill="#ecf8e1"/><rect y="417.7" height="0.95" fill="#f6fbd0"/><rect y="418.6" height="0.75" fill="#f0f9dc"/><rect y="419.3" height="1.45" fill="#f6fbd0"/><rect y="420.7" height="0.75" fill="#f0f9dc"/><rect y="421.4" height="0.75" fill="#f3fad6"/><rect y="422.1" height="1.15" fill="#f9fdca"/><rect y="423.2" height="0.95" fill="#f3fad6"/><rect y="424.1" height="0.95" fill="#f0f9dc"/><rect y="425.0" height="2.55" fill="#f3fad6"/><rect y="427.5" height="0.75" fill="#f0f9dc"/><rect y="428.2" height="1.15" fill="#f3fad6"/><rect y="429.3" height="0.75" fill="#f0f9dc"/><rect y="430.0" height="1.05" fill="#ecf8e1"/><rect y="431.0" height="0.75" fill="#da362a"/><rect y="431.7" height="2.95" fill="#d73027"/><rect y="434.6" height="0.95" fill="#dd3c2d"/><rect y="435.5" height="1.45" fill="#d73027"/><rect y="436.9" height="0.75" fill="#eb5b3b"/><rect y="437.6" height="2.95" fill="#da362a"/><rect y="440.5" height="2.95" fill="#d73027"/><rect y="443.4" height="1.65" fill="#da362a"/><rect y="445.0" height="0.95" fill="#dd3c2d"/><rect y="445.9" height="4.05" fill="#d73027"/><rect y="449.9" height="0.95" fill="#e0422f"/><rect y="450.8" height="3.45" fill="#d73027"/><rect y="454.2" height="0.75" fill="#e0422f"/><rect y="454.9" height="2.15" fill="#d73027"/><rect y="457.0" height="0.95" fill="#e9f7e7"/><rect y="457.9" height="2.05" fill="#ecf8e1"/><rect y="459.9" height="2.15" fill="#f0f9dc"/><rect y="462.0" height="0.75" fill="#e3f4f2"/><rect y="462.7" height="2.05" fill="#ecf8e1"/><rect y="464.7" height="1.15" fill="#e9f7e7"/><rect y="465.8" height="1.45" fill="#ecf8e1"/><rect y="467.2" height="1.45" fill="#e9f7e7"/><rect y="468.6" height="2.55" fill="#ecf8e1"/><rect y="471.1" height="0.75" fill="#e6f5ed"/><rect y="471.8" height="0.75" fill="#e9f7e7"/><rect y="472.5" height="0.95" fill="#f0f9dc"/><rect y="473.4" height="1.15" fill="#ecf8e1"/><rect y="474.5" height="1.25" fill="#e9f7e7"/><rect y="475.7" height="1.45" fill="#f0f9dc"/><rect y="477.1" height="1.45" fill="#e9f7e7"/><rect y="478.5" height="1.15" fill="#e6f5ed"/><rect y="479.6" height="1.15" fill="#f0f9dc"/><rect y="480.7" height="0.75" fill="#ecf8e1"/><rect y="481.4" height="1.45" fill="#e6f5ed"/><rect y="482.8" height="0.95" fill="#f0f9dc"/><rect y="483.7" height="0.95" fill="#ecf8e1"/><rect y="484.6" height="0.75" fill="#e6f5ed"/><rect y="485.3" height="1.45" fill="#ecf8e1"/><rect y="486.7" height="1.45" fill="#e9f7e7"/><rect y="488.1" height="0.75" fill="#ecf8e1"/><rect y="488.8" height="1.45" fill="#e6f5ed"/><rect y="490.2" height="1.15" fill="#f0f9dc"/><rect y="491.3" height="1.15" fill="#e6f5ed"/><rect y="492.4" height="0.95" fill="#f0f9dc"/><rect y="493.3" height="0.75" fill="#e9f7e7"/><rect y="494.0" height="0.95" fill="#f0f9dc"/><rect y="494.9" height="2.15" fill="#e9f7e7"/><rect y="497.0" height="1.15" fill="#ecf8e1"/><rect y="498.1" height="2.05" fill="#e9f7e7"/><rect y="500.1" height="1.15" fill="#ecf8e1"/><rect y="501.2" height="1.45" fill="#e6f5ed"/><rect y="502.6" height="2.15" fill="#ecf8e1"/><rect y="504.7" height="1.15" fill="#e9f7e7"/><rect y="505.8" height="0.95" fill="#e6f5ed"/><rect y="506.7" height="0.75" fill="#ecf8e1"/><rect y="507.4" height="0.75" fill="#e9f7e7"/><rect y="508.1" height="1.15" fill="#fedf99"/><rect y="509.2" height="0.95" fill="#e9f7e7"/><rect y="510.1" height="2.15" fill="#ecf8e1"/><rect y="512.2" height="2.95" fill="#e9f7e7"/><rect y="515.1" height="1.15" fill="#ecf8e1"/><rect y="516.2" height="0.75" fill="#f0f9dc"/><rect y="516.9" height="0.75" fill="#e9f7e7"/><rect y="517.6" height="1.15" fill="#ecf8e1"/><rect y="518.7" height="1.15" fill="#e9f7e7"/><rect y="519.8" height="4.25" fill="#ecf8e1"/><rect y="524.0" height="1.45" fill="#fdae61"/><rect y="525.4" height="1.15" fill="#e9f7e7"/><rect y="526.5" height="1.85" fill="#ecf8e1"/><rect y="528.3" height="2.15" fill="#e9f7e7"/><rect y="530.4" height="1.15" fill="#f0f9dc"/><rect y="531.5" height="1.45" fill="#e9f7e7"/><rect y="532.9" height="1.45" fill="#f3fad6"/><rect y="534.3" height="2.35" fill="#e9f7e7"/><rect y="536.6" height="1.45" fill="#ecf8e1"/><rect y="538.0" height="1.15" fill="#e3f4f2"/><rect y="539.1" height="2.25" fill="#ecf8e1"/><rect y="541.3" height="1.45" fill="#e9f7e7"/><rect y="542.7" height="3.05" fill="#ecf8e1"/><rect y="545.7" height="0.95" fill="#e3f4f2"/><rect y="546.6" height="1.15" fill="#f0f9dc"/><rect y="547.7" height="0.75" fill="#ecf8e1"/><rect y="548.4" height="0.95" fill="#e9f7e7"/><rect y="549.3" height="1.15" fill="#fdb66a"/><rect y="550.4" height="1.45" fill="#e9f7e7"/><rect y="551.8" height="0.95" fill="#f0f9dc"/><rect y="552.7" height="2.35" fill="#ecf8e1"/><rect y="555.0" height="1.15" fill="#e9f7e7"/><rect y="556.1" height="1.45" fill="#ecf8e1"/><rect y="557.5" height="1.15" fill="#e6f5ed"/><rect y="558.6" height="2.55" fill="#e9f7e7"/><rect y="561.1" height="2.05" fill="#ecf8e1"/><rect y="563.1" height="1.45" fill="#e6f5ed"/><rect y="564.5" height="1.45" fill="#ecf8e1"/><rect y="565.9" height="0.75" fill="#e6f5ed"/><rect y="566.6" height="1.45" fill="#f0f9dc"/><rect y="568.0" height="0.95" fill="#e6f5ed"/><rect y="568.9" height="1.45" fill="#e9f7e7"/><rect y="570.3" height="0.25" fill="#fece87"/></g>
<g class="hm" transform="translate(176.15,0)"><rect y="352.0" height="1.45" fill="#fcfec5"/><rect y="353.4" height="1.15" fill="#f6fbd0"/><rect y="354.5" height="0.95" fill="#f9fdca"/><rect y="355.4" height="3.75" fill="#f3fad6"/><rect y="359.1" height="2.15" fill="#f6fbd0"/><rect y="361.2" height="0.95" fill="#f3fad6"/><rect y="362.1" height="0.95" fill="#f9fdca"/><rect y="363.0" height="2.35" fill="#f3fad6"/><rect y="365.3" height="0.95" fill="#f0f9dc"/><rect y="366.2" height="0.75" fill="#fdbe74"/><rect y="366.9" height="1.15" fill="#f0f9dc"/><rect y="368.0" height="2.35" fill="#f3fad6"/><rect y="370.3" height="0.95" fill="#fcfec5"/><rect y="371.2" height="0.95" fill="#f6fbd0"/><rect y="372.1" height="1.45" fill="#fca85e"/><rect y="373.5" height="1.45" fill="#f6fbd0"/><rect y="374.9" height="0.95" fill="#ecf8e1"/><rect y="375.8" height="0.25" fill="#f6fbd0"/><rect y="376.0" height="0.75" fill="#f3fad6"/><rect y="376.7" height="4.15" fill="#f6fbd0"/><rect y="380.8" height="1.45" fill="#ffffbf"/><rect y="382.2" height="0.95" fill="#f9fdca"/><rect y="383.1" height="1.45" fill="#f6fbd0"/><rect y="384.5" height="1.65" fill="#f9fdca"/><rect y="386.1" height="2.35" fill="#f0f9dc"/><rect y="388.4" height="0.95" fill="#f9fdca"/><rect y="389.3" height="0.75" fill="#f3fad6"/><rect y="390.0" height="1.15" fill="#f6fbd0"/><rect y="391.1" height="0.75" fill="#f9fdca"/><rect y="391.8" height="1.45" fill="#f6fbd0"/><rect y="393.2" height="0.95" fill="#f0f9dc"/><rect y="394.1" height="0.95" fill="#fcfec5"/><rect y="395.0" height="1.05" fill="#f0f9dc"/><rect y="396.0" height="2.55" fill="#f6fbd0"/><rect y="398.5" height="4.35" fill="#f3fad6"/><rect y="402.8" height="0.95" fill="#fcfec5"/><rect y="403.7" height="0.35" fill="#f3fad6"/><rect y="404.0" height="0.95" fill="#f6fbd0"/><rect y="404.9" height="1.15" fill="#f3fad6"/><rect y="406.0" height="0.75" fill="#f9fdca"/><rect y="406.7" height="0.75" fill="#fcfec5"/><rect y="407.4" height="0.95" fill="#f9fdca"/><rect y="408.3" height="2.35" fill="#f6fbd0"/><rect y="410.6" height="1.65" fill="#f9fdca"/><rect y="412.2" height="0.75" fill="#fed690"/><rect y="412.9" height="0.75" fill="#f9fdca"/><rect y="413.6" height="1.45" fill="#fcfec5"/><rect y="415.0" height="0.75" fill="#ffffbf"/><rect y="415.7" height="0.95" fill="#fff7b6"/><rect y="416.6" height="1.15" fill="#f9fdca"/><rect y="417.7" height="0.95" fill="#fcfec5"/><rect y="418.6" height="0.75" fill="#f3fad6"/><rect y="419.3" height="1.45" fill="#f9fdca"/><rect y="420.7" height="1.45" fill="#f6fbd0"/><rect y="422.1" height="2.05" fill="#f9fdca"/><rect y="424.1" height="0.95" fill="#f6fbd0"/><rect y="425.0" height="1.45" fill="#f9fdca"/><rect y="426.4" height="1.15" fill="#ffffbf"/><rect y="427.5" height="0.75" fill="#fcfec5"/><rect y="428.2" height="1.15" fill="#f9fdca"/><rect y="429.3" height="0.75" fill="#ffffbf"/><rect y="430.0" height="1.75" fill="#f6fbd0"/><rect y="431.7" height="1.15" fill="#fcfec5"/><rect y="432.8" height="1.85" fill="#f6fbd0"/><rect y="434.6" height="2.35" fill="#f9fdca"/><rect y="436.9" height="1.65" fill="#fcfec5"/><rect y="438.5" height="0.95" fill="#f9fdca"/><rect y="439.4" height="1.15" fill="#f3fad6"/><rect y="440.5" height="1.15" fill="#f9fdca"/><rect y="441.6" height="0.75" fill="#f0f9dc"/><rect y="442.3" height="1.15" fill="#f6fbd0"/><rect y="443.4" height="0.95" fill="#f9fdca"/><rect y="444.3" height="0.75" fill="#f6fbd0"/><rect y="445.0" height="0.95" fill="#fcfec5"/><rect y="445.9" height="0.95" fill="#f9fdca"/><rect y="446.8" height="1.15" fill="#fcfec5"/><rect y="447.9" height="0.95" fill="#f6fbd0"/><rect y="448.8" height="1.15" fill="#f3fad6"/><rect y="449.9" height="0.95" fill="#f6fbd0"/><rect y="450.8" height="1.45" fill="#fcfec5"/><rect y="452.2" height="0.95" fill="#f3fad6"/><rect y="453.1" height="1.15" fill="#f0f9dc"/><rect y="454.2" height="0.75" fill="#f9fdca"/><rect y="454.9" height="1.15" fill="#f6fbd0"/><rect y="456.0" height="1.05" fill="#f9fdca"/><rect y="457.0" height="1.85" fill="#e85538"/><rect y="458.8" height="1.15" fill="#ee613d"/><rect y="459.9" height="0.95" fill="#f16740"/><rect y="460.8" height="0.75" fill="#eb5b3b"/><rect y="461.5" height="0.55" fill="#ee613d"/><rect y="462.0" height="2.75" fill="#f9fdca"/><rect y="464.7" height="1.15" fill="#f3fad6"/><rect y="465.8" height="0.75" fill="#fcfec5"/><rect y="466.5" height="0.75" fill="#f9fdca"/><rect y="467.2" height="1.45" fill="#f6fbd0"/><rect y="468.6" height="1.15" fill="#f9fdca"/><rect y="469.7" height="1.45" fill="#fcfec5"/><rect y="471.1" height="0.75" fill="#f6fbd0"/><rect y="471.8" height="0.75" fill="#ffffbf"/><rect y="472.5" height="0.95" fill="#fece87"/><rect y="473.4" height="1.65" fill="#f9fdca"/><rect y="475.0" height="0.75" fill="#f3fad6"/><rect y="475.7" height="2.85" fill="#f6fbd0"/><rect y="478.5" height="1.15" fill="#f9fdca"/><rect y="479.6" height="1.85" fill="#fcfec5"/><rect y="481.4" height="3.95" fill="#f9fdca"/><rect y="485.3" height="1.45" fill="#f6fbd0"/><rect y="486.7" height="1.45" fill="#f9fdca"/><rect y="488.1" height="0.75" fill="#fcfec5"/><rect y="488.8" height="1.45" fill="#ffffbf"/><rect y="490.2" height="1.15" fill="#fcfec5"/><rect y="491.3" height="1.15" fill="#f6fbd0"/><rect y="492.4" height="0.95" fill="#fcfec5"/><rect y="493.3" height="0.75" fill="#f6fbd0"/><rect y="494.0" height="0.95" fill="#fcfec5"/><rect y="494.9" height="2.15" fill="#f3fad6"/><rect y="497.0" height="1.15" fill="#fcfec5"/><rect y="498.1" height="1.15" fill="#f3fad6"/><rect y="499.2" height="0.95" fill="#fdae61"/><rect y="500.1" height="2.55" fill="#f6fbd0"/><rect y="502.6" height="2.15" fill="#f9fdca"/><rect y="504.7" height="1.15" fill="#fcfec5"/><rect y="505.8" height="0.95" fill="#f3fad6"/><rect y="506.7" height="2.55" fill="#f6fbd0"/><rect y="509.2" height="0.95" fill="#f9fdca"/><rect y="510.1" height="1.45" fill="#f3fad6"/><rect y="511.5" height="1.85" fill="#f6fbd0"/><rect y="513.3" height="0.95" fill="#fcfec5"/><rect y="514.2" height="2.75" fill="#f9fdca"/><rect y="516.9" height="0.75" fill="#f3fad6"/><rect y="517.6" height="3.65" fill="#f9fdca"/><rect y="521.2" height="1.15" fill="#fedf99"/><rect y="522.3" height="0.75" fill="#fcfec5"/><rect y="523.0" height="0.95" fill="#f6fbd0"/><rect y="523.9" height="1.55" fill="#f3fad6"/><rect y="525.4" height="1.15" fill="#f6fbd0"/><rect y="526.5" height="1.15" fill="#f9fdca"/><rect y="527.6" height="0.75" fill="#fcfec5"/><rect y="528.3" height="1.45" fill="#f9fdca"/><rect y="529.7" height="0.75" fill="#f6fbd0"/><rect y="530.4" height="2.55" fill="#f3fad6"/><rect y="532.9" height="1.45" fill="#fdbe74"/><rect y="534.3" height="1.45" fill="#f6fbd0"/><rect y="535.7" height="0.95" fill="#fec67d"/><rect y="536.6" height="1.45" fill="#f9fdca"/><rect y="538.0" height="1.15" fill="#f3fad6"/><rect y="539.1" height="1.15" fill="#f6fbd0"/><rect y="540.2" height="1.15" fill="#f0f9dc"/><rect y="541.3" height="1.45" fill="#f3fad6"/><rect y="542.7" height="0.75" fill="#f6fbd0"/><rect y="543.4" height="1.45" fill="#f3fad6"/><rect y="544.8" height="0.95" fill="#f9fdca"/><rect y="545.7" height="0.95" fill="#fcfec5"/><rect y="546.6" height="1.15" fill="#fdae61"/><rect y="547.7" height="0.75" fill="#f6fbd0"/><rect y="548.4" height="0.95" fill="#f9fdca"/><rect y="549.3" height="1.15" fill="#f6fbd0"/><rect y="550.4" height="1.45" fill="#fcfec5"/><rect y="551.8" height="0.95" fill="#f9fdca"/><rect y="552.7" height="1.65" fill="#fcfec5"/><rect y="554.3" height="0.75" fill="#f6fbd0"/><rect y="555.0" height="2.55" fill="#f9fdca"/><rect y="557.5" height="1.15" fill="#f6fbd0"/><rect y="558.6" height="1.15" fill="#fdbe74"/><rect y="559.7" height="2.55" fill="#f3fad6"/><rect y="562.2" height="3.75" fill="#f9fdca"/><rect y="565.9" height="0.75" fill="#f3fad6"/><rect y="566.6" height="3.75" fill="#f6fbd0"/><rect y="570.3" height="0.25" fill="#f9fdca"/></g>
<g class="hm" transform="translate(203.06,0)"><rect y="352.0" height="1.45" fill="#f0f9dc"/><rect y="353.4" height="1.15" fill="#f3fad6"/><rect y="354.5" height="0.95" fill="#f6fbd0"/><rect y="355.4" height="2.35" fill="#f3fad6"/><rect y="357.7" height="1.45" fill="#f0f9dc"/><rect y="359.1" height="1.45" fill="#f3fad6"/><rect y="360.5" height="0.75" fill="#ecf8e1"/><rect y="361.2" height="1.85" fill="#f3fad6"/><rect y="363.0" height="1.45" fill="#f0f9dc"/><rect y="364.4" height="0.95" fill="#fba15b"/><rect y="365.3" height="0.95" fill="#ecf8e1"/><rect y="366.2" height="0.75" fill="#f3fad6"/><rect y="366.9" height="2.05" fill="#f0f9dc"/><rect y="368.9" height="1.45" fill="#f3fad6"/><rect y="370.3" height="0.95" fill="#e9f7e7"/><rect y="371.2" height="2.35" fill="#f0f9dc"/><rect y="373.5" height="2.55" fill="#f3fad6"/><rect y="376.0" height="0.75" fill="#f6fbd0"/><rect y="376.7" height="2.55" fill="#f0f9dc"/><rect y="379.2" height="0.95" fill="#f6fbd0"/><rect y="380.1" height="0.75" fill="#f3fad6"/><rect y="380.8" height="1.45" fill="#f9fdca"/><rect y="382.2" height="2.35" fill="#f3fad6"/><rect y="384.5" height="0.75" fill="#f6fbd0"/><rect y="385.2" height="0.95" fill="#f3fad6"/><rect y="386.1" height="0.95" fill="#f0f9dc"/><rect y="387.0" height="1.45" fill="#f6fbd0"/><rect y="388.4" height="0.95" fill="#ecf8e1"/><rect y="389.3" height="0.75" fill="#f0f9dc"/><rect y="390.0" height="1.85" fill="#f9fdca"/><rect y="391.8" height="1.45" fill="#f3fad6"/><rect y="393.2" height="2.85" fill="#f6fbd0"/><rect y="396.0" height="0.75" fill="#f3fad6"/><rect y="396.7" height="1.85" fill="#f6fbd0"/><rect y="398.5" height="0.95" fill="#f3fad6"/><rect y="399.4" height="1.15" fill="#f6fbd0"/><rect y="400.5" height="1.45" fill="#f0f9dc"/><rect y="401.9" height="0.95" fill="#fba15b"/><rect y="402.8" height="0.95" fill="#f6fbd0"/><rect y="403.7" height="0.35" fill="#f3fad6"/><rect y="404.0" height="2.05" fill="#fcfec5"/><rect y="406.0" height="0.75" fill="#ffffbf"/><rect y="406.7" height="0.75" fill="#fcfec5"/><rect y="407.4" height="2.35" fill="#f6fbd0"/><rect y="409.7" height="1.85" fill="#f9fdca"/><rect y="411.5" height="1.45" fill="#fcfec5"/><rect y="412.9" height="0.75" fill="#f9fdca"/><rect y="413.6" height="0.95" fill="#f3fad6"/><rect y="414.5" height="0.55" fill="#f6fbd0"/><rect y="415.0" height="0.75" fill="#f9fdca"/><rect y="415.7" height="0.95" fill="#ffffbf"/><rect y="416.6" height="1.15" fill="#f9fdca"/><rect y="417.7" height="0.95" fill="#f6fbd0"/><rect y="418.6" height="0.75" fill="#fcfec5"/><rect y="419.3" height="1.45" fill="#f9fdca"/><rect y="420.7" height="0.75" fill="#fcfec5"/><rect y="421.4" height="0.75" fill="#f9fdca"/><rect y="422.1" height="1.15" fill="#f6fbd0"/><rect y="423.2" height="0.95" fill="#fcfec5"/><rect y="424.1" height="2.35" fill="#f6fbd0"/><rect y="426.4" height="1.15" fill="#f9fdca"/><rect y="427.5" height="0.75" fill="#fcfec5"/><rect y="428.2" height="3.55" fill="#f9fdca"/><rect y="431.7" height="3.85" fill="#f3fad6"/><rect y="435.5" height="1.45" fill="#f0f9dc"/><rect y="436.9" height="0.75" fill="#ecf8e1"/><rect y="437.6" height="2.95" fill="#f3fad6"/><rect y="440.5" height="1.15" fill="#f6fbd0"/><rect y="441.6" height="0.75" fill="#f3fad6"/><rect y="442.3" height="1.15" fill="#fece87"/><rect y="443.4" height="0.95" fill="#f0f9dc"/><rect y="444.3" height="2.55" fill="#f3fad6"/><rect y="446.8" height="1.15" fill="#ecf8e1"/><rect y="447.9" height="2.05" fill="#f3fad6"/><rect y="449.9" height="3.25" fill="#f6fbd0"/><rect y="453.1" height="2.95" fill="#f3fad6"/><rect y="456.0" height="0.75" fill="#f6fbd0"/><rect y="456.7" height="0.35" fill="#f9fdca"/><rect y="457.0" height="0.95" fill="#ffefac"/><rect y="457.9" height="0.95" fill="#fdb66a"/><rect y="458.8" height="1.15" fill="#fee7a3"/><rect y="459.9" height="1.65" fill="#ffefac"/><rect y="461.5" height="0.55" fill="#fca85e"/><rect y="462.0" height="0.75" fill="#f46d43"/><rect y="462.7" height="0.95" fill="#e0422f"/><rect y="463.6" height="1.15" fill="#e34832"/><rect y="464.7" height="1.15" fill="#e64e35"/><rect y="465.8" height="0.75" fill="#dd3c2d"/><rect y="466.5" height="2.15" fill="#e0422f"/><rect y="468.6" height="1.15" fill="#e64e35"/><rect y="469.7" height="1.45" fill="#dd3c2d"/><rect y="471.1" height="0.75" fill="#e64e35"/><rect y="471.8" height="0.75" fill="#dd3c2d"/><rect y="472.5" height="0.95" fill="#da362a"/><rect y="473.4" height="1.15" fill="#e0422f"/><rect y="474.5" height="0.55" fill="#e34832"/><rect y="475.0" height="0.75" fill="#fdbe74"/><rect y="475.7" height="1.45" fill="#f88e52"/><rect y="477.1" height="1.45" fill="#fdbe74"/><rect y="478.5" height="1.15" fill="#fba15b"/><rect y="479.6" height="1.15" fill="#fdbe74"/><rect y="480.7" height="0.75" fill="#fedf99"/><rect y="481.4" height="1.45" fill="#fee7a3"/><rect y="482.8" height="0.95" fill="#fdbe74"/><rect y="483.7" height="0.95" fill="#fba15b"/><rect y="484.6" height="0.75" fill="#fed690"/><rect y="485.3" height="1.45" fill="#fdbe74"/><rect y="486.7" height="2.15" fill="#fdb66a"/><rect y="488.8" height="1.45" fill="#f3fad6"/><rect y="490.2" height="1.15" fill="#fec67d"/><rect y="491.3" height="1.15" fill="#f9fdca"/><rect y="492.4" height="0.95" fill="#f88e52"/><rect y="493.3" height="0.75" fill="#fca85e"/><rect y="494.0" height="0.95" fill="#fa9a58"/><rect y="494.9" height="1.45" fill="#ffffbf"/><rect y="496.3" height="0.75" fill="#fba15b"/><rect y="497.0" height="3.15" fill="#e9f7e7"/><rect y="500.1" height="1.15" fill="#ecf8e1"/><rect y="501.2" height="1.45" fill="#e6f5ed"/><rect y="502.6" height="1.45" fill="#e9f7e7"/><rect y="504.0" height="1.85" fill="#e6f5ed"/><rect y="505.8" height="0.95" fill="#ecf8e1"/><rect y="506.7" height="1.45" fill="#e9f7e7"/><rect y="508.1" height="1.15" fill="#f0f9dc"/><rect y="509.2" height="0.95" fill="#ecf8e1"/><rect y="510.1" height="1.45" fill="#e6f5ed"/><rect y="511.5" height="0.75" fill="#e9f7e7"/><rect y="512.2" height="1.15" fill="#fdbe74"/><rect y="513.3" height="0.95" fill="#e9f7e7"/><rect y="514.2" height="0.95" fill="#e6f5ed"/><rect y="515.1" height="1.15" fill="#e3f4f2"/><rect y="516.2" height="0.75" fill="#e9f7e7"/><rect y="516.9" height="1.85" fill="#e6f5ed"/><rect y="518.7" height="1.15" fill="#e9f7e7"/><rect y="519.8" height="2.55" fill="#ecf8e1"/><rect y="522.3" height="0.75" fill="#e9f7e7"/><rect y="523.0" height="1.05" fill="#ecf8e1"/><rect y="524.0" height="1.45" fill="#e6f5ed"/><rect y="525.4" height="1.15" fill="#f0f9dc"/><rect y="526.5" height="1.15" fill="#e6f5ed"/><rect y="527.6" height="0.75" fill="#ecf8e1"/><rect y="528.3" height="1.45" fill="#e9f7e7"/><rect y="529.7" height="0.75" fill="#f3fad6"/><rect y="530.4" height="1.15" fill="#e9f7e7"/><rect y="531.5" height="1.45" fill="#f0f9dc"/><rect y="532.9" height="1.45" fill="#fdbe74"/><rect y="534.3" height="2.35" fill="#f0f9dc"/><rect y="536.6" height="2.55" fill="#e9f7e7"/><rect y="539.1" height="1.15" fill="#e6f5ed"/><rect y="540.2" height="1.15" fill="#ecf8e1"/><rect y="541.3" height="1.45" fill="#e9f7e7"/><rect y="542.7" height="0.75" fill="#ecf8e1"/><rect y="543.4" height="2.35" fill="#e9f7e7"/><rect y="545.7" height="0.95" fill="#f3fad6"/><rect y="546.6" height="1.85" fill="#ecf8e1"/><rect y="548.4" height="2.05" fill="#e9f7e7"/><rect y="550.4" height="2.35" fill="#ecf8e1"/><rect y="552.7" height="0.75" fill="#f3fad6"/><rect y="553.4" height="1.65" fill="#f0f9dc"/><rect y="555.0" height="1.15" fill="#fed690"/><rect y="556.1" height="1.45" fill="#e9f7e7"/><rect y="557.5" height="2.25" fill="#f0f9dc"/><rect y="559.7" height="3.45" fill="#ecf8e1"/><rect y="563.1" height="1.45" fill="#f0f9dc"/><rect y="564.5" height="1.45" fill="#ecf8e1"/><rect y="565.9" height="0.75" fill="#e6f5ed"/><rect y="566.6" height="1.45" fill="#f0f9dc"/><rect y="568.0" height="0.95" fill="#ecf8e1"/><rect y="568.9" height="1.65" fill="#e9f7e7"/></g>
<g class="hm" transform="translate(229.97,0)"><rect y="352.0" height="1.45" fill="#f6fbd0"/><rect y="353.4" height="1.15" fill="#ecf8e1"/><rect y="354.5" height="3.25" fill="#f6fbd0"/><rect y="357.7" height="1.45" fill="#f0f9dc"/><rect y="359.1" height="1.45" fill="#f3fad6"/><rect y="360.5" height="1.65" fill="#f0f9dc"/><rect y="362.1" height="0.95" fill="#f3fad6"/><rect y="363.0" height="2.35" fill="#f6fbd0"/><rect y="365.3" height="0.95" fill="#f3fad6"/><rect y="366.2" height="0.75" fill="#f6fbd0"/><rect y="366.9" height="1.15" fill="#f3fad6"/><rect y="368.0" height="2.35" fill="#f0f9dc"/><rect y="370.3" height="1.85" fill="#f3fad6"/><rect y="372.1" height="1.45" fill="#f0f9dc"/><rect y="373.5" height="1.45" fill="#f3fad6"/><rect y="374.9" height="0.95" fill="#f0f9dc"/><rect y="375.8" height="0.25" fill="#f3fad6"/><rect y="376.0" height="2.15" fill="#fdae61"/><rect y="378.1" height="1.15" fill="#f3fad6"/><rect y="379.2" height="0.95" fill="#fece87"/><rect y="380.1" height="0.75" fill="#f3fad6"/><rect y="380.8" height="1.45" fill="#ecf8e1"/><rect y="382.2" height="2.35" fill="#f6fbd0"/><rect y="384.5" height="2.55" fill="#f3fad6"/><rect y="387.0" height="1.45" fill="#f6fbd0"/><rect y="388.4" height="0.95" fill="#f3fad6"/><rect y="389.3" height="0.75" fill="#f6fbd0"/><rect y="390.0" height="3.25" fill="#f3fad6"/><rect y="393.2" height="0.95" fill="#f6fbd0"/><rect y="394.1" height="0.95" fill="#f3fad6"/><rect y="395.0" height="1.05" fill="#f6fbd0"/><rect y="396.0" height="1.45" fill="#f9fdca"/><rect y="397.4" height="1.15" fill="#f3fad6"/><rect y="398.5" height="0.95" fill="#f6fbd0"/><rect y="399.4" height="1.15" fill="#f3fad6"/><rect y="400.5" height="1.45" fill="#f6fbd0"/><rect y="401.9" height="0.95" fill="#f3fad6"/><rect y="402.8" height="0.95" fill="#f6fbd0"/><rect y="403.7" height="0.35" fill="#f3fad6"/><rect y="404.0" height="2.75" fill="#f9fdca"/><rect y="406.7" height="0.75" fill="#f6fbd0"/><rect y="407.4" height="2.35" fill="#f9fdca"/><rect y="409.7" height="1.85" fill="#f6fbd0"/><rect y="411.5" height="0.75" fill="#f9fdca"/><rect y="412.2" height="0.75" fill="#ffffbf"/><rect y="412.9" height="0.75" fill="#fcfec5"/><rect y="413.6" height="0.95" fill="#ffffbf"/><rect y="414.5" height="0.55" fill="#fcfec5"/><rect y="415.0" height="0.75" fill="#f6fbd0"/><rect y="415.7" height="0.95" fill="#f9fdca"/><rect y="416.6" height="1.15" fill="#fcfec5"/><rect y="417.7" height="0.95" fill="#fff7b6"/><rect y="418.6" height="0.75" fill="#fcfec5"/><rect y="419.3" height="1.45" fill="#fca85e"/><rect y="420.7" height="0.75" fill="#fcfec5"/><rect y="421.4" height="0.75" fill="#f9fdca"/><rect y="422.1" height="1.15" fill="#fcfec5"/><rect y="423.2" height="0.95" fill="#ffffbf"/><rect y="424.1" height="3.45" fill="#f9fdca"/><rect y="427.5" height="0.75" fill="#fcfec5"/><rect y="428.2" height="1.15" fill="#fedf99"/><rect y="429.3" height="0.75" fill="#f9fdca"/><rect y="430.0" height="1.05" fill="#ffffbf"/><rect y="431.0" height="0.75" fill="#f6fbd0"/><rect y="431.7" height="1.15" fill="#f3fad6"/><rect y="432.8" height="0.95" fill="#f6fbd0"/><rect y="433.7" height="0.95" fill="#f9fdca"/><rect y="434.6" height="0.95" fill="#f0f9dc"/><rect y="435.5" height="1.45" fill="#f3fad6"/><rect y="436.9" height="0.75" fill="#f9fdca"/><rect y="437.6" height="1.85" fill="#f6fbd0"/><rect y="439.4" height="1.15" fill="#f3fad6"/><rect y="440.5" height="1.85" fill="#f6fbd0"/><rect y="442.3" height="2.05" fill="#f3fad6"/><rect y="444.3" height="0.75" fill="#fcfec5"/><rect y="445.0" height="1.85" fill="#f9fdca"/><rect y="446.8" height="1.15" fill="#f3fad6"/><rect y="447.9" height="2.05" fill="#fcfec5"/><rect y="449.9" height="0.95" fill="#fdb66a"/><rect y="450.8" height="3.45" fill="#f3fad6"/><rect y="454.2" height="1.85" fill="#f0f9dc"/><rect y="456.0" height="1.05" fill="#f6fbd0"/><rect y="457.0" height="0.95" fill="#ffefac"/><rect y="457.9" height="2.05" fill="#ffffbf"/><rect y="459.9" height="0.95" fill="#fedf99"/><rect y="460.8" height="0.75" fill="#fff7b6"/><rect y="461.5" height="0.55" fill="#ffffbf"/><rect y="462.0" height="0.75" fill="#fdae61"/><rect y="462.7" height="0.95" fill="#fee7a3"/><rect y="463.6" height="1.15" fill="#fa9a58"/><rect y="464.7" height="1.15" fill="#fece87"/><rect y="465.8" height="0.75" fill="#fed690"/><rect y="466.5" height="0.75" fill="#fdae61"/><rect y="467.2" height="1.45" fill="#fece87"/><rect y="468.6" height="1.15" fill="#f67a49"/><rect y="469.7" height="1.45" fill="#fedf99"/><rect y="471.1" height="0.75" fill="#ffefac"/><rect y="471.8" height="0.75" fill="#fdae61"/><rect y="472.5" height="0.95" fill="#fa9a58"/><rect y="473.4" height="1.15" fill="#fba15b"/><rect y="474.5" height="0.55" fill="#fed690"/><rect y="475.0" height="2.15" fill="#eb5b3b"/><rect y="477.1" height="1.45" fill="#e64e35"/><rect y="478.5" height="1.15" fill="#eb5b3b"/><rect y="479.6" height="1.15" fill="#e85538"/><rect y="480.7" height="0.75" fill="#e34832"/><rect y="481.4" height="1.45" fill="#e64e35"/><rect y="482.8" height="0.95" fill="#e85538"/><rect y="483.7" height="0.95" fill="#eb5b3b"/><rect y="484.6" height="0.75" fill="#ee613d"/><rect y="485.3" height="1.45" fill="#f57446"/><rect y="486.7" height="3.55" fill="#e85538"/><rect y="490.2" height="1.15" fill="#ee613d"/><rect y="491.3" height="1.15" fill="#eb5b3b"/><rect y="492.4" height="0.95" fill="#e64e35"/><rect y="493.3" height="0.75" fill="#e85538"/><rect y="494.0" height="0.95" fill="#eb5b3b"/><rect y="494.9" height="1.45" fill="#f8874f"/><rect y="496.3" height="0.75" fill="#eb5b3b"/><rect y="497.0" height="1.15" fill="#e9f7e7"/><rect y="498.1" height="1.15" fill="#ecf8e1"/><rect y="499.2" height="0.95" fill="#e3f4f2"/><rect y="500.1" height="1.15" fill="#e0f3f8"/><rect y="501.2" height="2.85" fill="#e9f7e7"/><rect y="504.0" height="0.75" fill="#f0f9dc"/><rect y="504.7" height="1.15" fill="#ecf8e1"/><rect y="505.8" height="0.95" fill="#e9f7e7"/><rect y="506.7" height="0.75" fill="#e6f5ed"/><rect y="507.4" height="0.75" fill="#e9f7e7"/><rect y="508.1" height="1.15" fill="#ecf8e1"/><rect y="509.2" height="0.95" fill="#e9f7e7"/><rect y="510.1" height="1.45" fill="#ecf8e1"/><rect y="511.5" height="0.75" fill="#fece87"/><rect y="512.2" height="1.15" fill="#e9f7e7"/><rect y="513.3" height="0.95" fill="#fec67d"/><rect y="514.2" height="0.95" fill="#ecf8e1"/><rect y="515.1" height="1.15" fill="#e9f7e7"/><rect y="516.2" height="0.75" fill="#e3f4f2"/><rect y="516.9" height="1.85" fill="#e6f5ed"/><rect y="518.7" height="1.15" fill="#e9f7e7"/><rect y="519.8" height="1.45" fill="#f0f9dc"/><rect y="521.2" height="1.15" fill="#ecf8e1"/><rect y="522.3" height="1.65" fill="#e9f7e7"/><rect y="523.9" height="0.15" fill="#e3f4f2"/><rect y="524.0" height="2.55" fill="#ecf8e1"/><rect y="526.5" height="1.15" fill="#fedf99"/><rect y="527.6" height="0.75" fill="#f0f9dc"/><rect y="528.3" height="1.45" fill="#fed690"/><rect y="529.7" height="3.25" fill="#ecf8e1"/><rect y="532.9" height="1.45" fill="#fec67d"/><rect y="534.3" height="5.95" fill="#ecf8e1"/><rect y="540.2" height="3.25" fill="#e9f7e7"/><rect y="543.4" height="1.45" fill="#ecf8e1"/><rect y="544.8" height="0.95" fill="#e3f4f2"/><rect y="545.7" height="2.05" fill="#f0f9dc"/><rect y="547.7" height="1.65" fill="#ecf8e1"/><rect y="549.3" height="2.55" fill="#e9f7e7"/><rect y="551.8" height="0.95" fill="#f3fad6"/><rect y="552.7" height="0.75" fill="#ecf8e1"/><rect y="553.4" height="1.65" fill="#f0f9dc"/><rect y="555.0" height="2.55" fill="#ecf8e1"/><rect y="557.5" height="1.15" fill="#e9f7e7"/><rect y="558.6" height="1.15" fill="#e6f5ed"/><rect y="559.7" height="2.55" fill="#ecf8e1"/><rect y="562.2" height="0.95" fill="#f6fbd0"/><rect y="563.1" height="1.45" fill="#ecf8e1"/><rect y="564.5" height="1.45" fill="#f0f9dc"/><rect y="565.9" height="3.05" fill="#ecf8e1"/><rect y="568.9" height="1.45" fill="#f0f9dc"/><rect y="570.3" height="0.25" fill="#e9f7e7"/></g>
<g class="hm" transform="translate(256.88,0)"><rect y="352.0" height="1.45" fill="#f6fbd0"/><rect y="353.4" height="1.15" fill="#f9fdca"/><rect y="354.5" height="0.95" fill="#fcfec5"/><rect y="355.4" height="0.95" fill="#f6fbd0"/><rect y="356.3" height="1.45" fill="#f3fad6"/><rect y="357.7" height="2.85" fill="#f6fbd0"/><rect y="360.5" height="0.75" fill="#f9fdca"/><rect y="361.2" height="0.95" fill="#fcfec5"/><rect y="362.1" height="2.35" fill="#f6fbd0"/><rect y="364.4" height="0.95" fill="#f9fdca"/><rect y="365.3" height="0.95" fill="#f3fad6"/><rect y="366.2" height="0.75" fill="#f9fdca"/><rect y="366.9" height="1.15" fill="#f6fbd0"/><rect y="368.0" height="2.35" fill="#f3fad6"/><rect y="370.3" height="0.95" fill="#f9fdca"/><rect y="371.2" height="3.75" fill="#f6fbd0"/><rect y="374.9" height="1.15" fill="#f3fad6"/><rect y="376.0" height="0.75" fill="#f9fdca"/><rect y="376.7" height="2.55" fill="#f6fbd0"/><rect y="379.2" height="0.95" fill="#f3fad6"/><rect y="380.1" height="0.75" fill="#f9fdca"/><rect y="380.8" height="1.45" fill="#f6fbd0"/><rect y="382.2" height="0.95" fill="#f9fdca"/><rect y="383.1" height="1.45" fill="#fcfec5"/><rect y="384.5" height="1.65" fill="#f6fbd0"/><rect y="386.1" height="0.95" fill="#f3fad6"/><rect y="387.0" height="2.35" fill="#f9fdca"/><rect y="389.3" height="0.75" fill="#f6fbd0"/><rect y="390.0" height="1.15" fill="#f9fdca"/><rect y="391.1" height="0.75" fill="#f6fbd0"/><rect y="391.8" height="3.25" fill="#f9fdca"/><rect y="395.0" height="1.05" fill="#f6fbd0"/><rect y="396.0" height="0.75" fill="#f9fdca"/><rect y="396.7" height="0.75" fill="#f6fbd0"/><rect y="397.4" height="1.15" fill="#fcfec5"/><rect y="398.5" height="0.95" fill="#f3fad6"/><rect y="399.4" height="3.45" fill="#f6fbd0"/><rect y="402.8" height="0.95" fill="#fedf99"/><rect y="403.7" height="1.25" fill="#f3fad6"/><rect y="404.9" height="1.85" fill="#f9fdca"/><rect y="406.7" height="1.65" fill="#f6fbd0"/><rect y="408.3" height="1.45" fill="#f3fad6"/><rect y="409.7" height="0.95" fill="#fba15b"/><rect y="410.6" height="0.95" fill="#f0f9dc"/><rect y="411.5" height="1.45" fill="#f3fad6"/><rect y="412.9" height="0.75" fill="#f9fdca"/><rect y="413.6" height="2.15" fill="#f6fbd0"/><rect y="415.7" height="2.95" fill="#f9fdca"/><rect y="418.6" height="2.15" fill="#f3fad6"/><rect y="420.7" height="0.75" fill="#f6fbd0"/><rect y="421.4" height="1.85" fill="#f3fad6"/><rect y="423.2" height="0.95" fill="#f0f9dc"/><rect y="424.1" height="2.35" fill="#f9fdca"/><rect y="426.4" height="2.95" fill="#f6fbd0"/><rect y="429.3" height="0.75" fill="#f0f9dc"/><rect y="430.0" height="1.05" fill="#f3fad6"/><rect y="431.0" height="1.85" fill="#f6fbd0"/><rect y="432.8" height="0.95" fill="#f0f9dc"/><rect y="433.7" height="0.95" fill="#ecf8e1"/><rect y="434.6" height="3.95" fill="#f3fad6"/><rect y="438.5" height="0.95" fill="#f9fdca"/><rect y="439.4" height="1.15" fill="#f6fbd0"/><rect y="440.5" height="1.15" fill="#f9fdca"/><rect y="441.6" height="0.75" fill="#fed690"/><rect y="442.3" height="1.15" fill="#f0f9dc"/><rect y="443.4" height="0.95" fill="#f6fbd0"/><rect y="444.3" height="0.75" fill="#f3fad6"/><rect y="445.0" height="0.95" fill="#f9fdca"/><rect y="445.9" height="4.95" fill="#f3fad6"/><rect y="450.8" height="1.45" fill="#f9fdca"/><rect y="452.2" height="0.95" fill="#f3fad6"/><rect y="453.1" height="1.85" fill="#f6fbd0"/><rect y="454.9" height="1.15" fill="#f3fad6"/><rect y="456.0" height="0.75" fill="#fcfec5"/><rect y="456.7" height="1.25" fill="#ecf8e1"/><rect y="457.9" height="0.95" fill="#f3fad6"/><rect y="458.8" height="1.15" fill="#f0f9dc"/><rect y="459.9" height="0.95" fill="#f6fbd0"/><rect y="460.8" height="0.75" fill="#f3fad6"/><rect y="461.5" height="0.55" fill="#f6fbd0"/><rect y="462.0" height="0.75" fill="#e9f7e7"/><rect y="462.7" height="0.95" fill="#ecf8e1"/><rect y="463.6" height="1.15" fill="#e9f7e7"/><rect y="464.7" height="1.15" fill="#e6f5ed"/><rect y="465.8" height="6.05" fill="#ecf8e1"/><rect y="471.8" height="0.75" fill="#e9f7e7"/><rect y="472.5" height="0.95" fill="#f3fad6"/><rect y="473.4" height="1.15" fill="#f0f9dc"/><rect y="474.5" height="0.55" fill="#ecf8e1"/><rect y="475.0" height="0.75" fill="#e6f5ed"/><rect y="475.7" height="1.45" fill="#e3f4f2"/><rect y="477.1" height="2.55" fill="#e9f7e7"/><rect y="479.6" height="1.15" fill="#e6f5ed"/><rect y="480.7" height="0.75" fill="#ecf8e1"/><rect y="481.4" height="1.45" fill="#e6f5ed"/><rect y="482.8" height="0.95" fill="#fdb66a"/><rect y="483.7" height="0.95" fill="#e6f5ed"/><rect y="484.6" height="5.65" fill="#e9f7e7"/><rect y="490.2" height="1.15" fill="#e6f5ed"/><rect y="491.3" height="2.75" fill="#e9f7e7"/><rect y="494.0" height="3.05" fill="#e6f5ed"/><rect y="497.0" height="1.15" fill="#eb5b3b"/><rect y="498.1" height="1.15" fill="#e85538"/><rect y="499.2" height="0.95" fill="#f16740"/><rect y="500.1" height="1.15" fill="#eb5b3b"/><rect y="501.2" height="1.45" fill="#e85538"/><rect y="502.6" height="1.45" fill="#eb5b3b"/><rect y="504.0" height="0.75" fill="#e85538"/><rect y="504.7" height="1.15" fill="#e64e35"/><rect y="505.8" height="0.95" fill="#e85538"/><rect y="506.7" height="1.45" fill="#e64e35"/><rect y="508.1" height="2.05" fill="#e85538"/><rect y="510.1" height="1.45" fill="#ee613d"/><rect y="511.5" height="0.75" fill="#e85538"/><rect y="512.2" height="1.15" fill="#f8874f"/><rect y="513.3" height="0.95" fill="#e85538"/><rect y="514.2" height="0.95" fill="#e64e35"/><rect y="515.1" height="1.15" fill="#eb5b3b"/><rect y="516.2" height="0.75" fill="#e85538"/><rect y="516.9" height="0.75" fill="#ee613d"/><rect y="517.6" height="1.15" fill="#eb5b3b"/><rect y="518.7" height="2.55" fill="#ee613d"/><rect y="521.2" height="1.15" fill="#e64e35"/><rect y="522.3" height="0.75" fill="#e34832"/><rect y="523.0" height="0.95" fill="#eb5b3b"/><rect y="523.9" height="0.15" fill="#e64e35"/><rect y="524.0" height="1.45" fill="#fdb66a"/><rect y="525.4" height="1.15" fill="#fca85e"/><rect y="526.5" height="1.85" fill="#f7804c"/><rect y="528.3" height="1.45" fill="#fba15b"/><rect y="529.7" height="0.75" fill="#fca85e"/><rect y="530.4" height="1.15" fill="#fba15b"/><rect y="531.5" height="1.45" fill="#f8874f"/><rect y="532.9" height="1.45" fill="#fca85e"/><rect y="534.3" height="1.45" fill="#fedf99"/><rect y="535.7" height="0.95" fill="#fdae61"/><rect y="536.6" height="1.45" fill="#fdb66a"/><rect y="538.0" height="1.15" fill="#f99455"/><rect y="539.1" height="1.15" fill="#fdb66a"/><rect y="540.2" height="1.15" fill="#fca85e"/><rect y="541.3" height="1.45" fill="#f88e52"/><rect y="542.7" height="0.75" fill="#fca85e"/><rect y="543.4" height="1.45" fill="#fdae61"/><rect y="544.8" height="0.95" fill="#fec67d"/><rect y="545.7" height="0.95" fill="#fece87"/><rect y="546.6" height="1.15" fill="#fdb66a"/><rect y="547.7" height="0.75" fill="#fedf99"/><rect y="548.4" height="0.95" fill="#fba15b"/><rect y="549.3" height="1.15" fill="#f88e52"/><rect y="550.4" height="1.45" fill="#fdb66a"/><rect y="551.8" height="0.95" fill="#fa9a58"/><rect y="552.7" height="0.75" fill="#fec67d"/><rect y="553.4" height="0.95" fill="#f6fbd0"/><rect y="554.3" height="0.75" fill="#fece87"/><rect y="555.0" height="1.15" fill="#f88e52"/><rect y="556.1" height="0.75" fill="#fca85e"/><rect y="556.8" height="1.85" fill="#fdae61"/><rect y="558.6" height="1.15" fill="#fba15b"/><rect y="559.7" height="1.45" fill="#fece87"/><rect y="561.1" height="1.15" fill="#f9fdca"/><rect y="562.2" height="0.95" fill="#fece87"/><rect y="563.1" height="1.45" fill="#fdb66a"/><rect y="564.5" height="1.45" fill="#f99455"/><rect y="565.9" height="0.75" fill="#f88e52"/><rect y="566.6" height="1.45" fill="#fa9a58"/><rect y="568.0" height="0.95" fill="#ffefac"/><rect y="568.9" height="1.45" fill="#fdb66a"/><rect y="570.3" height="0.25" fill="#ffefac"/></g>
<g class="hm" transform="translate(283.79,0)"><rect y="352.0" height="1.45" fill="#fcfec5"/><rect y="353.4" height="1.15" fill="#f6fbd0"/><rect y="354.5" height="0.95" fill="#ffffbf"/><rect y="355.4" height="2.35" fill="#fcfec5"/><rect y="357.7" height="2.85" fill="#f9fdca"/><rect y="360.5" height="0.75" fill="#fcfec5"/><rect y="361.2" height="3.25" fill="#f9fdca"/><rect y="364.4" height="0.95" fill="#f3fad6"/><rect y="365.3" height="1.65" fill="#f9fdca"/><rect y="366.9" height="1.15" fill="#ffffbf"/><rect y="368.0" height="0.95" fill="#f9fdca"/><rect y="368.9" height="1.45" fill="#fff7b6"/><rect y="370.3" height="1.85" fill="#fcfec5"/><rect y="372.1" height="1.45" fill="#f9fdca"/><rect y="373.5" height="1.45" fill="#ffffbf"/><rect y="374.9" height="1.85" fill="#f9fdca"/><rect y="376.7" height="1.45" fill="#f6fbd0"/><rect y="378.1" height="1.15" fill="#f3fad6"/><rect y="379.2" height="0.95" fill="#f9fdca"/><rect y="380.1" height="0.75" fill="#f6fbd0"/><rect y="380.8" height="1.45" fill="#fcfec5"/><rect y="382.2" height="0.95" fill="#f9fdca"/><rect y="383.1" height="1.45" fill="#fcfec5"/><rect y="384.5" height="0.75" fill="#f6fbd0"/><rect y="385.2" height="3.25" fill="#f9fdca"/><rect y="388.4" height="0.95" fill="#f3fad6"/><rect y="389.3" height="0.75" fill="#f6fbd0"/><rect y="390.0" height="1.15" fill="#fdb66a"/><rect y="391.1" height="2.15" fill="#fcfec5"/><rect y="393.2" height="0.95" fill="#f6fbd0"/><rect y="394.1" height="0.95" fill="#f9fdca"/><rect y="395.0" height="1.05" fill="#ffffbf"/><rect y="396.0" height="1.45" fill="#f3fad6"/><rect y="397.4" height="1.15" fill="#f9fdca"/><rect y="398.5" height="0.95" fill="#f6fbd0"/><rect y="399.4" height="1.15" fill="#f3fad6"/><rect y="400.5" height="1.45" fill="#f9fdca"/><rect y="401.9" height="0.95" fill="#f3fad6"/><rect y="402.8" height="0.95" fill="#f6fbd0"/><rect y="403.7" height="0.35" fill="#f9fdca"/><rect y="404.0" height="0.95" fill="#fcfec5"/><rect y="404.9" height="1.15" fill="#ffffbf"/><rect y="406.0" height="1.45" fill="#f9fdca"/><rect y="407.4" height="0.95" fill="#fcfec5"/><rect y="408.3" height="1.45" fill="#ffffbf"/><rect y="409.7" height="0.95" fill="#f3fad6"/><rect y="410.6" height="2.35" fill="#f9fdca"/><rect y="412.9" height="1.65" fill="#f6fbd0"/><rect y="414.5" height="0.55" fill="#f9fdca"/><rect y="415.0" height="2.75" fill="#fcfec5"/><rect y="417.7" height="3.75" fill="#f9fdca"/><rect y="421.4" height="0.75" fill="#fcfec5"/><rect y="422.1" height="1.15" fill="#f6fbd0"/><rect y="423.2" height="0.95" fill="#fcfec5"/><rect y="424.1" height="2.35" fill="#f9fdca"/><rect y="426.4" height="2.95" fill="#fcfec5"/><rect y="429.3" height="0.75" fill="#f9fdca"/><rect y="430.0" height="1.05" fill="#fcfec5"/><rect y="431.0" height="3.65" fill="#f9fdca"/><rect y="434.6" height="0.95" fill="#fcfec5"/><rect y="435.5" height="1.45" fill="#f6fbd0"/><rect y="436.9" height="0.75" fill="#f3fad6"/><rect y="437.6" height="0.95" fill="#f9fdca"/><rect y="438.5" height="2.05" fill="#f6fbd0"/><rect y="440.5" height="1.15" fill="#f9fdca"/><rect y="441.6" height="1.85" fill="#f6fbd0"/><rect y="443.4" height="0.95" fill="#f9fdca"/><rect y="444.3" height="0.75" fill="#f3fad6"/><rect y="445.0" height="0.95" fill="#fed690"/><rect y="445.9" height="0.95" fill="#f6fbd0"/><rect y="446.8" height="1.15" fill="#f3fad6"/><rect y="447.9" height="2.05" fill="#f9fdca"/><rect y="449.9" height="0.95" fill="#f6fbd0"/><rect y="450.8" height="1.45" fill="#f9fdca"/><rect y="452.2" height="0.95" fill="#f6fbd0"/><rect y="453.1" height="1.85" fill="#f9fdca"/><rect y="454.9" height="1.85" fill="#f3fad6"/><rect y="456.7" height="0.35" fill="#f6fbd0"/><rect y="457.0" height="1.85" fill="#f0f9dc"/><rect y="458.8" height="1.15" fill="#f9fdca"/><rect y="459.9" height="0.95" fill="#f0f9dc"/><rect y="460.8" height="0.75" fill="#f6fbd0"/><rect y="461.5" height="1.25" fill="#f0f9dc"/><rect y="462.7" height="2.05" fill="#ecf8e1"/><rect y="464.7" height="1.15" fill="#f3fad6"/><rect y="465.8" height="0.75" fill="#e6f5ed"/><rect y="466.5" height="2.15" fill="#f0f9dc"/><rect y="468.6" height="1.15" fill="#f3fad6"/><rect y="469.7" height="1.45" fill="#ecf8e1"/><rect y="471.1" height="0.75" fill="#f0f9dc"/><rect y="471.8" height="1.65" fill="#ecf8e1"/><rect y="473.4" height="1.15" fill="#e9f7e7"/><rect y="474.5" height="0.55" fill="#fee7a3"/><rect y="475.0" height="2.15" fill="#e9f7e7"/><rect y="477.1" height="2.55" fill="#e6f5ed"/><rect y="479.6" height="3.25" fill="#e9f7e7"/><rect y="482.8" height="0.95" fill="#ecf8e1"/><rect y="483.7" height="0.95" fill="#f3fad6"/><rect y="484.6" height="2.15" fill="#e9f7e7"/><rect y="486.7" height="1.45" fill="#f0f9dc"/><rect y="488.1" height="0.75" fill="#e9f7e7"/><rect y="488.8" height="1.45" fill="#fca85e"/><rect y="490.2" height="2.25" fill="#e6f5ed"/><rect y="492.4" height="1.65" fill="#e9f7e7"/><rect y="494.0" height="2.35" fill="#ecf8e1"/><rect y="496.3" height="0.75" fill="#e9f7e7"/><rect y="497.0" height="1.15" fill="#f46d43"/><rect y="498.1" height="1.15" fill="#f67a49"/><rect y="499.2" height="0.95" fill="#f99455"/><rect y="500.1" height="1.15" fill="#f8874f"/><rect y="501.2" height="1.45" fill="#fdbe74"/><rect y="502.6" height="1.45" fill="#fa9a58"/><rect y="504.0" height="0.75" fill="#fca85e"/><rect y="504.7" height="1.15" fill="#f7804c"/><rect y="505.8" height="0.95" fill="#fa9a58"/><rect y="506.7" height="0.75" fill="#fca85e"/><rect y="507.4" height="0.75" fill="#fec67d"/><rect y="508.1" height="1.15" fill="#fa9a58"/><rect y="509.2" height="0.95" fill="#fdae61"/><rect y="510.1" height="1.45" fill="#fca85e"/><rect y="511.5" height="1.85" fill="#ee613d"/><rect y="513.3" height="0.95" fill="#f7804c"/><rect y="514.2" height="0.95" fill="#fece87"/><rect y="515.1" height="1.15" fill="#ee613d"/><rect y="516.2" height="0.75" fill="#f99455"/><rect y="516.9" height="0.75" fill="#fdae61"/><rect y="517.6" height="1.15" fill="#fba15b"/><rect y="518.7" height="1.15" fill="#f7804c"/><rect y="519.8" height="1.45" fill="#fba15b"/><rect y="521.2" height="1.15" fill="#eb5b3b"/><rect y="522.3" height="1.65" fill="#f88e52"/><rect y="523.9" height="0.15" fill="#f99455"/><rect y="524.0" height="1.45" fill="#e0422f"/><rect y="525.4" height="2.25" fill="#e34832"/><rect y="527.6" height="2.15" fill="#e0422f"/><rect y="529.7" height="0.75" fill="#e34832"/><rect y="530.4" height="2.55" fill="#e0422f"/><rect y="532.9" height="2.85" fill="#dd3c2d"/><rect y="535.7" height="0.95" fill="#da362a"/><rect y="536.6" height="1.45" fill="#dd3c2d"/><rect y="538.0" height="1.15" fill="#e34832"/><rect y="539.1" height="1.15" fill="#e64e35"/><rect y="540.2" height="2.55" fill="#e0422f"/><rect y="542.7" height="0.75" fill="#dd3c2d"/><rect y="543.4" height="1.45" fill="#e34832"/><rect y="544.8" height="0.95" fill="#e0422f"/><rect y="545.7" height="2.75" fill="#e34832"/><rect y="548.4" height="0.95" fill="#e0422f"/><rect y="549.3" height="3.45" fill="#e34832"/><rect y="552.7" height="0.75" fill="#e64e35"/><rect y="553.4" height="0.95" fill="#dd3c2d"/><rect y="554.3" height="0.75" fill="#e64e35"/><rect y="555.0" height="1.15" fill="#dd3c2d"/><rect y="556.1" height="0.75" fill="#e0422f"/><rect y="556.8" height="0.75" fill="#e34832"/><rect y="557.5" height="1.15" fill="#e85538"/><rect y="558.6" height="1.15" fill="#e34832"/><rect y="559.7" height="1.45" fill="#dd3c2d"/><rect y="561.1" height="1.15" fill="#e34832"/><rect y="562.2" height="0.95" fill="#da362a"/><rect y="563.1" height="2.85" fill="#e34832"/><rect y="565.9" height="2.15" fill="#dd3c2d"/><rect y="568.0" height="2.35" fill="#e0422f"/><rect y="570.3" height="0.25" fill="#e34832"/></g>
<text x="0" y="0" font-size="8" text-anchor="middle" transform="translate(28.6,580.6) rotate(-30)">PC</text>
<text x="0" y="0" font-size="8" text-anchor="middle" transform="translate(55.5,580.6) rotate(-30)">PE</text>
<text x="0" y="0" font-size="8" text-anchor="middle" transform="translate(82.4,580.6) rotate(-30)">ESR</text>
<text x="0" y="0" font-size="8" text-anchor="middle" transform="translate(109.3,580.6) rotate(-30)">EAS</text>
<text x="0" y="0" font-size="8" text-anchor="middle" transform="translate(136.2,580.6) rotate(-30)">AL</text>
<text x="0" y="0" font-size="8" text-anchor="middle" transform="translate(163.1,580.6) rotate(-30)">BETL</text>
<text x="0" y="0" font-size="8" text-anchor="middle" transform="translate(190.0,580.6) rotate(-30)">CZ</text>
<text x="0" y="0" font-size="8" text-anchor="middle" transform="translate(216.9,580.6) rotate(-30)">SE</text>
<text x="0" y="0" font-size="8" text-anchor="middle" transform="translate(243.8,580.6) rotate(-30)">VE</text>
<text x="0" y="0" font-size="8" text-anchor="middle" transform="translate(270.7,580.6) rotate(-30)">EM</text>
<text x="0" y="0" font-size="8" text-anchor="middle" transform="translate(297.6,580.6) rotate(-30)">SCU</text>
<defs><linearGradient id="hmcb" x1="0" y1="0" x2="0" y2="1"><stop offset="0.000" stop-color="#d73027"/><stop offset="0.167" stop-color="#f46d43"/><stop offset="0.333" stop-color="#fdae61"/><stop offset="0.500" stop-color="#ffffbf"/><stop offset="0.667" stop-color="#e0f3f8"/><stop offset="0.833" stop-color="#74add1"/><stop offset="1.000" stop-color="#4575b4"/></linearGradient></defs>
<rect x="320.2" y="357" width="5.6" height="60" fill="url(#hmcb)"/>
<text x="328.60" y="359.90" font-size="8" text-anchor="start" fill="#000" >3</text>
<text x="328.60" y="369.90" font-size="8" text-anchor="start" fill="#000" >2</text>
<text x="328.60" y="379.90" font-size="8" text-anchor="start" fill="#000" >1</text>
<text x="328.60" y="389.90" font-size="8" text-anchor="start" fill="#000" >0</text>
<text x="328.60" y="399.90" font-size="8" text-anchor="start" fill="#000" >−1</text>
<text x="328.60" y="409.90" font-size="8" text-anchor="start" fill="#000" >−2</text>
<text x="328.60" y="419.90" font-size="8" text-anchor="start" fill="#000" >−3</text>
<text x="355.80" y="191.00" font-size="9.5" text-anchor="start" fill="#000" >f</text>
<text x="0" y="0" font-size="8.7" text-anchor="middle" transform="translate(359.0,364) rotate(-90)">log<tspan font-size="5.5" dy="2">2</tspan><tspan dy="-2">GeneExpression</tspan></text>
<text x="364.00" y="209.50" font-size="8" text-anchor="end" fill="#333" >10</text>
<line x1="365.0" y1="206.60000000000002" x2="366.8" y2="206.60000000000002" stroke="#333" stroke-width="0.7"/>
<text x="364.00" y="315.50" font-size="8" text-anchor="end" fill="#333" >5</text>
<line x1="365.0" y1="312.6" x2="366.8" y2="312.6" stroke="#333" stroke-width="0.7"/>
<text x="364.00" y="421.50" font-size="8" text-anchor="end" fill="#333" >0</text>
<line x1="365.0" y1="418.6" x2="366.8" y2="418.6" stroke="#333" stroke-width="0.7"/>
<text x="364.00" y="527.50" font-size="8" text-anchor="end" fill="#333" >−5</text>
<line x1="365.0" y1="524.6" x2="366.8" y2="524.6" stroke="#333" stroke-width="0.7"/>
<rect x="376.7" y="450.0" width="14.6" height="78.2" fill="#c2c2c2"/>
<line x1="384.0" y1="349.3" x2="384.0" y2="450.0" stroke="#000" stroke-width="1.2"/>
<line x1="384.0" y1="528.2" x2="384.0" y2="562" stroke="#000" stroke-width="1.2"/>
<rect x="404.6" y="431.9" width="14.6" height="43.1" fill="#c2c2c2"/>
<line x1="411.9" y1="344" x2="411.9" y2="431.9" stroke="#000" stroke-width="1.2"/>
<line x1="411.9" y1="475.0" x2="411.9" y2="506.2" stroke="#000" stroke-width="1.2"/>
<rect x="433.3" y="428.3" width="14.6" height="78.5" fill="#c2c2c2"/>
<line x1="440.6" y1="312.8" x2="440.6" y2="428.3" stroke="#000" stroke-width="1.2"/>
<line x1="440.6" y1="506.8" x2="440.6" y2="562" stroke="#000" stroke-width="1.2"/>
<rect x="461.9" y="418.4" width="14.6" height="84.2" fill="#c2c2c2"/>
<line x1="469.2" y1="301.0" x2="469.2" y2="418.4" stroke="#000" stroke-width="1.2"/>
<line x1="469.2" y1="502.6" x2="469.2" y2="562" stroke="#000" stroke-width="1.2"/>
<rect x="490.3" y="456.9" width="14.6" height="105.1" fill="#c2c2c2"/>
<line x1="497.6" y1="300.2" x2="497.6" y2="456.9" stroke="#000" stroke-width="1.2"/>
<rect x="518.5" y="427.3" width="14.6" height="79.5" fill="#c2c2c2"/>
<line x1="525.8" y1="313.6" x2="525.8" y2="427.3" stroke="#000" stroke-width="1.2"/>
<line x1="525.8" y1="506.8" x2="525.8" y2="562" stroke="#000" stroke-width="1.2"/>
<rect x="546.9" y="432.2" width="14.6" height="53.3" fill="#c2c2c2"/>
<line x1="554.2" y1="345.0" x2="554.2" y2="432.2" stroke="#000" stroke-width="1.2"/>
<line x1="554.2" y1="485.5" x2="554.2" y2="562" stroke="#000" stroke-width="1.2"/>
<rect x="575.6" y="442.0" width="14.6" height="64.8" fill="#c2c2c2"/>
<line x1="582.9" y1="347.2" x2="582.9" y2="442.0" stroke="#000" stroke-width="1.2"/>
<line x1="582.9" y1="506.8" x2="582.9" y2="562" stroke="#000" stroke-width="1.2"/>
<rect x="603.9" y="433.9" width="14.6" height="65.4" fill="#c2c2c2"/>
<line x1="611.2" y1="343.5" x2="611.2" y2="433.9" stroke="#000" stroke-width="1.2"/>
<line x1="611.2" y1="499.3" x2="611.2" y2="562" stroke="#000" stroke-width="1.2"/>
<rect x="632.5" y="427.6" width="14.6" height="79.2" fill="#c2c2c2"/>
<line x1="639.8" y1="324.1" x2="639.8" y2="427.6" stroke="#000" stroke-width="1.2"/>
<line x1="639.8" y1="506.8" x2="639.8" y2="562" stroke="#000" stroke-width="1.2"/>
<rect x="660.4" y="429.6" width="14.6" height="72.6" fill="#c2c2c2"/>
<line x1="667.7" y1="323.2" x2="667.7" y2="429.6" stroke="#000" stroke-width="1.2"/>
<line x1="667.7" y1="502.2" x2="667.7" y2="562" stroke="#000" stroke-width="1.2"/>
<rect x="380.5" y="560.7" width="7" height="2.6" rx="1.3" fill="#878787"/>
<rect x="380.5" y="539.5" width="7" height="2.6" rx="1.3" fill="#878787"/>
<rect x="380.5" y="527.1" width="7" height="2.6" rx="1.3" fill="#878787"/>
<rect x="380.5" y="518.3" width="7" height="2.6" rx="1.3" fill="#878787"/>
<rect x="380.5" y="511.5" width="7" height="2.6" rx="1.3" fill="#878787"/>
<rect x="380.5" y="505.9" width="7" height="2.6" rx="1.3" fill="#878787"/>
<rect x="380.5" y="501.2" width="7" height="2.6" rx="1.3" fill="#878787"/>
<rect x="380.5" y="497.1" width="7" height="2.6" rx="1.3" fill="#878787"/>
<rect x="408.4" y="440.4" width="7" height="2.6" rx="1.3" fill="#878787"/>
<rect x="408.4" y="443.7" width="7" height="2.6" rx="1.3" fill="#878787"/>
<rect x="408.4" y="447.9" width="7" height="2.6" rx="1.3" fill="#878787"/>
<rect x="408.4" y="458.0" width="7" height="2.6" rx="1.3" fill="#878787"/>
<rect x="408.4" y="465.5" width="7" height="2.6" rx="1.3" fill="#878787"/>
<rect x="408.4" y="486.7" width="7" height="2.6" rx="1.3" fill="#878787"/>
<rect x="408.4" y="504.9" width="7" height="2.6" rx="1.3" fill="#878787"/>
<rect x="437.1" y="560.7" width="7" height="2.6" rx="1.3" fill="#878787"/>
<rect x="437.1" y="539.5" width="7" height="2.6" rx="1.3" fill="#878787"/>
<rect x="437.1" y="527.1" width="7" height="2.6" rx="1.3" fill="#878787"/>
<rect x="437.1" y="518.3" width="7" height="2.6" rx="1.3" fill="#878787"/>
<rect x="437.1" y="511.5" width="7" height="2.6" rx="1.3" fill="#878787"/>
<rect x="437.1" y="505.9" width="7" height="2.6" rx="1.3" fill="#878787"/>
<rect x="437.1" y="501.2" width="7" height="2.6" rx="1.3" fill="#878787"/>
<rect x="437.1" y="497.1" width="7" height="2.6" rx="1.3" fill="#878787"/>
<rect x="437.1" y="493.5" width="7" height="2.6" rx="1.3" fill="#878787"/>
<rect x="437.1" y="490.3" width="7" height="2.6" rx="1.3" fill="#878787"/>
<rect x="465.7" y="560.7" width="7" height="2.6" rx="1.3" fill="#878787"/>
<rect x="465.7" y="539.5" width="7" height="2.6" rx="1.3" fill="#878787"/>
<rect x="465.7" y="527.1" width="7" height="2.6" rx="1.3" fill="#878787"/>
<rect x="465.7" y="518.3" width="7" height="2.6" rx="1.3" fill="#878787"/>
<rect x="465.7" y="511.5" width="7" height="2.6" rx="1.3" fill="#878787"/>
<rect x="465.7" y="505.9" width="7" height="2.6" rx="1.3" fill="#878787"/>
<rect x="465.7" y="501.2" width="7" height="2.6" rx="1.3" fill="#878787"/>
<rect x="465.7" y="497.1" width="7" height="2.6" rx="1.3" fill="#878787"/>
<rect x="494.1" y="560.7" width="7" height="2.6" rx="1.3" fill="#878787"/>
<rect x="494.1" y="539.5" width="7" height="2.6" rx="1.3" fill="#878787"/>
<rect x="494.1" y="527.1" width="7" height="2.6" rx="1.3" fill="#878787"/>
<rect x="494.1" y="518.3" width="7" height="2.6" rx="1.3" fill="#878787"/>
<rect x="494.1" y="511.5" width="7" height="2.6" rx="1.3" fill="#878787"/>
<rect x="522.3" y="560.7" width="7" height="2.6" rx="1.3" fill="#878787"/>
<rect x="522.3" y="539.5" width="7" height="2.6" rx="1.3" fill="#878787"/>
<rect x="522.3" y="527.1" width="7" height="2.6" rx="1.3" fill="#878787"/>
<rect x="522.3" y="518.3" width="7" height="2.6" rx="1.3" fill="#878787"/>
<rect x="522.3" y="511.5" width="7" height="2.6" rx="1.3" fill="#878787"/>
<rect x="522.3" y="505.9" width="7" height="2.6" rx="1.3" fill="#878787"/>
<rect x="522.3" y="501.2" width="7" height="2.6" rx="1.3" fill="#878787"/>
<rect x="522.3" y="497.1" width="7" height="2.6" rx="1.3" fill="#878787"/>
<rect x="522.3" y="493.5" width="7" height="2.6" rx="1.3" fill="#878787"/>
<rect x="522.3" y="490.3" width="7" height="2.6" rx="1.3" fill="#878787"/>
<rect x="550.7" y="560.7" width="7" height="2.6" rx="1.3" fill="#878787"/>
<rect x="550.7" y="539.5" width="7" height="2.6" rx="1.3" fill="#878787"/>
<rect x="550.7" y="527.1" width="7" height="2.6" rx="1.3" fill="#878787"/>
<rect x="550.7" y="518.3" width="7" height="2.6" rx="1.3" fill="#878787"/>
<rect x="550.7" y="511.5" width="7" height="2.6" rx="1.3" fill="#878787"/>
<rect x="550.7" y="505.9" width="7" height="2.6" rx="1.3" fill="#878787"/>
<rect x="550.7" y="501.2" width="7" height="2.6" rx="1.3" fill="#878787"/>
<rect x="550.7" y="497.1" width="7" height="2.6" rx="1.3" fill="#878787"/>
<rect x="550.7" y="493.5" width="7" height="2.6" rx="1.3" fill="#878787"/>
<rect x="550.7" y="490.3" width="7" height="2.6" rx="1.3" fill="#878787"/>
<rect x="579.4" y="560.7" width="7" height="2.6" rx="1.3" fill="#878787"/>
<rect x="579.4" y="539.5" width="7" height="2.6" rx="1.3" fill="#878787"/>
<rect x="579.4" y="527.1" width="7" height="2.6" rx="1.3" fill="#878787"/>
<rect x="579.4" y="518.3" width="7" height="2.6" rx="1.3" fill="#878787"/>
<rect x="579.4" y="511.5" width="7" height="2.6" rx="1.3" fill="#878787"/>
<rect x="579.4" y="505.9" width="7" height="2.6" rx="1.3" fill="#878787"/>
<rect x="579.4" y="501.2" width="7" height="2.6" rx="1.3" fill="#878787"/>
<rect x="579.4" y="497.1" width="7" height="2.6" rx="1.3" fill="#878787"/>
<rect x="579.4" y="493.5" width="7" height="2.6" rx="1.3" fill="#878787"/>
<rect x="607.7" y="560.7" width="7" height="2.6" rx="1.3" fill="#878787"/>
<rect x="607.7" y="539.5" width="7" height="2.6" rx="1.3" fill="#878787"/>
<rect x="607.7" y="527.1" width="7" height="2.6" rx="1.3" fill="#878787"/>
<rect x="607.7" y="518.3" width="7" height="2.6" rx="1.3" fill="#878787"/>
<rect x="607.7" y="511.5" width="7" height="2.6" rx="1.3" fill="#878787"/>
<rect x="607.7" y="505.9" width="7" height="2.6" rx="1.3" fill="#878787"/>
<rect x="607.7" y="501.2" width="7" height="2.6" rx="1.3" fill="#878787"/>
<rect x="607.7" y="497.1" width="7" height="2.6" rx="1.3" fill="#878787"/>
<rect x="607.7" y="493.5" width="7" height="2.6" rx="1.3" fill="#878787"/>
<rect x="636.3" y="560.7" width="7" height="2.6" rx="1.3" fill="#878787"/>
<rect x="636.3" y="539.5" width="7" height="2.6" rx="1.3" fill="#878787"/>
<rect x="636.3" y="527.1" width="7" height="2.6" rx="1.3" fill="#878787"/>
<rect x="636.3" y="518.3" width="7" height="2.6" rx="1.3" fill="#878787"/>
<rect x="636.3" y="511.5" width="7" height="2.6" rx="1.3" fill="#878787"/>
<rect x="636.3" y="505.9" width="7" height="2.6" rx="1.3" fill="#878787"/>
<rect x="636.3" y="501.2" width="7" height="2.6" rx="1.3" fill="#878787"/>
<rect x="636.3" y="497.1" width="7" height="2.6" rx="1.3" fill="#878787"/>
<rect x="664.2" y="560.7" width="7" height="2.6" rx="1.3" fill="#878787"/>
<rect x="664.2" y="539.5" width="7" height="2.6" rx="1.3" fill="#878787"/>
<rect x="664.2" y="527.1" width="7" height="2.6" rx="1.3" fill="#878787"/>
<rect x="664.2" y="518.3" width="7" height="2.6" rx="1.3" fill="#878787"/>
<rect x="664.2" y="511.5" width="7" height="2.6" rx="1.3" fill="#878787"/>
<rect x="664.2" y="505.9" width="7" height="2.6" rx="1.3" fill="#878787"/>
<rect x="664.2" y="501.2" width="7" height="2.6" rx="1.3" fill="#878787"/>
<rect x="664.2" y="497.1" width="7" height="2.6" rx="1.3" fill="#878787"/>
<path transform="scale(.1)" fill="none" stroke="#878787" stroke-width="28" stroke-linecap="round" stroke-opacity="0.72" d="M4990 3023h0m-878-10h0m2301 80h0m-1418-12h0m-306 15h0m1967 59h0m46 29h0m-12-21h0m-293-1h0m-1703 40h0m16 9h0m1683 15h0m3-6h0m291 51h0m-305 1h0m-285-11h0m-836 13h0m-591-18h0m-259 60h0m288-5h0m274-21h0m9 19h0m273-26h0m7 13h0m7 9h0m1135 9h0m289-15h0m-1124 59h0m-12-1h0m-5-2h0m-280-24h0m0-9h0m-1152 63h0m1141-4h0m6 2h0m242 14h0m16-4h0m1-19h0m0 21h0m4-2h0m0-18h0m4 17h0m13 7h0m3-21h0m4 19h0m4-12h0m16-5h0m801 46h0m-551-26h0m-247 6h0m-18-1h0m-286 11h0m-303 11h0m-269 3h0m-17-23h0m-535 5h0m-39 17h0m-281 35h0m274-14h0m3 23h0m5 3h0m20-21h0m3 1h0m4 21h0m10-36h0m538 11h0m0-6h0m9 21h0m260-9h0m302 3h0m1-1h0m5 6h0m262-20h0m2 25h0m1-22h0m14 21h0m6-4h0m5-4h0m15 5h0m7-3h0m803-13h0m33 2h0m278 15h0m-278 19h0m-289 11h0m-18 9h0m-13-21h0m-267 23h0m-256-10h0m-7 9h0m-15-20h0m-2 14h0m0 6h0m-3 9h0m0-28h0m-6 30h0m-3-6h0m0-5h0m-3-19h0m-1-6h0m-9 23h0m-243-8h0m-19 6h0m-8 14h0m-3 1h0m-249-3h0m-30-5h0m-276 5h0m-543-28h0m-3 5h0m-14 19h0m-28-27h0m-8 68h0m6-22h0m12 13h0m14-6h0m2-16h0m7-1h0m0 9h0m545 15h0m37-11h0m253 7h0m7 1h0m284 8h0m0 0h0m267-24h0m1-5h0m15 21h0m29 4h0m6 14h0m517-23h0m6-3h0m307-1h0m0 9h0m-25 55h0m-816-21h0m-2-12h0m-11 13h0m-10-14h0m-2 1h0m-4-2h0m-23 24h0m-13 11h0m-236-1h0m-32-2h0m-9 6h0m-259-4h0m-5 2h0m-818 1h0m-11-22h0m-2 14h0m-10-19h0m-5 3h0m-14 3h0m0 19h0m-2-13h0m-11-14h0m-231 54h0m233-7h0m1 22h0m14-6h0m4-26h0m2 15h0m5 12h0m4 0h0m5 4h0m12-36h0m3 7h0m17 7h0m534 8h0m249-9h0m6 22h0m18-13h0m27-23h0m231 12h0m20-2h0m274 18h0m8-25h0m1 5h0m0 22h0m6-24h0m0 15h0m10 2h0m16-22h0m252 7h0m18 22h0m12-30h0m274 29h0m2 1h0m20-9h0m258-12h0m8 2h0m249 22h0m18-20h0m1-8h0m34 44h0m-277-8h0m-35 6h0m-260 1h0m-31 29h0m-246-6h0m-300 5h0m-8 1h0m-2-36h0m-1 0h0m-8 18h0m-5-3h0m-29-10h0m-245 21h0m-4-15h0m-3-3h0m-588 28h0m-530-34h0m-13 10h0m-7-7h0m-5 17h0m-14 2h0m-5-1h0m-11-15h0m0 14h0m4 50h0m7-16h0m6 18h0m10-26h0m15 4h0m5 13h0m3 6h0m16-6h0m16-11h0m537-1h0m293 5h0m16-8h0m227 6h0m33 7h0m260 4h0m9 1h0m1-25h0m2 8h0m11 10h0m1-11h0m4 23h0m2-21h0m10-4h0m0 14h0m522-22h0m35 17h0m277 11h0m15-17h0m253 31h0m-19 35h0m-228-9h0m-28-12h0m-1 10h0m-1 3h0m-6-15h0m-14 17h0m-6-15h0m-3 0h0m-553-1h0m-226 1h0m-41 12h0m-41 6h0m-230-10h0m-29 12h0m-1-21h0m-253-6h0m-14-6h0m-15 8h0m-291 14h0m-512 2h0m-9-16h0m-9-11h0m-10 21h0m0-13h0m-3 2h0m-18 18h0m-4-10h0m-6 9h0m-233 8h0m-42 11h0m257 2h0m3 10h0m11 0h0m10 17h0m2-20h0m8 10h0m2 7h0m0-23h0m1 11h0m14-1h0m13-5h0m5-10h0m2 4h0m530-9h0m14 9h0m296-1h0m270 7h0m2-11h0m15 29h0m5-20h0m250 15h0m2-1h0m3-5h0m1 8h0m2 7h0m1-16h0m7 7h0m1 11h0m14-39h0m7 11h0m258 9h0m268 10h0m269-27h0m2 18h0m2 4h0m9-26h0m3 21h0m299 10h0m-32 14h0m-252-3h0m-8 24h0m-7-24h0m-14 20h0m-7-15h0m-244 23h0m-3-18h0m-1 8h0m-24 5h0m-2-1h0m-13-11h0m-512 7h0m-4 2h0m-17 17h0m-263-30h0m-21 0h0m-1 10h0m-305 16h0m-247 4h0m-3 0h0m-18-11h0m-526 11h0m-11 1h0m0-2h0m-10-10h0m-7 1h0m-1-20h0m-2 24h0m-1-14h0m-6 4h0m-16 9h0m-20-8h0m-1 5h0m-5-13h0m0 27h0m9-2h0m2 29h0m6-13h0m7 9h0m4-24h0m13 7h0m8 6h0m8-7h0m3 19h0m1 8h0m2-29h0m2 16h0m813-22h0m19 40h0m1-18h0m266-20h0m8 35h0m251-3h0m13 5h0m43-6h0m7-16h0m17-6h0m512-2h0m17 7h0m19 23h0m15-13h0m243-17h0m11 21h0m2 6h0m5-22h0m8 9h0m9-16h0m245 22h0m55 29h0m-50 20h0m-13-31h0m-24 27h0m-213-13h0m-6-8h0m-18 23h0m-10 4h0m-33-3h0m-220-5h0m-3-1h0m-7-4h0m-5-25h0m-36 21h0m-502-17h0m-10 0h0m-1-4h0m-6 38h0m-3-33h0m-1 27h0m-3 4h0m-26-33h0m-8 5h0m-19 16h0m-245-14h0m-4-8h0m-1-3h0m-13 1h0m-260 2h0m-31 34h0m-242-16h0m-14-12h0m-549 13h0m-2 1h0m-5-15h0m-8-2h0m0-1h0m-5 19h0m-4-4h0m-5-13h0m-5 8h0m0 19h0m-3-4h0m-5 2h0m-2-13h0m-11-9h0m1 40h0m2 7h0m2-9h0m8 21h0m11-18h0m1 18h0m6 10h0m3-30h0m16 1h0m9 7h0m543 13h0m7-14h0m6 18h0m248-22h0m2 9h0m9 16h0m1-6h0m10-13h0m38-16h0m230-2h0m0 9h0m10-2h0m2 21h0m1-29h0m6 23h0m25 8h0m212-3h0m16-22h0m10-2h0m25 25h0m4-17h0m0-3h0m4 10h0m3-4h0m259 16h0m39-21h0m221 26h0m8-17h0m16 1h0m31-18h0m2 38h0m1-9h0m239-26h0m12 23h0m7-16h0m9 0h0m7-8h0m32 6h0m189 14h0m0-18h0m9 17h0m12 6h0m5-21h0m7 23h0m30 5h0m12-32h0m10 9h0m4 21h0m-25 35h0m-18 10h0m-9-22h0m-3 1h0m0 19h0m-1-18h0m-4 16h0m-231 3h0m-21-8h0m-8-4h0m-1-15h0m-6 19h0m-27-8h0m-239 13h0m-9-12h0m-283 10h0m-253-4h0m-12 9h0m-9-29h0m-21 22h0m-1-26h0m0-5h0m-7 9h0m-8 13h0m-13-11h0m-3 19h0m-217 9h0m-280-34h0m-15 12h0m-14-16h0m-14 26h0m-2-4h0m-1-2h0m-281 7h0m-7-25h0m-3 10h0m-2 15h0m-2-5h0m-517-18h0m-25 13h0m-10-2h0m0 9h0m0-15h0m-4 4h0m-2-5h0m-2 8h0m-9-11h0m-1 25h0m-13-1h0m-5-11h0m-5 11h0m-203-20h0m-32-6h0m-1 15h0m-14-13h0m14 54h0m34-14h0m197 31h0m26-18h0m2 12h0m14-23h0m0 7h0m4-3h0m1 12h0m2 13h0m0-26h0m1 11h0m13-15h0m13 15h0m515-14h0m2 20h0m16-8h0m6 17h0m4-32h0m247-5h0m40 27h0m17-9h0m252 12h0m7-21h0m2 21h0m1-16h0m12-9h0m12-5h0m232 37h0m8-28h0m8 20h0m0 4h0m7 4h0m4-10h0m4 11h0m7-28h0m10-1h0m6 28h0m6-17h0m4 16h0m228-25h0m20 4h0m25 16h0m236-5h0m13 14h0m7-39h0m13 17h0m19-3h0m227-12h0m14 20h0m0 14h0m1-23h0m5 19h0m6-5h0m1 10h0m18 0h0m17-30h0m224 13h0m6 18h0m33-15h0m5-8h0m15 18h0m1-33h0m-15 43h0m-13-3h0m-9 25h0m0-20h0m-1 21h0m-17 2h0m-246-8h0m-2 17h0m-6-29h0m-9 2h0m-1-4h0m-4 20h0m-1-18h0m-246 15h0m-8-13h0m-9 20h0m-20-11h0m-8 16h0m-1-2h0m-276-17h0m0 17h0m-6-14h0m-245-11h0m-7 3h0m-32-10h0m0 0h0m-14 20h0m-11 14h0m-208-19h0m-17 17h0m-13-29h0m-5 2h0m-18 4h0m-4-3h0m-275-6h0m-242 25h0m-3-4h0m-21-9h0m-10-6h0m0 30h0m-5-30h0m-10 5h0m-269 1h0m-240-11h0m-25 37h0m-11-21h0m-3-19h0m-1 3h0m-2 9h0m-6 7h0m-6-11h0m-20-1h0m-3 31h0m-3-32h0m5 66h0m2-4h0m25-7h0m2-12h0m7 25h0m5-12h0m4 15h0m5-18h0m5 19h0m16-11h0m498-15h0m10 25h0m3-4h0m3-28h0m9-1h0m3 18h0m36-20h0m6 31h0m228 1h0m11-12h0m5-9h0m9 17h0m245-27h0m29-1h0m3 13h0m4 1h0m7 6h0m16 8h0m6-15h0m4 14h0m7-21h0m214-1h0m16-4h0m19 15h0m5 18h0m13-13h0m18 0h0m201 0h0m19-7h0m14 17h0m28-24h0m7-1h0m12 21h0m214-26h0m7-1h0m66 11h0m1-6h0m215 3h0m12-2h0m248-7h0m24 23h0m10-13h0m13 12h0m2-17h0m23 25h0m14-18h0m0 3h0m4 39h0m-12-1h0m-6 14h0m-14-22h0m-3-3h0m-9 16h0m-3 5h0m-7-15h0m-1 29h0m-1-27h0m-7-2h0m-2-5h0m-8 28h0m-1-13h0m-12 0h0m-205 7h0m-1-17h0m-24-2h0m-11 18h0m-5-6h0m-2-4h0m-2-8h0m-12 23h0m-297-10h0m-217 1h0m-38 0h0m-5-16h0m0-5h0m-7 28h0m-248-1h0m-6 7h0m-8 3h0m-1-12h0m-1-14h0m-1 0h0m-6 24h0m-9-22h0m-2 2h0m0-13h0m-27 37h0m-1-13h0m-5 8h0m-227 2h0m-11-26h0m-29-9h0m-237 9h0m-11 24h0m-244-3h0m-30-12h0m-17 21h0m-1-4h0m-2-16h0m0-16h0m-17 22h0m-22-15h0m-485 2h0m-11-5h0m-15 18h0m-9 6h0m0-13h0m0-10h0m-1 16h0m-7-22h0m-2 13h0m-1-13h0m-1 25h0m-20-3h0m-6-24h0m-6 25h0m-3 11h0m-251 1h0m-11-33h0m-4 3h0m21 60h0m22-17h0m214 4h0m13 12h0m7 2h0m11-5h0m9-18h0m10 17h0m0-14h0m1 21h0m0-22h0m1 22h0m4-18h0m2 22h0m1-9h0m1-15h0m7-5h0m1 0h0m14 32h0m527-24h0m2-2h0m9 11h0m14 16h0m2-8h0m231-6h0m33-8h0m0 2h0m9-6h0m5 7h0m254 16h0m10-13h0m6-10h0m15 5h0m17-1h0m5-11h0m206 29h0m12 5h0m14-30h0m6 6h0m20 10h0m2-5h0m30 1h0m8-1h0m209 4h0m11-6h0m3-5h0m3 22h0m6-19h0m17 13h0m6-17h0m224 9h0m29-4h0m21 14h0m6-8h0m11 3h0m10 1h0m230-2h0m4 8h0m6-29h0m4 35h0m22-14h0m4-18h0m18 32h0m206-9h0m6-7h0m22-2h0m1-7h0m3-1h0m14 10h0m1 5h0m1-11h0m34-2h0m-14 32h0m-8 7h0m-31-4h0m-1 11h0m-4-10h0m-26 22h0m-211-2h0m-13-17h0m-3 24h0m-7-16h0m-3-9h0m-7-10h0m-13 7h0m-224 10h0m-21-9h0m-28 24h0m-237-26h0m-10-4h0m0 31h0m-16 3h0m-9-30h0m-5 26h0m-2-9h0m-13 11h0m-24-8h0m-244-12h0m-14 17h0m-3-5h0m-7-4h0m-228 4h0m-4-26h0m-20 21h0m-1-12h0m-3 12h0m-10-1h0m-30 12h0m-225-4h0m-273 7h0m-15-4h0m-5-21h0m-10-7h0m-4 32h0m-1-10h0m-4-12h0m-14 9h0m-18 14h0m-6-24h0m-222 11h0m-30 0h0m-14-26h0m-230 30h0m-6-29h0m-11 13h0m-2-3h0m-2 4h0m-4 20h0m-6-34h0m0 21h0m-8 6h0m-3 7h0m-5 4h0m-4-6h0m-1-4h0m-11-12h0m-23-4h0m-222 8h0m-2-17h0m-2 16h0m-7-3h0m-12 8h0m-5-3h0m-17 17h0m32 26h0m244-8h0m11 18h0m0-31h0m7-3h0m7 20h0m6 2h0m4 15h0m23-14h0m17 7h0m3-6h0m8-22h0m250 0h0m20 3h0m235-6h0m9 6h0m11-3h0m39 18h0m494 15h0m35-19h0m3-16h0m3 6h0m8 33h0m233-6h0m12-5h0m10 10h0m1-20h0m3-2h0m5-8h0m12 14h0m1-8h0m12 24h0m1-31h0m0-8h0m1 35h0m229-32h0m21 13h0m4 17h0m1-21h0m2 16h0m1 10h0m5-14h0m7-7h0m6 6h0m27-4h0m217 3h0m4-10h0m1 23h0m11-19h0m8-2h0m1 25h0m2-29h0m3 9h0m1-1h0m6 3h0m1-17h0m26 19h0m3 10h0m6-4h0m196-19h0m14 28h0m6-35h0m14 10h0m1-5h0m10 17h0m2 6h0m1-8h0m1 2h0m30 3h0m2-24h0m217 34h0m6-37h0m7 19h0m9 8h0m8-12h0m1 4h0m1 10h0m3-8h0m11 25h0m-18 17h0m-8-10h0m-255 2h0m0 19h0m-17-25h0m-10 29h0m-4-38h0m-10 39h0m0-8h0m-13-21h0m-214-9h0m-14 4h0m-16 22h0m-1-21h0m-24 11h0m-22 12h0m-199-1h0m-36-10h0m-4 11h0m-2-13h0m-1-6h0m-4 25h0m-12-15h0m-228-13h0m-21 6h0m-7-9h0m-6 3h0m-1 14h0m-3 17h0m-3-26h0m-8 25h0m-4-16h0m-251 0h0m-10-18h0m-3 6h0m-18 0h0m-31-6h0m-230 30h0m-34-4h0m-7-18h0m-7 16h0m-218-7h0m-13-8h0m-31 8h0m-5-3h0m-5 19h0m-3-15h0m-2 4h0m-16 6h0m-227 6h0m-1-31h0m-256 30h0m-1-14h0m-9-13h0m-13 29h0m-4-20h0m-8 7h0m-3-1h0m-6 4h0m-1-3h0m-10 2h0m-2-23h0m0 25h0m-7-22h0m-6 13h0m-11-3h0m-4-3h0m-229 4h0m-5-6h0m-7 18h0m-3-30h0m-10 33h0m25 7h0m1 1h0m218 19h0m23-16h0m7 15h0m0 5h0m8 9h0m10-14h0m3-18h0m4 15h0m8 8h0m0-1h0m7-24h0m228 27h0m57 5h0m240-3h0m9-20h0m6 20h0m7 4h0m7-27h0m12 1h0m245 20h0m16 0h0m278-12h0m16 21h0m9-5h0m223-4h0m1-3h0m54-19h0m246 28h0m25-19h0m1-2h0m3 21h0m7-25h0m4 20h0m10 1h0m10 5h0m214-23h0m19 28h0m1-28h0m13-9h0m4 2h0m4 8h0m4 2h0m3-3h0m15 13h0m1-13h0m5 16h0m5-3h0m238 16h0m2-4h0m14 0h0m12-35h0m236 38h0m5-17h0m4-11h0m11 27h0m4 2h0m4-29h0m13-8h0m1 26h0m5 3h0m7-27h0m25 2h0m-7 36h0m-22 25h0m-1-25h0m-6 11h0m-21-8h0m-2 11h0m-26-15h0m-1 22h0m-210 9h0m-10-9h0m-4 12h0m-7-3h0m-5-8h0m-3-17h0m-15 21h0m-248 10h0m-12-32h0m-270 15h0m-28 18h0m-15-11h0m-8-24h0m-223 5h0m-11 7h0m-5 19h0m-6-10h0m-31 10h0m-227-32h0m-9 0h0m-6 17h0m-8 11h0m-6-9h0m-2-19h0m-18 21h0m-27 5h0m-8-20h0m-231-4h0m-25 7h0m-239-12h0m-20 23h0m-11 5h0m-2-25h0m-3 21h0m-12 1h0m-3-3h0m-21-22h0m-221-1h0m-279 13h0m-4 3h0m-65 1h0m0-15h0m-195 21h0m-13-17h0m-23 18h0m-50 49h0m32-20h0m17 0h0m2-4h0m7 21h0m532-2h0m11 3h0m4-9h0m269 0h0m11 12h0m2-2h0m1-4h0m3-12h0m2-12h0m14 32h0m3-36h0m24 24h0m231 6h0m5-26h0m18 32h0m4-11h0m232 11h0m4-19h0m15-16h0m37 15h0m249-8h0m4 23h0m0 0h0m7 1h0m14-30h0m3 10h0m0 5h0m8-3h0m3 26h0m236-21h0m7-11h0m6 6h0m22-12h0m28 4h0m240 3h0m5 23h0m6 4h0m10-18h0m17-13h0m15-5h0m222 31h0m12-9h0m5 9h0m8 2h0m5-4h0m1-22h0m232 21h0m12-3h0m14-23h0m10 22h0m2-23h0m6 19h0m20-2h0m-21 34h0m-13 12h0m-1 8h0m-4 2h0m-237-14h0m-19 16h0m-10 0h0m-4-35h0m0 7h0m-20 2h0m-10-9h0m-3 14h0m-229 2h0m-5 11h0m-1-26h0m-5 35h0m-2-10h0m-27-3h0m-245 2h0m-3-26h0m-15 39h0m-10-24h0m-266 1h0m-8 21h0m-2-4h0m-15-7h0m-4-5h0m-5-13h0m-9 18h0m-8 8h0m-206-24h0m-19 14h0m-5-19h0m-4 26h0m-13-7h0m-5 16h0m-5-30h0m-16-9h0m-7 15h0m-234-7h0m0-2h0m-3 7h0m-8-14h0m-3 16h0m-23 21h0m-217-25h0m-20 3h0m-2 17h0m-44 6h0m-804-13h0m-39-22h0m-10 43h0m14 14h0m33-15h0m514 5h0m17 22h0m3-3h0m17-11h0m258-10h0m0 20h0m4 5h0m21 5h0m13-14h0m234 6h0m8-9h0m3-13h0m13 18h0m4-9h0m263 6h0m4-23h0m13 5h0m19-5h0m2 17h0m229 4h0m1 2h0m17-5h0m1-11h0m17 14h0m2-8h0m4 0h0m9 10h0m3 8h0m268-10h0m2-8h0m4-5h0m0 26h0m0 5h0m7-1h0m9-2h0m17-30h0m238 3h0m17 25h0m14-2h0m228-23h0m10 10h0m9-18h0m0 14h0m10-5h0m4-4h0m1 13h0m5-12h0m5 29h0m9-5h0m7-28h0m21 7h0m189-2h0m19 8h0m10 5h0m9-5h0m10 6h0m4-14h0m4 4h0m7-10h0m6 3h0m-38 49h0m-220 17h0m0-12h0m-13 11h0m-5 9h0m-6-12h0m-7-3h0m-16 8h0m-1-22h0m-2 13h0m-6-9h0m-5-5h0m-2 30h0m-241-1h0m-15-37h0m-5 12h0m-8 12h0m-3 6h0m-4-9h0m-2-12h0m-19 5h0m-237 5h0m-11-6h0m-1 19h0m-4-5h0m-6 8h0m-9-35h0m-2 8h0m-8 4h0m-246-12h0m0 6h0m-10 0h0m-11 21h0m0 5h0m-3-21h0m-2 9h0m0 9h0m-2-16h0m-1 14h0m-5-14h0m-1 15h0m-5 2h0m-25-23h0m-191 10h0m-20 20h0m-1-28h0m-12 15h0m-5 11h0m-1-20h0m-2 8h0m0 10h0m-1-19h0m-11 15h0m-5-2h0m-1 7h0m-9-19h0m-19-9h0m-239 24h0m-6-6h0m-3 7h0m-22 1h0m-4-26h0m-6 15h0m-226-13h0m-1-1h0m-28 11h0m-17-3h0m-9 6h0m-232-18h0m-28 25h0m-7-22h0m-8 20h0m-3-3h0m-8 5h0m-519-1h0m-2 1h0m-28-15h0m-25 25h0m9 23h0m45-19h0m4 4h0m6 6h0m526 1h0m33 6h0m258-13h0m1 20h0m18 12h0m0 0h0m22-15h0m0-15h0m1-4h0m18 21h0m232-15h0m0 7h0m10 13h0m2-19h0m16 8h0m13 4h0m229-12h0m12 24h0m1-32h0m2 1h0m11 12h0m2 9h0m10-16h0m20 3h0m224 14h0m5-2h0m3-20h0m26 27h0m4-16h0m18-5h0m2 22h0m216-11h0m13 4h0m1-2h0m1-14h0m12 3h0m10 11h0m23 5h0m2-13h0m228 15h0m3-10h0m4 4h0m13 3h0m6-25h0m0 5h0m4 15h0m2-19h0m2 24h0m2 2h0m18 8h0m232-16h0m7 9h0m3-13h0m1-17h0m1 36h0m8-13h0m2-3h0m2-20h0m14 21h0m17-14h0m4 4h0m14-4h0m217 10h0m0 4h0m1 17h0m1-32h0m9 17h0m1 10h0m13 6h0m24-6h0m6 9h0m-53 10h0m-18-1h0m-201 12h0m-37 11h0m-3-20h0m0-9h0m-4 20h0m-1-17h0m-13 10h0m-245-5h0m-16 10h0m-10 14h0m-12-16h0m-35-8h0m-210-4h0m-6 29h0m-10-9h0m-1-11h0m-8-16h0m-10 19h0m-4 11h0m-2-27h0m-6 25h0m-12 6h0m-247-6h0m-12-6h0m-7 5h0m-9-29h0m-27 7h0m-199 11h0m-2-18h0m-6 36h0m-19-29h0m-10-1h0m-15 15h0m0-20h0m0-2h0m-4 7h0m-251 12h0m-24 8h0m-3-7h0m-5-2h0m-11 7h0m-213-1h0m-26 4h0m-4-11h0m-8-15h0m0 22h0m-12-1h0m-5 1h0m-14 15h0m-2-38h0m-251 24h0m-1 6h0m-45-23h0m-481 20h0m-15 11h0m-11-15h0m-26 5h0m-1 10h0m-2-1h0m-10-14h0m0 3h0m-1-18h0m-20 13h0m22 31h0m10 18h0m532-30h0m51 18h0m253 3h0m15-2h0m1-3h0m3-2h0m3 0h0m3 6h0m11 1h0m4 4h0m11-19h0m6 31h0m1 2h0m238-38h0m250 17h0m39-5h0m7 5h0m1 7h0m1-22h0m5 16h0m229 3h0m53 3h0m5-6h0m237 18h0m9-28h0m2 26h0m18-9h0m12 13h0m8-18h0m3-11h0m3-6h0m2 30h0m13-4h0m238-17h0m1 15h0m2-29h0m7 16h0m3 8h0m0 5h0m5-11h0m8 8h0m3-7h0m8 20h0m1-8h0m2-18h0m217-13h0m31 25h0m10-6h0m1-18h0m6 20h0m4 17h0m17-22h0m221-15h0m4 24h0m5 9h0m0-1h0m1-27h0m8 25h0m9-13h0m14-7h0m0 8h0m2 14h0m3-22h0m15 28h0m2 34h0m-28-17h0m-4 11h0m-8-9h0m-14 15h0m-19-27h0m-226 31h0m-10-14h0m-5-10h0m0-7h0m-24-3h0m-10 22h0m-203 11h0m-4-17h0m-3 6h0m-26-5h0m-7-9h0m-9-1h0m-26-4h0m-1 19h0m-215-11h0m-8 24h0m-12-20h0m-14 17h0m0 4h0m-27-13h0m-6-6h0m-15-9h0m-222-4h0m-42 28h0m-8-15h0m-243 14h0m-14 4h0m-4-17h0m-4 2h0m-2-13h0m-1 17h0m-2 5h0m0-16h0m0 20h0m-26-1h0m-3-28h0m-226 20h0m-9-24h0m-6 26h0m-243-3h0m-1-7h0m-17-15h0m-24 31h0m-303-32h0m-515 11h0m-9 9h0m-3 3h0m-1 5h0m-12 6h0m-12-11h0m-12 20h0m8-6h0m4 33h0m32-31h0m10 9h0m512 14h0m0-12h0m4 2h0m17-3h0m14 14h0m6-12h0m8-14h0m251 32h0m2 1h0m13 5h0m6-7h0m8-13h0m225 20h0m14-29h0m25 17h0m15 7h0m9 2h0m232-20h0m0 6h0m13 7h0m4 10h0m16-24h0m30 25h0m5-21h0m200-2h0m17 20h0m5-20h0m5 23h0m6-9h0m17-16h0m9 13h0m27-17h0m215 24h0m13 1h0m24-1h0m7-17h0m3-14h0m247 16h0m4 8h0m9-5h0m9 12h0m2 2h0m7 1h0m22-18h0m221 8h0m1-3h0m0-23h0m5 22h0m2 13h0m4-19h0m4 9h0m13 12h0m2-24h0m4 5h0m0-5h0m8 7h0m16 6h0m2-9h0m2-1h0m1-10h0m2 2h0m1 6h0m231 8h0m8-17h0m1 13h0m8 9h0m25-19h0m-16 64h0m-2-27h0m-10 16h0m-5-3h0m-2 0h0m-4-3h0m-8 12h0m-23 9h0m-10-2h0m-208-25h0m-4 29h0m-13-19h0m-8-12h0m-10 10h0m-14-11h0m-266 27h0m-13-16h0m-9-15h0m-230 17h0m-1 3h0m-18-23h0m-1 23h0m-14 0h0m-7-3h0m-1-15h0m-17 29h0m-210 2h0m-16-5h0m-6-11h0m-2-2h0m-6 20h0m-8-19h0m-6 1h0m-13-14h0m-10 13h0m-3-14h0m-7-1h0m-11 32h0m-198-4h0m-8-5h0m-6-10h0m-5 15h0m-32-5h0m-2 0h0m-5-14h0m-1-6h0m-238 18h0m-17-3h0m-9-18h0m-265 33h0m-3-33h0m-8-3h0m-9 16h0m-5-1h0m-2 8h0m-14-20h0m-4 22h0m-249 13h0m-2-10h0m0-11h0m-26 7h0m-533 14h0m-10-18h0m-7 8h0m-9 8h0m-2-20h0m-11 45h0m33-1h0m12 10h0m11-28h0m509 35h0m47-37h0m0 36h0m241 0h0m9-19h0m4 15h0m7-13h0m4-2h0m8 19h0m229-26h0m25 12h0m21-6h0m281-9h0m2 31h0m5-16h0m18 11h0m17 1h0m193 5h0m22-36h0m15 33h0m4-34h0m0-1h0m2 3h0m0 6h0m10 25h0m274-3h0m1-29h0m17 2h0m7 9h0m4-9h0m217 34h0m26-21h0m1-17h0m8 9h0m0 23h0m24-7h0m29-10h0m228 11h0m4-9h0m6 18h0m13-18h0m1-1h0m4 9h0m225 9h0m22-34h0m21 5h0m10 32h0m10-26h0m18 11h0m3-17h0m0 32h0m0 30h0m-24 6h0m-21-11h0m-2 13h0m-16-4h0m-4-31h0m-253 35h0m-1-17h0m-5 11h0m-11-17h0m-273 20h0m-2-21h0m-3 14h0m-9-15h0m-23 9h0m-209-2h0m-19-3h0m-5 12h0m-46 12h0m-208-39h0m-1 20h0m-28-19h0m-8 3h0m-16 3h0m-18 2h0m-4 16h0m-11-20h0m-199 27h0m-1-28h0m-1 26h0m-16-23h0m-15 22h0m-12-22h0m-3 6h0m-4 19h0m-2-33h0m-4 24h0m-1-21h0m-4 11h0m-241 7h0m-11 6h0m-7 6h0m-11-5h0m-4-7h0m-10-6h0m-240 20h0m-23-32h0m-12 20h0m-1 10h0m-268-2h0m-11-19h0m-7-2h0m-3 1h0m-560 2h0m-34-9h0m50 56h0m28-9h0m486-5h0m37-1h0m26-5h0m261 23h0m2-3h0m10-16h0m2 18h0m1-14h0m4 20h0m273-26h0m20 6h0m16 4h0m234-1h0m7-11h0m8 6h0m258 6h0m4 8h0m49-20h0m233 5h0m18 1h0m2 24h0m0 6h0m4-2h0m18 2h0m26-27h0m209 9h0m0-10h0m31 20h0m10 3h0m14-11h0m5-5h0m226 11h0m26 13h0m0-19h0m4 7h0m12 9h0m1-14h0m4-2h0m0 19h0m6-17h0m13 16h0m224-35h0m0 11h0m6 5h0m3-1h0m2 11h0m49 28h0m-29 11h0m-3-22h0m-15 10h0m-1 0h0m-2-12h0m-26 13h0m-217 10h0m-4 5h0m0-8h0m-16-20h0m-7 29h0m-10-4h0m-530-25h0m-56 3h0m-803 4h0m-6 4h0m-24 24h0m-273-15h0m-50-2h0m-824-6h0m1109 34h0m37-9h0m1 14h0m10-4h0m1 0h0m19 7h0m20 10h0m0 23h0m-11 9h0m-45-18h0m-8 6h0m-8 27h0m33 15h0m6-2h0m19 15h0m8-1h0m-1 29h0m-40-5h0m-6 12h0m-36-16h0"/>
<path transform="scale(.1)" fill="none" stroke="#878787" stroke-width="28" stroke-linecap="round" stroke-opacity="0.72" d="M6684 3014h0m-1703 9h0m-279 8h0m273 39h0m16 6h0m1701 34h0m-1718-8h0m-9-9h0m-848 34h0m561 18h0m1731-10h0m-5 49h0m-561 9h0m-860-17h0m-296 40h0m560 1h0m10 22h0m14-24h0m859-10h0m558 7h0m9 67h0m-2-30h0m-4 22h0m-575-25h0m-8 14h0m-1128-8h0m0 5h0m-16 4h0m-279 39h0m290 14h0m285-16h0m855-7h0m588 30h0m-9 38h0m-23-28h0m-15-10h0m-556 28h0m-535-8h0m-15 3h0m-3-4h0m-3-5h0m-260 6h0m-20 14h0m-311-24h0m-242 16h0m-2-6h0m-603 3h0m-277 37h0m290 17h0m16 0h0m832-16h0m2 11h0m1417-9h0m317 29h0m-41 5h0m-277 8h0m-270 8h0m-287 1h0m-4-21h0m-1-3h0m-245 27h0m-6-16h0m-5-17h0m-4 9h0m-27 23h0m-2-14h0m-1-19h0m-7 7h0m-2 28h0m-252-14h0m-14-15h0m-274 3h0m-1-11h0m-851 33h0m-280 26h0m244 12h0m12-8h0m23 4h0m8-3h0m0-9h0m256 13h0m571 8h0m13-13h0m14-4h0m253-11h0m19 25h0m3-26h0m0 29h0m244-22h0m16 8h0m0-18h0m6 20h0m4-9h0m7 19h0m2-31h0m1 15h0m556-9h0m24-4h0m267 23h0m8-28h0m13 21h0m254 0h0m10 17h0m-303 24h0m-278-10h0m-544 11h0m-4-19h0m-2 7h0m-8 1h0m-5 26h0m0-22h0m0 19h0m-8-12h0m-7-13h0m-532 11h0m-571-16h0m-311 4h0m-14 23h0m-219 10h0m242 33h0m4 0h0m2-25h0m9 13h0m5-18h0m4 2h0m6 12h0m1108 6h0m24-18h0m227 0h0m1 2h0m20 0h0m1-6h0m6 24h0m5-13h0m4-5h0m4 0h0m11-10h0m4 22h0m19 0h0m231-2h0m13 15h0m296-30h0m575 59h0m-11-2h0m-257 7h0m-13-7h0m-16-15h0m-16 22h0m-817-6h0m-3-1h0m-2-22h0m-10 30h0m-3-29h0m-17-1h0m-268 36h0m-10-35h0m-243 32h0m-8-12h0m-308-10h0m-536-3h0m-17 29h0m-10-7h0m-5-10h0m-3-5h0m0 8h0m-3-2h0m-10-10h0m-1-3h0m-4 9h0m-25 36h0m2 10h0m9-3h0m13 0h0m9 8h0m8 2h0m11 1h0m13-26h0m560 9h0m535 1h0m33-11h0m17 16h0m221-21h0m4 15h0m4 7h0m1 12h0m2-19h0m3 8h0m4-14h0m14 19h0m12 0h0m0-20h0m5 30h0m555-3h0m266-11h0m7-8h0m0-14h0m9 32h0m32-19h0m242-1h0m38 4h0m-15 31h0m-263 26h0m-24 2h0m-12-20h0m-10 10h0m-546 4h0m-10-23h0m-7 18h0m-12-1h0m-227 8h0m0 7h0m-9-4h0m-8-6h0m-22-22h0m-2 15h0m-5-13h0m-6-9h0m-18 8h0m-230 20h0m-18 5h0m-21-31h0m-835 19h0m-248 8h0m-24-24h0m-6 3h0m-1 22h0m-1-10h0m-1-20h0m-16 29h0m-1-10h0m-7-13h0m-10-2h0m-281 10h0m280 50h0m7-17h0m1 2h0m1 30h0m17-23h0m14-3h0m3 23h0m14-5h0m2-16h0m8 15h0m531-1h0m13-14h0m265-12h0m4 27h0m291-10h0m2-2h0m237 3h0m4-21h0m20-1h0m0 21h0m19-12h0m19 13h0m4-3h0m236-17h0m306 35h0m306-13h0m260-22h0m11 13h0m28 55h0m-32-5h0m-256-2h0m-17-7h0m-14 1h0m-1 6h0m-9-11h0m-13 25h0m-284-3h0m-268-15h0m-13-4h0m-230 19h0m-33-11h0m-13 9h0m0 7h0m-8-39h0m-1 26h0m-22-1h0m-220-7h0m-17-1h0m-15 5h0m-19-20h0m-258 37h0m-254-23h0m-27 13h0m-4 11h0m-3-31h0m-2 24h0m-521-10h0m-1 15h0m-13-17h0m-8-9h0m0 2h0m-2 9h0m-20 16h0m-1-39h0m-3 19h0m-2-6h0m-5-6h0m-2 19h0m-3-20h0m0 25h0m-18-10h0m25 21h0m2 18h0m2 2h0m3 4h0m8-3h0m11 10h0m5-9h0m4-5h0m18 17h0m521-26h0m17-1h0m0 14h0m522 5h0m33-15h0m7 22h0m7-14h0m243-1h0m8 8h0m1 0h0m12-5h0m11-5h0m8-14h0m4 22h0m1-21h0m7 13h0m20 4h0m233 6h0m9 4h0m544-8h0m16-15h0m9-3h0m1 25h0m272-31h0m3 29h0m10-27h0m24 59h0m-12-11h0m-20 9h0m-1 20h0m-18-28h0m-237 0h0m-15 25h0m-6-3h0m0-14h0m-24 10h0m-244 2h0m-13-13h0m-16 10h0m-1 4h0m-262-13h0m-251-16h0m-12 5h0m-2 13h0m-6-2h0m-21-6h0m-9 22h0m-2-12h0m-8-8h0m-12 8h0m-241-16h0m-5 7h0m-8-6h0m-8 8h0m-310 15h0m-224 4h0m-56-14h0m-518 2h0m-4 5h0m-11-2h0m-5-14h0m-3 28h0m-13-12h0m-10 28h0m8-13h0m4 4h0m1 29h0m3-18h0m1-6h0m6-11h0m2 0h0m2 36h0m3-12h0m3-3h0m0 10h0m1-9h0m12 9h0m556 6h0m8-16h0m1-19h0m255 25h0m1-27h0m260 28h0m29-14h0m11 10h0m250 4h0m10 2h0m10-2h0m9 5h0m15-29h0m20 22h0m281 0h0m249-8h0m6 18h0m252-9h0m8-16h0m13 14h0m4 6h0m1-19h0m17 1h0m12-3h0m10 23h0m251 4h0m12-36h0m13 43h0m-17 0h0m-12 23h0m-8 7h0m0-1h0m-245-29h0m-10 16h0m-5 5h0m-3-18h0m-16 2h0m-2 9h0m-16 2h0m-231-2h0m-16 13h0m-19-4h0m-7 3h0m-21 4h0m-519-11h0m-8 2h0m-1-15h0m-1 21h0m0-32h0m-12 35h0m-33-15h0m-224-15h0m-12 6h0m-5 9h0m-16 12h0m-15 4h0m-3-9h0m-232-16h0m-294 4h0m-4-13h0m-536 24h0m-17 8h0m-7-15h0m-8 17h0m-2-15h0m-3 10h0m-5-12h0m-15-4h0m-12 23h0m-3-36h0m-8 3h0m-226 31h0m230 18h0m3 25h0m5-25h0m1 22h0m22-14h0m12 13h0m10-25h0m2 15h0m14-1h0m244-16h0m281-2h0m3 25h0m1-3h0m19-8h0m7-2h0m0-15h0m12 5h0m250-1h0m270 2h0m2-1h0m44 21h0m236-12h0m2 15h0m18-13h0m7-2h0m18 15h0m261 5h0m17-29h0m223 2h0m21 27h0m35-37h0m8 6h0m248 24h0m4-16h0m5-8h0m267 33h0m4-14h0m4 11h0m2-5h0m1 1h0m9-30h0m1 33h0m5 27h0m-30 12h0m-229-16h0m-6 10h0m-20-13h0m-14 10h0m-2-13h0m-2 19h0m-5-8h0m0-1h0m-9-18h0m-1 3h0m-262 20h0m-11 1h0m-292-27h0m-215 37h0m-1-2h0m-20-35h0m-12 30h0m-10 5h0m-17-7h0m-229-24h0m-19 34h0m-1-22h0m-14 11h0m-2-17h0m-11 8h0m-13-5h0m-12 12h0m-266-19h0m-14-5h0m-220 3h0m-18-4h0m-575 38h0m-4-26h0m-2-11h0m-6 5h0m-8 20h0m-5-26h0m-10 30h0m-4-16h0m-6-14h0m0-1h0m-233 21h0m-6-6h0m-30 56h0m16-23h0m19-7h0m237 39h0m2-38h0m0 12h0m3 9h0m22 14h0m14 1h0m2-32h0m2 22h0m3-18h0m0 7h0m1-14h0m17 2h0m6 7h0m2 14h0m233-21h0m262 8h0m8-6h0m8 14h0m1-20h0m5 24h0m13-11h0m7 5h0m1 8h0m16 4h0m227-6h0m35-4h0m3 6h0m246-12h0m9-13h0m7 7h0m8 1h0m11 13h0m21-11h0m5-11h0m2 14h0m227 2h0m11-9h0m5 13h0m2 16h0m2-15h0m2-1h0m14 11h0m10-3h0m3 2h0m256-7h0m30 12h0m213-27h0m24 17h0m5-10h0m2-5h0m3 4h0m14-3h0m5-6h0m1 31h0m234-34h0m32 1h0m6 27h0m2-3h0m28-6h0m245 3h0m7 15h0m0-1h0m2-11h0m1-10h0m8 8h0m1-17h0m0 23h0m18 8h0m1-39h0m5 13h0m-6 46h0m-8 17h0m-15-34h0m-12 35h0m-239-31h0m-5 23h0m-12 0h0m-9-1h0m-2-26h0m-3 5h0m0-3h0m-48 9h0m-198 8h0m-23 4h0m-18 4h0m-11-16h0m-4 8h0m-31-14h0m-202 16h0m-12 5h0m-266-13h0m-21-5h0m-3 4h0m-16 6h0m-2-6h0m-6-9h0m-7 24h0m-231 6h0m-27-23h0m-2 0h0m-3 22h0m-1 4h0m-4-23h0m-9 24h0m-3 0h0m-1-31h0m-9 3h0m-1 20h0m0-4h0m-2-5h0m-16 15h0m-1-20h0m-255-3h0m-231 18h0m-11-24h0m-13-6h0m-3 17h0m-2 20h0m-27-9h0m-9-15h0m-17 24h0m-494-2h0m-13-23h0m0 5h0m-3 15h0m-5-8h0m0-10h0m-14 21h0m0-15h0m-9-7h0m-1 16h0m-2-8h0m-1-23h0m-16 28h0m-1-20h0m-9 15h0m0-17h0m-2 30h0m-5-6h0m-239-22h0m243 33h0m0-1h0m13 15h0m7 4h0m3 1h0m3-17h0m2 6h0m0 2h0m12 18h0m3-3h0m10-11h0m5-3h0m268 3h0m237 7h0m0-17h0m29 7h0m9 22h0m2-20h0m3-6h0m3 22h0m10-4h0m5-14h0m258-10h0m268 35h0m3-34h0m10 5h0m7-2h0m1 18h0m6-13h0m1 26h0m10-7h0m223 5h0m4-12h0m11-8h0m18-5h0m11-5h0m3 20h0m1-4h0m259 11h0m27-25h0m4 18h0m5-7h0m11-4h0m16-1h0m221 10h0m18-18h0m10 19h0m4-22h0m5 20h0m12-21h0m6 35h0m234-13h0m32-19h0m3 18h0m4 10h0m20 0h0m216 6h0m14 0h0m1-10h0m6-9h0m17 5h0m12-3h0m22 49h0m-8 6h0m-8-28h0m-9 21h0m-1-5h0m-4 4h0m-5 7h0m-4-9h0m-2 3h0m-5-22h0m-8-6h0m-19 2h0m-206 14h0m-14-14h0m-3 5h0m-9 5h0m-4 3h0m-13-11h0m-7 7h0m-3-6h0m-2-2h0m-4 4h0m-4 29h0m-14-26h0m-248 13h0m-10 14h0m0-10h0m-253-17h0m-4 5h0m-50-8h0m-5-7h0m-220 7h0m-30 2h0m-1-3h0m-18 10h0m-4-6h0m-247 15h0m-4-23h0m-10 16h0m-14-14h0m-5 20h0m0 13h0m-10-20h0m-4-5h0m0 13h0m-14 10h0m-499-25h0m-2 8h0m-13-19h0m-9 19h0m0-14h0m-9 9h0m0 7h0m-525 1h0m-11 8h0m0-13h0m-5-11h0m-12 11h0m-1 5h0m-7 16h0m-4-23h0m-2-8h0m-8-3h0m-6 33h0m-2-9h0m-6 7h0m-20-27h0m-2 1h0m-202-6h0m-8-1h0m-29 20h0m-6 18h0m11 36h0m240-6h0m14-2h0m0-21h0m3 22h0m0 1h0m16-19h0m13-2h0m3 18h0m36-8h0m4 16h0m508-9h0m5-21h0m27 19h0m18-5h0m217-4h0m15-7h0m15 23h0m268 0h0m6-4h0m11 9h0m7-26h0m7 7h0m10 15h0m5 3h0m17 0h0m0-5h0m191-19h0m46 3h0m24 6h0m26-2h0m237-4h0m36 18h0m233-19h0m22-5h0m2 8h0m3-2h0m3 20h0m15-16h0m1 3h0m222 2h0m6 6h0m6-13h0m10 19h0m8-3h0m19-19h0m12 15h0m221-2h0m1 12h0m11-27h0m18-6h0m14 11h0m7-8h0m9 22h0m4-27h0m12 73h0m-18-10h0m-11-16h0m-15 16h0m-9 9h0m-236-3h0m-27 5h0m-5-23h0m-5 20h0m-3-2h0m-6-17h0m-34 2h0m-196 16h0m-5-32h0m-18 31h0m-14-14h0m0 13h0m-11 0h0m-9-8h0m-22 1h0m-263 0h0m-6 11h0m-1 0h0m-235-6h0m-34-18h0m-15 21h0m-29-18h0m-193-2h0m-32 26h0m-26-28h0m-9 9h0m-17 6h0m-234 14h0m-10-9h0m-1 0h0m-9-25h0m-227 28h0m-18-27h0m-18 0h0m-4 0h0m-11 19h0m-5 8h0m-16-32h0m-4 3h0m-494 19h0m-27 8h0m-3 0h0m-5-11h0m-19 3h0m-5-12h0m-10 18h0m-22 8h0m-225-2h0m-29-30h0m-10 63h0m259-2h0m20-2h0m26-11h0m19 14h0m0-6h0m12-16h0m0 26h0m555-30h0m6 20h0m5 18h0m234-25h0m11-6h0m17 31h0m16-4h0m13-18h0m236-5h0m0 0h0m3-12h0m2 36h0m4-3h0m0-8h0m20 1h0m4-7h0m2 3h0m10 8h0m238-13h0m3-1h0m12-7h0m5 28h0m3-16h0m1-11h0m0 6h0m5-17h0m260 6h0m6 26h0m11-14h0m4-9h0m8 6h0m7 24h0m10-16h0m5 5h0m214 3h0m11-17h0m17 19h0m4-18h0m1 11h0m2-22h0m20 31h0m11-4h0m13-16h0m215 14h0m6-11h0m2-1h0m6 9h0m30-5h0m221 17h0m34-26h0m3 1h0m5-5h0m6 32h0m2-7h0m5-23h0m5 4h0m8 48h0m-3 10h0m-10-12h0m-10-3h0m-4-3h0m-46-14h0m-212 35h0m-16-12h0m-1-1h0m-5-5h0m-19-16h0m-1 38h0m-11-15h0m-210 11h0m-14-12h0m-10-6h0m-16 4h0m-1 0h0m-4 14h0m-10-11h0m-3 12h0m-3-16h0m-2 12h0m-241 8h0m-2-39h0m-6 34h0m-9-27h0m-36 23h0m-13 2h0m-218-21h0m-9 0h0m-12 10h0m-1 12h0m-9-33h0m-6 9h0m-8 25h0m-7-32h0m-214 32h0m-13-23h0m-15 6h0m0-3h0m-7-2h0m0 15h0m-5-20h0m-3 11h0m-6-10h0m-1 10h0m-1 19h0m-13-36h0m-26 13h0m-499 7h0m-6 10h0m-8-20h0m-10 22h0m-2-20h0m-284 15h0m-13-22h0m-12-3h0m-211-2h0m-8 10h0m-10 19h0m-8 3h0m-6-9h0m-18 13h0m-12-19h0m-8-6h0m-2 12h0m-4 5h0m-5-30h0m-220 5h0m-27-1h0m-23 75h0m1-28h0m23 12h0m11-21h0m11 21h0m222-16h0m19 10h0m14-12h0m5 19h0m4-23h0m3 1h0m8 1h0m2 5h0m6-7h0m521 26h0m6 2h0m8-2h0m26-1h0m4 7h0m24-15h0m498-14h0m12 12h0m19 1h0m6-12h0m2 5h0m9 24h0m5-22h0m17 17h0m189-14h0m0 18h0m0 6h0m2-5h0m12-32h0m9 8h0m6 29h0m2-17h0m2 11h0m5 1h0m6-26h0m13 24h0m13-31h0m9 29h0m239-10h0m15-17h0m18 7h0m3 19h0m228 2h0m11-16h0m2 2h0m4 5h0m5-10h0m2 22h0m2-26h0m2 0h0m5 0h0m12 18h0m1-13h0m2 26h0m17-15h0m15-4h0m204 3h0m6-3h0m2 6h0m10-1h0m13-22h0m17 17h0m9 17h0m3-16h0m17 17h0m224 2h0m10-2h0m5-5h0m7-9h0m2-22h0m8 11h0m13 17h0m-10 29h0m-4 15h0m-16-20h0m-9-2h0m-7 3h0m-13-14h0m-217 1h0m-14-1h0m-4 15h0m-5 13h0m-16-23h0m-12 31h0m-19-25h0m-220 27h0m-16-26h0m-1-8h0m-5 31h0m-4-25h0m-2-1h0m-1 0h0m-1 17h0m-6-11h0m-3 13h0m-231-8h0m-2 8h0m-9 5h0m-1 4h0m-7-7h0m-21-25h0m-6-4h0m-6 18h0m-1 14h0m-6 4h0m-22-26h0m-205 23h0m-10 0h0m-14-19h0m-1-11h0m-3 25h0m-2-4h0m-8 6h0m-16-25h0m-231-3h0m-2 17h0m-9 6h0m-5-3h0m0-13h0m-13 20h0m-16-3h0m-12-3h0m-3-6h0m-10 9h0m-14-18h0m-198 1h0m-14 10h0m-1 1h0m-22 0h0m-241 12h0m-20-13h0m-8-10h0m-5 7h0m-27-11h0m-2 10h0m-246 3h0m-19-6h0m-14 6h0m-21-7h0m-211 2h0m-24-5h0m-15-3h0m-5 9h0m-14-14h0m-5 12h0m-24-6h0m-213 28h0m-30 3h0m-6-25h0m-28 24h0m-3-13h0m16 30h0m4 9h0m26-14h0m20 9h0m2 6h0m1-15h0m548 28h0m33-20h0m212 19h0m7-11h0m4-12h0m29 8h0m280 14h0m14-25h0m224-10h0m18 12h0m9-2h0m59 28h0m197-2h0m19-6h0m6 1h0m1-30h0m17 36h0m0-7h0m2-7h0m1 15h0m12-19h0m15-15h0m211 3h0m34 3h0m33 10h0m257 18h0m10-32h0m14 32h0m25-31h0m206 9h0m10 3h0m1 2h0m6 0h0m1-11h0m7 8h0m11-18h0m3 24h0m36-2h0m5 7h0m200 7h0m26-6h0m2-18h0m5 6h0m6 7h0m40 33h0m-10 1h0m-12-6h0m-6 6h0m-2-3h0m-7-8h0m0 26h0m-24-32h0m-3 11h0m-9 13h0m-17-14h0m-202-7h0m0 18h0m-3-2h0m-13-3h0m-15 19h0m-22-19h0m-4 3h0m-13-20h0m-238 8h0m-2 20h0m-5-6h0m-2-16h0m-9 20h0m-2-19h0m-26-8h0m-7 39h0m-216-15h0m-13-12h0m-16-4h0m-5-2h0m-249 7h0m-8 4h0m-2-16h0m-13 20h0m-4-4h0m-50 14h0m0-13h0m-205 18h0m-31-24h0m-5 16h0m-3 6h0m-3 1h0m0-34h0m-7 3h0m-21 1h0m-2-4h0m-2 7h0m-216 1h0m-14 10h0m-13-4h0m-6 2h0m-252 22h0m-15-31h0m-7 15h0m-4-6h0m-7 11h0m-5-18h0m-9 22h0m-237-15h0m-1-3h0m-24 11h0m-520 14h0m-30-3h0m-26-36h0m0 28h0m-1 47h0m13-20h0m8 6h0m5-1h0m1-16h0m2 13h0m1 12h0m543-13h0m22-1h0m1-2h0m0-13h0m265 37h0m3-7h0m5-11h0m28 10h0m3 1h0m7 0h0m211 6h0m36-11h0m28-11h0m248 18h0m2-5h0m9-13h0m29 14h0m6-25h0m536 24h0m3-10h0m10-5h0m0 18h0m215 0h0m42 9h0m8-2h0m1-2h0m6-1h0m4 1h0m15-35h0m13 37h0m197-29h0m12 17h0m10-10h0m6 23h0m1-3h0m5-29h0m2 21h0m2-16h0m3 2h0m4-6h0m8 29h0m10-12h0m2-8h0m4-1h0m20-2h0m217 16h0m6 3h0m9-26h0m11 9h0m4-8h0m7 25h0m1-13h0m9-14h0m2 10h0m3-16h0m-12 70h0m-12 9h0m-18-26h0m-2-7h0m0 10h0m0-2h0m-2 3h0m-1-10h0m-4 17h0m-240-12h0m-9 21h0m0-6h0m0-26h0m-22 36h0m-1-34h0m-4 23h0m-10-25h0m-12 30h0m-239-27h0m0 6h0m-4 27h0m-8-6h0m-4-19h0m-233 18h0m0-19h0m-4-6h0m-14 33h0m-6-35h0m-3-2h0m-2 26h0m0 12h0m-8-14h0m-1-15h0m-5 12h0m-1-15h0m-249-6h0m-7 18h0m-25 13h0m-8-29h0m-9 35h0m0-5h0m-3-1h0m-11-12h0m-16-11h0m-212 3h0m-4 17h0m-28-23h0m-2 30h0m-3-7h0m-4-14h0m-14 21h0m-6-19h0m-6-9h0m-235 13h0m-27 8h0m-233-23h0m-3 21h0m-20-26h0m-7 30h0m-3-5h0m-41-26h0m-7 27h0m-199 11h0m-46-21h0m-2-2h0m-3-3h0m-523 2h0m-20-10h0m-18 29h0m-14-15h0m12 25h0m13 29h0m3 2h0m10-5h0m546-11h0m0 14h0m2-11h0m4-5h0m2 18h0m16-21h0m228 24h0m39-17h0m1-1h0m0-4h0m1 14h0m4-20h0m1 3h0m7 10h0m8-2h0m6 7h0m6-27h0m239 2h0m12 27h0m257-3h0m3 4h0m2-9h0m13 5h0m5 13h0m25-13h0m247 8h0m5-24h0m0-5h0m35 20h0m16-21h0m217 8h0m34 15h0m3-11h0m19-8h0m4 10h0m240 22h0m259-13h0m1-3h0m5-21h0m23 33h0m0-22h0m5 17h0m1-1h0m6-17h0m12-9h0m11 11h0m237 14h0m3-16h0m0 15h0m6-24h0m3 15h0m0-8h0m9 5h0m5-15h0m11 3h0m-11 57h0m-3-1h0m-1 18h0m-3-21h0m-2-6h0m-7 2h0m-4 16h0m-5-9h0m-26-12h0m-219 18h0m-8-24h0m-8 37h0m-11-19h0m-4 7h0m-11-19h0m-1 20h0m-1 6h0m-234-12h0m-12 13h0m-5-3h0m-10-32h0m-16 22h0m-3 9h0m-26-30h0m-223 36h0m-50-26h0m-16 12h0m-197-2h0m-18-14h0m-6 7h0m-6-12h0m-5 10h0m-33 22h0m-240-28h0m-2 31h0m-29-37h0m-27 35h0m-8-31h0m-209 2h0m-23 8h0m-13 19h0m-1-21h0m-246 26h0m-17-31h0m-2 33h0m-14-24h0m-5 5h0m-1 8h0m-263-19h0m-9 28h0m-13-3h0m-546 1h0m-15-10h0m-10-23h0m-2 32h0m-16 37h0m9-6h0m6-1h0m15-9h0m2 14h0m546-26h0m290 15h0m23-10h0m13 1h0m260 2h0m8-10h0m3 27h0m236-8h0m19 19h0m1-23h0m272-5h0m3-3h0m1 4h0m0 21h0m3-11h0m5-2h0m6 7h0m7 1h0m4 6h0m16-26h0m6 27h0m4-7h0m218 7h0m14-28h0m13 12h0m8 8h0m1-24h0m16 28h0m10-4h0m9-4h0m15-17h0m3 14h0m1-18h0m0 9h0m205 0h0m22 9h0m1 2h0m8 8h0m1-14h0m5 11h0m16 12h0m7-26h0m1 8h0m17-11h0m219 3h0m3-10h0m2 32h0m10-14h0m16-14h0m3 28h0m10-13h0m1 11h0m221-31h0m28 34h0m3-2h0m1-4h0m0 7h0m9-1h0m11-4h0m1 0h0m7 3h0m11 34h0m-47-8h0m-223-17h0m-41-2h0m-16 6h0m-2 26h0m-264-2h0m-1-24h0m0-7h0m-13-1h0m-3 9h0m-2 6h0m-227 14h0m-5 8h0m-3-7h0m-9 0h0m-8 7h0m-10-3h0m-2-25h0m-1 5h0m-5 0h0m-7 21h0m-4-29h0m-7 10h0m-3-1h0m-8-11h0m-236 6h0m-6-10h0m-1 22h0m0 2h0m-11-14h0m-8-9h0m-5 7h0m-6-9h0m-8 21h0m-18 7h0m-233 1h0m-5-3h0m0 10h0m-9-5h0m-7-15h0m-6 23h0m-4-15h0m-5-20h0m-5 16h0m-6-11h0m-1 5h0m-228-5h0m-11 12h0m-16-6h0m-2 13h0m-264-3h0m-1 0h0m-17 6h0m-2 1h0m-2 6h0m-5-2h0m-237-22h0m-45-10h0m-12 33h0m-527-14h0m-8-4h0m-2 18h0m-3-6h0m-7-26h0m-30 64h0m26-22h0m1 30h0m5-24h0m574-12h0m254 19h0m25-15h0m2 17h0m5 1h0m2-7h0m0 9h0m3-1h0m3-6h0m3 18h0m14-34h0m240 2h0m3 17h0m55 7h0m200-5h0m8-15h0m17 14h0m2-1h0m9-6h0m3 11h0m3-3h0m3 1h0m7-15h0m19 24h0m240 7h0m14-34h0m11 18h0m233 3h0m8 8h0m26-20h0m5-3h0m1 15h0m9-2h0m0 5h0m8 5h0m11-9h0m10-7h0m3 7h0m220 4h0m8-13h0m5 10h0m6 9h0m12-20h0m22-12h0m236 21h0m15-14h0m1 16h0m17-18h0m9 19h0m213-12h0m27 6h0m4-13h0m8 15h0m6-14h0m3 3h0m7 9h0m0 1h0m5 15h0m8-17h0m9-2h0m-25 32h0m0-4h0m-2 19h0m-3-10h0m-3-11h0m-9 13h0m-35 16h0m0 0h0m-189-11h0m-11 9h0m-2-25h0m-16 15h0m-5-2h0m-2 0h0m-6 14h0m-6 5h0m-5-24h0m-36-3h0m-1-3h0m-225-1h0m-18 4h0m-6 1h0m-8 21h0m-2-32h0m-1 7h0m-13-8h0m-221 31h0m-16-28h0m0 20h0m-5 13h0m-11-16h0m0 12h0m-6 1h0m-6-28h0m-31 34h0m-198-33h0m-8 32h0m-31-27h0m-2 12h0m-2 14h0m-3-20h0m-18 3h0m-6-13h0m-7 15h0m-217 17h0m-18-30h0m-2 0h0m-13 21h0m-2-26h0m-1 23h0m-7-14h0m-14 26h0m-254-4h0m-308-10h0m-9-16h0m-17 26h0m-239-25h0m-25-10h0m-520 21h0m-18 2h0m-46-3h0m12 20h0m41 27h0m17-3h0m1-17h0m508 9h0m49-1h0m15 8h0m231-4h0m2-2h0m17 0h0m10-9h0m35 25h0m220-16h0m10-7h0m8-10h0m263 30h0m8-7h0m5-2h0m1 5h0m1 6h0m7 6h0m9 1h0m6-23h0m2 13h0m12-14h0m214 20h0m5-10h0m11-23h0m7-1h0m17 34h0m2-35h0m4 20h0m11 15h0m1-33h0m3 8h0m17-10h0m215-1h0m3 14h0m8-2h0m11 1h0m14 14h0m10-10h0m0-9h0m1 21h0m8-25h0m21 26h0m244-2h0m8-27h0m0 26h0m6-17h0m4-4h0m6 25h0m17-23h0m204 27h0m35-9h0m4 11h0m4-31h0m5 27h0m18-16h0m263 0h0m2 0h0m12 3h0m4 42h0m-5-3h0m-5-8h0m-8 7h0m-6 2h0m-7 12h0m-9-17h0m-10 4h0m-215-4h0m-23 7h0m-14-6h0m-2 8h0m-2 12h0m-11-14h0m-2 7h0m-4-20h0m-32 8h0m-233-8h0m-4 25h0m-1 1h0m-2-7h0m0-9h0m-20-14h0m-219 12h0m-17-4h0m-3-2h0m-12 16h0m-4 5h0m-3-14h0m-4-3h0m-1 11h0m-2 6h0m-25 2h0m-229-8h0m-16-2h0m-17 7h0m-1-19h0m-9-6h0m-4 1h0m-1 9h0m-24 19h0m-5-3h0m-194-1h0m-23-21h0m-5 21h0m-12 8h0m-7-27h0m-3 11h0m-2-8h0m-31-14h0m-7 1h0m-194 15h0m-67 22h0m-14-1h0m-234-12h0m-1-14h0m-5 0h0m-14 10h0m-1 12h0m-4-8h0m-238-8h0m-29-17h0m-6 23h0m-18-11h0m-14 20h0m-7-32h0m-494 0h0m-19 20h0m-3-7h0m-32 32h0m50 2h0m523-7h0m13 15h0m275 8h0m13-16h0m23 11h0m217-12h0m24-6h0m3 7h0m26 16h0m4-5h0m13-14h0m230-4h0m9 16h0m4-2h0m4-7h0m3 6h0m11-1h0m0 1h0m265-12h0m54 14h0m235 22h0m7-10h0m2 6h0m41-2h0m240-12h0m24 6h0m0-18h0m4 23h0m238 5h0m8-15h0m12 13h0m8-29h0m10 33h0m2-16h0m3-9h0m217 3h0m36 0h0m7-3h0m2 4h0m2 6h0m9-19h0m13-1h0m-1 61h0m-24-18h0m-11 19h0m-262-8h0m-3-13h0m-18 6h0m-4 3h0m0-12h0m-522 2h0m-36 6h0m-826 11h0m-2 5h0m-6 5h0m-14-27h0m-29 29h0m-210-25h0m-27 8h0m-13-5h0m0-3h0m-5-2h0m-6 14h0m-840-4h0m-13 1h0m-14-6h0m1138 68h0m22-24h0m3 6h0m28 37h0m-6 5h0m-12 13h0m-10-32h0m-44 66h0m20-29h0m21 22h0m3 4h0m1 9h0"/>
<path transform="scale(.1)" fill="none" stroke="#878787" stroke-width="28" stroke-linecap="round" stroke-opacity="0.72" d="M6671 2998h0m-1693 31h0m-280-2h0m1699 43h0m281 5h0m-3 25h0m-5-15h0m-1683 20h0m-3 19h0m1704 25h0m-13 14h0m-1975 0h0m-295 38h0m272 37h0m308-27h0m284-2h0m551 19h0m842 4h0m35 18h0m-297 2h0m-6 3h0m-291-11h0m-273 33h0m-554-7h0m-294 3h0m-281-23h0m-578 18h0m-291 51h0m859 0h0m542-24h0m310 5h0m839 1h0m283 39h0m-269-14h0m-2 2h0m-18 5h0m-266 25h0m-559-32h0m-1 25h0m-3-30h0m-3 31h0m-5-28h0m-274 6h0m-2 21h0m-274-15h0m-40-4h0m-857 11h0m-247-17h0m277 62h0m7 2h0m2-8h0m3 4h0m278-3h0m296-11h0m247 18h0m10-28h0m549 33h0m5-17h0m16-9h0m12 4h0m3 25h0m282-35h0m274 3h0m601 0h0m-315 48h0m-551-6h0m-288 5h0m-17-1h0m0 11h0m-15-11h0m-2 9h0m-1 2h0m-288 2h0m-1-15h0m-274-4h0m-247 1h0m-571 23h0m-3 6h0m-12-35h0m-4 27h0m-8-10h0m-2 21h0m-11-15h0m-1 50h0m3-32h0m16 14h0m19 21h0m265-25h0m298 22h0m265-8h0m24-4h0m15-1h0m262 11h0m254-31h0m5 34h0m14-6h0m1-8h0m7-10h0m1 10h0m4-17h0m8-3h0m2 1h0m5 26h0m9-19h0m546-7h0m557 0h0m25 8h0m-30 69h0m-1-27h0m-276 4h0m-6 14h0m-810 1h0m-6-5h0m-6-5h0m-15 11h0m-10 6h0m-4-5h0m-5 2h0m-857-22h0m-539 18h0m-13 1h0m-7-8h0m-8-18h0m-1 5h0m11 36h0m4 31h0m5-15h0m12 7h0m1-17h0m552 20h0m8-26h0m259 11h0m304 1h0m264 2h0m3 7h0m14-18h0m4 14h0m3-14h0m7-7h0m529 17h0m304 7h0m14-5h0m0-1h0m5-2h0m276 58h0m-272-32h0m-3 29h0m-23-26h0m-286-5h0m-247 28h0m-279-4h0m-4-20h0m-21 10h0m-3 6h0m-1 15h0m-15-20h0m-2-10h0m-264 11h0m-3-15h0m-8 23h0m-1122-6h0m-6 5h0m-3-5h0m-8-8h0m-2 13h0m-1 9h0m-22-3h0m-232 44h0m238 1h0m6-14h0m6-19h0m21 16h0m3-11h0m12-3h0m1 18h0m7-16h0m4 7h0m250 14h0m542 10h0m303-3h0m3-25h0m3-6h0m24 25h0m223-5h0m2-8h0m32-12h0m9-4h0m6 15h0m2-3h0m585-12h0m270 23h0m264-24h0m23 22h0m-3 38h0m-11-14h0m-12 13h0m-848 16h0m-258-31h0m-10 34h0m-8-25h0m0 25h0m-6-13h0m-16-19h0m-248 2h0m-1-7h0m-10 38h0m-4-32h0m-25 26h0m-2-6h0m-254 9h0m-1-2h0m-12-24h0m-255 18h0m-36 3h0m-13-11h0m-254-17h0m-251 32h0m0-34h0m-12 29h0m-22 2h0m-4-27h0m-2 11h0m-12-10h0m0 22h0m-4-20h0m-4 13h0m0 7h0m-9 5h0m-8-14h0m-5-7h0m49 28h0m3 23h0m1-17h0m1 12h0m6 2h0m3 11h0m259-16h0m281-1h0m314 10h0m286-4h0m239-20h0m6 3h0m1 13h0m312 20h0m3-29h0m252 0h0m278 11h0m55 7h0m287 18h0m-15 3h0m-20 1h0m-39 10h0m-223 5h0m-7-11h0m-2-2h0m0 24h0m0 1h0m-21-1h0m-16-11h0m-252-15h0m-15 3h0m-6 25h0m-533-13h0m-4-5h0m-19 7h0m-19 4h0m-239-13h0m-26 9h0m-9 10h0m0-10h0m-14 1h0m-224 4h0m-314-14h0m-4 8h0m-1-8h0m0 10h0m-539-24h0m-15 22h0m-13-14h0m-29 21h0m-15 7h0m13 41h0m4-16h0m1-18h0m19 13h0m3-9h0m6 30h0m2-8h0m0 9h0m5-26h0m11 4h0m843 19h0m283-14h0m249 15h0m10-13h0m2 7h0m17-6h0m6 11h0m0-16h0m5-11h0m2 20h0m3-20h0m17 12h0m235-20h0m269 0h0m279 32h0m22-7h0m15-11h0m3-5h0m13-2h0m243 12h0m25 46h0m-12-21h0m-19 11h0m-232-6h0m-5-10h0m-9 29h0m-2-13h0m-2-12h0m-3 7h0m-1 2h0m-1 9h0m-1 3h0m-18 1h0m-9-5h0m-258 17h0m-22-8h0m0-26h0m-274-2h0m-267 0h0m-1 30h0m-1-1h0m-5 2h0m-39-4h0m-236-10h0m-49 17h0m-217-2h0m-312-30h0m-11 5h0m-17 29h0m-518-18h0m-2 19h0m-7-35h0m-3 17h0m-3 1h0m-3 10h0m-1-15h0m-2 1h0m-12-6h0m-4 2h0m-3 9h0m-1-12h0m-6 50h0m5 3h0m0 11h0m8-8h0m2-13h0m0 9h0m1-5h0m2 15h0m13-28h0m4 20h0m5-8h0m3 21h0m1-35h0m16 17h0m534 10h0m3 0h0m4-23h0m275 26h0m20 6h0m272 1h0m256-31h0m21 27h0m14-9h0m5-23h0m19 0h0m241 24h0m249-18h0m59 1h0m5-8h0m14 32h0m212-18h0m24 9h0m4-4h0m1-12h0m2 9h0m3 8h0m28-6h0m2-19h0m3 9h0m208 29h0m21-33h0m45 34h0m-7 31h0m-39-15h0m-23 10h0m-215 4h0m-1-12h0m-9-13h0m-55 21h0m-217 11h0m-12-21h0m-2 20h0m-5 3h0m-3-16h0m-1-16h0m-37-6h0m-229 33h0m-35-12h0m-234 17h0m-20-36h0m-4 4h0m-4 23h0m-5-4h0m-3 1h0m-4 9h0m-23-28h0m-1 23h0m-2 0h0m-1-18h0m-237-7h0m-30 29h0m-252 3h0m-12-13h0m-29-15h0m-225 8h0m-1-2h0m-11-14h0m-23 6h0m-556 8h0m-19 21h0m-3-6h0m-5 3h0m-6-17h0m-1 1h0m-1 2h0m-2-6h0m-5 22h0m-1-8h0m-13-28h0m12 48h0m2 24h0m5-9h0m8 15h0m4-14h0m21-24h0m1 14h0m2 24h0m12-9h0m2-18h0m3-6h0m2 10h0m536 5h0m19 15h0m267-32h0m19 12h0m242-7h0m4-4h0m20 23h0m1 10h0m251-14h0m6 10h0m12-29h0m0-1h0m1 14h0m0 13h0m6-12h0m25 11h0m260-9h0m9-2h0m278 0h0m28-1h0m1 0h0m228-5h0m29-11h0m20 25h0m217 7h0m29-25h0m5 24h0m5 7h0m8-21h0m9 0h0m5 19h0m29 33h0m-16-21h0m-12-9h0m-2 31h0m-1-31h0m-18 3h0m-2 7h0m-5 20h0m-9-19h0m-25 15h0m-213 0h0m-24-24h0m-2 1h0m-9 17h0m-2-20h0m-3 20h0m-13-15h0m-1 21h0m-235-19h0m-17-4h0m-2 28h0m-11-8h0m-5 4h0m-243-7h0m-4 18h0m-286-8h0m-11-25h0m-1 17h0m0 15h0m0-24h0m-13-12h0m-1 15h0m-33 14h0m-203 1h0m-56 2h0m-28-12h0m-224-4h0m-15 6h0m-24-11h0m-240 13h0m-10-11h0m-3-1h0m-3-13h0m-1 29h0m-3-4h0m-11 6h0m-524-20h0m-11-7h0m-17 21h0m0 11h0m-2-16h0m-4-20h0m-6 38h0m-9-12h0m-13 5h0m-21-22h0m-215 59h0m3-27h0m5 24h0m221 10h0m4-27h0m6 28h0m10-14h0m1-10h0m3 3h0m14 23h0m525-6h0m18-3h0m4-16h0m5-12h0m1 12h0m5 14h0m30 0h0m0-6h0m7 11h0m290-20h0m238-9h0m5 34h0m2 1h0m17-10h0m262-13h0m9-4h0m2 14h0m0-14h0m7 26h0m551-21h0m22 22h0m2-3h0m4 3h0m234-10h0m12 4h0m5-33h0m4 30h0m4-27h0m23 12h0m17 12h0m11-24h0m189 5h0m15 2h0m9 18h0m2-7h0m1 1h0m3 3h0m8 13h0m6-33h0m16 9h0m3-13h0m23 14h0m-3 35h0m-10-5h0m-2 5h0m-15 14h0m-8 0h0m-1-23h0m-4 1h0m-1-2h0m-5 27h0m-32-4h0m-213 2h0m-25 11h0m0-5h0m-8 6h0m-7 2h0m-4 0h0m-26-2h0m-218-28h0m-5-7h0m-21 4h0m-7 24h0m-16-21h0m-240 13h0m-7-7h0m-1 2h0m-8 20h0m-243-15h0m-6 17h0m-16-12h0m-5 1h0m-1-24h0m-5 4h0m-14 10h0m-2 20h0m-13-4h0m-7-9h0m-5-17h0m-15 22h0m-3-22h0m-213 29h0m-25-11h0m-13 4h0m-3-27h0m-1 22h0m-5-4h0m-1 17h0m-5-35h0m-8-1h0m-9 13h0m-256 8h0m-230 5h0m-9-22h0m-9-4h0m-1 17h0m-1-5h0m-1 7h0m-13 10h0m-276-26h0m-252 8h0m-23-9h0m-21 13h0m-14-8h0m-7 26h0m0-21h0m-257 6h0m-26 42h0m2-6h0m14-5h0m20 8h0m219 7h0m12 8h0m10-24h0m10 20h0m6-18h0m5-10h0m4 30h0m6-10h0m8-21h0m3 22h0m2-1h0m15 2h0m9 8h0m538-2h0m15-17h0m22 1h0m241-7h0m16 26h0m227-24h0m2-9h0m6 8h0m8 11h0m2-19h0m13 24h0m16 8h0m5-6h0m5-19h0m6 3h0m19 20h0m193-1h0m15-8h0m5-6h0m6 1h0m1 14h0m5-21h0m0-5h0m2 1h0m11 30h0m17-23h0m1 7h0m10 2h0m279 16h0m255-1h0m266-26h0m13 7h0m16 10h0m16 0h0m232-7h0m1-13h0m19 31h0m1-4h0m3-4h0m11-15h0m6-4h0m13 8h0m4 9h0m5 8h0m12-14h0m-9 18h0m-3 16h0m-10 20h0m-19-30h0m-2 14h0m-2 19h0m-1-33h0m-10 24h0m-3-16h0m-13-13h0m-206 34h0m-33-10h0m0-7h0m-4 0h0m-18-17h0m-23 12h0m-208-6h0m-13 18h0m-1 3h0m-3-13h0m-3-7h0m-5 26h0m-21 1h0m-4-20h0m-244 16h0m-23 8h0m-5-3h0m-3 2h0m-3-33h0m-15 22h0m0 10h0m-237 2h0m-5-33h0m-24 3h0m-5 10h0m-48 13h0m-203-21h0m-15 8h0m-4 3h0m-4 2h0m-3-4h0m-9 16h0m-9-34h0m0 23h0m-7-10h0m-1 5h0m-2 18h0m-2-5h0m-238-29h0m-20 30h0m-5-28h0m-259 0h0m-30 26h0m-3-26h0m-9 24h0m-506 0h0m-16 6h0m-9-31h0m-3 29h0m-7-27h0m-12 7h0m-2-11h0m-1 21h0m-8-18h0m-10 18h0m-3-4h0m-7-5h0m-2-9h0m-5 11h0m-234 8h0m-33-22h0m56 63h0m215 9h0m4-7h0m3 9h0m4-12h0m3-8h0m1 8h0m2 3h0m5-17h0m14 15h0m3 1h0m6-4h0m4 6h0m1-7h0m13-8h0m14-9h0m244 33h0m248-4h0m8-1h0m23-20h0m22-2h0m3-7h0m27 6h0m0 5h0m210 14h0m41-22h0m19 1h0m230 29h0m15-2h0m8-20h0m8 19h0m8-24h0m235-3h0m1 25h0m23-12h0m4 5h0m2-8h0m5-8h0m4 13h0m3-6h0m4 6h0m8 17h0m19-38h0m241 29h0m1-19h0m2 22h0m12-13h0m5 18h0m4-18h0m21-1h0m208-17h0m6 16h0m14-8h0m40 26h0m6-7h0m1-8h0m208-14h0m37 20h0m6-24h0m26 33h0m7-13h0m203 16h0m8-17h0m10 9h0m13-24h0m10-7h0m37 29h0m-28 42h0m-7-15h0m-10 16h0m-1-5h0m-243 3h0m-5-28h0m-38 7h0m-225 23h0m-6-15h0m-5 4h0m-24-3h0m-23-17h0m-22 24h0m-224-8h0m-3-13h0m-3 20h0m-4 1h0m-25-19h0m-243 33h0m-15-35h0m-18 18h0m-15-21h0m-14 2h0m-1 15h0m-221 7h0m-3-25h0m-6 32h0m-9-24h0m-13-8h0m-5 8h0m-9 28h0m-1-10h0m-303 9h0m-201-34h0m-35 7h0m-12 6h0m-522 15h0m-7 6h0m-10-24h0m-10-10h0m-7 5h0m-8 10h0m-16-12h0m-9 34h0m-3-28h0m-4-1h0m-214 2h0m-28 4h0m-14-4h0m-18 66h0m19-1h0m17 2h0m16-12h0m198 4h0m0-27h0m8 0h0m14 18h0m9 5h0m2 3h0m2-4h0m18 10h0m5-22h0m5 1h0m5 22h0m2-35h0m2 17h0m0-4h0m22 25h0m243-28h0m243 1h0m22-4h0m25 9h0m5 0h0m4 20h0m2-17h0m8 7h0m2-10h0m258-17h0m237 32h0m15-17h0m6-14h0m7 7h0m4 0h0m14-6h0m3 19h0m3-3h0m1 10h0m23-8h0m2-12h0m225 5h0m5 8h0m8 12h0m11-20h0m2-7h0m2 13h0m1 12h0m13-12h0m241-1h0m2 14h0m7-27h0m32 16h0m2-15h0m17 2h0m2-7h0m3 25h0m203-3h0m28 11h0m11 0h0m2-34h0m0 16h0m7 5h0m10 1h0m8-3h0m10 5h0m210-15h0m16-6h0m2 35h0m8-11h0m2-12h0m1 13h0m1-18h0m3 23h0m3-25h0m11-2h0m27 14h0m8-11h0m225 5h0m4 9h0m2-15h0m4 25h0m1-31h0m8 18h0m6-17h0m5 5h0m17 23h0m15 36h0m-2-17h0m-47 10h0m-23-12h0m-217 5h0m-24-7h0m-13 25h0m-42-31h0m-210 5h0m-21 4h0m-25 3h0m-19 13h0m-210-19h0m-32-2h0m-10 18h0m-8 16h0m-1-17h0m-9-3h0m-7 5h0m-231-9h0m-3 17h0m-1 1h0m-6-32h0m-1 31h0m-11 6h0m-7-37h0m-2 4h0m-5 19h0m-5-16h0m-10 27h0m-4-9h0m-14-24h0m-10 28h0m-196-12h0m-19 8h0m-4 12h0m0 0h0m-15-2h0m-2-16h0m-1 2h0m-4-12h0m0 14h0m-243-4h0m-20 19h0m-16-4h0m-3-34h0m-10 8h0m-222 1h0m-19-6h0m-7 2h0m-7 33h0m-26-22h0m-9-4h0m-22 22h0m-215-23h0m-46-5h0m-229 11h0m-21 16h0m-2 0h0m-9-28h0m0 10h0m-4-10h0m-11-1h0m-1 20h0m0 8h0m-8-28h0m0 33h0m-12-31h0m-3 5h0m-274-7h0m-12 69h0m271-25h0m14 12h0m19-2h0m4 4h0m13-17h0m2 0h0m12 35h0m4-18h0m1-9h0m18-6h0m237 19h0m3-9h0m12 13h0m245-10h0m4 19h0m17-2h0m5-16h0m4-7h0m7 12h0m280-14h0m24 25h0m1-35h0m221 27h0m17-20h0m1 29h0m6-37h0m0 25h0m7 4h0m1 9h0m5-21h0m11 5h0m6-4h0m0 10h0m10-3h0m229-18h0m20 29h0m2-9h0m0 3h0m1-17h0m1 20h0m2-14h0m13-19h0m11 18h0m10 6h0m6 14h0m208-12h0m3-10h0m13 15h0m26-5h0m6-26h0m1 9h0m5 21h0m0-3h0m34-8h0m230 5h0m15-21h0m12 28h0m8 5h0m228-12h0m2 10h0m8 2h0m4-26h0m13 13h0m30-8h0m222-14h0m1-1h0m29 7h0m13-3h0m5 4h0m5 16h0m1-6h0m2-4h0m15 33h0m-7 25h0m-1-19h0m-17 2h0m-2-11h0m-6 16h0m-5 0h0m-8-2h0m-19 4h0m-9-23h0m-199 10h0m-18-5h0m-9 25h0m-12-22h0m-1 11h0m-8 14h0m-5-7h0m-14 6h0m-5-18h0m-227-6h0m-20 29h0m-4-34h0m-1 17h0m-28 4h0m-10 14h0m-225-31h0m0 33h0m-18-21h0m-21 10h0m-4 6h0m-2-2h0m-8 6h0m-228-9h0m-12-2h0m-16 5h0m-1-24h0m-7-7h0m-14 30h0m-9-14h0m-2 8h0m-8 9h0m-14-32h0m-201 2h0m-1 29h0m-15-23h0m-11 25h0m-3-15h0m-259 11h0m-20-9h0m-24 13h0m0-15h0m-242-9h0m-5 9h0m-4 3h0m-11-16h0m-1 31h0m-4-32h0m-3 30h0m-4-13h0m-21-5h0m-271 11h0m-254-27h0m-2 2h0m-19 4h0m-3-4h0m-19 14h0m-10-13h0m-5 2h0m-210 9h0m-14 11h0m-12 4h0m-8 3h0m-3-33h0m-14 0h0m19 67h0m33 10h0m532-33h0m7 22h0m256 3h0m5-12h0m1 5h0m7-5h0m22-8h0m5 11h0m6 11h0m1-13h0m21 3h0m243 17h0m3-25h0m3 23h0m15-21h0m238 19h0m6-3h0m2-23h0m15 29h0m6-2h0m14-7h0m3-9h0m21-2h0m192-15h0m12 4h0m10 13h0m2-5h0m19 15h0m14-10h0m15 7h0m24-16h0m201 6h0m3 19h0m17-6h0m1-14h0m15 7h0m40 15h0m210-9h0m2-6h0m29-21h0m20 3h0m3-2h0m9 18h0m246-20h0m2 36h0m4-25h0m4 1h0m1-10h0m1-2h0m0 11h0m13 10h0m19-8h0m1 7h0m11 4h0m194-22h0m12 28h0m0 3h0m24-15h0m7 3h0m7 11h0m17-20h0m0-11h0m16 6h0m1 63h0m-32-30h0m-2 15h0m-6 20h0m-7-10h0m-1-26h0m-7 2h0m-5 19h0m-2-18h0m-27 14h0m-194-3h0m-10-14h0m-12 5h0m-11-4h0m-4 37h0m-15-17h0m-1 15h0m-4-13h0m-8 4h0m-7 5h0m-209-32h0m-11 16h0m-2 17h0m-4-5h0m-11-17h0m-6 28h0m-6-5h0m-1-3h0m-16-28h0m-227 8h0m-11-11h0m-10 5h0m-4 6h0m-3 23h0m-5-14h0m-21-7h0m-4 20h0m-7-28h0m-219-3h0m-5 13h0m-6 7h0m-11 4h0m-10-5h0m-3-19h0m-2 15h0m-8 19h0m-1-8h0m-1-7h0m-3-20h0m-4 31h0m-248-24h0m-14 22h0m-9 8h0m-4-5h0m-3-27h0m-13 32h0m-9-7h0m-14 0h0m-1-12h0m-244-13h0m-17 19h0m-10 7h0m-12 1h0m-236-6h0m-4-14h0m-14-5h0m-6 23h0m0-7h0m-270 12h0m-4-19h0m-520-3h0m-40-13h0m-3 10h0m1 62h0m17-5h0m546-10h0m5-6h0m291 5h0m6-13h0m3 6h0m13 21h0m241-17h0m3 14h0m1-29h0m3 11h0m23 3h0m230-10h0m5 7h0m16 8h0m26-15h0m9 9h0m6 3h0m233 21h0m11-35h0m17 12h0m6 14h0m3 12h0m19-13h0m7-9h0m6 14h0m215 4h0m0-23h0m8-12h0m0 12h0m0 20h0m20-1h0m1-8h0m2-4h0m21-1h0m218 19h0m29-13h0m8-21h0m4 6h0m2 29h0m11-1h0m227 1h0m0-14h0m0-15h0m7 1h0m11 11h0m19 11h0m2 3h0m0 2h0m11-21h0m3 8h0m1 7h0m7-19h0m17 21h0m206-9h0m16-1h0m3-13h0m4 29h0m3-21h0m11-11h0m1 5h0m7 12h0m2-11h0m5 17h0m12-20h0m4 17h0m3-21h0m9 13h0m-19 53h0m-7 7h0m-4 0h0m-3-39h0m-10 21h0m-2 2h0m-10-2h0m-1-5h0m-9-10h0m-10-3h0m-219 22h0m-6-14h0m-1 27h0m-2-29h0m-7 23h0m0-16h0m-26 1h0m-14 1h0m-5-17h0m-277 35h0m-1 0h0m-3-11h0m-1 4h0m-214-21h0m-25-8h0m-8 20h0m-22-17h0m-245-1h0m-3 33h0m-3-18h0m-13-11h0m-2 17h0m-10 5h0m-4 3h0m-1 0h0m-2-24h0m-4-4h0m-12-3h0m-246 5h0m-4 25h0m-2 6h0m-11-7h0m-13 8h0m-13-12h0m-227-6h0m-26 0h0m0-18h0m-247 16h0m-8-6h0m-3 8h0m-9-4h0m-1 7h0m-3 11h0m-6-11h0m-11 11h0m-12-23h0m-4 1h0m-8 24h0m-3-33h0m-230 7h0m-48 29h0m-526-5h0m-6 5h0m0-26h0m-19-5h0m-16 41h0m13 22h0m7-19h0m11 25h0m9-9h0m22 12h0m13-39h0m512 26h0m15-9h0m9 12h0m13-10h0m6 14h0m239-1h0m16-31h0m31 20h0m9-21h0m209 25h0m4 2h0m37-12h0m11 8h0m242-17h0m18 27h0m1-19h0m14 2h0m1 15h0m1-21h0m4-7h0m3 1h0m23 3h0m191 30h0m20-25h0m7-8h0m4 20h0m3-15h0m1 29h0m16-30h0m3 26h0m13 2h0m4-33h0m4-2h0m255 12h0m13 12h0m5-26h0m6 22h0m219-2h0m78 18h0m12-13h0m220 9h0m1-13h0m1 15h0m8-19h0m8 15h0m22-10h0m10 15h0m205-8h0m12 1h0m23-6h0m7-24h0m1 24h0m3-5h0m1-2h0m21 12h0m1-18h0m5 42h0m-10 16h0m-18-25h0m-5 30h0m0-3h0m0-26h0m-21 29h0m-209-32h0m-5 12h0m-35 15h0m-2 3h0m-7 5h0m-1-12h0m-2-20h0m-3 2h0m-257 18h0m-18-3h0m-3-19h0m-1 34h0m-4 1h0m-28-13h0m-8 13h0m-219-20h0m-14-18h0m0 22h0m-1-12h0m-1 13h0m0-19h0m-1 24h0m-2-21h0m-7 13h0m-5-8h0m-9 11h0m-241-11h0m-9 16h0m-9 1h0m-5-20h0m-1 26h0m-21-20h0m-3 3h0m-2-12h0m-233 11h0m-3-10h0m-11-2h0m-12 33h0m-7-37h0m-9 6h0m-273 15h0m-7-10h0m-227-10h0m-31 18h0m-15 8h0m-7 4h0m-3 6h0m-34-3h0m-224-21h0m-7 24h0m-25-7h0m-510-11h0m-17 1h0m-7-10h0m-9-6h0m-17 23h0m-24 48h0m3-13h0m10 8h0m32-20h0m530-2h0m11-6h0m7-3h0m271 14h0m13 0h0m12-4h0m7 13h0m3-17h0m8 9h0m235 23h0m8-12h0m4-21h0m31 32h0m224-3h0m12-1h0m5-2h0m11 8h0m0-12h0m3-8h0m8 1h0m4 3h0m19 1h0m13 8h0m215-9h0m4 14h0m7-2h0m9-25h0m4 8h0m4-16h0m9 30h0m0 1h0m2-9h0m30-12h0m3 18h0m1-1h0m1-27h0m220-1h0m12 10h0m12-10h0m8 32h0m7-29h0m4 19h0m23-5h0m1-13h0m7 17h0m193 1h0m5-5h0m19 18h0m15-6h0m8 5h0m10-12h0m4-21h0m230 22h0m23-8h0m7 9h0m5-11h0m2-2h0m2 22h0m5-30h0m2 11h0m9-7h0m1 12h0m13-19h0m240 6h0m1 25h0m4-32h0m10 33h0m29-19h0m2 1h0m3 15h0m-26 29h0m-5 4h0m-1 10h0m-6-9h0m-1-21h0m-3 29h0m-15 6h0m-1 2h0m0-14h0m-246-9h0m-26 21h0m-24-32h0m-210 27h0m-13-19h0m-6-1h0m0 1h0m-10-7h0m-5 3h0m-8 27h0m-8-23h0m-5 6h0m-4-4h0m-1-12h0m-1-3h0m-236 35h0m-14-16h0m-1-5h0m-15 14h0m-258-26h0m-4 32h0m-1-30h0m-22 13h0m-32 17h0m-210 3h0m-29 0h0m-24-14h0m-4 15h0m-6-11h0m-2-27h0m-4 35h0m-212-23h0m-296 9h0m-4 14h0m-1-8h0m-14-8h0m-43-7h0m-248 24h0m-551-13h0m-25 5h0m-7-27h0m-15 61h0m2 15h0m51-2h0m17-33h0m513 13h0m251 15h0m30-16h0m0-3h0m1 1h0m17-9h0m0 9h0m7 25h0m35-5h0m245-3h0m4 1h0m2-8h0m5 6h0m17-1h0m215-21h0m9 4h0m4 19h0m8-10h0m1 18h0m6-26h0m6 16h0m11 2h0m226-7h0m50 17h0m5-23h0m9 7h0m238-12h0m14 24h0m13-31h0m31 6h0m256 6h0m0 1h0m3 18h0m266-1h0m14-28h0m29 23h0m0-29h0m19 6h0m194-6h0m5 39h0m27-4h0m9-33h0m19 26h0m4-27h0m21 27h0m0 15h0m-32 23h0m-10-11h0m0 14h0m0-17h0m-5-3h0m-2 12h0m0-5h0m-3 14h0m0-28h0m-3 4h0m-7 22h0m-12-29h0m-16 36h0m-229-28h0m-1-6h0m-2 9h0m-9 15h0m-2 13h0m-2-5h0m-12 3h0m-1-19h0m-239 21h0m-1-11h0m-18-2h0m-9 3h0m-4-29h0m-28 8h0m-218-6h0m-16 27h0m-15 7h0m-11 0h0m-257-21h0m-5 13h0m-12 9h0m-9-23h0m0 12h0m-20-14h0m-4 10h0m-12 10h0m-212-5h0m-9 3h0m-2-8h0m-19 14h0m-21-8h0m-1-15h0m-3 11h0m-3-2h0m-239-11h0m-15 10h0m-5-6h0m-6 3h0m-250 8h0m-9-4h0m-23-14h0m-1 14h0m-24-10h0m-231-1h0m-4 22h0m-40-5h0m0 6h0m-521-6h0m-39-25h0m42 49h0m811 5h0m33-1h0m269-2h0m23 18h0m236-8h0m4-1h0m5-3h0m20-16h0m4 4h0m2 3h0m4-11h0m1 19h0m0 15h0m11-3h0m19-12h0m212-10h0m5-2h0m30 21h0m16 9h0m3-27h0m218-10h0m11 3h0m3 30h0m18-1h0m1-29h0m9 29h0m6-17h0m0-6h0m246 2h0m8 0h0m6 4h0m4-4h0m19 21h0m17-14h0m1 1h0m0 15h0m2-10h0m3 9h0m212-2h0m7-19h0m2-2h0m3 23h0m20-32h0m18 6h0m9 0h0m6 3h0m5 6h0m3-4h0m15-3h0m191 25h0m2-19h0m9 20h0m28-30h0m6 29h0m14 2h0m10-18h0m1 17h0m1-7h0m14 17h0m-22 22h0m-4-10h0m-5 2h0m-5-17h0m-3 20h0m-7-6h0m0 6h0m-3-9h0m-2 10h0m-3 12h0m-13-7h0m-18-10h0m-214-15h0m-2 36h0m-3-6h0m-1-20h0m-45-1h0m-210-9h0m-29 17h0m-1 13h0m0 0h0m-7-12h0m-10-20h0m0 21h0m-21-11h0m-1-11h0m-225 38h0m-14-15h0m-3 14h0m-34-3h0m-15-5h0m-229 8h0m-1-3h0m-3 4h0m-7-23h0m-9-3h0m-8 24h0m0-34h0m-9 14h0m-5-5h0m-11 17h0m-6-9h0m-221-4h0m-13 6h0m-16-17h0m-9 18h0m-16-12h0m-7-9h0m-224 20h0m-22-20h0m-3 28h0m-8-11h0m-1 4h0m-22-4h0m-234 22h0m-22-36h0m-4 11h0m-1-7h0m-28 25h0m-235-16h0m-17 3h0m-31-9h0m-12 27h0m-510-19h0m-26-18h0m-23 4h0m-2-4h0m-5 30h0m589 12h0m266 24h0m18-4h0m11-8h0m9-5h0m2-2h0m7-3h0m2-2h0m16 11h0m260 4h0m23-17h0m221 16h0m32-7h0m21-4h0m15 13h0m257-17h0m27 13h0m233-2h0m0 27h0m0-3h0m39 0h0m2-28h0m12 4h0m229 3h0m3-1h0m6-13h0m12 6h0m264 5h0m9 25h0m1-11h0m4 1h0m3-21h0m16 29h0m1-3h0m4 1h0m1-11h0m2 16h0m1-9h0m14 3h0m13-31h0m192 0h0m10 26h0m25 2h0m1 5h0m7-24h0m3 27h0m2-14h0m8-2h0m13 40h0m-5 1h0m-4-17h0m-11 16h0m-28 6h0m-237 11h0m-3-4h0m-5-18h0m-8 13h0m-26-11h0m-1 1h0m-22-11h0m0 12h0m-541-11h0m-823 2h0m-14 8h0m-4-3h0m-4-8h0m-34 4h0m-226 1h0m-16-7h0m-21 8h0m-800-11h0m-33 0h0m1111 59h0m16-9h0m14-11h0m4 3h0m2 25h0m1411-24h0m-1414 44h0m-11 22h0m5 20h0m23 16h0m-52 19h0"/>
<path transform="scale(.1)" fill="none" stroke="#878787" stroke-width="28" stroke-linecap="round" stroke-opacity="0.72" d="M6417 3035h0m-1723 18h0m12-2h0m266 49h0m-271-13h0m1965 66h0m-825 28h0m-875 18h0m-276 0h0m-19 25h0m18-13h0m19 8h0m267 0h0m5-9h0m0 18h0m2-12h0m5 11h0m1400-17h0m300 69h0m-1432-1h0m-1-4h0m-564-13h0m-304 18h0m-277-9h0m17 15h0m277 24h0m1430-12h0m303 11h0m265 8h0m281 15h0m-25-1h0m-243 12h0m-303 4h0m-559 13h0m-24-16h0m-285-10h0m-246-12h0m-35 23h0m-546-22h0m-295 0h0m1132 47h0m256 7h0m2 10h0m14 6h0m7 4h0m9-10h0m12-17h0m2 14h0m5-11h0m5 12h0m282 15h0m554-26h0m305 44h0m-13 20h0m-4-30h0m-550 9h0m-15-5h0m-284 9h0m-5 10h0m-260 7h0m-4-31h0m-8 12h0m-34 11h0m-17-21h0m-541 1h0m-3 24h0m-284-22h0m-2 8h0m-537 19h0m-30-25h0m-5 13h0m-4 22h0m6-2h0m7-3h0m1 18h0m9-11h0m1 29h0m10-13h0m1094-5h0m39 19h0m8-16h0m255-3h0m2-16h0m0 14h0m3 10h0m562-12h0m270 13h0m16-20h0m21-5h0m242 4h0m38 6h0m19 45h0m-58-3h0m-257-9h0m-9 11h0m-4-2h0m-254 23h0m-553-40h0m-33 36h0m-3-32h0m-12 1h0m-7 18h0m-243 11h0m-24-32h0m-3 9h0m0-1h0m-255 6h0m-303-10h0m-542 23h0m-13-24h0m-1 16h0m-5-7h0m0 15h0m-8-29h0m-30 39h0m13 19h0m1-5h0m9-10h0m9 27h0m4-4h0m1-18h0m22 12h0m535-11h0m560-1h0m7 24h0m0-16h0m16 3h0m249-2h0m7 2h0m8 9h0m6-20h0m2 2h0m5-10h0m10 32h0m549-22h0m298 2h0m272-4h0m34 51h0m-40-1h0m-8 11h0m-251 1h0m-7-19h0m-11 23h0m-269 3h0m-567-23h0m-1-13h0m-10 13h0m-2-9h0m-27 6h0m-242 21h0m0-7h0m-49-12h0m-534-2h0m-296 21h0m-250-18h0m-5 24h0m-2-36h0m-15 9h0m0-6h0m-10 1h0m-3 9h0m-12-14h0m-3 36h0m-15-7h0m-1 46h0m32 0h0m2-31h0m7 4h0m12 21h0m3-23h0m1 10h0m6-2h0m831 19h0m319-22h0m216 15h0m22 0h0m8 2h0m4 10h0m2-36h0m7 14h0m8 19h0m22-23h0m246 18h0m572-29h0m24 3h0m246 2h0m22 65h0m-25-10h0m-6-15h0m-548 23h0m-269-25h0m-279 10h0m-16-4h0m-10-2h0m-11 25h0m-14-10h0m-244 0h0m-27-7h0m-2-11h0m-566 30h0m-514-19h0m-8 21h0m-16 0h0m-4-36h0m-20 22h0m-5-3h0m-257-14h0m228 42h0m10 8h0m9-12h0m9 18h0m1 3h0m4 0h0m5-9h0m12-13h0m3 32h0m8-15h0m2-1h0m19-12h0m232-7h0m301 28h0m7-20h0m270 17h0m10 13h0m527-18h0m2 18h0m2-11h0m3 10h0m7-29h0m11 0h0m7 27h0m8-21h0m7-11h0m4 11h0m5 1h0m548 6h0m289-8h0m7 20h0m6-6h0m1-8h0m275 13h0m8 4h0m-3 37h0m-22-31h0m-16 4h0m-219 8h0m-1-10h0m-7 24h0m-20 10h0m-291-4h0m-281 0h0m-264-32h0m-23 23h0m-8-12h0m-1 5h0m-5 10h0m-2-18h0m0 1h0m-19 11h0m-240-5h0m-19 8h0m-34-20h0m-227 27h0m-15-23h0m-6 16h0m-11-5h0m-802-4h0m-12 19h0m-4-29h0m-3 26h0m-4-23h0m-18 11h0m0 2h0m-3 14h0m-3-1h0m-8-26h0m-10 6h0m-1-15h0m0 0h0m0 30h0m-18 17h0m2 10h0m19 19h0m8-18h0m13 15h0m5-18h0m2 3h0m3 0h0m6-13h0m12 25h0m0 6h0m522-22h0m298 2h0m17 20h0m12-20h0m16 23h0m219-2h0m31-17h0m239-5h0m19 11h0m5 6h0m6-27h0m9 22h0m4 3h0m2-30h0m2 18h0m3-9h0m1 22h0m9-22h0m3 9h0m271 17h0m250-26h0m39 24h0m2 2h0m236-31h0m8 34h0m7-7h0m4-9h0m2 17h0m2-40h0m16 7h0m0 9h0m237 23h0m13-26h0m52 38h0m-4-7h0m-7 1h0m-17 16h0m-232-10h0m0 0h0m-11 0h0m-19 23h0m-4-22h0m-26 1h0m0 0h0m-21-1h0m-211 14h0m-29 12h0m-16-14h0m0 4h0m-12-22h0m-518 15h0m-1 4h0m-10-13h0m-27-3h0m-25 0h0m-227 3h0m-4 20h0m-568-22h0m-23 5h0m-27-13h0m-4 19h0m-244-17h0m-276 35h0m-19-4h0m-14-23h0m-255 42h0m227 19h0m1-24h0m9 19h0m16-24h0m11 15h0m0-7h0m4-10h0m11 14h0m3 3h0m5-17h0m24 28h0m501 2h0m6-29h0m17 28h0m16-7h0m9 9h0m249 2h0m0-12h0m12-21h0m272 9h0m8 17h0m247-26h0m14 14h0m27 0h0m4-13h0m8 5h0m0 14h0m3-1h0m263 3h0m26-11h0m241-4h0m29 23h0m244 5h0m2-3h0m34-32h0m12 27h0m234-25h0m23 31h0m3-8h0m3-6h0m7 3h0m12-18h0m20 53h0m-27 2h0m-26-1h0m-7 9h0m-1-29h0m-205 27h0m-13 3h0m-8-23h0m-2 25h0m-21-30h0m-6 13h0m-3 17h0m-1-9h0m-2-8h0m-7 6h0m-21-20h0m-6 16h0m-216-2h0m-18 3h0m-20-7h0m-2 20h0m-523-14h0m-20 18h0m-4-34h0m-5 15h0m-1 14h0m-2-30h0m-1 30h0m-2-20h0m-33 29h0m-248-25h0m-1 20h0m-20-12h0m-243 0h0m-20 3h0m-253 6h0m-11-19h0m-11 17h0m-1-12h0m-543 10h0m-4-11h0m-12 13h0m-32 5h0m-9-4h0m-8 4h0m-11 0h0m8 30h0m11-6h0m4-17h0m3 4h0m1 0h0m4 31h0m1-13h0m10 13h0m4-18h0m0 10h0m39-8h0m519-12h0m292-3h0m33-5h0m238 36h0m6-5h0m30 8h0m7-10h0m234-11h0m8-4h0m4 2h0m4-15h0m8 33h0m7-16h0m9-2h0m9 0h0m0 17h0m264 3h0m2 3h0m3-30h0m245 2h0m1 23h0m6 0h0m6 3h0m2-19h0m13 0h0m4 20h0m30-24h0m226-7h0m6-6h0m19 38h0m11-38h0m4 18h0m29-10h0m239 6h0m13-11h0m4 5h0m9 15h0m14-3h0m0 46h0m-22-22h0m-21 7h0m-1-11h0m-2 25h0m-4 12h0m-6-1h0m-224-30h0m-5 8h0m-9 22h0m-17-6h0m-23 1h0m-1-27h0m-3 8h0m-5 22h0m-237-14h0m-12-11h0m-6 18h0m-18 2h0m-5-14h0m-1 10h0m-9-19h0m-3 6h0m-269 7h0m-254 11h0m-5-18h0m-18 5h0m-6-18h0m-4 34h0m-3-29h0m-10 34h0m-1-24h0m-261 6h0m0-14h0m-5 26h0m-29-13h0m-513 19h0m-7-4h0m-11-29h0m-1 23h0m-16-14h0m-2 12h0m-257-18h0m-16-6h0m-262-2h0m-12-1h0m0 30h0m-10-15h0m-4 15h0m-3-5h0m-1-7h0m0-11h0m-28 29h0m-6-17h0m-239 36h0m261-12h0m3 21h0m5 7h0m3-29h0m2-1h0m1 34h0m1-19h0m4 16h0m8 6h0m7-34h0m3 22h0m15-12h0m2-13h0m1 0h0m244 11h0m17-9h0m263 23h0m21 11h0m10-28h0m4 15h0m17 11h0m240-15h0m278-11h0m1 6h0m9 24h0m0-20h0m9 13h0m15-18h0m238-2h0m14 0h0m12 17h0m13 0h0m10 1h0m246-6h0m10 6h0m11-26h0m242 18h0m36 14h0m11-29h0m0 20h0m2-21h0m33 6h0m196-7h0m0 30h0m11-33h0m2-2h0m39 17h0m0-1h0m18-10h0m20 16h0m203 11h0m16-30h0m5-1h0m11 13h0m0 7h0m2-5h0m6 20h0m3-13h0m14-23h0m-17 72h0m-4-1h0m-16-14h0m-5 6h0m-4-8h0m-18-14h0m-209 5h0m-12-6h0m-5 12h0m-4-2h0m-16-9h0m-16 28h0m-19-3h0m-5-9h0m-212 11h0m-43-24h0m-270 10h0m-7 3h0m-7 22h0m-235-33h0m-17 16h0m-2 17h0m-5-8h0m-14-16h0m-15 22h0m-245-23h0m-1 1h0m-7 7h0m-7-13h0m-3 7h0m-6-4h0m-274-7h0m-40 7h0m-224-3h0m-21-6h0m-10 7h0m-4-2h0m-2-1h0m-8-2h0m-15 15h0m-11-13h0m-505 21h0m-26-1h0m0-21h0m0 11h0m-11-9h0m-249 3h0m-55 61h0m41-11h0m11-16h0m218 16h0m9-6h0m15-7h0m2 9h0m5 4h0m8-2h0m5 11h0m2 2h0m0-9h0m1 10h0m3-16h0m12 10h0m8-19h0m6-3h0m4-3h0m543 29h0m2-23h0m15 13h0m12-14h0m248 7h0m15-8h0m253 14h0m26-16h0m4 31h0m0-13h0m2-13h0m245-6h0m26 34h0m2-3h0m244 4h0m10-24h0m19 16h0m12-17h0m1 11h0m276 13h0m5-29h0m9 29h0m36-33h0m207 21h0m7-21h0m35 22h0m10-22h0m6 11h0m15-4h0m195 17h0m17-10h0m4 9h0m0-26h0m2 34h0m3-10h0m7-7h0m1-10h0m10 19h0m17-17h0m29 13h0m-41 53h0m-3-7h0m-3-21h0m-17-9h0m-14 22h0m-4-3h0m-211 19h0m-2-11h0m-8 4h0m-15 7h0m-9-15h0m-11-9h0m-4-3h0m-2 27h0m-21 0h0m-228-35h0m-2 29h0m-31-30h0m-16 16h0m-13-17h0m-218-1h0m-7 27h0m-17 6h0m-7 0h0m-4-28h0m-20 4h0m-4 2h0m-211 21h0m-33-24h0m-9-4h0m-14 15h0m-2 12h0m-12-4h0m-14-20h0m-212 6h0m-10-9h0m-9 33h0m-5-25h0m-27 21h0m-224-8h0m-50-10h0m-16 13h0m-216-24h0m-21 35h0m-3-16h0m-4 8h0m0 9h0m-5-16h0m-10 10h0m-12-18h0m-2-6h0m-239-3h0m-16 13h0m-15-20h0m-247 33h0m-6-29h0m-2 26h0m-11-10h0m0 9h0m-10-9h0m-3 9h0m0-10h0m-6 7h0m-5-21h0m-12 14h0m-1-6h0m-4 15h0m-262 9h0m-1-5h0m-27-11h0m12 21h0m30 16h0m1-11h0m15 31h0m3-5h0m219-14h0m3-2h0m22 4h0m3-6h0m2 5h0m0 1h0m16-13h0m0 29h0m3-2h0m3-28h0m1 13h0m0 18h0m2-20h0m8 1h0m10-11h0m4 11h0m8 19h0m491-8h0m5-28h0m37 23h0m1-9h0m3 16h0m17-10h0m231-21h0m18 28h0m14-20h0m240-1h0m10 31h0m11-32h0m5-2h0m12 9h0m15 13h0m17-9h0m227 13h0m6-6h0m5 2h0m2 11h0m8-20h0m15-16h0m10 18h0m8 2h0m216-11h0m20 14h0m10 9h0m22-27h0m0-5h0m10 31h0m244-3h0m15-23h0m11 14h0m0-21h0m1 30h0m2-1h0m4-28h0m2 14h0m235-1h0m8 3h0m4-15h0m19 26h0m3-10h0m7-7h0m5 25h0m219-7h0m34 5h0m1-32h0m2 18h0m1-6h0m5 25h0m4-15h0m1 11h0m5-2h0m12-22h0m1 28h0m5-2h0m10 0h0m9-19h0m-24 44h0m-2 5h0m-25 11h0m-21-29h0m-2 11h0m-224-10h0m-12 4h0m-5 22h0m-3-16h0m-25-14h0m-3 12h0m-12 8h0m-7 5h0m-231-27h0m-5 26h0m-8-19h0m-6 1h0m-9 13h0m-9 14h0m-4-17h0m-15 10h0m-211-4h0m-14-10h0m-5 11h0m-6-5h0m-1 1h0m-9-4h0m-15-2h0m-1-17h0m-243 8h0m-9-8h0m-1 27h0m-11-17h0m-10 6h0m-1 20h0m-7-6h0m-8-1h0m-223-26h0m-14-4h0m-2 21h0m-1-15h0m-8-4h0m-7 32h0m-4-9h0m0-25h0m-7 12h0m-1 12h0m-3-21h0m-12 32h0m-246-8h0m-5-4h0m-252 9h0m-26-32h0m-2 13h0m-7 0h0m-2 10h0m-10 1h0m-7-21h0m-32 6h0m-220 2h0m-269 4h0m-18 9h0m-4 4h0m-15-17h0m0 14h0m-7 4h0m-254-14h0m-11-13h0m-2 10h0m-5 27h0m-22-9h0m-13 30h0m27-9h0m4-8h0m22 15h0m254 15h0m2-8h0m16-17h0m2 13h0m11-1h0m274 18h0m256-32h0m18 15h0m1 4h0m0 3h0m21-22h0m272-5h0m11-2h0m241 27h0m15 5h0m23-11h0m3 12h0m6-7h0m2-15h0m3 0h0m6-1h0m196 23h0m0-22h0m18 3h0m25 21h0m12-33h0m3 1h0m1 19h0m4-12h0m8-9h0m2 37h0m1-7h0m3-3h0m1-21h0m241 7h0m24 11h0m29 12h0m202-36h0m9 0h0m284 29h0m14 10h0m9-31h0m15-6h0m6-1h0m3 19h0m10-20h0m3 26h0m17 8h0m213-9h0m9-18h0m10 19h0m4-20h0m4 21h0m9-25h0m1 22h0m1 2h0m5-18h0m15-4h0m14 15h0m0 43h0m-6-5h0m-15 16h0m-14-16h0m0 16h0m-4-19h0m-10 10h0m-21 11h0m0-34h0m-12 14h0m-3 13h0m-5 5h0m-203-20h0m-9 16h0m-9-22h0m-7 3h0m-1 16h0m-3 2h0m-6-28h0m-3 18h0m-5-9h0m-2-9h0m0 21h0m-227-18h0m-12 12h0m-10-7h0m-3-2h0m-2 9h0m-4 1h0m-6 9h0m-19 13h0m-24-9h0m-230-19h0m-3 8h0m-9 1h0m-5 11h0m-8-14h0m-32-6h0m-199-10h0m-63 5h0m-13 11h0m-7 18h0m-5-20h0m-220-6h0m-1-7h0m-1 9h0m-2 13h0m-2 5h0m-5-14h0m-2 9h0m-12 7h0m-8-9h0m-253 7h0m0-24h0m-16 34h0m-21-6h0m-239 1h0m-5-31h0m-9 24h0m-15-16h0m-4 24h0m-4-17h0m-2 11h0m-1-19h0m-3-1h0m0-6h0m-7 35h0m-242-13h0m-17-4h0m-11-18h0m-234 23h0m-28-23h0m-11-3h0m-11 4h0m0 23h0m-2-2h0m0 5h0m-14-14h0m-5 22h0m-9-30h0m-6 10h0m-209 21h0m-24-22h0m-5 0h0m-30 8h0m22 40h0m19 7h0m13-1h0m205-15h0m10 14h0m12 9h0m3-28h0m7 23h0m1-30h0m3 8h0m4-6h0m0 21h0m1-26h0m1 10h0m7 8h0m3-5h0m10-12h0m8 16h0m226-15h0m5 13h0m35 23h0m253-20h0m18-15h0m6 10h0m6-2h0m9 23h0m266-22h0m10 8h0m9-11h0m230 28h0m10-22h0m16 2h0m0-6h0m8 26h0m3-24h0m1 17h0m4 3h0m6-6h0m0-18h0m232 10h0m9-7h0m15 16h0m8-3h0m4 3h0m7 4h0m1-26h0m3-1h0m2 34h0m3-4h0m245-20h0m23 14h0m29-19h0m0 28h0m18-34h0m209-3h0m6 20h0m20-12h0m16 13h0m1-4h0m35 2h0m3 14h0m206-22h0m15 8h0m22-9h0m11 16h0m1-26h0m6 35h0m11-17h0m2-19h0m6 25h0m1-26h0m10 35h0m219-5h0m6-25h0m0 11h0m14 23h0m3-21h0m1-12h0m6 9h0m3-14h0m6 25h0m3-12h0m1 29h0m-11 24h0m-3 2h0m-3-11h0m-7 1h0m-3-12h0m-7 30h0m-1-7h0m-6-1h0m-2-17h0m-19 15h0m-221-6h0m-9 6h0m-19 11h0m-8-32h0m0-3h0m-1 15h0m-2-15h0m-3 22h0m-1-14h0m-6 1h0m-8 6h0m-4 1h0m-250-6h0m-2-5h0m-9 26h0m-10-26h0m-1 23h0m-15 8h0m-220-2h0m-1-15h0m-3-1h0m-13 8h0m-1-8h0m-6 1h0m-1-13h0m-25 13h0m-222-18h0m-21 29h0m-20 2h0m-13 4h0m-4-31h0m-3 2h0m-1-6h0m-5 27h0m-1-7h0m-15-22h0m-215 7h0m-8 29h0m-10-24h0m-14 23h0m-1-23h0m-38 9h0m0 4h0m-245-9h0m-242 3h0m-23-18h0m-1 6h0m-4 28h0m-9-15h0m-286 11h0m-238-31h0m-27-2h0m-28 18h0m-4-10h0m-244 14h0m-11 1h0m-47 1h0m30 31h0m613 22h0m212-17h0m17 3h0m1-9h0m3 7h0m4 8h0m14-22h0m0 16h0m0-14h0m14 1h0m225 12h0m303-20h0m10 9h0m1 12h0m18-9h0m5 11h0m11-11h0m4 15h0m204-15h0m11 4h0m22 5h0m11-6h0m11-6h0m6 18h0m6-15h0m227 24h0m15-35h0m9 2h0m14 21h0m7 12h0m7-9h0m26-20h0m205 17h0m18-5h0m4-6h0m7 10h0m10-14h0m11 8h0m6 19h0m13-15h0m0-13h0m14-1h0m240 3h0m5 0h0m7 4h0m15-10h0m243 22h0m9 5h0m7-16h0m14 3h0m29 50h0m-2-19h0m-31 13h0m-9-21h0m-3 21h0m-2 15h0m-12-12h0m0-21h0m-9 11h0m-239-14h0m-8 33h0m-4-28h0m-2 29h0m-26 2h0m-5-34h0m-213 28h0m-22-28h0m-11 3h0m-8-4h0m-4 30h0m-24-28h0m-220 19h0m-38 0h0m-8-3h0m0 1h0m-5-14h0m-25 28h0m-201-8h0m-16-12h0m-19 8h0m0-14h0m-5 10h0m-16 13h0m-3-2h0m-5-9h0m-1-11h0m-7 18h0m-5 0h0m-7-26h0m-8 0h0m-213 19h0m-2 0h0m-24-17h0m-2 6h0m-6 0h0m-7 23h0m-3-12h0m0 4h0m-9-8h0m-7-6h0m-2-6h0m-11 6h0m-236 27h0m-294-32h0m-8-6h0m-228 8h0m-21 28h0m-22-35h0m-12 3h0m-529 33h0m-14-1h0m0-13h0m-4-9h0m-10 22h0m1 29h0m4-15h0m11-7h0m4 10h0m0-5h0m529 19h0m263-26h0m7 8h0m3 21h0m11-11h0m4 16h0m26-36h0m238 10h0m4 18h0m29 7h0m285-5h0m3 5h0m1-14h0m7 10h0m10-9h0m9-5h0m210 11h0m0-5h0m23-11h0m7-7h0m0 29h0m10-5h0m3-12h0m0-3h0m8 20h0m8-3h0m22 6h0m1-6h0m230-12h0m10 17h0m1 1h0m2-19h0m8-12h0m2 21h0m4-19h0m3 21h0m10-5h0m6-8h0m1-6h0m10 18h0m204-4h0m17-6h0m6-14h0m50 17h0m231-9h0m22 25h0m11-12h0m5 11h0m2-30h0m0-6h0m0 24h0m2-9h0m16-4h0m3 11h0m220-6h0m4-9h0m12 7h0m12-5h0m7 17h0m2-12h0m3-14h0m6 10h0m14 20h0m10-6h0m-10 22h0m-9 28h0m-5-26h0m-9 18h0m-3-2h0m-2-7h0m-18 9h0m-2-17h0m-255 11h0m-11-5h0m-20-2h0m-234 24h0m-32-14h0m-3-19h0m-5 5h0m-3-9h0m-234 27h0m-42 10h0m-1-37h0m-26 16h0m-226 18h0m0-27h0m-11 21h0m-1-25h0m-8 13h0m-2 19h0m-19-3h0m-12-4h0m-5-17h0m0 17h0m-211-21h0m-21 24h0m-17-21h0m-2-10h0m-2 34h0m-6-1h0m-20-12h0m-22-6h0m-513-10h0m-3 8h0m-6 5h0m-14-14h0m-5 15h0m-807 5h0m-4-7h0m-29 11h0m-25 26h0m5 10h0m3 13h0m12-24h0m9 13h0m3-24h0m8 0h0m29 33h0m561-27h0m249 28h0m4-24h0m2-5h0m18 6h0m5 19h0m22-14h0m199 6h0m11 2h0m17-14h0m1 22h0m15-4h0m20-15h0m235 12h0m5 0h0m3-24h0m0 10h0m8 18h0m6-19h0m10 17h0m3 10h0m9-6h0m1-11h0m3-20h0m233 29h0m5-23h0m1 9h0m8-11h0m9-4h0m18 31h0m1-13h0m9-7h0m237 0h0m11 12h0m10 9h0m3-2h0m10-10h0m2-13h0m7 15h0m22 2h0m5 12h0m207-2h0m21-33h0m23 15h0m267 8h0m8-18h0m4 31h0m5-22h0m3 0h0m0-18h0m237 21h0m9 11h0m21-16h0m2 19h0m5 3h0m2-32h0m6 28h0m6 35h0m-2-4h0m-1-3h0m-11-10h0m-5 11h0m-5 2h0m-1-8h0m-5-12h0m-4 2h0m-4 32h0m-18-35h0m-201 6h0m-20 3h0m0-9h0m-11 0h0m-3 27h0m-17 3h0m-3-8h0m-1 10h0m-6-10h0m-22 9h0m-218 1h0m-5-21h0m-5 16h0m-1-1h0m-1-12h0m-4 1h0m-5 5h0m-4 13h0m-1-14h0m-1 17h0m-1-8h0m-2-24h0m-11 4h0m-3-11h0m-1 5h0m-4 34h0m-3-13h0m-15 10h0m-213-5h0m-13-12h0m-15 3h0m-4-10h0m-2 13h0m-1-12h0m-4 12h0m0-6h0m-243-3h0m-2 5h0m-23-19h0m-9 11h0m-12-12h0m-3 23h0m-1 13h0m-9-12h0m-4-6h0m-1 8h0m-224 4h0m-26-28h0m-23 6h0m-2 16h0m-9 8h0m-18-9h0m-212 7h0m-12-23h0m-23 18h0m-249-15h0m-6 8h0m-4-13h0m0-4h0m-7 14h0m-17 9h0m-1-9h0m-274-1h0m-29 0h0m-495 6h0m-8 5h0m-26-7h0m-5 14h0m-4 3h0m-10-33h0m-11 18h0m-9-12h0m-6 55h0m5 5h0m55-9h0m533-3h0m38 14h0m251 5h0m4 2h0m10-22h0m0 9h0m3-6h0m3 16h0m17-22h0m249 18h0m24-10h0m258-20h0m5 28h0m20-12h0m22 13h0m216 9h0m0-35h0m11 25h0m0 0h0m10 1h0m24-21h0m2 1h0m223 23h0m17-20h0m33-6h0m2-1h0m245 12h0m6 2h0m9-15h0m31-4h0m241 7h0m20 8h0m1 1h0m1 0h0m2-4h0m3-9h0m5 5h0m7 1h0m14 2h0m4 17h0m210-14h0m6 2h0m7 13h0m4-2h0m10 4h0m2-28h0m0 19h0m21-2h0m0-13h0m1-6h0m3 33h0m5-29h0m2 23h0m0-7h0m17-10h0m-5 62h0m-14-28h0m-6 11h0m-15 13h0m-4-24h0m-2 16h0m-20 15h0m-228 1h0m-16-6h0m-4-31h0m-6 14h0m-2-15h0m-8 39h0m-5-15h0m-15-3h0m-242-4h0m-2 9h0m-14-17h0m-12 13h0m-6-19h0m-4 16h0m-1-19h0m-252 27h0m-1 4h0m-14-22h0m-4-3h0m-22 5h0m-229-2h0m-6-2h0m-7 7h0m-7 17h0m-1-6h0m-12-13h0m-2-6h0m-7 3h0m-9 29h0m-3-27h0m-215 11h0m-24-20h0m-4 16h0m-3-16h0m-1 0h0m-6 24h0m-2 1h0m-11-12h0m-17 9h0m-1-17h0m-14 17h0m-245-6h0m-6-12h0m-261 25h0m-34-17h0m-12-15h0m-219 26h0m-7 0h0m-21-1h0m-19-18h0m-26-2h0m-488 26h0m-39-20h0m-27 39h0m22-6h0m4 24h0m36-6h0m1 6h0m7 10h0m1-3h0m497-23h0m17 16h0m8 3h0m1-14h0m12-3h0m2 3h0m263-14h0m11 17h0m271 10h0m8-5h0m31 14h0m220-10h0m29 9h0m1-33h0m1 18h0m19-7h0m21 16h0m7 7h0m207-19h0m0 9h0m14-14h0m3 11h0m8-14h0m13-11h0m3 23h0m8-5h0m0-3h0m9 3h0m13 15h0m11-13h0m212-9h0m14 15h0m5-6h0m5-17h0m1 13h0m28-14h0m2 36h0m10-16h0m208-18h0m8 22h0m10-24h0m22 8h0m0-3h0m1 13h0m2-16h0m2 27h0m2-13h0m6 13h0m255-12h0m10-13h0m31 32h0m215-35h0m33 8h0m1 0h0m1 15h0m1-4h0m1-2h0m6-18h0m0 33h0m31-22h0m11 29h0m0 12h0m-25 3h0m-2 22h0m-17-25h0m-3-2h0m-3 16h0m-3-17h0m-226 21h0m-11-14h0m-9 15h0m-11-17h0m-1-13h0m-2 1h0m-3 3h0m-5-7h0m-2 9h0m-258 21h0m-9 6h0m0-9h0m-8-22h0m-27 28h0m-237 3h0m-12-26h0m-1-5h0m-25-1h0m-1 28h0m-256-10h0m-30-14h0m-3 14h0m-1-10h0m-24-11h0m-3 10h0m-229 1h0m-7 4h0m-11-8h0m-3 6h0m-4-4h0m-1-1h0m-15 11h0m-21-19h0m-209 36h0m-26-1h0m-14 1h0m-6-14h0m-239 15h0m0-2h0m-15-33h0m-10 15h0m-8 13h0m-6-26h0m-18 5h0m-218-6h0m-606 11h0m-1 20h0m-21-9h0m-21 51h0m14-26h0m32 9h0m12-8h0m5-4h0m3 29h0m531 1h0m4-21h0m5-8h0m268 28h0m28-19h0m3-14h0m273 2h0m7 11h0m4-6h0m21 8h0m260 1h0m1-14h0m12 7h0m10-5h0m6 21h0m1-13h0m232-13h0m3 14h0m13 9h0m6 0h0m3-26h0m2 12h0m0 0h0m8 6h0m5 15h0m242 1h0m14-23h0m13 11h0m8 13h0m14-14h0m0 9h0m231-9h0m5-18h0m3 32h0m20 3h0m1-6h0m1-2h0m1-1h0m20-25h0m220 23h0m46 8h0m3-6h0m13-26h0m215 34h0m7 0h0m4-14h0m8-22h0m8 11h0m3 12h0m5 2h0m0-14h0m7 0h0m37 36h0m-4 8h0m-42 2h0m-227 18h0m-14-12h0m-10 1h0m-2 3h0m-23-9h0m-1 0h0m-3 3h0m-1-7h0m-232-15h0m-4 10h0m-29 18h0m-14-27h0m-256 6h0m-5 6h0m-11 23h0m-2-34h0m-2 32h0m-9-35h0m-6 33h0m-2-26h0m-14 25h0m-3-21h0m-11-6h0m-1 19h0m-4 13h0m-197-2h0m-10-6h0m-12-21h0m-5 18h0m-10-13h0m-2-7h0m-4 2h0m-4 17h0m-7-10h0m0 20h0m0-32h0m-21 26h0m-241 4h0m-20-17h0m-240 15h0m-13 1h0m-12 7h0m-7-15h0m-8 16h0m-253-9h0m-16 4h0m-7-25h0m-12 5h0m-5 11h0m0-14h0m-2-1h0m-6 21h0m-23-32h0m-216 2h0m-3 37h0m-4-15h0m-29-10h0m-11 1h0m-18 19h0m-5-16h0m-488-9h0m-2-1h0m-20 16h0m-13 5h0m-8-21h0m-35 70h0m36-19h0m2 15h0m50 4h0m510-28h0m25 4h0m33-11h0m219 2h0m25-1h0m16 28h0m5-19h0m2-7h0m11 6h0m228 8h0m40-11h0m2 14h0m251-16h0m0 8h0m2-8h0m263 11h0m26-2h0m26-13h0m264 6h0m24 15h0m6-12h0m3 7h0m227-15h0m28 24h0m22-10h0m220-1h0m29 13h0m4 7h0m8-4h0m6 1h0m4-4h0m23-13h0m5 4h0m238 4h0m23-20h0m0 61h0m-11-13h0m-12-1h0m-6-4h0m-11 10h0m-18 6h0m-10-19h0m-209 32h0m-36-7h0m-18-15h0m-524-13h0m-2 4h0m-49-5h0m-854 31h0m-235-12h0m-17-7h0m-9 8h0m-25-20h0m-8 27h0m-772-15h0m-20-10h0m-13 0h0m-11 14h0m-13-6h0m-6 5h0m1164 56h0m11 4h0m1392-33h0m15-1h0m-1440 71h0m0-2h0m-9 34h0m38-24h0m0 11h0m1 24h0m14-9h0"/>
<path transform="scale(.1)" fill="none" stroke="#878787" stroke-width="28" stroke-linecap="round" stroke-opacity="0.72" d="M4680 3040h0m-555 3h0m2542 68h0m-1683-1h0m-289-14h0m-15 6h0m1719 45h0m12 41h0m-9 4h0m-1142-4h0m-6 10h0m-551 35h0m267-9h0m854 8h0m565-18h0m7 7h0m8-7h0m276 37h0m-287 2h0m-1415 19h0m-293 11h0m282 26h0m303 7h0m297 43h0m-602-30h0m-16 17h0m-546 25h0m579-4h0m256 20h0m10-13h0m259 7h0m10 5h0m16-5h0m17 0h0m559 7h0m292 10h0m269-30h0m-1 57h0m-18 9h0m-538-1h0m-13-20h0m-283 2h0m-263 11h0m-8-2h0m-17-20h0m-562 5h0m-282-7h0m-553 37h0m-28-1h0m-2-25h0m-267 33h0m275 8h0m12-10h0m3 36h0m9-29h0m3 25h0m6-11h0m1-4h0m1106-7h0m258 22h0m7-27h0m5 20h0m5-10h0m5 16h0m5-29h0m1-2h0m8 4h0m3-2h0m7 23h0m1 8h0m527-6h0m299-4h0m7 46h0m-274-5h0m-293-11h0m-267-5h0m-11 7h0m-2-11h0m-1 6h0m-9 9h0m-1 14h0m-262-15h0m-2-1h0m0 13h0m-5-30h0m-560 8h0m-18-11h0m-539 32h0m-20-14h0m-2-13h0m-1-4h0m0 27h0m-2 7h0m-7 4h0m-1-21h0m-21-1h0m-6 15h0m7 26h0m8 8h0m1 4h0m2 6h0m11-37h0m4 24h0m4-21h0m8 6h0m4 26h0m22-21h0m234 19h0m19 4h0m560-19h0m259 22h0m26-25h0m6 10h0m263 0h0m10-17h0m6-7h0m2 18h0m1 1h0m8-2h0m0 9h0m6 4h0m2-5h0m9 9h0m6-6h0m8-4h0m249-3h0m287-2h0m266 10h0m10-4h0m15 6h0m291 33h0m-580-1h0m-300 4h0m-249 9h0m-8-8h0m-6-1h0m-24 11h0m-4-16h0m-23-10h0m0 5h0m0 6h0m-256-20h0m-14 10h0m-264-6h0m-266 9h0m-7 5h0m-20-2h0m-544 10h0m-1 8h0m-13-24h0m-20 4h0m-7-10h0m-5 1h0m-2 55h0m5-6h0m13 0h0m12-11h0m6 24h0m0-21h0m8 5h0m13 12h0m270 8h0m280-27h0m20 16h0m7-6h0m271 2h0m248-17h0m18-1h0m4 32h0m31-32h0m230 20h0m0 6h0m6-10h0m13 7h0m8 12h0m4-12h0m13 6h0m10-26h0m248 20h0m277-10h0m604 56h0m-35-24h0m-9 26h0m-12-33h0m-232 23h0m-18 4h0m-256-4h0m-16-18h0m-581 5h0m-11 2h0m0-12h0m-3 29h0m-282-29h0m-262 36h0m-8-17h0m-272 10h0m-12 4h0m-4 4h0m-13-22h0m-272-6h0m-251 20h0m-22 6h0m-3-30h0m0 24h0m-2 2h0m-6-19h0m-1 4h0m-7 21h0m-14-19h0m-12 5h0m-10 17h0m21 33h0m20-10h0m5-19h0m7 29h0m0 0h0m10-26h0m2-5h0m540 2h0m13 0h0m553 0h0m38 8h0m227 9h0m13 10h0m16-22h0m11 17h0m10-16h0m264 14h0m282 11h0m2-16h0m20 12h0m241-2h0m5-4h0m18-13h0m7 27h0m5-16h0m261 4h0m4-18h0m38-3h0m-58 48h0m-229 16h0m-12-19h0m-7 18h0m-17-10h0m-298-1h0m-516 20h0m-11-25h0m-13 16h0m-12-5h0m-37-12h0m-212 19h0m-17-1h0m-1-18h0m-12 17h0m-7-10h0m-533-15h0m-50 16h0m-253 11h0m-20-11h0m-235 6h0m-29-16h0m-3 8h0m-25-12h0m0 12h0m-7-5h0m-8 11h0m1 23h0m2 20h0m1 3h0m3-19h0m20 11h0m1-14h0m12-5h0m1 1h0m1-3h0m8 30h0m0 7h0m4-33h0m265 11h0m262 18h0m23-18h0m290 11h0m253 9h0m11 0h0m7-19h0m0 18h0m11-23h0m23 10h0m7 17h0m223-6h0m2-20h0m9-6h0m8-4h0m3 11h0m3 21h0m2 4h0m15-19h0m6-13h0m264 19h0m254-25h0m38 23h0m14-2h0m240 0h0m23 8h0m9-20h0m0 21h0m34-21h0m202-1h0m37-2h0m34 6h0m-35 60h0m0-12h0m-256 11h0m-1-32h0m-27 30h0m-298-14h0m-9 5h0m-1 8h0m-244-18h0m-9 5h0m-282 0h0m0-8h0m-10 24h0m-3-3h0m-2-16h0m-1 13h0m-1-6h0m-1 10h0m-282-27h0m-1 5h0m-5 32h0m-1-15h0m-4 5h0m0-4h0m-9-13h0m-546-13h0m-2 24h0m-5-17h0m-523 23h0m-4-1h0m-14-17h0m-13 25h0m-11-34h0m-1 12h0m-19 15h0m-19-26h0m36 61h0m2 6h0m11-29h0m5 34h0m1-31h0m21 27h0m822-21h0m38 4h0m228 14h0m17-17h0m253-12h0m20 30h0m4 1h0m1 4h0m9-6h0m3-11h0m7 11h0m6-24h0m3-4h0m524 4h0m24 16h0m251 17h0m28 2h0m3-33h0m17 14h0m26 9h0m4-2h0m246-6h0m3-22h0m16 12h0m1 14h0m-9 34h0m-9 17h0m-254-14h0m-47-1h0m-4-16h0m-237-1h0m-3 15h0m-15 6h0m-5-19h0m-13 10h0m-284-2h0m-1 8h0m-245-21h0m-2 6h0m-11 12h0m-7-1h0m-1 15h0m-1-2h0m-4-28h0m-1 13h0m-4 14h0m-1 3h0m-2-14h0m-27 1h0m-255-16h0m-12 11h0m-2 21h0m-1-13h0m-24-9h0m-218 7h0m-294 6h0m-16-3h0m-7 3h0m-1 10h0m-17 0h0m-512-23h0m-15-6h0m-9 22h0m-10-7h0m-9-5h0m-1-1h0m-5 3h0m-2 1h0m-1 13h0m-1-19h0m0-13h0m-1 10h0m-5 26h0m-286 10h0m275 18h0m8-11h0m3-3h0m1 11h0m13-16h0m15 21h0m11 2h0m4-12h0m18-14h0m799 20h0m9-14h0m8-3h0m2 3h0m12 10h0m10 6h0m235 12h0m4-17h0m11-1h0m9-12h0m244 19h0m17 6h0m6-28h0m6 15h0m5 17h0m20-5h0m26-29h0m503-4h0m5 31h0m12-5h0m10-6h0m0-10h0m2 29h0m2-28h0m6 7h0m15-2h0m237-12h0m16 5h0m31 0h0m8 21h0m0-10h0m232-1h0m8-5h0m5 2h0m5 15h0m5 8h0m22-12h0m8-24h0m1 32h0m-21 41h0m-6-15h0m-1 5h0m-2-13h0m-3 8h0m-22 2h0m-3-12h0m-9 10h0m-209 14h0m-21-33h0m-11 17h0m-3 7h0m-1 1h0m-1-13h0m-5 1h0m-25 19h0m-219-19h0m-16 12h0m-22-20h0m-8 7h0m-13 2h0m-6-13h0m-25 13h0m-245 14h0m-5 3h0m-241-18h0m-36 17h0m-2 3h0m-15-26h0m-225-1h0m-53 23h0m-238 8h0m-28-13h0m-2-22h0m-37-3h0m0 6h0m-239 29h0m-12-28h0m-3 12h0m-5 15h0m-6-31h0m-286-1h0m-236 22h0m-10 8h0m-1-28h0m-11 0h0m-1 26h0m-8-12h0m-4-1h0m-3 3h0m-3-1h0m-10 12h0m-10-9h0m-5-7h0m-10 9h0m-3-3h0m-252-8h0m255 46h0m3-19h0m6 0h0m4 7h0m11 4h0m1 19h0m4 4h0m1-32h0m2-1h0m6 31h0m13-29h0m3 7h0m3-1h0m4 9h0m3-1h0m0 20h0m527-18h0m31-8h0m13 19h0m15-9h0m272 17h0m221-10h0m10-8h0m7 0h0m2-4h0m15 6h0m276-23h0m1 33h0m1-31h0m21 19h0m273-21h0m11 9h0m256 19h0m2-13h0m4 11h0m7 4h0m0-11h0m4 18h0m10-22h0m13 3h0m13 13h0m207-2h0m25-4h0m24 8h0m7 7h0m6-9h0m6-14h0m225 21h0m5-16h0m6 3h0m36 12h0m22-36h0m1 21h0m0-8h0m-23 64h0m-20-30h0m-10 28h0m-13-23h0m-9-10h0m-202 3h0m-23 0h0m-4 33h0m-20-35h0m-9 13h0m-1 1h0m-4 8h0m-255 0h0m-2-20h0m-7 23h0m-5-2h0m-20-5h0m-8-11h0m-13 19h0m-221-16h0m-1 21h0m-1-14h0m-26 3h0m-269-11h0m-6 5h0m-2-4h0m-2-14h0m-6 28h0m-9-22h0m-245-2h0m0 5h0m-12 4h0m-31-13h0m-4 3h0m-252-1h0m-29 24h0m-216-20h0m-15 25h0m-16-4h0m-12-5h0m-8 3h0m-4-4h0m-2-9h0m-1-1h0m-15-10h0m-15 3h0m-502 32h0m-7-12h0m-6 11h0m-2-28h0m-5 18h0m-20 14h0m-14-25h0m-6-10h0m-253 19h0m-5 5h0m-26 46h0m13-4h0m13-12h0m29-6h0m229 7h0m13 12h0m5 7h0m0-26h0m2 7h0m4 5h0m1 5h0m0 10h0m8-8h0m11-25h0m2-5h0m7 39h0m3-4h0m7 0h0m10-32h0m508 25h0m3-13h0m24-15h0m10 35h0m11-18h0m548 14h0m9-19h0m27 21h0m225-30h0m9 14h0m3 8h0m3 10h0m0-31h0m12-1h0m4 34h0m241-12h0m26-19h0m6 28h0m10-4h0m250-29h0m9-2h0m20 29h0m2-25h0m0-3h0m3 37h0m9-19h0m6-14h0m232 11h0m11-10h0m2 31h0m4-15h0m7-18h0m0 9h0m1-1h0m1 19h0m4 4h0m4-15h0m6-12h0m21 7h0m208 3h0m32 8h0m4 9h0m14-14h0m22 2h0m6 7h0m6-21h0m-43 44h0m-6-6h0m-10 10h0m-18 12h0m-2-14h0m-218-9h0m-12 7h0m-2-4h0m-2 30h0m-4-33h0m-25-3h0m-3 27h0m-8 9h0m0-39h0m-13 13h0m-233 17h0m-1-8h0m-275 15h0m-10-3h0m-2-29h0m-8 31h0m-6-32h0m-5 9h0m-5 15h0m-245-10h0m-7 5h0m-9-13h0m-15 17h0m0-26h0m-1 15h0m0-11h0m-14 23h0m-7-8h0m-227-9h0m-15 5h0m-1-3h0m-1-3h0m-28 13h0m-9-7h0m-16 23h0m-239-33h0m-5 4h0m-11 26h0m-224-12h0m-12 12h0m-19-1h0m-306-32h0m-1 30h0m-233-25h0m-26 14h0m0 6h0m-4-9h0m-3-18h0m-8 4h0m-1 34h0m0-27h0m-4-10h0m-9 37h0m-7-33h0m-3 14h0m-7 16h0m-4-12h0m-218-21h0m-15 28h0m-9-4h0m-18 36h0m255 13h0m1-33h0m0 28h0m3-31h0m13 24h0m6-1h0m2 15h0m2-14h0m1 3h0m3-2h0m5-19h0m526 24h0m6-25h0m15 11h0m38-15h0m8 38h0m250-33h0m32 11h0m234 16h0m24-19h0m9 2h0m7-2h0m0 22h0m231 2h0m47-33h0m21 21h0m246-17h0m8 13h0m11-3h0m8 3h0m1-13h0m23-7h0m201 31h0m8-30h0m1 29h0m8-4h0m8 5h0m3-23h0m33-4h0m0-4h0m226 14h0m6 22h0m27-37h0m5 14h0m7 22h0m1-3h0m1 2h0m2-32h0m0 29h0m4 0h0m6-16h0m13 2h0m219 18h0m8-37h0m11 25h0m6 1h0m15-19h0m1 16h0m1-19h0m2 28h0m2-21h0m-4 34h0m-2 11h0m-1-11h0m-21 31h0m-7-16h0m-24 15h0m-217-22h0m-10 5h0m-4-12h0m-21 27h0m-23-21h0m-224 17h0m-25-15h0m-17-11h0m-7 23h0m-1-21h0m-10 15h0m-202-4h0m-30-9h0m-34 28h0m-258-34h0m-5 23h0m-1-9h0m-2-9h0m-1 11h0m-2 6h0m-5-21h0m-3 21h0m-9-8h0m-4-6h0m-2 1h0m-19 21h0m-202 9h0m-8-21h0m-11 1h0m-12-18h0m-14-1h0m0 25h0m-2 3h0m-2-14h0m-8 8h0m-249-6h0m-317-11h0m-278 9h0m-20-5h0m-209-7h0m-15 11h0m-2-3h0m-10 25h0m-3-23h0m-7-5h0m-1 13h0m-11 0h0m-2-15h0m-2 15h0m-3-4h0m-2 3h0m-3 2h0m-1-13h0m-265 0h0m-1 69h0m7-35h0m31 12h0m208 3h0m15 18h0m14 2h0m9-28h0m0 16h0m6-24h0m32 24h0m496-21h0m2 28h0m7-13h0m2 1h0m11 5h0m4 1h0m4 5h0m1-20h0m11 10h0m242 15h0m6-18h0m5-1h0m5-15h0m2 9h0m36-9h0m236 19h0m19-20h0m2 34h0m8-28h0m1 1h0m5 6h0m1 11h0m6-18h0m4-7h0m10 13h0m237-1h0m19 5h0m3-3h0m13 11h0m8-20h0m2 33h0m1-28h0m13-3h0m224 17h0m21 1h0m13-21h0m15 20h0m7-22h0m214 13h0m5 5h0m17 16h0m2-22h0m6 9h0m6-17h0m12 16h0m231 2h0m1-15h0m14-8h0m13 37h0m27-13h0m6-22h0m1 1h0m3 14h0m234 7h0m9 9h0m5-11h0m1 12h0m2-6h0m4-25h0m1 25h0m3 3h0m1-2h0m32 1h0m12 9h0m-11-1h0m-12 31h0m-22-29h0m-3 1h0m-1 9h0m-7 22h0m-25-16h0m-214 5h0m-6-18h0m-11-5h0m-1 8h0m-8 19h0m-2-25h0m-2 30h0m0-28h0m-9-1h0m-1 22h0m-5 5h0m-10-13h0m-5-1h0m-14 18h0m-230-8h0m-12-22h0m-6 35h0m-2-30h0m-17-9h0m-241 23h0m-3-5h0m-28 20h0m-224-16h0m-31-20h0m-6 26h0m-9 3h0m-6-30h0m-1 37h0m-2 1h0m0-13h0m-1-4h0m-10-15h0m-20 18h0m-12 5h0m-204-16h0m-8 6h0m-6-14h0m-11 22h0m-3 8h0m-7-16h0m-5 19h0m-5-32h0m-6 0h0m-223 2h0m-17-2h0m-22 17h0m-19 12h0m-18-1h0m-215-5h0m-19-29h0m-6 10h0m-6-6h0m-1 11h0m-283-15h0m-265 15h0m-3-13h0m-3 16h0m-4 4h0m0 2h0m-1-17h0m-12 1h0m-12 9h0m-2 1h0m-12-11h0m-248 25h0m0 18h0m7 22h0m1-23h0m215 19h0m12 4h0m4-4h0m7-3h0m0-1h0m9-9h0m5-15h0m10 7h0m8 14h0m45 3h0m196 11h0m284-21h0m29 12h0m0 4h0m6-6h0m5-23h0m11 13h0m17-6h0m0 14h0m496-23h0m15 24h0m14-9h0m2 20h0m6-26h0m3-6h0m4 14h0m4 22h0m11-30h0m0 27h0m3-25h0m14-4h0m2 0h0m1 10h0m207-11h0m13 11h0m12 9h0m6-13h0m6 17h0m1 1h0m1 0h0m14 5h0m0-20h0m12-5h0m3-10h0m2 23h0m15-13h0m3 16h0m198 12h0m16-8h0m18-21h0m1 4h0m18-2h0m28 23h0m219-9h0m6 9h0m43-7h0m23-24h0m196 14h0m25-14h0m7 11h0m16 13h0m9-8h0m29 11h0m3-11h0m211-3h0m33-15h0m2 33h0m5-23h0m0 13h0m10-24h0m19 67h0m-11-6h0m-18 14h0m-21-23h0m-2 20h0m-3 5h0m0-19h0m-9 15h0m-220-27h0m-10-7h0m0 32h0m-2-26h0m-16 18h0m-4 2h0m-8-14h0m-13-7h0m-7 10h0m-24 0h0m-1 12h0m-220-6h0m-13 4h0m0 1h0m-39-23h0m-9 3h0m-210 15h0m-14 15h0m-59-13h0m-198 13h0m-21-25h0m-11 23h0m-10 0h0m0-17h0m-12 2h0m-3-17h0m0 0h0m-2 38h0m-7-17h0m-15-17h0m-2 14h0m-231-19h0m0 1h0m-3 12h0m-3-7h0m-2 2h0m-5 14h0m-1-22h0m-3 18h0m-13-18h0m-3 0h0m-8 39h0m-8-3h0m-4-24h0m-241 18h0m-4-2h0m-284-8h0m-4-16h0m-13 1h0m-3 33h0m-1-33h0m-15 32h0m-237 1h0m-7-29h0m-11-5h0m-242 10h0m-8 4h0m-13-3h0m-3-13h0m-1 8h0m-38-2h0m-1 11h0m-29-12h0m-218 1h0m-24 21h0m-7 8h0m-19-36h0m29 65h0m11-18h0m6 29h0m826 2h0m2-36h0m25 1h0m12 28h0m25-18h0m224 21h0m3-4h0m12-27h0m8 8h0m6-9h0m5 8h0m260 9h0m5-12h0m9 26h0m12-34h0m0 27h0m217-17h0m17 13h0m19 10h0m11-10h0m239-6h0m18 19h0m18-17h0m13 1h0m7-1h0m11-3h0m5 1h0m3 9h0m0 5h0m15-14h0m206-11h0m0 7h0m9-9h0m14 11h0m38-5h0m9-2h0m0-3h0m219 31h0m29-8h0m0 2h0m4-17h0m4-5h0m9-4h0m226 23h0m13 2h0m1-1h0m1 1h0m0-26h0m6-3h0m3 24h0m10 0h0m6 11h0m12-6h0m21 7h0m1 2h0m-28 32h0m-3-11h0m-5 18h0m-1-35h0m-2 2h0m-10 23h0m-2-2h0m-4 8h0m-11-25h0m-230 25h0m-4-22h0m-47-5h0m-15-2h0m-213 17h0m-23-3h0m-2-12h0m-4 1h0m-1 7h0m-4-13h0m-2 10h0m-10 15h0m-2-25h0m-218 7h0m-12 18h0m-26-11h0m-3 23h0m-5-7h0m-8-26h0m-9 17h0m-12 0h0m-230 8h0m-13-12h0m-2-19h0m-1 10h0m-6-4h0m-12-1h0m-3 27h0m-9-25h0m-7 19h0m-223 2h0m-28-10h0m-19 9h0m-1-26h0m-5-1h0m-6 1h0m-20 35h0m-236-4h0m-39-18h0m-203 7h0m-18-10h0m-9 17h0m-3 8h0m-10-19h0m-12 6h0m-2 4h0m-2-24h0m-2 11h0m-796-2h0m-5 4h0m-6 4h0m-7 2h0m-19 16h0m0-17h0m-15 13h0m-23 7h0m48 26h0m10 11h0m800-5h0m15-2h0m20-1h0m12-21h0m25 11h0m232 4h0m279 5h0m10-21h0m1 11h0m11 12h0m5-18h0m1-7h0m2-3h0m4-1h0m1 10h0m244 15h0m1 0h0m8 1h0m3-7h0m5-17h0m22 1h0m17 25h0m4-19h0m203 11h0m16-2h0m2 12h0m4-13h0m11-19h0m7 39h0m2-28h0m7 3h0m0 0h0m7 8h0m2 9h0m231 9h0m6-27h0m13 19h0m5 0h0m2-27h0m14 7h0m0-7h0m1 21h0m11-22h0m241 21h0m10-22h0m3 19h0m22-2h0m1-18h0m12 31h0m23-6h0m195-20h0m5 0h0m21 22h0m4-8h0m4-11h0m2 13h0m3-2h0m3 11h0m2-3h0m1-7h0m0 17h0m3-34h0m8 16h0m9 7h0m9-20h0m-17 63h0m-7 3h0m-3 1h0m-6-4h0m-17-9h0m-8-21h0m-217 24h0m-37-13h0m-8 17h0m-4-24h0m-5 14h0m-9 5h0m-19-2h0m-245-3h0m-5 20h0m-9-5h0m-4 4h0m-14-1h0m-217-5h0m-47-4h0m-255-9h0m-5 2h0m0 10h0m-4-7h0m-2-13h0m-5-1h0m-3-5h0m-6 3h0m-1 16h0m0-8h0m-17-13h0m-22-2h0m-228 30h0m-4-31h0m-6 38h0m-2-28h0m-2-9h0m-250 26h0m-274 8h0m-7-30h0m-25 31h0m-2-21h0m-9 6h0m-2 11h0m0-27h0m-1 7h0m-12 25h0m-255-10h0m-546-22h0m-19 21h0m-16 9h0m-11-25h0m-9 48h0m1 13h0m36-8h0m14 1h0m522 12h0m61-14h0m229-11h0m9 21h0m1-1h0m6-26h0m260 30h0m20-19h0m6 12h0m1-10h0m5 20h0m247-28h0m0 11h0m14-9h0m13-2h0m17 9h0m2 13h0m8-19h0m222 17h0m15-23h0m0 3h0m12 11h0m2 2h0m21 16h0m11-32h0m2 26h0m234-6h0m7-23h0m7 9h0m4 4h0m13 7h0m8 3h0m30 12h0m248-35h0m5 16h0m226-4h0m37 14h0m6-17h0m0 0h0m10-8h0m10 23h0m27-3h0m210-21h0m3 1h0m3 11h0m9 23h0m20-1h0m1-19h0m5 12h0m15 47h0m-12-24h0m-1 5h0m-4 3h0m0-9h0m-16 12h0m-34-9h0m-199 7h0m-21-7h0m-4-14h0m-19 16h0m-5 17h0m-2-15h0m-262 15h0m-4-34h0m-3 35h0m-4-7h0m-1-3h0m-4 9h0m0-9h0m-5 13h0m-4-14h0m-8-15h0m-16 10h0m-249-15h0m-4 17h0m-11-4h0m-1-2h0m-19-10h0m-2 18h0m-8-14h0m-197-5h0m-31 32h0m-22 2h0m-23-27h0m-20-4h0m-202 17h0m-9 1h0m-1 7h0m-7-26h0m-20 12h0m-5 10h0m0-9h0m-7 10h0m-7 2h0m-2-28h0m-17 29h0m-4-15h0m-225 3h0m-9 4h0m-5 11h0m-10-10h0m-14-25h0m-238 28h0m-23-6h0m-11-7h0m-2-12h0m-10 19h0m-19-6h0m-237 2h0m-565-14h0m-7 29h0m-7-20h0m-8 43h0m60 14h0m0 1h0m480-30h0m52 24h0m1-10h0m235-7h0m9-5h0m13 10h0m9-1h0m28 15h0m249 11h0m20-17h0m257 1h0m2-14h0m3 11h0m3-1h0m9 18h0m0-1h0m24-8h0m8-11h0m16 7h0m207 15h0m11 1h0m9-26h0m0-12h0m2 18h0m0-18h0m5 21h0m3-18h0m1 9h0m27 19h0m3-13h0m223-2h0m27 8h0m16-1h0m0-4h0m3 4h0m28 11h0m216-15h0m8 2h0m11 14h0m6-7h0m2-17h0m6-7h0m23 2h0m1-8h0m226 13h0m3 2h0m6-2h0m5 15h0m2-19h0m1 24h0m3-25h0m4 9h0m0-11h0m9-3h0m13 33h0m22-7h0m230-23h0m20-1h0m7 18h0m15-2h0m12 5h0m-6 39h0m-1-1h0m-13-6h0m-10 15h0m-3-19h0m-10 22h0m-1-8h0m-8 7h0m-33-4h0m-189-15h0m-39 7h0m-3 6h0m-14-11h0m-2 15h0m-5-4h0m-10-23h0m-240 22h0m-5 11h0m-5-3h0m-21-6h0m-4-15h0m-2-10h0m-26 4h0m-199-8h0m-30 31h0m-4-18h0m-7-1h0m-1 10h0m-3-4h0m-1 19h0m-234-27h0m-6 28h0m-8-38h0m-9 6h0m-12-2h0m-259 25h0m-1-18h0m-34-4h0m-4-2h0m-2 5h0m-2-9h0m0 32h0m-2-27h0m-11 8h0m-3 1h0m-22 10h0m-218 1h0m-19-2h0m-5-13h0m0 25h0m-2-27h0m-1 9h0m-8-5h0m-15-14h0m-7 32h0m-226-10h0m-2-13h0m-3 21h0m-3-21h0m-9-5h0m-4 15h0m-8 18h0m-16-14h0m-19 0h0m-204 13h0m-7-25h0m-12-6h0m0 17h0m-24 11h0m-19-2h0m-505 7h0m-4-9h0m-24-2h0m-17 8h0m-24-27h0m-1-7h0m-12 73h0m22-30h0m8-2h0m5 27h0m10-23h0m10 20h0m0-16h0m560 27h0m266-28h0m4 15h0m1-9h0m3-10h0m2 13h0m5-6h0m0-7h0m5 29h0m3-28h0m1 2h0m8 11h0m10 17h0m10-2h0m229-25h0m9-9h0m2 18h0m4 21h0m257-36h0m18 2h0m5 11h0m4 15h0m3-4h0m4-17h0m19 3h0m7-11h0m14 1h0m214 10h0m5-6h0m3 16h0m0-1h0m11 1h0m6-12h0m3-2h0m14 9h0m1 2h0m9 18h0m1-34h0m235 25h0m17-10h0m7 11h0m6-30h0m1 14h0m15 23h0m219 3h0m7-36h0m18 34h0m9-20h0m10 14h0m0 0h0m251-5h0m19-11h0m1-13h0m0 30h0m0-24h0m21-2h0m6 19h0m9-22h0m1 20h0m4-22h0m1 27h0m16 7h0m189-26h0m0 4h0m33 14h0m1-14h0m5-13h0m7 11h0m2-2h0m6 3h0m3 4h0m23 22h0m1-19h0m-5 54h0m-11-26h0m-18-2h0m-2 2h0m-2 19h0m-2-5h0m-3 8h0m-6-28h0m-1 33h0m-31 5h0m-189-32h0m0 21h0m0-9h0m-25 19h0m-2-1h0m-7-13h0m-9 12h0m-2-6h0m-1-15h0m-5 10h0m-4 5h0m0 9h0m-23-28h0m-208-4h0m-48-2h0m-2 19h0m-7 5h0m-1 2h0m-9-10h0m-6-2h0m-3 10h0m-5-23h0m-221-5h0m-1 28h0m-2-16h0m-3-8h0m-17 28h0m-16-1h0m-4-16h0m-7 1h0m-6 14h0m-2 4h0m-217 2h0m-6-18h0m-12-1h0m0 11h0m-22 0h0m-3-26h0m-1 14h0m-2-11h0m-5 12h0m-4 9h0m-9-3h0m0-12h0m-4 27h0m-2-8h0m-3 7h0m-2-13h0m-9-22h0m-205-3h0m-11 8h0m-11 13h0m-8 15h0m-11-26h0m-7-2h0m-6 26h0m-2-12h0m-18-4h0m-4 19h0m-510-32h0m-3 31h0m-21-6h0m-3-26h0m-10 26h0m-250 0h0m-21 4h0m-18-30h0m-498 3h0m-36 16h0m533 43h0m48-26h0m0 11h0m243 13h0m1-23h0m5 36h0m9-27h0m13 0h0m6 6h0m12 21h0m221-37h0m38 11h0m253 26h0m17-10h0m14 7h0m0-30h0m10 26h0m3-9h0m20-21h0m4 0h0m221 37h0m7-25h0m14 22h0m1 1h0m1-24h0m2 19h0m7 8h0m7-25h0m17 9h0m11 10h0m2-23h0m228 29h0m0-33h0m9 1h0m4 5h0m9-6h0m0 1h0m234 7h0m25 25h0m35-23h0m265 6h0m1-22h0m9 39h0m1-1h0m7-11h0m6-27h0m2 29h0m5-3h0m225-23h0m8 3h0m4 2h0m9-3h0m12 3h0m15 14h0m0-21h0m1 19h0m6-11h0m0 28h0m17 37h0m-20-18h0m-14 10h0m0-3h0m-3-13h0m-3 4h0m0-4h0m-2 9h0m-31-12h0m-15 14h0m-221 7h0m-10-11h0m-3 3h0m-4 6h0m-27-8h0m-2-6h0m-208-6h0m-9 7h0m-26 10h0m-2-11h0m-10 20h0m-7-5h0m-1-14h0m-15-7h0m-8 15h0m-241-1h0m-2-6h0m-8-8h0m-10-5h0m-1 26h0m-4-24h0m-10 16h0m-11-8h0m-227 11h0m-5-9h0m-13 13h0m0-19h0m-12 7h0m-20 22h0m-236-1h0m-25-10h0m-16-2h0m-20 1h0m-245-23h0m-1 6h0m-3 13h0m-28-10h0m-225-9h0m-24 9h0m-3 11h0m-4-17h0m-18 35h0m-263-20h0m-4 21h0m-575-31h0m-14 28h0m-1-9h0m-15 12h0m0 23h0m19-7h0m20 17h0m1-20h0m3-7h0m10 11h0m11-1h0m517 0h0m21 0h0m270-7h0m10 31h0m7-34h0m262 7h0m26 14h0m248-16h0m35-3h0m12 5h0m253-6h0m14 3h0m1 0h0m9 5h0m10-6h0m253 6h0m15 8h0m18-13h0m9 20h0m1 7h0m12-13h0m6-21h0m209 15h0m9 8h0m5-15h0m6-6h0m1 27h0m2 1h0m47-10h0m232-3h0m18-1h0m12 4h0m1-6h0m7-4h0m26-6h0m200 11h0m2 8h0m5-26h0m13 11h0m9 22h0m18 1h0m1-20h0m12 7h0m-5 28h0m-7 12h0m-10-5h0m-2 7h0m-6-5h0m-12 6h0m-29 1h0m-189-6h0m-26 8h0m-15-7h0m-6 9h0m-1 9h0m-1-30h0m-3 22h0m-6-26h0m-16-3h0m-525 9h0m-3-6h0m-20 0h0m-825 14h0m-16-9h0m-7 23h0m-26-25h0m-213 16h0m-39-7h0m-5 1h0m-4 10h0m-1-1h0m-29-14h0m311 65h0m21-18h0m8-5h0m1419-13h0m-1412 49h0m-13-9h0m-23 15h0m-12-16h0m-5 74h0m17-7h0m24 8h0m13 1h0m11-21h0m-84 27h0"/>
<rect x="376.7" y="450.0" width="14.6" height="78.2" fill="none" stroke="#000" stroke-width="1.1"/>
<line x1="376.7" y1="491.0" x2="391.3" y2="491.0" stroke="#000" stroke-width="1.6"/>
<text x="0" y="0" font-size="8" text-anchor="middle" fill="#111" transform="translate(385.4,591.6) rotate(-30)">PE</text>
<line x1="384.0" y1="578.5" x2="384.0" y2="580.3" stroke="#333" stroke-width="0.7"/>
<rect x="404.6" y="431.9" width="14.6" height="43.1" fill="none" stroke="#000" stroke-width="1.1"/>
<line x1="404.6" y1="453.6" x2="419.2" y2="453.6" stroke="#000" stroke-width="1.6"/>
<text x="0" y="0" font-size="8" text-anchor="middle" fill="#111" transform="translate(413.3,591.6) rotate(-30)">ESR</text>
<line x1="411.9" y1="578.5" x2="411.9" y2="580.3" stroke="#333" stroke-width="0.7"/>
<rect x="433.3" y="428.3" width="14.6" height="78.5" fill="none" stroke="#000" stroke-width="1.1"/>
<line x1="433.3" y1="465.1" x2="447.9" y2="465.1" stroke="#000" stroke-width="1.6"/>
<text x="0" y="0" font-size="8" text-anchor="middle" fill="#111" transform="translate(442.0,591.6) rotate(-30)">VE</text>
<line x1="440.6" y1="578.5" x2="440.6" y2="580.3" stroke="#333" stroke-width="0.7"/>
<rect x="461.9" y="418.4" width="14.6" height="84.2" fill="none" stroke="#000" stroke-width="1.1"/>
<line x1="461.9" y1="452.0" x2="476.5" y2="452.0" stroke="#000" stroke-width="1.6"/>
<text x="0" y="0" font-size="8" text-anchor="middle" fill="#111" transform="translate(470.6,591.6) rotate(-30)">SE</text>
<line x1="469.2" y1="578.5" x2="469.2" y2="580.3" stroke="#333" stroke-width="0.7"/>
<rect x="490.3" y="456.9" width="14.6" height="105.1" fill="none" stroke="#000" stroke-width="1.1"/>
<line x1="490.3" y1="512.4" x2="504.9" y2="512.4" stroke="#000" stroke-width="1.6"/>
<text x="0" y="0" font-size="8" text-anchor="middle" fill="#111" transform="translate(499.0,591.6) rotate(-30)">AL</text>
<line x1="497.6" y1="578.5" x2="497.6" y2="580.3" stroke="#333" stroke-width="0.7"/>
<rect x="518.5" y="427.3" width="14.6" height="79.5" fill="none" stroke="#000" stroke-width="1.1"/>
<line x1="518.5" y1="464.1" x2="533.1" y2="464.1" stroke="#000" stroke-width="1.6"/>
<text x="0" y="0" font-size="8" text-anchor="middle" fill="#111" transform="translate(527.2,591.6) rotate(-30)">SCU</text>
<line x1="525.8" y1="578.5" x2="525.8" y2="580.3" stroke="#333" stroke-width="0.7"/>
<rect x="546.9" y="432.2" width="14.6" height="53.3" fill="none" stroke="#000" stroke-width="1.1"/>
<line x1="546.9" y1="456.9" x2="561.5" y2="456.9" stroke="#000" stroke-width="1.6"/>
<text x="0" y="0" font-size="8" text-anchor="middle" fill="#111" transform="translate(555.6,591.6) rotate(-30)">EM</text>
<line x1="554.2" y1="578.5" x2="554.2" y2="580.3" stroke="#333" stroke-width="0.7"/>
<rect x="575.6" y="442.0" width="14.6" height="64.8" fill="none" stroke="#000" stroke-width="1.1"/>
<line x1="575.6" y1="468.0" x2="590.2" y2="468.0" stroke="#000" stroke-width="1.6"/>
<text x="0" y="0" font-size="8" text-anchor="middle" fill="#111" transform="translate(584.3,591.6) rotate(-30)">EAS</text>
<line x1="582.9" y1="578.5" x2="582.9" y2="580.3" stroke="#333" stroke-width="0.7"/>
<rect x="603.9" y="433.9" width="14.6" height="65.4" fill="none" stroke="#000" stroke-width="1.1"/>
<line x1="603.9" y1="460.2" x2="618.5" y2="460.2" stroke="#000" stroke-width="1.6"/>
<text x="0" y="0" font-size="8" text-anchor="middle" fill="#111" transform="translate(612.6,591.6) rotate(-30)">PC</text>
<line x1="611.2" y1="578.5" x2="611.2" y2="580.3" stroke="#333" stroke-width="0.7"/>
<rect x="632.5" y="427.6" width="14.6" height="79.2" fill="none" stroke="#000" stroke-width="1.1"/>
<line x1="632.5" y1="453.6" x2="647.1" y2="453.6" stroke="#000" stroke-width="1.6"/>
<text x="0" y="0" font-size="8" text-anchor="middle" fill="#111" transform="translate(641.2,591.6) rotate(-30)">CZ</text>
<line x1="639.8" y1="578.5" x2="639.8" y2="580.3" stroke="#333" stroke-width="0.7"/>
<rect x="660.4" y="429.6" width="14.6" height="72.6" fill="none" stroke="#000" stroke-width="1.1"/>
<line x1="660.4" y1="456.9" x2="675.0" y2="456.9" stroke="#000" stroke-width="1.6"/>
<text x="0" y="0" font-size="8" text-anchor="middle" fill="#111" transform="translate(669.1,591.6) rotate(-30)">BETL</text>
<line x1="667.7" y1="578.5" x2="667.7" y2="580.3" stroke="#333" stroke-width="0.7"/>
<line x1="366.8" y1="198" x2="366.8" y2="578.5" stroke="#000" stroke-width="1.3"/>
<line x1="366.15000000000003" y1="578.5" x2="685" y2="578.5" stroke="#000" stroke-width="1.3"/>
<circle cx="372.8" cy="263.3" r="1.2" fill="#7fbfe0"/>
<circle cx="377.0" cy="284.0" r="1.2" fill="#7fbfe0"/>
<circle cx="374.0" cy="394.0" r="1.2" fill="#7fbfe0"/>
<circle cx="377.0" cy="398.0" r="1.2" fill="#7fbfe0"/>
<circle cx="380.0" cy="385.0" r="1.2" fill="#7fbfe0"/>
<circle cx="386.0" cy="381.0" r="1.2" fill="#7fbfe0"/>
<circle cx="389.0" cy="378.0" r="1.2" fill="#7fbfe0"/>
<circle cx="391.0" cy="394.0" r="1.2" fill="#7fbfe0"/>
<circle cx="387.0" cy="405.0" r="1.2" fill="#7fbfe0"/>
<circle cx="384.0" cy="411.0" r="1.2" fill="#7fbfe0"/>
<circle cx="379.0" cy="412.0" r="1.2" fill="#7fbfe0"/>
<circle cx="371.0" cy="411.0" r="1.2" fill="#7fbfe0"/>
<circle cx="373.0" cy="418.0" r="1.2" fill="#7fbfe0"/>
<circle cx="376.0" cy="413.0" r="1.2" fill="#7fbfe0"/>
<circle cx="369.0" cy="395.0" r="1.2" fill="#7fbfe0"/>
<circle cx="375.0" cy="403.0" r="1.2" fill="#7fbfe0"/>
<circle cx="382.0" cy="418.0" r="1.2" fill="#7fbfe0"/>
<circle cx="386.0" cy="402.0" r="1.2" fill="#7fbfe0"/>
<circle cx="390.0" cy="372.0" r="1.2" fill="#7fbfe0"/>
<circle cx="383.0" cy="375.0" r="1.2" fill="#7fbfe0"/>
<circle cx="413.0" cy="231.9" r="1.2" fill="#ee0000"/>
<circle cx="409.3" cy="259.6" r="1.2" fill="#ee0000"/>
<circle cx="401.6" cy="269.6" r="1.2" fill="#ee0000"/>
<circle cx="403.4" cy="335.6" r="1.2" fill="#ee0000"/>
<circle cx="404.8" cy="339.0" r="1.2" fill="#ee0000"/>
<circle cx="419.5" cy="307.4" r="1.2" fill="#ee0000"/>
<circle cx="423.2" cy="310.0" r="1.2" fill="#ee0000"/>
<circle cx="450.3" cy="214.9" r="1.2" fill="#f8c040"/>
<circle cx="442.5" cy="224.3" r="1.2" fill="#f8c040"/>
<circle cx="450.8" cy="228.4" r="1.2" fill="#f8c040"/>
<circle cx="451.4" cy="229.3" r="1.2" fill="#f8c040"/>
<circle cx="446.6" cy="247.8" r="1.2" fill="#f8c040"/>
<circle cx="450.1" cy="246.3" r="1.2" fill="#f8c040"/>
<circle cx="451.8" cy="254.6" r="1.2" fill="#f8c040"/>
<circle cx="438.5" cy="266.2" r="1.2" fill="#f8c040"/>
<circle cx="441.4" cy="265.1" r="1.2" fill="#f8c040"/>
<circle cx="443.6" cy="277.3" r="1.2" fill="#f8c040"/>
<circle cx="429.6" cy="279.5" r="1.2" fill="#f8c040"/>
<circle cx="448.4" cy="287.8" r="1.2" fill="#f8c040"/>
<circle cx="448.4" cy="293.0" r="1.2" fill="#f8c040"/>
<circle cx="449.0" cy="297.0" r="1.2" fill="#f8c040"/>
<circle cx="449.4" cy="303.0" r="1.2" fill="#f8c040"/>
<circle cx="447.6" cy="322.0" r="1.2" fill="#f8c040"/>
<circle cx="438.2" cy="311.0" r="1.2" fill="#f8c040"/>
<circle cx="446.7" cy="315.2" r="1.2" fill="#f8c040"/>
<circle cx="429.3" cy="356.3" r="1.2" fill="#f8c040"/>
<circle cx="450.7" cy="354.6" r="1.2" fill="#f8c040"/>
<circle cx="445.4" cy="334.6" r="1.2" fill="#f8c040"/>
<circle cx="448.1" cy="368.1" r="1.2" fill="#f8c040"/>
<circle cx="432.1" cy="393.6" r="1.2" fill="#f8c040"/>
<circle cx="436.0" cy="375.0" r="1.2" fill="#f8c040"/>
<circle cx="437.0" cy="381.0" r="1.2" fill="#f8c040"/>
<circle cx="443.8" cy="398.0" r="1.2" fill="#f8c040"/>
<circle cx="434.0" cy="386.0" r="1.2" fill="#f8c040"/>
<circle cx="429.5" cy="419.8" r="1.2" fill="#f8c040"/>
<circle cx="439.5" cy="413.0" r="1.2" fill="#f8c040"/>
<circle cx="449.0" cy="397.0" r="1.2" fill="#f8c040"/>
<circle cx="476.5" cy="290.0" r="1.2" fill="#f8d840"/>
<circle cx="476.8" cy="290.0" r="1.2" fill="#f8d840"/>
<circle cx="467.5" cy="316.0" r="1.2" fill="#f8d840"/>
<circle cx="465.6" cy="332.7" r="1.2" fill="#f8d840"/>
<circle cx="471.0" cy="338.0" r="1.2" fill="#f8d840"/>
<circle cx="468.8" cy="355.8" r="1.2" fill="#f8d840"/>
<circle cx="473.1" cy="351.6" r="1.2" fill="#f8d840"/>
<circle cx="470.6" cy="366.9" r="1.2" fill="#f8d840"/>
<circle cx="463.5" cy="374.8" r="1.2" fill="#f8d840"/>
<circle cx="475.2" cy="373.4" r="1.2" fill="#f8d840"/>
<circle cx="461.4" cy="405.1" r="1.2" fill="#f8d840"/>
<circle cx="465.0" cy="408.3" r="1.2" fill="#f8d840"/>
<circle cx="474.8" cy="401.6" r="1.2" fill="#f8d840"/>
<circle cx="469.5" cy="410.0" r="1.2" fill="#f8d840"/>
<circle cx="471.0" cy="398.0" r="1.2" fill="#f8d840"/>
<circle cx="502.3" cy="263.5" r="1.2" fill="#f59a30"/>
<circle cx="497.5" cy="282.7" r="1.2" fill="#f59a30"/>
<circle cx="502.7" cy="287.8" r="1.2" fill="#f59a30"/>
<circle cx="502.7" cy="292.6" r="1.2" fill="#f59a30"/>
<circle cx="491.0" cy="300.0" r="1.2" fill="#f59a30"/>
<circle cx="492.2" cy="316.2" r="1.2" fill="#f59a30"/>
<circle cx="487.3" cy="338.3" r="1.2" fill="#f59a30"/>
<circle cx="498.4" cy="333.2" r="1.2" fill="#f59a30"/>
<circle cx="503.8" cy="336.3" r="1.2" fill="#f59a30"/>
<circle cx="489.7" cy="351.4" r="1.2" fill="#f59a30"/>
<circle cx="491.1" cy="346.2" r="1.2" fill="#f59a30"/>
<circle cx="495.0" cy="363.0" r="1.2" fill="#f59a30"/>
<circle cx="505.2" cy="355.3" r="1.2" fill="#f59a30"/>
<circle cx="506.0" cy="357.0" r="1.2" fill="#f59a30"/>
<circle cx="488.7" cy="392.3" r="1.2" fill="#f59a30"/>
<circle cx="505.2" cy="404.7" r="1.2" fill="#f59a30"/>
<circle cx="502.5" cy="420.4" r="1.2" fill="#f59a30"/>
<circle cx="497.5" cy="419.5" r="1.2" fill="#f59a30"/>
<circle cx="503.8" cy="298.0" r="1.2" fill="#f59a30"/>
<circle cx="529.1" cy="263.3" r="1.2" fill="#a8d8a0"/>
<circle cx="528.5" cy="277.7" r="1.2" fill="#a8d8a0"/>
<circle cx="531.9" cy="280.8" r="1.2" fill="#a8d8a0"/>
<circle cx="518.6" cy="296.3" r="1.2" fill="#a8d8a0"/>
<circle cx="519.0" cy="303.0" r="1.2" fill="#a8d8a0"/>
<circle cx="533.2" cy="308.3" r="1.2" fill="#a8d8a0"/>
<circle cx="535.0" cy="318.0" r="1.2" fill="#a8d8a0"/>
<circle cx="515.0" cy="368.0" r="1.2" fill="#a8d8a0"/>
<circle cx="520.0" cy="374.0" r="1.2" fill="#a8d8a0"/>
<circle cx="524.0" cy="372.0" r="1.2" fill="#a8d8a0"/>
<circle cx="531.0" cy="367.0" r="1.2" fill="#a8d8a0"/>
<circle cx="533.0" cy="390.0" r="1.2" fill="#a8d8a0"/>
<circle cx="520.0" cy="398.0" r="1.2" fill="#a8d8a0"/>
<circle cx="527.0" cy="404.0" r="1.2" fill="#a8d8a0"/>
<circle cx="540.0" cy="402.0" r="1.2" fill="#a8d8a0"/>
<circle cx="537.0" cy="396.0" r="1.2" fill="#a8d8a0"/>
<circle cx="529.0" cy="377.0" r="1.2" fill="#a8d8a0"/>
<circle cx="536.0" cy="381.0" r="1.2" fill="#a8d8a0"/>
<circle cx="546.3" cy="265.7" r="1.2" fill="#b4d84c"/>
<circle cx="557.0" cy="320.0" r="1.2" fill="#b4d84c"/>
<circle cx="560.0" cy="318.0" r="1.2" fill="#b4d84c"/>
<circle cx="548.0" cy="337.0" r="1.2" fill="#b4d84c"/>
<circle cx="553.6" cy="342.2" r="1.2" fill="#b4d84c"/>
<circle cx="555.0" cy="330.0" r="1.2" fill="#b4d84c"/>
<circle cx="540.0" cy="395.0" r="1.2" fill="#b4d84c"/>
<circle cx="546.0" cy="386.0" r="1.2" fill="#b4d84c"/>
<circle cx="549.0" cy="393.0" r="1.2" fill="#b4d84c"/>
<circle cx="547.0" cy="374.0" r="1.2" fill="#b4d84c"/>
<circle cx="544.0" cy="381.0" r="1.2" fill="#b4d84c"/>
<circle cx="561.0" cy="381.0" r="1.2" fill="#b4d84c"/>
<circle cx="556.0" cy="386.0" r="1.2" fill="#b4d84c"/>
<circle cx="543.0" cy="402.0" r="1.2" fill="#b4d84c"/>
<circle cx="558.0" cy="404.0" r="1.2" fill="#b4d84c"/>
<circle cx="560.0" cy="399.0" r="1.2" fill="#b4d84c"/>
<circle cx="545.0" cy="412.0" r="1.2" fill="#b4d84c"/>
<circle cx="548.0" cy="410.0" r="1.2" fill="#b4d84c"/>
<circle cx="552.0" cy="413.0" r="1.2" fill="#b4d84c"/>
<circle cx="571.5" cy="349.3" r="1.2" fill="#f040e0"/>
<circle cx="573.6" cy="374.3" r="1.2" fill="#f040e0"/>
<circle cx="575.6" cy="373.2" r="1.2" fill="#f040e0"/>
<circle cx="577.9" cy="358.9" r="1.2" fill="#f040e0"/>
<circle cx="585.1" cy="359.8" r="1.2" fill="#f040e0"/>
<circle cx="591.3" cy="356.9" r="1.2" fill="#f040e0"/>
<circle cx="586.7" cy="390.8" r="1.2" fill="#f040e0"/>
<circle cx="577.3" cy="389.0" r="1.2" fill="#f040e0"/>
<circle cx="586.9" cy="396.1" r="1.2" fill="#f040e0"/>
<circle cx="578.0" cy="403.0" r="1.2" fill="#f040e0"/>
<circle cx="587.0" cy="395.0" r="1.2" fill="#f040e0"/>
<circle cx="590.0" cy="402.0" r="1.2" fill="#f040e0"/>
<circle cx="569.5" cy="404.8" r="1.2" fill="#f040e0"/>
<circle cx="576.0" cy="411.0" r="1.2" fill="#f040e0"/>
<circle cx="591.6" cy="411.6" r="1.2" fill="#f040e0"/>
<circle cx="577.6" cy="417.8" r="1.2" fill="#f040e0"/>
<circle cx="585.0" cy="382.0" r="1.2" fill="#f040e0"/>
<circle cx="601.3" cy="332.8" r="1.2" fill="#3a9ee0"/>
<circle cx="602.8" cy="348.2" r="1.2" fill="#3a9ee0"/>
<circle cx="605.7" cy="356.0" r="1.2" fill="#3a9ee0"/>
<circle cx="608.3" cy="355.3" r="1.2" fill="#3a9ee0"/>
<circle cx="607.0" cy="367.0" r="1.2" fill="#3a9ee0"/>
<circle cx="611.5" cy="360.0" r="1.2" fill="#3a9ee0"/>
<circle cx="603.6" cy="371.8" r="1.2" fill="#3a9ee0"/>
<circle cx="609.6" cy="374.5" r="1.2" fill="#3a9ee0"/>
<circle cx="612.7" cy="363.7" r="1.2" fill="#3a9ee0"/>
<circle cx="620.8" cy="371.3" r="1.2" fill="#3a9ee0"/>
<circle cx="620.6" cy="375.6" r="1.2" fill="#3a9ee0"/>
<circle cx="620.9" cy="382.3" r="1.2" fill="#3a9ee0"/>
<circle cx="612.0" cy="389.0" r="1.2" fill="#3a9ee0"/>
<circle cx="604.0" cy="391.0" r="1.2" fill="#3a9ee0"/>
<circle cx="600.5" cy="395.0" r="1.2" fill="#3a9ee0"/>
<circle cx="618.0" cy="391.0" r="1.2" fill="#3a9ee0"/>
<circle cx="621.0" cy="393.0" r="1.2" fill="#3a9ee0"/>
<circle cx="600.0" cy="403.0" r="1.2" fill="#3a9ee0"/>
<circle cx="604.7" cy="403.5" r="1.2" fill="#3a9ee0"/>
<circle cx="613.0" cy="402.0" r="1.2" fill="#3a9ee0"/>
<circle cx="619.0" cy="406.0" r="1.2" fill="#3a9ee0"/>
<circle cx="604.0" cy="414.0" r="1.2" fill="#3a9ee0"/>
<circle cx="610.0" cy="418.0" r="1.2" fill="#3a9ee0"/>
<circle cx="615.0" cy="417.0" r="1.2" fill="#3a9ee0"/>
<circle cx="646.4" cy="273.4" r="1.2" fill="#f8e0a0"/>
<circle cx="634.2" cy="334.5" r="1.2" fill="#f8e0a0"/>
<circle cx="632.6" cy="350.5" r="1.2" fill="#f8e0a0"/>
<circle cx="646.6" cy="363.5" r="1.2" fill="#f8e0a0"/>
<circle cx="645.0" cy="385.8" r="1.2" fill="#f8e0a0"/>
<circle cx="633.0" cy="405.0" r="1.2" fill="#f8e0a0"/>
<circle cx="634.0" cy="409.0" r="1.2" fill="#f8e0a0"/>
<circle cx="613.2" cy="286.0" r="1.2" fill="#a0a0a0"/>
<circle cx="471.1" cy="281.4" r="1.2" fill="#a0a0a0"/>
<circle cx="409.7" cy="298.5" r="1.2" fill="#a0a0a0"/>
<circle cx="671.0" cy="223.6" r="1.2" fill="#f8b0e0"/>
<circle cx="663.4" cy="240.2" r="1.2" fill="#f8b0e0"/>
<circle cx="675.0" cy="263.3" r="1.2" fill="#f8b0e0"/>
<circle cx="679.6" cy="264.7" r="1.2" fill="#f8b0e0"/>
<circle cx="656.6" cy="270.3" r="1.2" fill="#f8b0e0"/>
<circle cx="659.7" cy="270.3" r="1.2" fill="#f8b0e0"/>
<circle cx="677.4" cy="272.7" r="1.2" fill="#f8b0e0"/>
<circle cx="659.0" cy="279.1" r="1.2" fill="#f8b0e0"/>
<circle cx="678.4" cy="280.0" r="1.2" fill="#f8b0e0"/>
<circle cx="672.4" cy="286.0" r="1.2" fill="#f8b0e0"/>
<circle cx="665.4" cy="296.0" r="1.2" fill="#f8b0e0"/>
<circle cx="680.0" cy="294.0" r="1.2" fill="#f8b0e0"/>
<circle cx="657.4" cy="315.8" r="1.2" fill="#f8b0e0"/>
<circle cx="678.4" cy="321.7" r="1.2" fill="#f8b0e0"/>
<circle cx="676.0" cy="318.0" r="1.2" fill="#f8b0e0"/>
<circle cx="659.0" cy="336.0" r="1.2" fill="#f8b0e0"/>
<circle cx="663.0" cy="349.0" r="1.2" fill="#f8b0e0"/>
<circle cx="670.0" cy="347.0" r="1.2" fill="#f8b0e0"/>
<circle cx="675.0" cy="349.0" r="1.2" fill="#f8b0e0"/>
<circle cx="671.0" cy="355.0" r="1.2" fill="#f8b0e0"/>
<circle cx="666.0" cy="361.0" r="1.2" fill="#f8b0e0"/>
<circle cx="673.5" cy="373.0" r="1.2" fill="#f8b0e0"/>
<circle cx="678.6" cy="374.0" r="1.2" fill="#f8b0e0"/>
<circle cx="666.0" cy="379.0" r="1.2" fill="#f8b0e0"/>
<circle cx="673.0" cy="379.0" r="1.2" fill="#f8b0e0"/>
<circle cx="676.0" cy="381.0" r="1.2" fill="#f8b0e0"/>
<circle cx="664.0" cy="386.0" r="1.2" fill="#f8b0e0"/>
<circle cx="670.0" cy="383.0" r="1.2" fill="#f8b0e0"/>
<circle cx="657.0" cy="370.0" r="1.2" fill="#f8b0e0"/>
<circle cx="680.0" cy="360.0" r="1.2" fill="#f8b0e0"/>
<text x="380.70" y="289.80" font-size="5.6" text-anchor="middle" fill="#111" >GLP</text>
<text x="437.00" y="212.30" font-size="5.6" text-anchor="middle" fill="#111" >27</text>
<text x="444.00" y="221.20" font-size="5.6" text-anchor="middle" fill="#111" >15</text>
<text x="434.80" y="228.40" font-size="5.6" text-anchor="middle" fill="#111" >19</text>
<text x="444.00" y="235.80" font-size="5.6" text-anchor="middle" fill="#111" >16</text>
<text x="437.40" y="244.20" font-size="5.6" text-anchor="middle" fill="#111" >22</text>
<text x="435.70" y="252.90" font-size="5.6" text-anchor="middle" fill="#111" >19</text>
<text x="446.20" y="252.60" font-size="5.6" text-anchor="middle" fill="#111" >10</text>
<text x="444.40" y="262.70" font-size="5.6" text-anchor="middle" fill="#111" >19</text>
<text x="437.90" y="275.10" font-size="5.6" text-anchor="middle" fill="#111" >19</text>
<text x="435.70" y="285.80" font-size="5.6" text-anchor="middle" fill="#111" >22</text>
<text x="445.70" y="285.60" font-size="5.6" text-anchor="middle" fill="#111" >19</text>
<text x="446.20" y="293.20" font-size="5.6" text-anchor="middle" fill="#111" >19</text>
<text x="435.20" y="296.90" font-size="5.6" text-anchor="middle" fill="#111" >22</text>
<text x="446.20" y="300.00" font-size="5.6" text-anchor="middle" fill="#111" >19</text>
<text x="412.50" y="332.60" font-size="5.6" text-anchor="middle" fill="#111" >bHLH93</text>
<text x="433.20" y="306.60" font-size="5.6" text-anchor="middle" fill="#111" >LEG1</text>
<text x="434.40" y="317.80" font-size="5.6" text-anchor="middle" fill="#111" >TIP</text>
<text x="446.10" y="317.80" font-size="5.6" text-anchor="middle" fill="#111" >22</text>
<text x="434.90" y="383.10" font-size="5.6" text-anchor="middle" fill="#111" >O2</text>
<text x="445.00" y="408.30" font-size="5.6" text-anchor="middle" fill="#111" >PBF1</text>
<text x="466.10" y="296.00" font-size="5.6" text-anchor="middle" fill="#111" >SH1</text>
<text x="466.10" y="313.80" font-size="5.6" text-anchor="middle" fill="#111" >SH2</text>
<text x="466.10" y="325.60" font-size="5.6" text-anchor="middle" fill="#111" >BT2</text>
<text x="464.50" y="335.90" font-size="5.6" text-anchor="middle" fill="#111" >BT1</text>
<text x="473.10" y="350.20" font-size="5.6" text-anchor="middle" fill="#111" >NAC130</text>
<text x="462.60" y="361.80" font-size="5.6" text-anchor="middle" fill="#111" >ITP</text>
<text x="476.70" y="373.00" font-size="5.6" text-anchor="middle" fill="#111" >SS1</text>
<text x="478.50" y="408.30" font-size="5.6" text-anchor="middle" fill="#111" >DBE1</text>
<text x="501.40" y="260.90" font-size="5.6" text-anchor="middle" fill="#111" >MLP</text>
<text x="501.20" y="280.20" font-size="5.6" text-anchor="middle" fill="#111" >SCI</text>
<text x="490.80" y="297.20" font-size="5.6" text-anchor="middle" fill="#111" >AL9</text>
<text x="493.10" y="306.10" font-size="5.6" text-anchor="middle" fill="#111" >LTP</text>
<text x="522.60" y="269.20" font-size="5.6" text-anchor="middle" fill="#111" >DLP2</text>
<text x="558.10" y="263.10" font-size="5.6" text-anchor="middle" fill="#111" >LEA</text>
<text x="534.60" y="276.20" font-size="5.6" text-anchor="middle" fill="#111" >DLP1</text>
<text x="529.80" y="293.70" font-size="5.6" text-anchor="middle" fill="#111" >GLB2</text>
<text x="518.40" y="304.00" font-size="5.6" text-anchor="middle" fill="#111" >OLE2</text>
<text x="535.00" y="305.30" font-size="5.6" text-anchor="middle" fill="#111" >OLE1</text>
<text x="518.90" y="311.80" font-size="5.6" text-anchor="middle" fill="#111" >VCL</text>
<text x="532.60" y="326.50" font-size="5.6" text-anchor="middle" fill="#111" >OBP2</text>
<text x="515.20" y="333.50" font-size="5.6" text-anchor="middle" fill="#111" >OBP1</text>
<text x="535.00" y="334.80" font-size="5.6" text-anchor="middle" fill="#111" >GLB1</text>
<text x="518.00" y="340.50" font-size="5.6" text-anchor="middle" fill="#111" >OLE4</text>
<text x="533.20" y="340.90" font-size="5.6" text-anchor="middle" fill="#111" >ACP</text>
<text x="536.00" y="349.20" font-size="5.6" text-anchor="middle" fill="#111" >FAD2</text>
<text x="518.40" y="351.40" font-size="5.6" text-anchor="middle" fill="#111" >ACP</text>
<text x="517.50" y="357.50" font-size="5.6" text-anchor="middle" fill="#111" >FAT</text>
<text x="532.20" y="356.60" font-size="5.6" text-anchor="middle" fill="#111" >PK</text>
<text x="517.80" y="365.50" font-size="5.6" text-anchor="middle" fill="#111" >ACP</text>
<text x="534.00" y="364.40" font-size="5.6" text-anchor="middle" fill="#111" >ACP</text>
<text x="512.80" y="373.20" font-size="5.6" text-anchor="middle" fill="#111" >ACP</text>
<text x="539.60" y="371.70" font-size="5.6" text-anchor="middle" fill="#111" >ACCase1</text>
<text x="494.40" y="376.90" font-size="5.6" text-anchor="middle" fill="#111" >ACCase2</text>
<text x="517.50" y="380.20" font-size="5.6" text-anchor="middle" fill="#111" >WRI1</text>
<text x="534.00" y="378.80" font-size="5.6" text-anchor="middle" fill="#111" >VCL</text>
<text x="517.10" y="388.00" font-size="5.6" text-anchor="middle" fill="#111" >SAD</text>
<text x="535.00" y="387.00" font-size="5.6" text-anchor="middle" fill="#111" >PDC</text>
<text x="516.50" y="395.00" font-size="5.6" text-anchor="middle" fill="#111" >FAT</text>
<text x="534.00" y="394.50" font-size="5.6" text-anchor="middle" fill="#111" >ACP</text>
<text x="535.40" y="401.90" font-size="5.6" text-anchor="middle" fill="#111" >WRI2</text>
<text x="517.00" y="407.00" font-size="5.6" text-anchor="middle" fill="#111" >ACP</text>
<text x="537.30" y="409.40" font-size="5.6" text-anchor="middle" fill="#111" >LACS</text>
<text x="516.60" y="414.80" font-size="5.6" text-anchor="middle" fill="#111" >DGAT</text>
<text x="579.70" y="354.50" font-size="5.6" text-anchor="middle" fill="#111" >PTP</text>
<text x="579.10" y="380.00" font-size="5.6" text-anchor="middle" fill="#111" >SWT11a</text>
<text x="584.30" y="387.40" font-size="5.6" text-anchor="middle" fill="#111" >SWT15a</text>
<text x="571.40" y="396.20" font-size="5.6" text-anchor="middle" fill="#111" >SWT14b</text>
<text x="593.50" y="408.60" font-size="5.6" text-anchor="middle" fill="#111" >SWT4b</text>
<text x="617.80" y="336.80" font-size="5.6" text-anchor="middle" fill="#111" >ITP</text>
<text x="598.50" y="366.40" font-size="5.6" text-anchor="middle" fill="#111" >SWT11</text>
<text x="623.00" y="368.60" font-size="5.6" text-anchor="middle" fill="#111" >SWT10</text>
<text x="639.40" y="368.60" font-size="5.6" text-anchor="middle" fill="#111" >FL3</text>
<text x="599.40" y="380.20" font-size="5.6" text-anchor="middle" fill="#111" >SWT4</text>
<text x="641.00" y="420.50" font-size="5.6" text-anchor="middle" fill="#111" >SPS3</text>
<text x="636.50" y="278.70" font-size="5.6" text-anchor="middle" fill="#111" >SDH</text>
<text x="671.70" y="221.00" font-size="5.6" text-anchor="middle" fill="#111" >LTP</text>
<text x="672.30" y="238.10" font-size="5.6" text-anchor="middle" fill="#111" >BETL9</text>
<text x="664.90" y="260.80" font-size="5.6" text-anchor="middle" fill="#111" >BAP2</text>
<text x="675.00" y="267.70" font-size="5.6" text-anchor="middle" fill="#111" >BETL10</text>
<text x="659.90" y="278.20" font-size="5.6" text-anchor="middle" fill="#111" >DLP6</text>
<text x="672.30" y="287.00" font-size="5.6" text-anchor="middle" fill="#111" >SUSRP</text>
<text x="672.30" y="297.70" font-size="5.6" text-anchor="middle" fill="#111" >SWT4c</text>
<text x="655.70" y="304.90" font-size="5.6" text-anchor="middle" fill="#111" >BETL3</text>
<text x="675.00" y="309.90" font-size="5.6" text-anchor="middle" fill="#111" >BETL4</text>
<text x="676.00" y="317.80" font-size="5.6" text-anchor="middle" fill="#111" >CWIN2</text>
<text x="664.90" y="347.00" font-size="5.6" text-anchor="middle" fill="#111" >NTF</text>
<text x="672.30" y="359.40" font-size="5.6" text-anchor="middle" fill="#111" >NTP</text>
<text x="676.90" y="373.20" font-size="5.6" text-anchor="middle" fill="#111" >SUT7</text>
<text x="664.90" y="385.20" font-size="5.6" text-anchor="middle" fill="#111" >SUT1</text>
<line x1="526" y1="340" x2="526" y2="372" stroke="#000" stroke-width="1"/>
<line x1="526" y1="372" x2="530" y2="384" stroke="#000" stroke-width="1"/>
<line x1="500" y1="377" x2="523" y2="371.5" stroke="#000" stroke-width="1"/>
<line x1="538" y1="402" x2="540" y2="408" stroke="#000" stroke-width="1"/>
<line x1="661" y1="302" x2="665" y2="306" stroke="#000" stroke-width="1"/>
<line x1="601" y1="377" x2="604" y2="368" stroke="#000" stroke-width="1"/>
<line x1="583" y1="394" x2="584" y2="399" stroke="#000" stroke-width="1"/>
<line x1="666" y1="377" x2="668" y2="370" stroke="#000" stroke-width="1"/>
<line x1="661" y1="302" x2="665" y2="306" stroke="#000" stroke-width="1"/>
<polygon points="497.6,298.5 495.9,302.8 499.3,302.8" fill="#000"/>
</svg></body></html>
